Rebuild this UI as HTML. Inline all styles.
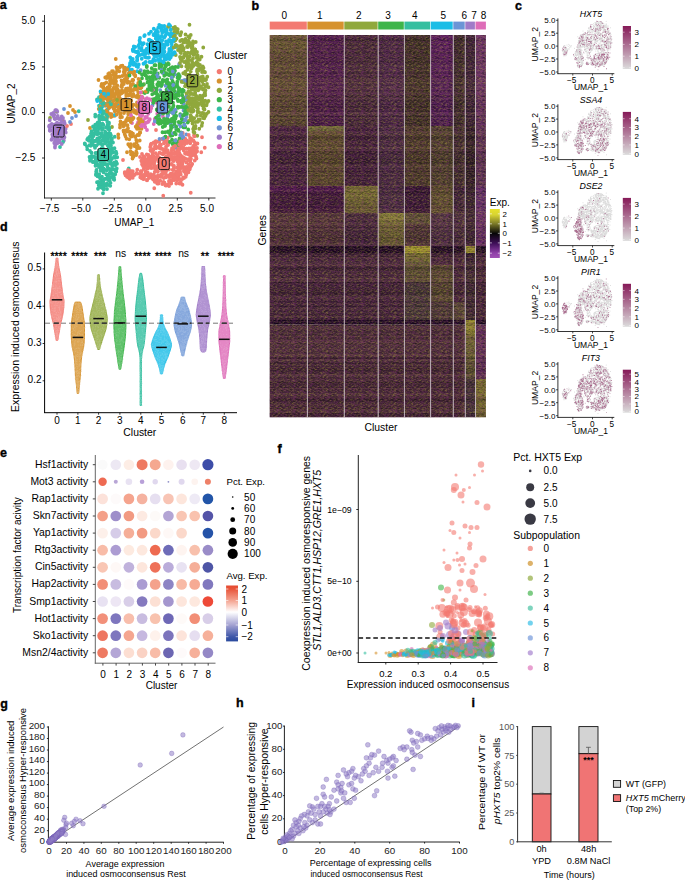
<!DOCTYPE html>
<html><head><meta charset="utf-8"><style>
html,body{margin:0;padding:0;background:#fff;}
svg{display:block;font-family:"Liberation Sans", sans-serif;}
</style></head><body>
<svg width="685" height="880" viewBox="0 0 685 880">
<rect width="685" height="880" fill="#fff"/>
<text x="-0.3" y="9.3" font-size="12.5" font-weight="bold" stroke="#000" stroke-width="0.35">a</text><line x1="44.5" y1="15" x2="44.5" y2="198.4" stroke="#000" stroke-width="0.8"/><line x1="44.1" y1="198" x2="215.5" y2="198" stroke="#000" stroke-width="0.8"/><line x1="42" y1="21.2" x2="44.5" y2="21.2" stroke="#000" stroke-width="0.8"/><text x="35.3" y="24" font-size="10" text-anchor="end">5.0</text><line x1="42" y1="66.9" x2="44.5" y2="66.9" stroke="#000" stroke-width="0.8"/><text x="35.3" y="69.7" font-size="10" text-anchor="end">2.5</text><line x1="42" y1="112.6" x2="44.5" y2="112.6" stroke="#000" stroke-width="0.8"/><text x="35.3" y="115.4" font-size="10" text-anchor="end">0.0</text><line x1="42" y1="158" x2="44.5" y2="158" stroke="#000" stroke-width="0.8"/><text x="35.3" y="160.8" font-size="10" text-anchor="end">−2.5</text><line x1="51.3" y1="198" x2="51.3" y2="200.5" stroke="#000" stroke-width="0.8"/><text x="49.5" y="211.8" font-size="10" text-anchor="middle">−7.5</text><line x1="82.8" y1="198" x2="82.8" y2="200.5" stroke="#000" stroke-width="0.8"/><text x="81" y="211.8" font-size="10" text-anchor="middle">−5.0</text><line x1="114.3" y1="198" x2="114.3" y2="200.5" stroke="#000" stroke-width="0.8"/><text x="112.5" y="211.8" font-size="10" text-anchor="middle">−2.5</text><line x1="145.8" y1="198" x2="145.8" y2="200.5" stroke="#000" stroke-width="0.8"/><text x="144" y="211.8" font-size="10" text-anchor="middle">0.0</text><line x1="177.3" y1="198" x2="177.3" y2="200.5" stroke="#000" stroke-width="0.8"/><text x="175.5" y="211.8" font-size="10" text-anchor="middle">2.5</text><line x1="208.8" y1="198" x2="208.8" y2="200.5" stroke="#000" stroke-width="0.8"/><text x="207" y="211.8" font-size="10" text-anchor="middle">5.0</text><text x="134.2" y="226.3" font-size="10" text-anchor="middle">UMAP_1</text><text x="14.6" y="103.4" font-size="10" text-anchor="middle" transform="rotate(-90 14.6 103.4)">UMAP_2</text><path transform="scale(0.25)" d="M808 549h0m-60 23h0m-10-4h0m-44 7h0m-66-8h0m-6 6h0m-19 9h0m61 9h0m0-4h0m7-9h0m30 11h0m72-5h0m8-4h0m38 11h0m-31 14h0m-4-1h0m-2-9h0m-62 0h0m-10 8h0m0 3h0m-23-5h0m-23 4h0m-62-4h0m-15 17h0m86-2h0m86-7h0m5 0h0m10 6h0m-43 14h0m-1 3h0m-30-2h0m-11-1h0m-22 11h0m-47-2h0m-17-6h0m-43-4h0m14 21h0m3 4h0m4-10h0m5 5h0m9 5h0m21 0h0m17-7h0m13-1h0m18 2h0m4-7h0m10 0h0m45 8h0m11-4h0m24-3h0m11 15h0m-4 7h0m-10-5h0m-2 12h0m-19-2h0m-13-10h0m-52 6h0m-48 8h0m-4-7h0m-26 0h0m-1 2h0m-59 18h0m51 2h0m25-15h0m24 13h0m17-2h0m2 1h0m14 2h0m12-8h0m15 1h0m25 2h0m23-2h0m10-5h0m2 2h0m2-2h0m-32 21h0m-15-2h0m-7 3h0m-9 0h0m-7-1h0m-2 7h0m-2-1h0m-15-1h0m-9-10h0m-23 11h0m-28 2h0m-1-6h0m-71 5h0m42 14h0m68-11h0m3 1h0m10 6h0m43 8h0m20-4h0m-42 11h0m0-3h0m-47-2h0m42 17h0" stroke="#F37A72" stroke-width="15.2" stroke-linecap="round"/><path transform="scale(0.25)" d="M484 264h0m6-1h0m10 8h0m18 11h0m-9-8h0m-40 9h0m-17 2h0m-4 0h0m15 10h0m36-6h0m0 9h0m11 6h0m-46 2h0m-70 14h0m23 15h0m34-5h0m5 6h0m33-6h0m21-4h0m20-5h0m12 30h0m-16-11h0m-113 12h0m1 15h0m34-5h0m23-3h0m17 3h0m23-5h0m10 2h0m0 9h0m26-16h0m1 7h0m5 10h0m-2 12h0m-2 2h0m-24-3h0m-8 0h0m-12 3h0m-39-15h0m-21 16h0m-8-14h0m-20 13h0m23 7h0m34-3h0m5 7h0m91-4h0m-81 13h0m-12-1h0m-39 5h0m-7-6h0m-2 14h0m5 10h0m24 3h0m7-7h0m6 7h0m6 3h0m10-4h0m11 1h0m16-4h0m34-4h0m18-4h0m-64 27h0m-28 1h0m-79-8h0m-123 16h0m159 0h0m16 5h0m115 16h0m-6 5h0m-40-1h0m-35-8h0m-37-1h0m51 23h0m64 9h0m-5-3h0m-5 1h0m-69 1h0m14 23h0m1 2h0m55-12h0m6 3h0m-29 18h0m-28 4h0m7 18h0m12 29h0m11 27h0m1 5h0m15 4h0m-11 7h0m-3 1h0m-1 6h0" stroke="#D6922E" stroke-width="15.2" stroke-linecap="round"/><path transform="scale(0.25)" d="M673 107h0m23 8h0m-5 30h0m43 25h0m19-7h0m6 19h0m-8 6h0m0-4h0m-31 5h0m0-4h0m-3 12h0m58 3h0m5 3h0m11 19h0m-3-14h0m-10 9h0m-2-8h0m-52 3h0m-21 8h0m83 11h0m6 24h0m-35-15h0m-4 2h0m-25 1h0m17 23h0m2-9h0m8 9h0m26-9h0m13 7h0m4 1h0m2-5h0m-50 19h0m8 20h0m48 21h0m-3-11h0m-67 18h0m5-6h0m2 15h0m91 13h0m-20-11h0m-48 3h0m1 12h0m23-1h0m7 4h0m15 2h0m-34 20h0m-17-6h0m22 22h0m7 1h0m8-5h0m3 6h0m-19 16h0m-20 4h0m-31 9h0m23 4h0m20-5h0m35-2h0m7 0h0m18 26h0m-60-4h0m14 19h0m3-13h0m36 5h0m-12 12h0m-21 13h0m-32-9h0m8 23h0m12-6h0m27 4h0m-361 16h0m341 35h0" stroke="#90A83C" stroke-width="15.2" stroke-linecap="round"/><path transform="scale(0.25)" d="M648 255h0m-61 9h0m51 1h0m62 18h0m-62-11h0m-31 1h0m-37 25h0m115-2h0m29 10h0m-77 5h0m-13 4h0m-56-2h0m42 11h0m0 10h0m41-14h0m1 7h0m7-5h0m50 5h0m-30 14h0m-7 10h0m0-8h0m-61 1h0m-11 4h0m-1-8h0m-23-3h0m-15 16h0m41 6h0m18 1h0m4 2h0m2-2h0m73 5h0m36-2h0m-117 8h0m-9 6h0m70 7h0m25 4h0m6 10h0m22 4h0m-117 0h0m61 25h0m35 0h0m17 1h0m18 11h0m-64 8h0m-23-2h0m-32-7h0m6 17h0m10-1h0m27 3h0m51 0h0m-83 19h0m-7 2h0m-3 6h0m42-1h0m3-3h0m20 26h0m20 17h0m40-5h0m-63 23h0m22 34h0m-9-14h0m-30 5h0" stroke="#3DB54A" stroke-width="15.2" stroke-linecap="round"/><path transform="scale(0.25)" d="M431 370h0m-43 28h0m25-9h0m29 11h0m-2 14h0m-41 20h0m-18 25h0m29-3h0m1-4h0m14 24h0m-5 0h0m-6-5h0m-8-1h0m-8 8h0m-17-12h0m17 26h0m26 18h0m-22-1h0m-8-3h0m-28 19h0m24 1h0m6-10h0m40 3h0m1-3h0m-1 17h0m-6 9h0m-5-8h0m-51 5h0m85 8h0m-32 21h0m-7-1h0m-28-2h0m-26 2h0m-11-7h0m-131 0h0m134 21h0m5 2h0m9-4h0m8 12h0m84 16h0m-16-13h0m-16 11h0m-7-1h0m-14-12h0m-20 19h0m58 0h0m5-2h0m15 20h0m-9-3h0m-3 1h0m-15 6h0m-11 8h0m3 2h0m8 11h0m26 1h0m-38 4h0m-12-3h0m-8 3h0m-21-3h0m-3 30h0m17-3h0m30-8h0m22 2h0m60-3h0m-91 41h0m27-4h0m-56 30h0m10-3h0m3 11h0m4 2h0m6-13h0m5 4h0m-31 13h0" stroke="#35BFA0" stroke-width="15.2" stroke-linecap="round"/><path transform="scale(0.25)" d="M639 110h0m8 2h0m-70 32h0m2-3h0m70-10h0m39 8h0m-48 10h0m-4 3h0m-6 7h0m-33 0h0m7 4h0m8 11h0m70-8h0m5 10h0m10-12h0m7 23h0m-134-8h0m-29 9h0m-9 16h0m50 0h0m15-1h0m1-1h0m13 1h0m0 4h0m15-13h0m0 10h0m11-7h0m8 10h0m42-11h0m1 21h0m-17 1h0m-41-5h0m-9 9h0m-39-7h0m-5-2h0m-17 7h0m-12-12h0m65 31h0m27-2h0m16-9h0m8 6h0m19-5h0m-41 15h0m-33 3h0m-26 1h0m-41 9h0m-115 132h0m-38 15h0" stroke="#1BBDE6" stroke-width="15.2" stroke-linecap="round"/><path transform="scale(0.25)" d="M624 301h0m75-4h0m11 6h0m-3 72h0m-97 46h0m57 22h0m21 5h0m2 4h0m8 1h0m23 10h0m-51 3h0m-382 6h0m385 13h0m66 24h0m-2-12h0m-20 0h0m-58 55h0" stroke="#6B95D6" stroke-width="15.2" stroke-linecap="round"/><path transform="scale(0.25)" d="M229 447h0m-1 1h0m20 32h0m-20 11h0m25 17h0m-14 3h0m-5-9h0m-14-4h0m-8 2h0m-1 2h0m-4-6h0m0 11h0m-6-6h0m-1 22h0m25-9h0m35 8h0m2-7h0m-32 16h0m-24 28h0m9-9h0m35 4h0m-13 15h0m-11-4h0" stroke="#A07BC8" stroke-width="15.2" stroke-linecap="round"/><path transform="scale(0.25)" d="M559 400h0m1-4h0m6-2h0m2-6h0m24 29h0m-24 16h0m-4 6h0m-3 25h0m32-9h0m26 21h0m-31-7h0m-27 1h0m-2 2h0m3 11h0m4 10h0m29-9h0m20 12h0" stroke="#DE6DB8" stroke-width="15.2" stroke-linecap="round"/><path transform="scale(0.25)" d="M790 574h0m-29-1h0m-25-13h0m-6 13h0m-8-7h0m-85 0h0m-17 8h0m18 17h0m6-12h0m28 1h0m27 4h0m13-5h0m10 7h0m65 20h0m-6-11h0m-2 7h0m-44 0h0m-25-4h0m-52 2h0m-47-3h0m-43 19h0m26 4h0m29-7h0m29 4h0m2-4h0m5-4h0m2 2h0m36 4h0m3-4h0m6 2h0m4 10h0m31-9h0m11 2h0m15 5h0m5-11h0m12 18h0m0-2h0m-46 7h0m-13-9h0m-1 5h0m-4 0h0m-17 8h0m-25-8h0m-16 2h0m-31-2h0m-1 1h0m0 3h0m-20-4h0m-5-2h0m-3 2h0m-9 0h0m-23 5h0m-78 6h0m108 11h0m16 2h0m29-8h0m14 0h0m33-3h0m18 2h0m0 2h0m51 0h0m18-4h0m-33 26h0m-5 2h0m-20-9h0m-3-2h0m-3 6h0m-2-7h0m-17 6h0m-11-8h0m-51 6h0m-14 2h0m-21 4h0m-8-7h0m-28 24h0m57-10h0m11 10h0m65-12h0m23 11h0m17-2h0m4-6h0m13 9h0m-49 12h0m-15-2h0m-17 7h0m-24-6h0m-87 0h0m-12-2h0m-14 6h0m-27-2h0m-7-5h0m13 17h0m50-2h0m10 7h0m22-9h0m5 3h0m14 10h0m49-10h0m37 7h0m4-3h0m8-8h0m-59 23h0m-13-5h0m-13 3h0m-40-5h0m78 20h0m-49 12h0" stroke="#F37A72" stroke-width="15.2" stroke-linecap="round"/><path transform="scale(0.25)" d="M527 286h0m-58-7h0m-16 20h0m9-4h0m74 2h0m-80 7h0m-11 14h0m-4-5h0m-20-3h0m-14 26h0m18-6h0m85 1h0m20-10h0m36 29h0m-13-11h0m-1 2h0m0 9h0m-29-8h0m-54 0h0m-14 9h0m-15-6h0m-1-3h0m-9 8h0m-25-6h0m62 16h0m37-5h0m7-1h0m17 7h0m42 8h0m-56 10h0m-25-8h0m-11 10h0m-1-10h0m-9 2h0m-17 8h0m-36-9h0m-6 17h0m23 10h0m9-9h0m15 10h0m73-14h0m26 2h0m9 14h0m-55 14h0m-88 1h0m21 7h0m5 1h0m44-9h0m9 6h0m22 4h0m12-7h0m14 7h0m16 6h0m5-16h0m14 21h0m-40 7h0m-35-6h0m-8 0h0m-15 1h0m-23 3h0m-36-1h0m33 22h0m37-11h0m17 5h0m56-1h0m-6 17h0m-10 2h0m-19-3h0m-4 5h0m-3-9h0m-4 3h0m-5 4h0m-70-11h0m56 21h0m59 3h0m2 6h0m-9 9h0m-76 7h0m-120 2h0m145 11h0m3 3h0m51 5h0m-3 9h0m-30 6h0m16 0h0m3 14h0m-22 17h0m4 40h0m6-3h0" stroke="#D6922E" stroke-width="15.2" stroke-linecap="round"/><path transform="scale(0.25)" d="M711 117h0m-1 9h0m11 12h0m1 0h0m20 18h0m-36-2h0m56 20h0m21-6h0m30 22h0m-86-8h0m-24 0h0m37 38h0m19 6h0m57 61h0m-9-9h0m-5-4h0m-9 9h0m-26-11h0m-26 15h0m83 30h0m-9-1h0m-4-10h0m-46 25h0m7-4h0m6-6h0m1 7h0m27-6h0m3 5h0m-5 19h0m-4-1h0m-57-3h0m11 23h0m65 6h0m-77 19h0m8-4h0m8 7h0m32 0h0m2 20h0m-12-8h0m-7 6h0m-3-5h0m-3 6h0m-3 2h0m-12 1h0m-6-14h0m23 28h0m0-13h0m23 19h0m-22 3h0m-1 9h0m-7-14h0m-6 10h0m-532 1h0m595 14h0m-20 20h0m-22-5h0m-4 0h0m-9-8h0m-10 19h0m20 30h0" stroke="#90A83C" stroke-width="15.2" stroke-linecap="round"/><path transform="scale(0.25)" d="M672 253h0m-85 15h0m31-7h0m29-1h0m17 1h0m38 7h0m-29 11h0m-22 8h0m-28-7h0m-44 11h0m25-2h0m111 8h0m1 18h0m-24-9h0m-72 1h0m14 22h0m56-5h0m2 10h0m16 1h0m23-8h0m-38 17h0m-11 7h0m-2 0h0m-37-15h0m-10 7h0m-22 7h0m-52-12h0m67 16h0m59 8h0m32-8h0m-1 28h0m-1-6h0m-10 3h0m-18 0h0m-108-7h0m73 19h0m45 1h0m37 3h0m3 7h0m-25 2h0m-81 5h0m-19-1h0m53 14h0m47 9h0m36 2h0m-11 4h0m-34 9h0m-57-10h0m-15 4h0m2 21h0m109 0h0m-47 11h0m-8 4h0m-28 2h0m-9 10h0m7 3h0m76-6h0m5 17h0m-53 9h0m-5 15h0m1 14h0m-30 15h0m78-3h0m-17 18h0" stroke="#3DB54A" stroke-width="15.2" stroke-linecap="round"/><path transform="scale(0.25)" d="M409 368h0m-11 23h0m22-3h0m-24 35h0m33-3h0m2-2h0m-35 45h0m28-5h0m2 9h0m-35 23h0m45 1h0m-6 17h0m-26-2h0m-3-2h0m-9 5h0m-10-9h0m-1-1h0m-3 12h0m59 7h0m7 25h0m-77-3h0m-3-5h0m-15 23h0m40-4h0m33-7h0m10 7h0m-53 10h0m-12 9h0m-19 13h0m61-8h0m25 26h0m-52 8h0m10 8h0m12-12h0m3 1h0m5 15h0m18-1h0m10 0h0m4 14h0m-20-1h0m-57-8h0m-9 0h0m2 15h0m31-1h0m65 9h0m-7 13h0m-19 3h0m-48-4h0m28 9h0m6 11h0m27-1h0m18 15h0m-13-4h0m-16 6h0m-7-2h0m-11-8h0m-17 8h0m-13 0h0m34 19h0m-8 7h0m-7 5h0m-10 0h0m-5 1h0m10 15h0m9-2h0m9 12h0m-1 4h0" stroke="#35BFA0" stroke-width="15.2" stroke-linecap="round"/><path transform="scale(0.25)" d="M681 104h0m-16 12h0m-69 19h0m18 5h0m7 2h0m2 1h0m5 1h0m46-8h0m35-5h0m-27 15h0m-118 26h0m78 4h0m22-10h0m19-3h0m18 25h0m-14-1h0m-16-9h0m-30 11h0m-40-10h0m-11-2h0m-55 24h0m22-9h0m29 4h0m4-1h0m60 11h0m2-14h0m4 2h0m29 6h0m5 19h0m-1-6h0m-34 4h0m-5 2h0m-12-9h0m-3 3h0m-13 2h0m-3-6h0m-42 6h0m-24-2h0m40 18h0m3-1h0m36 7h0m33 0h0m13-1h0m-42 10h0m-38 2h0m-68-1h0m-5 1h0m-1-5h0m7 14h0m21 11h0m-34 11h0m-102 100h0m-6 13h0m-3 20h0m-4-1h0m69 9h0" stroke="#1BBDE6" stroke-width="15.2" stroke-linecap="round"/><path transform="scale(0.25)" d="M718 258h0m-72 20h0m91 43h0m-75 22h0m17 16h0m13 83h0m-436-6h0m384 24h0m-9 5h0m32 16h0m68 0h0m-48 17h0m62 40h0m-107 18h0m58 9h0m4 25h0" stroke="#6B95D6" stroke-width="15.2" stroke-linecap="round"/><path transform="scale(0.25)" d="M223 441h0m-6 18h0m12 13h0m-11 2h0m26 20h0m12-9h0m-42 24h0m-15 1h0m-1-7h0m-1 4h0m20 15h0m26 21h0m-30-6h0m-3 12h0m39 4h0m5 3h0m0 7h0m-17-2h0m-8 7h0m-9-7h0m0 25h0m0 4h0m1-8h0m0-4h0" stroke="#A07BC8" stroke-width="15.2" stroke-linecap="round"/><path transform="scale(0.25)" d="M556 391h0m6-1h0m19 7h0m43 13h0m-63 4h0m21 7h0m-5 18h0m-25-1h0m16 19h0m1 4h0m60-6h0m23 12h0m-124 25h0m24-2h0m27 4h0m1 13h0m-18-6h0" stroke="#DE6DB8" stroke-width="15.2" stroke-linecap="round"/><path transform="scale(0.25)" d="M755 540h0m-105 17h0m10 2h0m81 0h0m37-14h0m-4 18h0m-15 6h0m0-4h0m-10-2h0m-13 1h0m-28 10h0m-52-1h0m-33-8h0m-3 22h0m1-5h0m16 9h0m3-13h0m30 0h0m44 8h0m13 1h0m61 5h0m-42 3h0m-37 10h0m-16-12h0m-23 14h0m-40 14h0m8-10h0m15 3h0m36 2h0m11 0h0m5-1h0m36-2h0m31 5h0m8 2h0m-17 15h0m-7 3h0m-12-2h0m-12-6h0m-2 4h0m-62 0h0m-4-5h0m-26 4h0m-23-8h0m-15 11h0m-35 7h0m1 2h0m4 0h0m1-1h0m22-2h0m7-1h0m2 6h0m9 8h0m6-9h0m25 7h0m10-11h0m109 1h0m-65 28h0m-4-10h0m-23 8h0m-15-1h0m-70 3h0m-6-7h0m-10-7h0m-2 29h0m61-6h0m31 4h0m35-4h0m12 6h0m7-1h0m4-9h0m1-3h0m19 13h0m16-5h0m7-4h0m-5 12h0m-9 10h0m-2-7h0m0 4h0m-30 7h0m-21 1h0m-40-8h0m-8 3h0m-25-11h0m-7 12h0m-21-9h0m-8 10h0m-15-1h0m-40-12h0m-29 1h0m20 26h0m8-7h0m116-1h0m33 1h0m16 7h0m1-8h0m50 0h0m-20 21h0m-5 6h0m-33 0h0m-2-12h0m-3 8h0m-46 4h0m-5-8h0m32 14h0m69-1h0" stroke="#F37A72" stroke-width="15.2" stroke-linecap="round"/><path transform="scale(0.25)" d="M477 285h0m-19 10h0m39-2h0m17 2h0m27 6h0m13 15h0m-45-3h0m-5-7h0m-26 1h0m-9 1h0m-30-2h0m-6 0h0m11 25h0m15-2h0m5-3h0m22-4h0m22 2h0m24 12h0m1-16h0m24 10h0m2-6h0m3 9h0m-16 11h0m-24 5h0m-35-9h0m-2 6h0m-47-9h0m-1 10h0m0 13h0m14 4h0m37 4h0m11-4h0m11-1h0m31-11h0m-5 31h0m-23-1h0m-42-4h0m-15 4h0m-4-3h0m-11 3h0m-14-2h0m-1-8h0m-10-2h0m-13 2h0m1 24h0m10-4h0m88 5h0m46 13h0m-32-7h0m-48-3h0m-14 4h0m-2 10h0m-3-2h0m-3 2h0m-33-4h0m-3-1h0m-130 15h0m141-1h0m39-3h0m115 28h0m-102-1h0m-43-2h0m21 18h0m32-9h0m56-4h0m8 4h0m13 17h0m-50 1h0m-22-4h0m-60 3h0m54 15h0m64 19h0m-36-4h0m8 26h0m30-12h0m18 0h0m-16 25h0m-24 1h0m-1-11h0m-52 8h0m1 13h0m28-6h0m11 32h0m23 4h0m15 11h0m0-9h0m7 9h0m-36 13h0m2 12h0" stroke="#D6922E" stroke-width="15.2" stroke-linecap="round"/><path transform="scale(0.25)" d="M694 111h0m6-3h0m58-9h0m-61 29h0m-14-9h0m38 22h0m37 10h0m-59 11h0m22 2h0m15-1h0m20 5h0m16-2h0m-69 15h0m78 17h0m-6 20h0m-13-6h0m-24 6h0m-17-10h0m13 23h0m19-6h0m39 4h0m1 10h0m-7 10h0m-3 4h0m-14-4h0m-43 16h0m88 7h0m-25 6h0m-48 16h0m49 4h0m39 9h0m-74-1h0m-3 8h0m-13 13h0m87 17h0m-4 3h0m-20 1h0m-25 12h0m4-7h0m31 3h0m0 26h0m-31-11h0m-21 2h0m-14 12h0m2 7h0m21 1h0m18-5h0m9 11h0m7-3h0m31 8h0m-4 3h0m-2 6h0m-16-3h0m-3-9h0m-3 7h0m-40-4h0m-6 7h0m14 11h0m7 2h0m45-3h0m-8 17h0m-28 6h0m-38-3h0m65 32h0m-5-1h0m-48 3h0m-1 3h0m-411 2h0m455 23h0m-34 14h0m8-3h0m16 1h0" stroke="#90A83C" stroke-width="15.2" stroke-linecap="round"/><path transform="scale(0.25)" d="M658 253h0m-13 13h0m18-1h0m12-8h0m14 29h0m-31-11h0m-2 12h0m-66-2h0m-12 0h0m4 16h0m34-3h0m10-2h0m5-2h0m33 4h0m1-5h0m29-1h0m2-4h0m17 10h0m-3 13h0m-24 2h0m-77-5h0m-11 1h0m-1 16h0m10 10h0m1-10h0m1 9h0m38-5h0m23 0h0m20 6h0m3-3h0m15 9h0m-60-3h0m-19 0h0m-12 16h0m7 5h0m89 9h0m14 0h0m-34 10h0m-6-3h0m-3 4h0m-33-8h0m-25 1h0m-17 26h0m8-2h0m75-6h0m-14 15h0m-2 4h0m-33-7h0m14 24h0m35 3h0m-8 9h0m-46 9h0m59 16h0m0-8h0m-41 21h0m-26 13h0m24-3h0m7 5h0m6-7h0m74 25h0m-4-1h0m-47-3h0m-31-2h0m13 23h0m31 11h0m-20 6h0m-8-13h0m-14-1h0m-11 0h0m12 18h0m26 12h0m39 2h0m-17 6h0m-15 9h0m-5 0h0" stroke="#3DB54A" stroke-width="15.2" stroke-linecap="round"/><path transform="scale(0.25)" d="M396 389h0m7 56h0m28 19h0m-23 13h0m-1-10h0m-16 28h0m5-5h0m-24 16h0m6 10h0m30 4h0m24-6h0m9 27h0m-66-7h0m23 17h0m16-2h0m2 11h0m13-6h0m19 14h0m-13 0h0m-23-8h0m-8 12h0m-35 0h0m-29 5h0m68 2h0m40 24h0m-6-4h0m-14 4h0m-68 1h0m6 7h0m23 2h0m72 18h0m-1-5h0m-30 10h0m-9-12h0m-21 7h0m-18 4h0m-18 3h0m-3-1h0m15 10h0m7 8h0m19-8h0m16-6h0m24 4h0m23 4h0m-4 11h0m-65 8h0m-12-9h0m1 28h0m1-7h0m17 0h0m14-2h0m10 3h0m36 3h0m4-10h0m-27 18h0m-1 1h0m-38 22h0m7-8h0m46 9h0m-53 32h0m4-10h0m8 16h0m-2-2h0" stroke="#35BFA0" stroke-width="15.2" stroke-linecap="round"/><path transform="scale(0.25)" d="M633 111h0m15-1h0m-1 8h0m-15 10h0m-17-13h0m1 22h0m81 2h0m-36 5h0m-101 8h0m69 11h0m19 0h0m1-2h0m33 5h0m-36 12h0m-92 5h0m-12 24h0m24-15h0m31 8h0m32 1h0m21-4h0m48 12h0m-51 4h0m-1 1h0m-7 3h0m-9-2h0m-14 5h0m-46-2h0m-39 18h0m17-6h0m1 9h0m31-11h0m79-3h0m2-1h0m-83 29h0m-65 19h0m28-14h0m5 7h0m3 20h0m-147 81h0m2 19h0m5 42h0m15-8h0m8 16h0m28 25h0" stroke="#1BBDE6" stroke-width="15.2" stroke-linecap="round"/><path transform="scale(0.25)" d="M717 256h0m-154 25h0m68 25h0m97 18h0m-32 28h0m37 40h0m11 7h0m-9 16h0m-62 45h0m54 1h0m19 7h0m-12 10h0m-7-7h0m-423-7h0m418 42h0m-33-3h0m-6-6h0m9 36h0m31 22h0" stroke="#6B95D6" stroke-width="15.2" stroke-linecap="round"/><path transform="scale(0.25)" d="M227 442h0m-14 10h0m23 23h0m-16 1h0m-7-12h0m25 30h0m17-7h0m-16 24h0m-15-9h0m-27 2h0m2 17h0m10 1h0m53-6h0m-43 18h0m-4 3h0m-6 1h0m21 16h0m25 8h0m-21 0h0" stroke="#A07BC8" stroke-width="15.2" stroke-linecap="round"/><path transform="scale(0.25)" d="M614 362h0m-26 31h0m20 9h0m-3 31h0m-25 13h0m-11 2h0m-5 8h0m35 21h0m-18-5h0m-11 19h0m1-4h0m3-5h0m-8 23h0m22 15h0" stroke="#DE6DB8" stroke-width="15.2" stroke-linecap="round"/><path transform="scale(0.25)" d="M284 496h0m387 55h0m68 8h0m2-4h0m38 15h0m-46 0h0m-64-4h0m-64 9h0m-2 3h0m37 6h0m54 4h0m44-11h0m36 22h0m-1-1h0m-4 6h0m-3-11h0m-8 9h0m-23-10h0m-40 7h0m-7-6h0m-33 8h0m-5-5h0m-6-1h0m-20-2h0m-11 8h0m-10 2h0m7 19h0m44-7h0m28-3h0m33 7h0m3-5h0m3 6h0m36-1h0m12 2h0m13-9h0m-27 25h0m-25 1h0m-9-4h0m-55-8h0m-30 4h0m-42 6h0m-8 4h0m-8-11h0m-4-4h0m0 13h0m13 17h0m7-10h0m16 9h0m34-12h0m17 3h0m34-1h0m27-3h0m1 3h0m7 10h0m16-4h0m15 18h0m-86-7h0m-28 5h0m-18 3h0m-26-10h0m-2 12h0m-86 14h0m7-1h0m53-8h0m15-1h0m63 2h0m9 1h0m64-6h0m10 1h0m6 8h0m-19 17h0m-13-4h0m-146 6h0m-42 0h0m-5-7h0m-9-5h0m14 20h0m39 1h0m15 0h0m35 7h0m11-9h0m9 4h0m50-5h0m26 1h0m22 9h0m4-6h0m3 2h0m-31 22h0m-22-4h0m-25 1h0m-70-11h0m61 16h0m14 6h0m-10 41h0m110-12h0" stroke="#F37A72" stroke-width="15.2" stroke-linecap="round"/><path transform="scale(0.25)" d="M463 236h0m42 43h0m-9-5h0m-63 22h0m4-3h0m4 6h0m21-7h0m79 13h0m-42 12h0m-37 0h0m-5-7h0m-15-1h0m-2 4h0m-13-1h0m13 11h0m1 4h0m1 5h0m7-3h0m4-7h0m9 1h0m0 12h0m33-4h0m22-2h0m36 3h0m20 7h0m-107 11h0m-53-3h0m-3-6h0m17 20h0m5 5h0m24-11h0m24 10h0m33-8h0m21 3h0m3-3h0m24-5h0m-28 24h0m-14 4h0m-13-6h0m-2-1h0m0-2h0m-24 5h0m-21 2h0m-7-6h0m-9-3h0m-5 8h0m-18 0h0m-16 14h0m42-7h0m24 13h0m14 1h0m67-8h0m14 11h0m-47 2h0m-7 2h0m-34-2h0m-11 9h0m-48 3h0m-16 11h0m31-2h0m6 5h0m70-10h0m11 11h0m10-6h0m18-3h0m1-3h0m-14 22h0m-1 2h0m-62 1h0m-13 2h0m-4-10h0m-19-3h0m-10 13h0m-134-5h0m189 17h0m32-7h0m11-1h0m-10 31h0m-27 13h0m1 1h0m17-14h0m38 27h0m-48-3h0m66 26h0m-40 11h0m-4 16h0m42 5h0m-36 27h0m14-12h0m1 7h0m10 9h0m-3 13h0" stroke="#D6922E" stroke-width="15.2" stroke-linecap="round"/><path transform="scale(0.25)" d="M705 116h0m-5 26h0m42-4h0m21 2h0m-61 20h0m-4-15h0m-4 2h0m49 19h0m2 4h0m12 4h0m15 0h0m-2 13h0m-4 3h0m-18-3h0m-22-5h0m-14 18h0m19 0h0m37 2h0m5 2h0m1 15h0m-28 3h0m-6-11h0m-20 17h0m3 9h0m27-7h0m56-3h0m-39 14h0m-13 14h0m-3-6h0m-5-5h0m-2 4h0m-7 0h0m25 21h0m11-5h0m14-5h0m6 21h0m-5 5h0m-24-10h0m-1 11h0m-12 14h0m69-11h0m-15 28h0m18 3h0m-29 23h0m-12-2h0m-3 5h0m-13-5h0m-1 6h0m-12 2h0m13 10h0m18-1h0m3 0h0m35 3h0m-1 20h0m-1-7h0m-20 9h0m-16-1h0m-22-6h0m-16-2h0m0 14h0m4-3h0m13 14h0m45-7h0m-23 16h0m-8 1h0m-20-3h0m-8 7h0m20 7h0m16-3h0m31 17h0m-52 11h0m-2 16h0m41 1h0m10-9h0m-18 26h0m-32-7h0m-563 0h0m563 9h0m7 0h0m27 1h0m-15 22h0m-6 3h0m-2 21h0" stroke="#90A83C" stroke-width="15.2" stroke-linecap="round"/><path transform="scale(0.25)" d="M638 257h0m52 12h0m-74 11h0m-48 18h0m15 3h0m33-10h0m58 7h0m-5 20h0m-57 1h0m-22 11h0m3-3h0m1 0h0m9-7h0m64 12h0m44 16h0m-66-4h0m-73-5h0m-11-1h0m-20 7h0m49 23h0m18-8h0m58-1h0m16-3h0m13-1h0m23 4h0m12 0h0m-1 22h0m-83 1h0m-16-3h0m-15 21h0m18-15h0m51 3h0m49 7h0m1 3h0m-1 7h0m-7 5h0m-2-5h0m-3-1h0m-97-3h0m70 22h0m50 2h0m-115 16h0m103 21h0m5-4h0m-32 6h0m-11 10h0m-3 2h0m-20 3h0m-47-8h0m12 24h0m34-3h0m8-6h0m1-3h0m20 4h0m16 1h0m36 2h0m-17 19h0m-36-12h0m-13 9h0m-25-3h0m16 24h0m7-8h0m22-1h0m8 1h0m5 35h0m-2 12h0m-15 6h0m-3 0h0m-18-4h0m33 11h0" stroke="#3DB54A" stroke-width="15.2" stroke-linecap="round"/><path transform="scale(0.25)" d="M414 445h0m-9-12h0m-3 42h0m-1-9h0m-4-1h0m32 22h0m8 24h0m-2-14h0m-4 1h0m-17 2h0m-27-3h0m-6 25h0m61 15h0m-19-2h0m-5 8h0m-28-6h0m-13-2h0m-3 9h0m-22 9h0m62 3h0m27-9h0m3 11h0m4-3h0m4 15h0m-13 6h0m-42-14h0m-13 1h0m-27 0h0m-18 11h0m-99 14h0m138-5h0m53-1h0m27 11h0m-19 7h0m-21 7h0m-7-9h0m-5-4h0m1 22h0m26-7h0m3 8h0m5 0h0m4-8h0m12 18h0m-9 8h0m-36-11h0m-3 3h0m-24 4h0m-8-5h0m-2 1h0m-8-3h0m-3 6h0m-4 0h0m11 18h0m33 6h0m5-5h0m33 3h0m-13 8h0m-19 12h0m-2-11h0m6 13h0m25 2h0m9 0h0m4 26h0m-12-11h0m-56 9h0m6 5h0m10 5h0m5 0h0m29 7h0m-6 17h0m-15-10h0m-15 15h0m14 7h0m20-6h0m-4 16h0" stroke="#35BFA0" stroke-width="15.2" stroke-linecap="round"/><path transform="scale(0.25)" d="M683 119h0m-16 2h0m-6 3h0m-3-1h0m-2 1h0m-30-3h0m-2 6h0m8 14h0m32-5h0m22-1h0m10 22h0m-62-7h0m-39 10h0m-37 15h0m8 0h0m43-1h0m1-7h0m29 7h0m29-7h0m-10 21h0m-60 0h0m-63-2h0m-4 13h0m35 3h0m10 2h0m100 9h0m-26-2h0m-4 1h0m-11 10h0m-41-10h0m-73 18h0m29-3h0m0 1h0m35 2h0m96-5h0m-27 24h0m0-4h0m-33-2h0m-12 5h0m-74 2h0m-16 13h0m36-5h0m-27 21h0m-101 109h0" stroke="#1BBDE6" stroke-width="15.2" stroke-linecap="round"/><path transform="scale(0.25)" d="M626 296h0m25-4h0m-10 69h0m33-3h0m73 29h0m-13 55h0m-134 4h0m-320 42h0m339-3h0m119 16h0m-35 7h0m26 25h0m4 15h0m-31 14h0" stroke="#6B95D6" stroke-width="15.2" stroke-linecap="round"/><path transform="scale(0.25)" d="M205 456h0m26 8h0m5 11h0m-37 6h0m49 6h0m-9 11h0m-6 9h0m-4 12h0m0-3h0m25 27h0m-6-11h0m-16 6h0m-5-8h0m-11 2h0m13 41h0m-12-1h0" stroke="#A07BC8" stroke-width="15.2" stroke-linecap="round"/><path transform="scale(0.25)" d="M563 370h0m2 29h0m-11 11h0m13 20h0m25-13h0m13 11h0m-17 15h0m-10 4h0m-54 14h0m40 3h0m21 27h0" stroke="#DE6DB8" stroke-width="15.2" stroke-linecap="round"/><path transform="scale(0.25)" d="M268 504h0m356 16h0m152 21h0m-45-9h0m29 20h0m5 4h0m2 0h0m4 6h0m-26 1h0m-15 5h0m-1 0h0m-8-2h0m-64 3h0m-34-1h0m-8 2h0m-14 18h0m20 0h0m7 0h0m12-5h0m60 1h0m17-6h0m52 17h0m-13-1h0m-27-1h0m-13 10h0m-45-1h0m-61 10h0m36 2h0m36 6h0m12-7h0m17 1h0m33 0h0m3-5h0m2 6h0m12 6h0m12-12h0m1 2h0m31-2h0m-19 25h0m-23 2h0m-42 1h0m-9-4h0m-31-8h0m0 12h0m-36 3h0m-27-2h0m0-8h0m-19 19h0m0 1h0m7-8h0m119-1h0m2 25h0m-18 4h0m-62-7h0m-53-3h0m-13 10h0m-9-6h0m-60 16h0m37-1h0m114 3h0m50-2h0m7 7h0m23-3h0m9-3h0m6-6h0m-40 21h0m-10 1h0m-92 5h0m-24-3h0m-4 2h0m-3-11h0m-7 9h0m-33-6h0m-6 6h0m-5 1h0m-7-12h0m-17 8h0m-4 4h0m-4 1h0m-3-8h0m9 14h0m10 3h0m13 1h0m36 2h0m0-8h0m6 4h0m1 3h0m22 0h0m19 2h0m66-7h0m14 1h0m8 7h0m6 7h0m-19-1h0m-61 13h0m0-3h0m-6-9h0m-4 5h0m57 17h0" stroke="#F37A72" stroke-width="15.2" stroke-linecap="round"/><path transform="scale(0.25)" d="M466 269h0m13 1h0m58 17h0m-28-10h0m-14 10h0m28 3h0m10 1h0m-44 13h0m-62 4h0m17 17h0m4 4h0m52-7h0m3 1h0m16 7h0m41 17h0m-65-11h0m-7 12h0m-74 17h0m9-9h0m20 5h0m1-1h0m25-4h0m72 1h0m42 9h0m-97 6h0m-53-4h0m0 2h0m-25 11h0m-4 5h0m13 9h0m13 2h0m4-10h0m9 8h0m3-6h0m14 0h0m84-2h0m17-1h0m10 27h0m-46-11h0m-33 8h0m-14-2h0m-70-2h0m3 11h0m19 4h0m1-1h0m19-1h0m4 12h0m20-3h0m9-7h0m21 0h0m25 4h0m32 22h0m-6-10h0m-7 11h0m-44-10h0m-48-5h0m-156 15h0m140 8h0m27 2h0m93 21h0m-312-3h0m275 12h0m33 4h0m14-6h0m-70 10h0m-4 6h0m-4 2h0m3 23h0m7-5h0m10-9h0m20 22h0m-2 6h0m-9-4h0m19 10h0m7 23h0m-39 39h0m19 8h0m20-4h0" stroke="#D6922E" stroke-width="15.2" stroke-linecap="round"/><path transform="scale(0.25)" d="M673 105h0m32 11h0m4 13h0m16 0h0m28 17h0m-23 14h0m-3 0h0m42 28h0m-38 0h0m-22-4h0m-4-3h0m-10 9h0m32 4h0m0-1h0m6 7h0m2-6h0m45 4h0m-10 11h0m-3 2h0m-2 0h0m-14 0h0m-21 19h0m3-1h0m21-1h0m18 6h0m27 4h0m-52 17h0m-27-3h0m35 5h0m6 10h0m4-5h0m9-3h0m37 7h0m-2 10h0m-1 12h0m-75 5h0m11 5h0m75 22h0m-24-9h0m-69 16h0m68-4h0m1 11h0m33 2h0m-26 13h0m-6 1h0m-5-4h0m-18 0h0m-3-7h0m-5 3h0m-25 3h0m38 12h0m15 4h0m-22 15h0m-19 13h0m3-1h0m21 6h0m13-5h0m21 0h0m11 14h0m-6 6h0m-24 6h0m-27-13h0m-9 7h0m-287-9h0m305 21h0m12 7h0m8-7h0m5-5h0m16 19h0m-40 6h0m-2 1h0m24 7h0m13 3h0m13 12h0m-28 16h0m-24-7h0m-2 7h0m23 7h0m-13 44h0" stroke="#90A83C" stroke-width="15.2" stroke-linecap="round"/><path transform="scale(0.25)" d="M622 261h0m39 5h0m51 2h0m-18 5h0m-12 0h0m-1 15h0m-35-1h0m-128 15h0m40-12h0m35 0h0m18 14h0m8-14h0m38 13h0m19-3h0m5 0h0m38 5h0m-7 6h0m-124 4h0m0-6h0m-27 19h0m116 5h0m22 14h0m-20 5h0m-82-8h0m-35-4h0m29 17h0m10-2h0m25 4h0m89-2h0m17 10h0m-27 14h0m-39-13h0m-22 2h0m-9 14h0m-10-9h0m-5-4h0m1 29h0m4-8h0m1-1h0m11 7h0m55 13h0m-78 0h0m53 15h0m52 2h0m17 2h0m4 1h0m0 15h0m-82 2h0m-25 15h0m20-9h0m18-3h0m77 4h0m-21 22h0m-25-3h0m-36 3h0m-33 5h0m11 11h0m1-9h0m23-3h0m6 3h0m13 2h0m8-1h0m28 6h0m-18 16h0m-20-3h0m-34 4h0m73 22h0m-25 1h0m-38 17h0" stroke="#3DB54A" stroke-width="15.2" stroke-linecap="round"/><path transform="scale(0.25)" d="M415 413h0m-5 3h0m-8-15h0m42 16h0m-129 28h0m100 5h0m12 27h0m-12-1h0m-3 1h0m-15-6h0m13 24h0m17 14h0m-49 10h0m1 1h0m6-6h0m27 1h0m9 12h0m20 8h0m-18 4h0m-15-4h0m-10-2h0m-13-5h0m-1 7h0m-25 12h0m10 4h0m36-6h0m12 11h0m5 1h0m8-9h0m-10 26h0m-9-14h0m-17 15h0m-6-12h0m-15 1h0m-4-1h0m-2-2h0m-11 0h0m-104 7h0m134 14h0m49 8h0m9-8h0m-15 23h0m-80-8h0m50 24h0m67-7h0m-23 19h0m-17 3h0m-48 11h0m5 3h0m28-7h0m12 13h0m24-1h0m17-7h0m-5 10h0m-53 7h0m-1-6h0m-9 4h0m8 10h0m61 13h0m-35 23h0m8-1h0m5 0h0m13 3h0m1 8h0m-15 13h0m-3-9h0m-6-3h0m-6 16h0m-14-9h0m-7 23h0m6-1h0m29-6h0m-29 30h0" stroke="#35BFA0" stroke-width="15.2" stroke-linecap="round"/><path transform="scale(0.25)" d="M637 100h0m10 4h0m10 0h0m19-6h0m-16 20h0m-14 3h0m-42 6h0m18 3h0m25 14h0m21-12h0m16 2h0m-8 26h0m-19-10h0m-34 4h0m-65 8h0m17 11h0m31-3h0m35 2h0m2-1h0m1-10h0m25 12h0m18-7h0m4-4h0m-25 16h0m-11 1h0m-32 13h0m-8-7h0m-21 5h0m-61 7h0m16 10h0m3-1h0m101 0h0m5 1h0m19-2h0m0-9h0m22 16h0m-21 6h0m-33-6h0m-36-1h0m-42 24h0m48 1h0m5-10h0m6-1h0m17 2h0m16 11h0m14-8h0m4-4h0m-73 23h0m-30 6h0m-26-12h0m-28 10h0m15 6h0m-102 117h0m-17-1h0m-16 73h0" stroke="#1BBDE6" stroke-width="15.2" stroke-linecap="round"/><path transform="scale(0.25)" d="M691 286h0m-4 24h0m57 13h0m-51 17h0m-9 65h0m17 34h0m-48 5h0m41 7h0m48 30h0m-15 51h0m-6 9h0m-68 13h0m77-8h0" stroke="#6B95D6" stroke-width="15.2" stroke-linecap="round"/><path transform="scale(0.25)" d="M221 442h0m31 30h0m-5-6h0m-2 13h0m-1-7h0m-19 1h0m34 21h0m0 1h0m-5 17h0m-12-5h0m-20 6h0m23 14h0m18 3h0m-32 28h0m27-9h0m-11 27h0m-11-8h0m-15 0h0" stroke="#A07BC8" stroke-width="15.2" stroke-linecap="round"/><path transform="scale(0.25)" d="M567 388h0m31 9h0m-20 19h0m-3-6h0m-6 8h0m14 0h0m19 26h0m-7-4h0m-8-3h0m-30 3h0m2 17h0m33-8h0m-10 19h0m10 20h0m-11 21h0m-12-10h0" stroke="#DE6DB8" stroke-width="15.2" stroke-linecap="round"/><rect x="158.7" y="157.6" width="10.6" height="12" rx="1.5" fill="#F37A72" stroke="#111" stroke-width="0.9"/><text x="164" y="167.1" font-size="10" text-anchor="middle">0</text><rect x="121.1" y="98.7" width="10.6" height="12" rx="1.5" fill="#D6922E" stroke="#111" stroke-width="0.9"/><text x="126.4" y="108.2" font-size="10" text-anchor="middle">1</text><rect x="187.1" y="74.8" width="10.6" height="12" rx="1.5" fill="#90A83C" stroke="#111" stroke-width="0.9"/><text x="192.4" y="84.3" font-size="10" text-anchor="middle">2</text><rect x="161.7" y="91.9" width="10.6" height="12" rx="1.5" fill="#3DB54A" stroke="#111" stroke-width="0.9"/><text x="167" y="101.4" font-size="10" text-anchor="middle">3</text><rect x="97.9" y="148.5" width="10.6" height="12" rx="1.5" fill="#35BFA0" stroke="#111" stroke-width="0.9"/><text x="103.2" y="158" font-size="10" text-anchor="middle">4</text><rect x="149.5" y="41.8" width="10.6" height="12" rx="1.5" fill="#1BBDE6" stroke="#111" stroke-width="0.9"/><text x="154.8" y="51.3" font-size="10" text-anchor="middle">5</text><rect x="157.1" y="101" width="10.6" height="12" rx="1.5" fill="#6B95D6" stroke="#111" stroke-width="0.9"/><text x="162.4" y="110.5" font-size="10" text-anchor="middle">6</text><rect x="53.5" y="125" width="10.6" height="12" rx="1.5" fill="#A07BC8" stroke="#111" stroke-width="0.9"/><text x="58.8" y="134.5" font-size="10" text-anchor="middle">7</text><rect x="138.9" y="101.4" width="10.6" height="12" rx="1.5" fill="#DE6DB8" stroke="#111" stroke-width="0.9"/><text x="144.2" y="110.9" font-size="10" text-anchor="middle">8</text><text x="214.3" y="59.3" font-size="10.4">Cluster</text><circle cx="219.3" cy="71.6" r="2.6" fill="#F37A72"/><text x="227.5" y="75" font-size="10">0</text><circle cx="219.3" cy="81" r="2.6" fill="#D6922E"/><text x="227.5" y="84.4" font-size="10">1</text><circle cx="219.3" cy="90.3" r="2.6" fill="#90A83C"/><text x="227.5" y="93.7" font-size="10">2</text><circle cx="219.3" cy="99.7" r="2.6" fill="#3DB54A"/><text x="227.5" y="103.1" font-size="10">3</text><circle cx="219.3" cy="109.1" r="2.6" fill="#35BFA0"/><text x="227.5" y="112.5" font-size="10">4</text><circle cx="219.3" cy="118.4" r="2.6" fill="#1BBDE6"/><text x="227.5" y="121.8" font-size="10">5</text><circle cx="219.3" cy="127.8" r="2.6" fill="#6B95D6"/><text x="227.5" y="131.2" font-size="10">6</text><circle cx="219.3" cy="137.2" r="2.6" fill="#A07BC8"/><text x="227.5" y="140.6" font-size="10">7</text><circle cx="219.3" cy="146.6" r="2.6" fill="#DE6DB8"/><text x="227.5" y="150" font-size="10">8</text><text x="251.6" y="9.5" font-size="12.5" font-weight="bold" stroke="#000" stroke-width="0.35">b</text><rect x="269.7" y="21.6" width="37.1" height="7.9" fill="#F37A72"/><text x="284.3" y="18.6" font-size="10" text-anchor="middle">0</text><rect x="307.4" y="21.6" width="36.3" height="7.9" fill="#D6922E"/><text x="319.8" y="18.6" font-size="10" text-anchor="middle">1</text><rect x="344.3" y="21.6" width="33.3" height="7.9" fill="#90A83C"/><text x="358.7" y="18.6" font-size="10" text-anchor="middle">2</text><rect x="378.2" y="21.6" width="25.6" height="7.9" fill="#3DB54A"/><text x="388.1" y="18.6" font-size="10" text-anchor="middle">3</text><rect x="404.4" y="21.6" width="25.7" height="7.9" fill="#35BFA0"/><text x="414.9" y="18.6" font-size="10" text-anchor="middle">4</text><rect x="430.7" y="21.6" width="22" height="7.9" fill="#1BBDE6"/><text x="443.3" y="18.6" font-size="10" text-anchor="middle">5</text><rect x="453.3" y="21.6" width="11.4" height="7.9" fill="#6B95D6"/><text x="464.3" y="18.6" font-size="10" text-anchor="middle">6</text><rect x="465.3" y="21.6" width="9.6" height="7.9" fill="#A07BC8"/><text x="474" y="18.6" font-size="10" text-anchor="middle">7</text><rect x="475.5" y="21.6" width="10.4" height="7.9" fill="#DE6DB8"/><text x="483.6" y="18.6" font-size="10" text-anchor="middle">8</text><linearGradient id="hg1" x1="0" y1="0" x2="0" y2="1"><stop offset="0" stop-color="#6a5c36"/><stop offset="1" stop-color="#5e4c34"/></linearGradient><rect x="269.7" y="35" width="37.7" height="25" fill="url(#hg1)"/><linearGradient id="hg2" x1="0" y1="0" x2="0" y2="1"><stop offset="0" stop-color="#5e4c34"/><stop offset="1" stop-color="#564432"/></linearGradient><rect x="269.7" y="60" width="37.7" height="66" fill="url(#hg2)"/><rect x="269.7" y="126" width="37.7" height="60" fill="#44223e"/><rect x="269.7" y="186" width="37.7" height="7" fill="#4c1a4c"/><rect x="269.7" y="193" width="37.7" height="20" fill="#3a1638"/><rect x="269.7" y="213" width="37.7" height="33" fill="#4c3038"/><rect x="269.7" y="245.8" width="37.7" height="8" fill="#1c0a22"/><rect x="269.7" y="253" width="37.7" height="67" fill="#44263a"/><rect x="269.7" y="320" width="37.7" height="4.5" fill="#1c0a22"/><linearGradient id="hg3" x1="0" y1="0" x2="0" y2="1"><stop offset="0" stop-color="#482a3a"/><stop offset="1" stop-color="#442636"/></linearGradient><rect x="269.7" y="324.5" width="37.7" height="92.8" fill="url(#hg3)"/><linearGradient id="hg4" x1="0" y1="0" x2="0" y2="1"><stop offset="0" stop-color="#4e1e4e"/><stop offset="1" stop-color="#4a1e48"/></linearGradient><rect x="307.4" y="35" width="36.9" height="91" fill="url(#hg4)"/><rect x="307.4" y="126" width="36.9" height="5" fill="#6e6a38"/><linearGradient id="hg5" x1="0" y1="0" x2="0" y2="1"><stop offset="0" stop-color="#5c4c30"/><stop offset="1" stop-color="#56462e"/></linearGradient><rect x="307.4" y="131" width="36.9" height="55" fill="url(#hg5)"/><rect x="307.4" y="186" width="36.9" height="7" fill="#4c1a4c"/><rect x="307.4" y="193" width="36.9" height="20" fill="#3a1638"/><rect x="307.4" y="213" width="36.9" height="33" fill="#4c3038"/><rect x="307.4" y="245.8" width="36.9" height="8" fill="#1c0a22"/><rect x="307.4" y="253" width="36.9" height="67" fill="#44263a"/><rect x="307.4" y="320" width="36.9" height="4.5" fill="#1c0a22"/><linearGradient id="hg6" x1="0" y1="0" x2="0" y2="1"><stop offset="0" stop-color="#482a3a"/><stop offset="1" stop-color="#442636"/></linearGradient><rect x="307.4" y="324.5" width="36.9" height="92.8" fill="url(#hg6)"/><rect x="344.3" y="35" width="33.9" height="91" fill="#47293c"/><rect x="344.3" y="126" width="33.9" height="60" fill="#40203a"/><rect x="344.3" y="186" width="33.9" height="10" fill="#7a7236"/><linearGradient id="hg7" x1="0" y1="0" x2="0" y2="1"><stop offset="0" stop-color="#6c6432"/><stop offset="1" stop-color="#625830"/></linearGradient><rect x="344.3" y="196" width="33.9" height="17" fill="url(#hg7)"/><rect x="344.3" y="213" width="33.9" height="33" fill="#40243a"/><rect x="344.3" y="245.8" width="33.9" height="8" fill="#1c0a22"/><rect x="344.3" y="253" width="33.9" height="67" fill="#44263a"/><rect x="344.3" y="320" width="33.9" height="4.5" fill="#1c0a22"/><linearGradient id="hg8" x1="0" y1="0" x2="0" y2="1"><stop offset="0" stop-color="#482a3a"/><stop offset="1" stop-color="#442636"/></linearGradient><rect x="344.3" y="324.5" width="33.9" height="92.8" fill="url(#hg8)"/><rect x="378.2" y="35" width="26.2" height="91" fill="#4a2846"/><rect x="378.2" y="126" width="26.2" height="60" fill="#472a42"/><rect x="378.2" y="186" width="26.2" height="27" fill="#462a42"/><rect x="378.2" y="213" width="26.2" height="7" fill="#807a38"/><linearGradient id="hg9" x1="0" y1="0" x2="0" y2="1"><stop offset="0" stop-color="#706834"/><stop offset="1" stop-color="#625832"/></linearGradient><rect x="378.2" y="220" width="26.2" height="26" fill="url(#hg9)"/><rect x="378.2" y="245.8" width="26.2" height="8" fill="#1c0a22"/><rect x="378.2" y="253" width="26.2" height="67" fill="#44263a"/><rect x="378.2" y="320" width="26.2" height="4.5" fill="#1c0a22"/><linearGradient id="hg10" x1="0" y1="0" x2="0" y2="1"><stop offset="0" stop-color="#482a3a"/><stop offset="1" stop-color="#442636"/></linearGradient><rect x="378.2" y="324.5" width="26.2" height="92.8" fill="url(#hg10)"/><rect x="404.4" y="35" width="26.3" height="91" fill="#3e3028"/><rect x="404.4" y="126" width="26.3" height="60" fill="#4a3a2c"/><rect x="404.4" y="186" width="26.3" height="27" fill="#341634"/><rect x="404.4" y="213" width="26.3" height="11" fill="#564a34"/><rect x="404.4" y="224" width="26.3" height="22" fill="#4a3434"/><linearGradient id="hg11" x1="0" y1="0" x2="0" y2="1"><stop offset="0" stop-color="#b0a830"/><stop offset="1" stop-color="#a09830"/></linearGradient><rect x="404.4" y="246" width="26.3" height="7" fill="url(#hg11)"/><linearGradient id="hg12" x1="0" y1="0" x2="0" y2="1"><stop offset="0" stop-color="#7a7234"/><stop offset="1" stop-color="#6a6234"/></linearGradient><rect x="404.4" y="253" width="26.3" height="9" fill="url(#hg12)"/><linearGradient id="hg13" x1="0" y1="0" x2="0" y2="1"><stop offset="0" stop-color="#5e5634"/><stop offset="1" stop-color="#544832"/></linearGradient><rect x="404.4" y="262" width="26.3" height="20" fill="url(#hg13)"/><rect x="404.4" y="282" width="26.3" height="38" fill="#483a3a"/><rect x="404.4" y="320" width="26.3" height="4.5" fill="#1c0a22"/><linearGradient id="hg14" x1="0" y1="0" x2="0" y2="1"><stop offset="0" stop-color="#482a3a"/><stop offset="1" stop-color="#442636"/></linearGradient><rect x="404.4" y="324.5" width="26.3" height="92.8" fill="url(#hg14)"/><linearGradient id="hg15" x1="0" y1="0" x2="0" y2="1"><stop offset="0" stop-color="#5a205e"/><stop offset="1" stop-color="#521e56"/></linearGradient><rect x="430.7" y="35" width="22.6" height="45" fill="url(#hg15)"/><rect x="430.7" y="80" width="22.6" height="46" fill="#4e1e54"/><rect x="430.7" y="126" width="22.6" height="60" fill="#4e4030"/><rect x="430.7" y="186" width="22.6" height="27" fill="#5c4e30"/><rect x="430.7" y="213" width="22.6" height="33" fill="#4a2e42"/><rect x="430.7" y="245.8" width="22.6" height="8" fill="#1c0a22"/><rect x="430.7" y="253" width="22.6" height="12" fill="#44263a"/><rect x="430.7" y="265" width="22.6" height="37" fill="#564832"/><rect x="430.7" y="302" width="22.6" height="18" fill="#4c3a38"/><rect x="430.7" y="320" width="22.6" height="4.5" fill="#1c0a22"/><linearGradient id="hg16" x1="0" y1="0" x2="0" y2="1"><stop offset="0" stop-color="#482a3a"/><stop offset="1" stop-color="#442636"/></linearGradient><rect x="430.7" y="324.5" width="22.6" height="92.8" fill="url(#hg16)"/><rect x="453.3" y="35" width="12" height="91" fill="#3a2a2c"/><rect x="453.3" y="126" width="12" height="60" fill="#3e2c30"/><rect x="453.3" y="186" width="12" height="27" fill="#3a2236"/><rect x="453.3" y="213" width="12" height="33" fill="#442a3c"/><rect x="453.3" y="245.8" width="12" height="8" fill="#1c0a22"/><rect x="453.3" y="253" width="12" height="49" fill="#44263a"/><rect x="453.3" y="302" width="12" height="18" fill="#564638"/><rect x="453.3" y="320" width="12" height="4.5" fill="#1c0a22"/><linearGradient id="hg17" x1="0" y1="0" x2="0" y2="1"><stop offset="0" stop-color="#482a3a"/><stop offset="1" stop-color="#442636"/></linearGradient><rect x="453.3" y="324.5" width="12" height="92.8" fill="url(#hg17)"/><rect x="465.3" y="35" width="10.2" height="91" fill="#3c2438"/><rect x="465.3" y="126" width="10.2" height="60" fill="#302028"/><rect x="465.3" y="186" width="10.2" height="27" fill="#362230"/><rect x="465.3" y="213" width="10.2" height="33" fill="#3a2434"/><rect x="465.3" y="246" width="10.2" height="7" fill="#9a9230"/><rect x="465.3" y="253" width="10.2" height="9" fill="#342030"/><rect x="465.3" y="262" width="10.2" height="58" fill="#3e2a34"/><linearGradient id="hg18" x1="0" y1="0" x2="0" y2="1"><stop offset="0" stop-color="#9c9430"/><stop offset="1" stop-color="#7c7432"/></linearGradient><rect x="465.3" y="320" width="10.2" height="16" fill="url(#hg18)"/><linearGradient id="hg19" x1="0" y1="0" x2="0" y2="1"><stop offset="0" stop-color="#6c6432"/><stop offset="1" stop-color="#544a32"/></linearGradient><rect x="465.3" y="336" width="10.2" height="43" fill="url(#hg19)"/><rect x="465.3" y="379" width="10.2" height="38.3" fill="#42303a"/><linearGradient id="hg20" x1="0" y1="0" x2="0" y2="1"><stop offset="0" stop-color="#6e3868"/><stop offset="1" stop-color="#643460"/></linearGradient><rect x="475.5" y="35" width="10.4" height="91" fill="url(#hg20)"/><rect x="475.5" y="126" width="10.4" height="60" fill="#5e3458"/><rect x="475.5" y="186" width="10.4" height="27" fill="#62306a"/><rect x="475.5" y="213" width="10.4" height="33" fill="#642e66"/><rect x="475.5" y="245.8" width="10.4" height="8" fill="#1c0a22"/><rect x="475.5" y="253" width="10.4" height="67" fill="#44263a"/><rect x="475.5" y="320" width="10.4" height="4.5" fill="#1c0a22"/><rect x="475.5" y="324.5" width="10.4" height="54.5" fill="#5c2c58"/><linearGradient id="hg21" x1="0" y1="0" x2="0" y2="1"><stop offset="0" stop-color="#7c7232"/><stop offset="1" stop-color="#6a6030"/></linearGradient><rect x="475.5" y="379" width="10.4" height="38.3" fill="url(#hg21)"/><defs><pattern id="hstripe" x="0" y="35" width="216" height="131" patternUnits="userSpaceOnUse"><rect y="0" width="216" height="0.8" fill="#c8a060" fill-opacity="0.04"/><rect y="0.8" width="216" height="0.8" fill="#c8a060" fill-opacity="0.07"/><rect y="1.6" width="216" height="1.2" fill="#000" fill-opacity="0.01"/><rect y="4.4" width="216" height="0.8" fill="#000" fill-opacity="0.17"/><rect y="5.2" width="216" height="0.8" fill="#000" fill-opacity="0.20"/><rect y="6" width="216" height="1.6" fill="#000" fill-opacity="0.03"/><rect y="9.2" width="216" height="0.8" fill="#000" fill-opacity="0.20"/><rect y="11.2" width="216" height="1.6" fill="#c8a060" fill-opacity="0.07"/><rect y="12.8" width="216" height="1.2" fill="#000" fill-opacity="0.07"/><rect y="14" width="216" height="1" fill="#000" fill-opacity="0.04"/><rect y="15" width="216" height="1" fill="#c8a060" fill-opacity="0.04"/><rect y="16.8" width="216" height="0.8" fill="#000" fill-opacity="0.08"/><rect y="17.6" width="216" height="1.2" fill="#000" fill-opacity="0.20"/><rect y="18.8" width="216" height="1.2" fill="#c8a060" fill-opacity="0.07"/><rect y="20" width="216" height="1.2" fill="#000" fill-opacity="0.04"/><rect y="21.2" width="216" height="1" fill="#000" fill-opacity="0.11"/><rect y="22.2" width="216" height="1" fill="#000" fill-opacity="0.12"/><rect y="24.2" width="216" height="1.2" fill="#c8a060" fill-opacity="0.11"/><rect y="25.4" width="216" height="1.2" fill="#000" fill-opacity="0.14"/><rect y="26.6" width="216" height="1.2" fill="#000" fill-opacity="0.10"/><rect y="27.8" width="216" height="1.2" fill="#000" fill-opacity="0.06"/><rect y="29" width="216" height="1.2" fill="#c8a060" fill-opacity="0.04"/><rect y="30.2" width="216" height="1.6" fill="#c8a060" fill-opacity="0.06"/><rect y="33.8" width="216" height="1" fill="#000" fill-opacity="0.10"/><rect y="34.8" width="216" height="0.8" fill="#c8a060" fill-opacity="0.07"/><rect y="36.4" width="216" height="1" fill="#c8a060" fill-opacity="0.06"/><rect y="37.4" width="216" height="1.2" fill="#000" fill-opacity="0.18"/><rect y="38.6" width="216" height="1.6" fill="#c8a060" fill-opacity="0.07"/><rect y="41.4" width="216" height="1" fill="#000" fill-opacity="0.16"/><rect y="42.4" width="216" height="1.6" fill="#c8a060" fill-opacity="0.10"/><rect y="44" width="216" height="1.2" fill="#c8a060" fill-opacity="0.04"/><rect y="45.2" width="216" height="1" fill="#c8a060" fill-opacity="0.10"/><rect y="46.2" width="216" height="0.8" fill="#000" fill-opacity="0.09"/><rect y="47" width="216" height="1.2" fill="#c8a060" fill-opacity="0.11"/><rect y="48.2" width="216" height="1.2" fill="#c8a060" fill-opacity="0.05"/><rect y="50.4" width="216" height="0.8" fill="#c8a060" fill-opacity="0.06"/><rect y="51.2" width="216" height="1.2" fill="#c8a060" fill-opacity="0.09"/><rect y="52.4" width="216" height="1" fill="#c8a060" fill-opacity="0.06"/><rect y="53.4" width="216" height="1.6" fill="#c8a060" fill-opacity="0.07"/><rect y="55" width="216" height="1" fill="#000" fill-opacity="0.06"/><rect y="56.8" width="216" height="1" fill="#c8a060" fill-opacity="0.10"/><rect y="57.8" width="216" height="1" fill="#c8a060" fill-opacity="0.09"/><rect y="58.8" width="216" height="0.8" fill="#c8a060" fill-opacity="0.09"/><rect y="59.6" width="216" height="1" fill="#000" fill-opacity="0.06"/><rect y="60.6" width="216" height="1.6" fill="#000" fill-opacity="0.16"/><rect y="62.2" width="216" height="1.6" fill="#c8a060" fill-opacity="0.11"/><rect y="63.8" width="216" height="0.8" fill="#c8a060" fill-opacity="0.10"/><rect y="64.6" width="216" height="1" fill="#000" fill-opacity="0.11"/><rect y="65.6" width="216" height="0.8" fill="#000" fill-opacity="0.10"/><rect y="66.4" width="216" height="1" fill="#000" fill-opacity="0.09"/><rect y="67.4" width="216" height="0.8" fill="#c8a060" fill-opacity="0.06"/><rect y="69" width="216" height="1" fill="#000" fill-opacity="0.10"/><rect y="70" width="216" height="1.2" fill="#000" fill-opacity="0.01"/><rect y="71.2" width="216" height="1.6" fill="#000" fill-opacity="0.21"/><rect y="72.8" width="216" height="1" fill="#000" fill-opacity="0.09"/><rect y="73.8" width="216" height="1.2" fill="#000" fill-opacity="0.09"/><rect y="75" width="216" height="0.8" fill="#000" fill-opacity="0.03"/><rect y="75.8" width="216" height="1.2" fill="#000" fill-opacity="0.06"/><rect y="77" width="216" height="1.6" fill="#c8a060" fill-opacity="0.09"/><rect y="78.6" width="216" height="0.8" fill="#c8a060" fill-opacity="0.11"/><rect y="79.4" width="216" height="1.2" fill="#c8a060" fill-opacity="0.07"/><rect y="80.6" width="216" height="1.6" fill="#000" fill-opacity="0.16"/><rect y="82.2" width="216" height="1.6" fill="#c8a060" fill-opacity="0.06"/><rect y="83.8" width="216" height="1.2" fill="#000" fill-opacity="0.05"/><rect y="85" width="216" height="1" fill="#000" fill-opacity="0.17"/><rect y="86.8" width="216" height="0.8" fill="#000" fill-opacity="0.12"/><rect y="87.6" width="216" height="1.2" fill="#000" fill-opacity="0.06"/><rect y="90" width="216" height="1.2" fill="#000" fill-opacity="0.13"/><rect y="91.2" width="216" height="1.2" fill="#c8a060" fill-opacity="0.09"/><rect y="94.6" width="216" height="0.8" fill="#000" fill-opacity="0.06"/><rect y="96.6" width="216" height="0.8" fill="#c8a060" fill-opacity="0.11"/><rect y="97.4" width="216" height="0.8" fill="#c8a060" fill-opacity="0.04"/><rect y="98.2" width="216" height="0.8" fill="#c8a060" fill-opacity="0.05"/><rect y="99" width="216" height="1.6" fill="#c8a060" fill-opacity="0.08"/><rect y="100.6" width="216" height="1.6" fill="#000" fill-opacity="0.11"/><rect y="102.2" width="216" height="1" fill="#000" fill-opacity="0.21"/><rect y="103.2" width="216" height="1.2" fill="#000" fill-opacity="0.15"/><rect y="104.4" width="216" height="1.2" fill="#000" fill-opacity="0.02"/><rect y="105.6" width="216" height="0.8" fill="#c8a060" fill-opacity="0.06"/><rect y="106.4" width="216" height="0.8" fill="#000" fill-opacity="0.06"/><rect y="107.2" width="216" height="1.6" fill="#c8a060" fill-opacity="0.07"/><rect y="108.8" width="216" height="1" fill="#000" fill-opacity="0.04"/><rect y="110.8" width="216" height="1" fill="#000" fill-opacity="0.21"/><rect y="111.8" width="216" height="1.6" fill="#c8a060" fill-opacity="0.11"/><rect y="113.4" width="216" height="1" fill="#c8a060" fill-opacity="0.04"/><rect y="114.4" width="216" height="0.8" fill="#c8a060" fill-opacity="0.10"/><rect y="115.2" width="216" height="0.8" fill="#c8a060" fill-opacity="0.09"/><rect y="116" width="216" height="1.6" fill="#000" fill-opacity="0.21"/><rect y="117.6" width="216" height="1.2" fill="#000" fill-opacity="0.04"/><rect y="118.8" width="216" height="0.8" fill="#000" fill-opacity="0.14"/><rect y="121.6" width="216" height="1" fill="#000" fill-opacity="0.11"/><rect y="122.6" width="216" height="1.2" fill="#000" fill-opacity="0.10"/><rect y="123.8" width="216" height="1.6" fill="#000" fill-opacity="0.21"/><rect y="125.4" width="216" height="1.6" fill="#000" fill-opacity="0.12"/><rect y="127" width="216" height="1.6" fill="#000" fill-opacity="0.20"/><rect y="128.6" width="216" height="0.8" fill="#000" fill-opacity="0.08"/><rect y="129.4" width="216" height="1.6" fill="#c8a060" fill-opacity="0.04"/><rect y="131" width="216" height="1.2" fill="#c8a060" fill-opacity="0.07"/></pattern><pattern id="hnoise" x="269.7" y="35" width="23" height="19" patternUnits="userSpaceOnUse"><rect x="0" y="1" width="1" height="1" fill="#983088" fill-opacity="0.2"/><rect x="0" y="2" width="1" height="1" fill="#983088" fill-opacity="0.2"/><rect x="0" y="3" width="1" height="1" fill="#c8b840" fill-opacity="0.2"/><rect x="0" y="5" width="1" height="1" fill="#000" fill-opacity="0.2"/><rect x="0" y="7" width="1" height="1" fill="#000" fill-opacity="0.2"/><rect x="0" y="9" width="1" height="1" fill="#000" fill-opacity="0.2"/><rect x="0" y="10" width="1" height="1" fill="#983088" fill-opacity="0.2"/><rect x="0" y="11" width="1" height="1" fill="#c8b840" fill-opacity="0.2"/><rect x="0" y="13" width="1" height="1" fill="#983088" fill-opacity="0.2"/><rect x="0" y="18" width="1" height="1" fill="#983088" fill-opacity="0.2"/><rect x="1" y="2" width="1" height="1" fill="#983088" fill-opacity="0.2"/><rect x="1" y="3" width="1" height="1" fill="#983088" fill-opacity="0.2"/><rect x="1" y="4" width="1" height="1" fill="#c8b840" fill-opacity="0.2"/><rect x="1" y="5" width="1" height="1" fill="#000" fill-opacity="0.2"/><rect x="1" y="6" width="1" height="1" fill="#c8b840" fill-opacity="0.2"/><rect x="1" y="8" width="1" height="1" fill="#983088" fill-opacity="0.2"/><rect x="1" y="9" width="1" height="1" fill="#983088" fill-opacity="0.2"/><rect x="1" y="11" width="1" height="1" fill="#983088" fill-opacity="0.2"/><rect x="1" y="12" width="1" height="1" fill="#000" fill-opacity="0.2"/><rect x="1" y="15" width="1" height="1" fill="#983088" fill-opacity="0.2"/><rect x="1" y="17" width="1" height="1" fill="#983088" fill-opacity="0.2"/><rect x="2" y="0" width="1" height="1" fill="#983088" fill-opacity="0.2"/><rect x="2" y="1" width="1" height="1" fill="#983088" fill-opacity="0.2"/><rect x="2" y="2" width="1" height="1" fill="#000" fill-opacity="0.2"/><rect x="2" y="3" width="1" height="1" fill="#983088" fill-opacity="0.2"/><rect x="2" y="6" width="1" height="1" fill="#c8b840" fill-opacity="0.2"/><rect x="2" y="9" width="1" height="1" fill="#c8b840" fill-opacity="0.2"/><rect x="2" y="10" width="1" height="1" fill="#000" fill-opacity="0.2"/><rect x="2" y="13" width="1" height="1" fill="#c8b840" fill-opacity="0.2"/><rect x="2" y="15" width="1" height="1" fill="#000" fill-opacity="0.2"/><rect x="3" y="0" width="1" height="1" fill="#983088" fill-opacity="0.2"/><rect x="3" y="2" width="1" height="1" fill="#983088" fill-opacity="0.2"/><rect x="3" y="4" width="1" height="1" fill="#983088" fill-opacity="0.2"/><rect x="3" y="5" width="1" height="1" fill="#c8b840" fill-opacity="0.2"/><rect x="3" y="6" width="1" height="1" fill="#000" fill-opacity="0.2"/><rect x="3" y="8" width="1" height="1" fill="#000" fill-opacity="0.2"/><rect x="3" y="11" width="1" height="1" fill="#983088" fill-opacity="0.2"/><rect x="3" y="12" width="1" height="1" fill="#000" fill-opacity="0.2"/><rect x="3" y="16" width="1" height="1" fill="#000" fill-opacity="0.2"/><rect x="3" y="17" width="1" height="1" fill="#983088" fill-opacity="0.2"/><rect x="4" y="0" width="1" height="1" fill="#000" fill-opacity="0.2"/><rect x="4" y="1" width="1" height="1" fill="#c8b840" fill-opacity="0.2"/><rect x="4" y="7" width="1" height="1" fill="#c8b840" fill-opacity="0.2"/><rect x="4" y="8" width="1" height="1" fill="#c8b840" fill-opacity="0.2"/><rect x="4" y="14" width="1" height="1" fill="#c8b840" fill-opacity="0.2"/><rect x="4" y="15" width="1" height="1" fill="#000" fill-opacity="0.2"/><rect x="4" y="17" width="1" height="1" fill="#983088" fill-opacity="0.2"/><rect x="4" y="18" width="1" height="1" fill="#c8b840" fill-opacity="0.2"/><rect x="5" y="1" width="1" height="1" fill="#983088" fill-opacity="0.2"/><rect x="5" y="4" width="1" height="1" fill="#000" fill-opacity="0.2"/><rect x="5" y="6" width="1" height="1" fill="#983088" fill-opacity="0.2"/><rect x="5" y="10" width="1" height="1" fill="#000" fill-opacity="0.2"/><rect x="5" y="12" width="1" height="1" fill="#000" fill-opacity="0.2"/><rect x="5" y="14" width="1" height="1" fill="#c8b840" fill-opacity="0.2"/><rect x="5" y="15" width="1" height="1" fill="#c8b840" fill-opacity="0.2"/><rect x="5" y="16" width="1" height="1" fill="#983088" fill-opacity="0.2"/><rect x="5" y="18" width="1" height="1" fill="#000" fill-opacity="0.2"/><rect x="6" y="0" width="1" height="1" fill="#000" fill-opacity="0.2"/><rect x="6" y="2" width="1" height="1" fill="#983088" fill-opacity="0.2"/><rect x="6" y="3" width="1" height="1" fill="#000" fill-opacity="0.2"/><rect x="6" y="5" width="1" height="1" fill="#c8b840" fill-opacity="0.2"/><rect x="6" y="6" width="1" height="1" fill="#000" fill-opacity="0.2"/><rect x="6" y="8" width="1" height="1" fill="#000" fill-opacity="0.2"/><rect x="6" y="9" width="1" height="1" fill="#983088" fill-opacity="0.2"/><rect x="6" y="10" width="1" height="1" fill="#c8b840" fill-opacity="0.2"/><rect x="6" y="15" width="1" height="1" fill="#c8b840" fill-opacity="0.2"/><rect x="6" y="17" width="1" height="1" fill="#000" fill-opacity="0.2"/><rect x="6" y="18" width="1" height="1" fill="#000" fill-opacity="0.2"/><rect x="7" y="0" width="1" height="1" fill="#c8b840" fill-opacity="0.2"/><rect x="7" y="1" width="1" height="1" fill="#983088" fill-opacity="0.2"/><rect x="7" y="2" width="1" height="1" fill="#c8b840" fill-opacity="0.2"/><rect x="7" y="3" width="1" height="1" fill="#000" fill-opacity="0.2"/><rect x="7" y="4" width="1" height="1" fill="#000" fill-opacity="0.2"/><rect x="7" y="6" width="1" height="1" fill="#c8b840" fill-opacity="0.2"/><rect x="7" y="9" width="1" height="1" fill="#c8b840" fill-opacity="0.2"/><rect x="7" y="10" width="1" height="1" fill="#c8b840" fill-opacity="0.2"/><rect x="7" y="12" width="1" height="1" fill="#000" fill-opacity="0.2"/><rect x="7" y="13" width="1" height="1" fill="#983088" fill-opacity="0.2"/><rect x="7" y="14" width="1" height="1" fill="#983088" fill-opacity="0.2"/><rect x="7" y="15" width="1" height="1" fill="#983088" fill-opacity="0.2"/><rect x="7" y="18" width="1" height="1" fill="#983088" fill-opacity="0.2"/><rect x="8" y="1" width="1" height="1" fill="#000" fill-opacity="0.2"/><rect x="8" y="4" width="1" height="1" fill="#000" fill-opacity="0.2"/><rect x="8" y="6" width="1" height="1" fill="#983088" fill-opacity="0.2"/><rect x="8" y="8" width="1" height="1" fill="#983088" fill-opacity="0.2"/><rect x="8" y="9" width="1" height="1" fill="#c8b840" fill-opacity="0.2"/><rect x="8" y="10" width="1" height="1" fill="#000" fill-opacity="0.2"/><rect x="8" y="13" width="1" height="1" fill="#983088" fill-opacity="0.2"/><rect x="8" y="14" width="1" height="1" fill="#c8b840" fill-opacity="0.2"/><rect x="8" y="17" width="1" height="1" fill="#c8b840" fill-opacity="0.2"/><rect x="8" y="18" width="1" height="1" fill="#c8b840" fill-opacity="0.2"/><rect x="9" y="0" width="1" height="1" fill="#000" fill-opacity="0.2"/><rect x="9" y="1" width="1" height="1" fill="#983088" fill-opacity="0.2"/><rect x="9" y="2" width="1" height="1" fill="#000" fill-opacity="0.2"/><rect x="9" y="3" width="1" height="1" fill="#983088" fill-opacity="0.2"/><rect x="9" y="7" width="1" height="1" fill="#c8b840" fill-opacity="0.2"/><rect x="9" y="8" width="1" height="1" fill="#c8b840" fill-opacity="0.2"/><rect x="9" y="12" width="1" height="1" fill="#c8b840" fill-opacity="0.2"/><rect x="9" y="14" width="1" height="1" fill="#983088" fill-opacity="0.2"/><rect x="9" y="15" width="1" height="1" fill="#c8b840" fill-opacity="0.2"/><rect x="9" y="16" width="1" height="1" fill="#c8b840" fill-opacity="0.2"/><rect x="9" y="17" width="1" height="1" fill="#c8b840" fill-opacity="0.2"/><rect x="10" y="0" width="1" height="1" fill="#000" fill-opacity="0.2"/><rect x="10" y="1" width="1" height="1" fill="#983088" fill-opacity="0.2"/><rect x="10" y="2" width="1" height="1" fill="#983088" fill-opacity="0.2"/><rect x="10" y="3" width="1" height="1" fill="#983088" fill-opacity="0.2"/><rect x="10" y="5" width="1" height="1" fill="#000" fill-opacity="0.2"/><rect x="10" y="6" width="1" height="1" fill="#c8b840" fill-opacity="0.2"/><rect x="10" y="9" width="1" height="1" fill="#000" fill-opacity="0.2"/><rect x="10" y="11" width="1" height="1" fill="#c8b840" fill-opacity="0.2"/><rect x="10" y="13" width="1" height="1" fill="#c8b840" fill-opacity="0.2"/><rect x="10" y="14" width="1" height="1" fill="#983088" fill-opacity="0.2"/><rect x="10" y="16" width="1" height="1" fill="#c8b840" fill-opacity="0.2"/><rect x="11" y="0" width="1" height="1" fill="#983088" fill-opacity="0.2"/><rect x="11" y="3" width="1" height="1" fill="#c8b840" fill-opacity="0.2"/><rect x="11" y="5" width="1" height="1" fill="#000" fill-opacity="0.2"/><rect x="11" y="6" width="1" height="1" fill="#983088" fill-opacity="0.2"/><rect x="11" y="7" width="1" height="1" fill="#000" fill-opacity="0.2"/><rect x="11" y="9" width="1" height="1" fill="#000" fill-opacity="0.2"/><rect x="11" y="10" width="1" height="1" fill="#000" fill-opacity="0.2"/><rect x="11" y="11" width="1" height="1" fill="#c8b840" fill-opacity="0.2"/><rect x="11" y="12" width="1" height="1" fill="#c8b840" fill-opacity="0.2"/><rect x="11" y="13" width="1" height="1" fill="#000" fill-opacity="0.2"/><rect x="11" y="15" width="1" height="1" fill="#983088" fill-opacity="0.2"/><rect x="11" y="16" width="1" height="1" fill="#983088" fill-opacity="0.2"/><rect x="11" y="17" width="1" height="1" fill="#000" fill-opacity="0.2"/><rect x="11" y="18" width="1" height="1" fill="#983088" fill-opacity="0.2"/><rect x="12" y="3" width="1" height="1" fill="#c8b840" fill-opacity="0.2"/><rect x="12" y="4" width="1" height="1" fill="#000" fill-opacity="0.2"/><rect x="12" y="7" width="1" height="1" fill="#c8b840" fill-opacity="0.2"/><rect x="12" y="12" width="1" height="1" fill="#983088" fill-opacity="0.2"/><rect x="12" y="13" width="1" height="1" fill="#000" fill-opacity="0.2"/><rect x="12" y="14" width="1" height="1" fill="#000" fill-opacity="0.2"/><rect x="12" y="17" width="1" height="1" fill="#c8b840" fill-opacity="0.2"/><rect x="13" y="1" width="1" height="1" fill="#983088" fill-opacity="0.2"/><rect x="13" y="2" width="1" height="1" fill="#c8b840" fill-opacity="0.2"/><rect x="13" y="3" width="1" height="1" fill="#000" fill-opacity="0.2"/><rect x="13" y="4" width="1" height="1" fill="#000" fill-opacity="0.2"/><rect x="13" y="6" width="1" height="1" fill="#983088" fill-opacity="0.2"/><rect x="13" y="9" width="1" height="1" fill="#c8b840" fill-opacity="0.2"/><rect x="13" y="14" width="1" height="1" fill="#000" fill-opacity="0.2"/><rect x="13" y="16" width="1" height="1" fill="#983088" fill-opacity="0.2"/><rect x="13" y="17" width="1" height="1" fill="#983088" fill-opacity="0.2"/><rect x="14" y="0" width="1" height="1" fill="#000" fill-opacity="0.2"/><rect x="14" y="1" width="1" height="1" fill="#983088" fill-opacity="0.2"/><rect x="14" y="4" width="1" height="1" fill="#c8b840" fill-opacity="0.2"/><rect x="14" y="8" width="1" height="1" fill="#c8b840" fill-opacity="0.2"/><rect x="14" y="9" width="1" height="1" fill="#c8b840" fill-opacity="0.2"/><rect x="14" y="10" width="1" height="1" fill="#000" fill-opacity="0.2"/><rect x="14" y="13" width="1" height="1" fill="#c8b840" fill-opacity="0.2"/><rect x="14" y="17" width="1" height="1" fill="#983088" fill-opacity="0.2"/><rect x="15" y="4" width="1" height="1" fill="#983088" fill-opacity="0.2"/><rect x="15" y="5" width="1" height="1" fill="#000" fill-opacity="0.2"/><rect x="15" y="6" width="1" height="1" fill="#983088" fill-opacity="0.2"/><rect x="15" y="7" width="1" height="1" fill="#983088" fill-opacity="0.2"/><rect x="15" y="9" width="1" height="1" fill="#000" fill-opacity="0.2"/><rect x="15" y="11" width="1" height="1" fill="#983088" fill-opacity="0.2"/><rect x="15" y="12" width="1" height="1" fill="#c8b840" fill-opacity="0.2"/><rect x="15" y="13" width="1" height="1" fill="#c8b840" fill-opacity="0.2"/><rect x="15" y="14" width="1" height="1" fill="#983088" fill-opacity="0.2"/><rect x="15" y="16" width="1" height="1" fill="#983088" fill-opacity="0.2"/><rect x="16" y="1" width="1" height="1" fill="#983088" fill-opacity="0.2"/><rect x="16" y="5" width="1" height="1" fill="#000" fill-opacity="0.2"/><rect x="16" y="7" width="1" height="1" fill="#c8b840" fill-opacity="0.2"/><rect x="16" y="9" width="1" height="1" fill="#983088" fill-opacity="0.2"/><rect x="16" y="11" width="1" height="1" fill="#983088" fill-opacity="0.2"/><rect x="16" y="12" width="1" height="1" fill="#000" fill-opacity="0.2"/><rect x="16" y="14" width="1" height="1" fill="#000" fill-opacity="0.2"/><rect x="16" y="16" width="1" height="1" fill="#c8b840" fill-opacity="0.2"/><rect x="16" y="18" width="1" height="1" fill="#c8b840" fill-opacity="0.2"/><rect x="17" y="2" width="1" height="1" fill="#983088" fill-opacity="0.2"/><rect x="17" y="3" width="1" height="1" fill="#983088" fill-opacity="0.2"/><rect x="17" y="5" width="1" height="1" fill="#000" fill-opacity="0.2"/><rect x="17" y="11" width="1" height="1" fill="#c8b840" fill-opacity="0.2"/><rect x="17" y="12" width="1" height="1" fill="#c8b840" fill-opacity="0.2"/><rect x="17" y="14" width="1" height="1" fill="#983088" fill-opacity="0.2"/><rect x="17" y="16" width="1" height="1" fill="#c8b840" fill-opacity="0.2"/><rect x="17" y="17" width="1" height="1" fill="#000" fill-opacity="0.2"/><rect x="17" y="18" width="1" height="1" fill="#000" fill-opacity="0.2"/><rect x="18" y="0" width="1" height="1" fill="#000" fill-opacity="0.2"/><rect x="18" y="2" width="1" height="1" fill="#c8b840" fill-opacity="0.2"/><rect x="18" y="3" width="1" height="1" fill="#000" fill-opacity="0.2"/><rect x="18" y="5" width="1" height="1" fill="#c8b840" fill-opacity="0.2"/><rect x="18" y="8" width="1" height="1" fill="#983088" fill-opacity="0.2"/><rect x="18" y="10" width="1" height="1" fill="#000" fill-opacity="0.2"/><rect x="18" y="11" width="1" height="1" fill="#000" fill-opacity="0.2"/><rect x="18" y="12" width="1" height="1" fill="#983088" fill-opacity="0.2"/><rect x="18" y="16" width="1" height="1" fill="#000" fill-opacity="0.2"/><rect x="18" y="17" width="1" height="1" fill="#000" fill-opacity="0.2"/><rect x="19" y="2" width="1" height="1" fill="#c8b840" fill-opacity="0.2"/><rect x="19" y="4" width="1" height="1" fill="#c8b840" fill-opacity="0.2"/><rect x="19" y="6" width="1" height="1" fill="#983088" fill-opacity="0.2"/><rect x="19" y="7" width="1" height="1" fill="#000" fill-opacity="0.2"/><rect x="19" y="9" width="1" height="1" fill="#000" fill-opacity="0.2"/><rect x="19" y="10" width="1" height="1" fill="#c8b840" fill-opacity="0.2"/><rect x="19" y="13" width="1" height="1" fill="#000" fill-opacity="0.2"/><rect x="19" y="16" width="1" height="1" fill="#c8b840" fill-opacity="0.2"/><rect x="20" y="0" width="1" height="1" fill="#000" fill-opacity="0.2"/><rect x="20" y="1" width="1" height="1" fill="#983088" fill-opacity="0.2"/><rect x="20" y="2" width="1" height="1" fill="#000" fill-opacity="0.2"/><rect x="20" y="3" width="1" height="1" fill="#000" fill-opacity="0.2"/><rect x="20" y="7" width="1" height="1" fill="#983088" fill-opacity="0.2"/><rect x="20" y="9" width="1" height="1" fill="#c8b840" fill-opacity="0.2"/><rect x="20" y="10" width="1" height="1" fill="#000" fill-opacity="0.2"/><rect x="20" y="11" width="1" height="1" fill="#000" fill-opacity="0.2"/><rect x="20" y="12" width="1" height="1" fill="#000" fill-opacity="0.2"/><rect x="20" y="13" width="1" height="1" fill="#c8b840" fill-opacity="0.2"/><rect x="20" y="14" width="1" height="1" fill="#000" fill-opacity="0.2"/><rect x="20" y="15" width="1" height="1" fill="#c8b840" fill-opacity="0.2"/><rect x="20" y="16" width="1" height="1" fill="#c8b840" fill-opacity="0.2"/><rect x="21" y="0" width="1" height="1" fill="#000" fill-opacity="0.2"/><rect x="21" y="2" width="1" height="1" fill="#983088" fill-opacity="0.2"/><rect x="21" y="5" width="1" height="1" fill="#000" fill-opacity="0.2"/><rect x="21" y="6" width="1" height="1" fill="#983088" fill-opacity="0.2"/><rect x="21" y="7" width="1" height="1" fill="#000" fill-opacity="0.2"/><rect x="21" y="10" width="1" height="1" fill="#c8b840" fill-opacity="0.2"/><rect x="21" y="14" width="1" height="1" fill="#c8b840" fill-opacity="0.2"/><rect x="21" y="17" width="1" height="1" fill="#c8b840" fill-opacity="0.2"/><rect x="21" y="18" width="1" height="1" fill="#c8b840" fill-opacity="0.2"/><rect x="22" y="0" width="1" height="1" fill="#983088" fill-opacity="0.2"/><rect x="22" y="3" width="1" height="1" fill="#983088" fill-opacity="0.2"/><rect x="22" y="4" width="1" height="1" fill="#983088" fill-opacity="0.2"/><rect x="22" y="6" width="1" height="1" fill="#000" fill-opacity="0.2"/><rect x="22" y="7" width="1" height="1" fill="#c8b840" fill-opacity="0.2"/><rect x="22" y="11" width="1" height="1" fill="#c8b840" fill-opacity="0.2"/><rect x="22" y="18" width="1" height="1" fill="#983088" fill-opacity="0.2"/></pattern><pattern id="hnoise2" x="269.7" y="35" width="17" height="13" patternUnits="userSpaceOnUse"><rect x="0" y="0" width="1" height="1" fill="#c8b840" fill-opacity="0.2"/><rect x="0" y="4" width="1" height="1" fill="#000" fill-opacity="0.2"/><rect x="0" y="6" width="1" height="1" fill="#983088" fill-opacity="0.2"/><rect x="0" y="8" width="1" height="1" fill="#c8b840" fill-opacity="0.2"/><rect x="0" y="12" width="1" height="1" fill="#c8b840" fill-opacity="0.2"/><rect x="1" y="0" width="1" height="1" fill="#983088" fill-opacity="0.2"/><rect x="1" y="2" width="1" height="1" fill="#983088" fill-opacity="0.2"/><rect x="1" y="6" width="1" height="1" fill="#983088" fill-opacity="0.2"/><rect x="2" y="3" width="1" height="1" fill="#c8b840" fill-opacity="0.2"/><rect x="2" y="4" width="1" height="1" fill="#c8b840" fill-opacity="0.2"/><rect x="2" y="8" width="1" height="1" fill="#c8b840" fill-opacity="0.2"/><rect x="2" y="9" width="1" height="1" fill="#983088" fill-opacity="0.2"/><rect x="2" y="11" width="1" height="1" fill="#983088" fill-opacity="0.2"/><rect x="2" y="12" width="1" height="1" fill="#c8b840" fill-opacity="0.2"/><rect x="3" y="2" width="1" height="1" fill="#c8b840" fill-opacity="0.2"/><rect x="3" y="3" width="1" height="1" fill="#000" fill-opacity="0.2"/><rect x="3" y="6" width="1" height="1" fill="#983088" fill-opacity="0.2"/><rect x="3" y="8" width="1" height="1" fill="#000" fill-opacity="0.2"/><rect x="3" y="9" width="1" height="1" fill="#983088" fill-opacity="0.2"/><rect x="3" y="11" width="1" height="1" fill="#000" fill-opacity="0.2"/><rect x="4" y="3" width="1" height="1" fill="#000" fill-opacity="0.2"/><rect x="4" y="4" width="1" height="1" fill="#000" fill-opacity="0.2"/><rect x="4" y="5" width="1" height="1" fill="#983088" fill-opacity="0.2"/><rect x="4" y="6" width="1" height="1" fill="#000" fill-opacity="0.2"/><rect x="4" y="8" width="1" height="1" fill="#c8b840" fill-opacity="0.2"/><rect x="4" y="9" width="1" height="1" fill="#c8b840" fill-opacity="0.2"/><rect x="4" y="11" width="1" height="1" fill="#983088" fill-opacity="0.2"/><rect x="5" y="1" width="1" height="1" fill="#983088" fill-opacity="0.2"/><rect x="5" y="3" width="1" height="1" fill="#000" fill-opacity="0.2"/><rect x="5" y="4" width="1" height="1" fill="#c8b840" fill-opacity="0.2"/><rect x="5" y="7" width="1" height="1" fill="#983088" fill-opacity="0.2"/><rect x="5" y="9" width="1" height="1" fill="#c8b840" fill-opacity="0.2"/><rect x="5" y="10" width="1" height="1" fill="#000" fill-opacity="0.2"/><rect x="6" y="3" width="1" height="1" fill="#c8b840" fill-opacity="0.2"/><rect x="6" y="4" width="1" height="1" fill="#c8b840" fill-opacity="0.2"/><rect x="6" y="5" width="1" height="1" fill="#c8b840" fill-opacity="0.2"/><rect x="6" y="7" width="1" height="1" fill="#c8b840" fill-opacity="0.2"/><rect x="6" y="8" width="1" height="1" fill="#983088" fill-opacity="0.2"/><rect x="6" y="9" width="1" height="1" fill="#c8b840" fill-opacity="0.2"/><rect x="6" y="12" width="1" height="1" fill="#983088" fill-opacity="0.2"/><rect x="7" y="0" width="1" height="1" fill="#983088" fill-opacity="0.2"/><rect x="7" y="2" width="1" height="1" fill="#000" fill-opacity="0.2"/><rect x="7" y="3" width="1" height="1" fill="#983088" fill-opacity="0.2"/><rect x="7" y="7" width="1" height="1" fill="#c8b840" fill-opacity="0.2"/><rect x="7" y="8" width="1" height="1" fill="#983088" fill-opacity="0.2"/><rect x="7" y="10" width="1" height="1" fill="#983088" fill-opacity="0.2"/><rect x="7" y="11" width="1" height="1" fill="#983088" fill-opacity="0.2"/><rect x="7" y="12" width="1" height="1" fill="#983088" fill-opacity="0.2"/><rect x="8" y="8" width="1" height="1" fill="#983088" fill-opacity="0.2"/><rect x="8" y="10" width="1" height="1" fill="#983088" fill-opacity="0.2"/><rect x="8" y="11" width="1" height="1" fill="#983088" fill-opacity="0.2"/><rect x="9" y="0" width="1" height="1" fill="#000" fill-opacity="0.2"/><rect x="9" y="1" width="1" height="1" fill="#c8b840" fill-opacity="0.2"/><rect x="9" y="6" width="1" height="1" fill="#983088" fill-opacity="0.2"/><rect x="9" y="8" width="1" height="1" fill="#983088" fill-opacity="0.2"/><rect x="9" y="9" width="1" height="1" fill="#000" fill-opacity="0.2"/><rect x="9" y="12" width="1" height="1" fill="#000" fill-opacity="0.2"/><rect x="10" y="0" width="1" height="1" fill="#000" fill-opacity="0.2"/><rect x="10" y="1" width="1" height="1" fill="#983088" fill-opacity="0.2"/><rect x="10" y="6" width="1" height="1" fill="#000" fill-opacity="0.2"/><rect x="10" y="8" width="1" height="1" fill="#c8b840" fill-opacity="0.2"/><rect x="10" y="9" width="1" height="1" fill="#000" fill-opacity="0.2"/><rect x="11" y="0" width="1" height="1" fill="#000" fill-opacity="0.2"/><rect x="11" y="2" width="1" height="1" fill="#983088" fill-opacity="0.2"/><rect x="11" y="4" width="1" height="1" fill="#000" fill-opacity="0.2"/><rect x="11" y="5" width="1" height="1" fill="#c8b840" fill-opacity="0.2"/><rect x="11" y="9" width="1" height="1" fill="#c8b840" fill-opacity="0.2"/><rect x="11" y="11" width="1" height="1" fill="#000" fill-opacity="0.2"/><rect x="11" y="12" width="1" height="1" fill="#983088" fill-opacity="0.2"/><rect x="12" y="8" width="1" height="1" fill="#000" fill-opacity="0.2"/><rect x="12" y="9" width="1" height="1" fill="#c8b840" fill-opacity="0.2"/><rect x="12" y="10" width="1" height="1" fill="#000" fill-opacity="0.2"/><rect x="13" y="1" width="1" height="1" fill="#c8b840" fill-opacity="0.2"/><rect x="13" y="2" width="1" height="1" fill="#983088" fill-opacity="0.2"/><rect x="13" y="3" width="1" height="1" fill="#983088" fill-opacity="0.2"/><rect x="13" y="5" width="1" height="1" fill="#c8b840" fill-opacity="0.2"/><rect x="13" y="7" width="1" height="1" fill="#983088" fill-opacity="0.2"/><rect x="14" y="0" width="1" height="1" fill="#c8b840" fill-opacity="0.2"/><rect x="14" y="3" width="1" height="1" fill="#000" fill-opacity="0.2"/><rect x="14" y="4" width="1" height="1" fill="#983088" fill-opacity="0.2"/><rect x="14" y="7" width="1" height="1" fill="#c8b840" fill-opacity="0.2"/><rect x="14" y="12" width="1" height="1" fill="#000" fill-opacity="0.2"/><rect x="15" y="2" width="1" height="1" fill="#983088" fill-opacity="0.2"/><rect x="15" y="3" width="1" height="1" fill="#000" fill-opacity="0.2"/><rect x="15" y="4" width="1" height="1" fill="#983088" fill-opacity="0.2"/><rect x="15" y="11" width="1" height="1" fill="#000" fill-opacity="0.2"/><rect x="16" y="1" width="1" height="1" fill="#000" fill-opacity="0.2"/><rect x="16" y="2" width="1" height="1" fill="#983088" fill-opacity="0.2"/><rect x="16" y="3" width="1" height="1" fill="#983088" fill-opacity="0.2"/><rect x="16" y="5" width="1" height="1" fill="#983088" fill-opacity="0.2"/><rect x="16" y="8" width="1" height="1" fill="#983088" fill-opacity="0.2"/><rect x="16" y="9" width="1" height="1" fill="#c8b840" fill-opacity="0.2"/></pattern></defs><rect x="269.7" y="35.0" width="216.2" height="382.3" fill="url(#hstripe)"/><rect x="269.7" y="35.0" width="216.2" height="382.3" fill="url(#hnoise)"/><rect x="269.7" y="35.0" width="216.2" height="382.3" fill="url(#hnoise2)"/><rect x="306.9" y="35.0" width="0.9" height="382.3" fill="#c8bcc4"/><rect x="343.8" y="35.0" width="0.9" height="382.3" fill="#c8bcc4"/><rect x="377.7" y="35.0" width="0.9" height="382.3" fill="#c8bcc4"/><rect x="403.9" y="35.0" width="0.9" height="382.3" fill="#c8bcc4"/><rect x="430.2" y="35.0" width="0.9" height="382.3" fill="#c8bcc4"/><rect x="452.8" y="35.0" width="0.9" height="382.3" fill="#c8bcc4"/><rect x="464.8" y="35.0" width="0.9" height="382.3" fill="#c8bcc4"/><rect x="475" y="35.0" width="0.9" height="382.3" fill="#c8bcc4"/><text x="381" y="431.2" font-size="10.4" text-anchor="middle">Cluster</text><text x="266.3" y="230.3" font-size="10.4" text-anchor="middle" transform="rotate(-90 266.3 230.3)">Genes</text><text x="489.8" y="205.5" font-size="10">Exp.</text><defs><linearGradient id="gexp" x1="0" y1="0" x2="0" y2="1"><stop offset="0" stop-color="#e8e22a"/><stop offset="0.12" stop-color="#d8d432"/><stop offset="0.3" stop-color="#7c7a28"/><stop offset="0.5" stop-color="#060606"/><stop offset="0.7" stop-color="#3e0e58"/><stop offset="0.9" stop-color="#9040a8"/><stop offset="1" stop-color="#a050b4"/></linearGradient></defs><rect x="489.9" y="209" width="9.9" height="49" fill="url(#gexp)"/><line x1="489.9" y1="213.8" x2="491.9" y2="213.8" stroke="#fff" stroke-width="0.6"/><line x1="497.8" y1="213.8" x2="499.8" y2="213.8" stroke="#fff" stroke-width="0.6"/><text x="502.6" y="216.6" font-size="7.9">2</text><line x1="489.9" y1="223.8" x2="491.9" y2="223.8" stroke="#fff" stroke-width="0.6"/><line x1="497.8" y1="223.8" x2="499.8" y2="223.8" stroke="#fff" stroke-width="0.6"/><text x="502.6" y="226.6" font-size="7.9">1</text><line x1="489.9" y1="233.3" x2="491.9" y2="233.3" stroke="#fff" stroke-width="0.6"/><line x1="497.8" y1="233.3" x2="499.8" y2="233.3" stroke="#fff" stroke-width="0.6"/><text x="502.6" y="236.1" font-size="7.9">0</text><line x1="489.9" y1="242.9" x2="491.9" y2="242.9" stroke="#fff" stroke-width="0.6"/><line x1="497.8" y1="242.9" x2="499.8" y2="242.9" stroke="#fff" stroke-width="0.6"/><text x="502.6" y="245.7" font-size="7.9">−1</text><line x1="489.9" y1="253.2" x2="491.9" y2="253.2" stroke="#fff" stroke-width="0.6"/><line x1="497.8" y1="253.2" x2="499.8" y2="253.2" stroke="#fff" stroke-width="0.6"/><text x="502.6" y="256" font-size="7.9">−2</text><text x="515.1" y="9.6" font-size="12.5" font-weight="bold" stroke="#000" stroke-width="0.35">c</text><defs><linearGradient id="gfeat" x1="0" y1="1" x2="0" y2="0"><stop offset="0" stop-color="#dcdcdc"/><stop offset="1" stop-color="#861a58"/></linearGradient></defs><text x="590.9" y="16.9" font-size="8.8" text-anchor="middle" font-style="italic">HXT5</text><line x1="557.9" y1="18.4" x2="557.9" y2="74.1" stroke="#000" stroke-width="0.8"/><line x1="557.5" y1="73.7" x2="614.3" y2="73.7" stroke="#000" stroke-width="0.8"/><line x1="556" y1="20.3" x2="557.9" y2="20.3" stroke="#000" stroke-width="0.7"/><text x="555.4" y="23.1" font-size="8" text-anchor="end">5.0</text><line x1="556" y1="33.2" x2="557.9" y2="33.2" stroke="#000" stroke-width="0.7"/><text x="555.4" y="36" font-size="8" text-anchor="end">2.5</text><line x1="556" y1="46.1" x2="557.9" y2="46.1" stroke="#000" stroke-width="0.7"/><text x="555.4" y="48.9" font-size="8" text-anchor="end">0.0</text><line x1="556" y1="59" x2="557.9" y2="59" stroke="#000" stroke-width="0.7"/><text x="555.4" y="61.8" font-size="8" text-anchor="end">−2.5</text><line x1="556" y1="72" x2="557.9" y2="72" stroke="#000" stroke-width="0.7"/><text x="555.4" y="74.8" font-size="8" text-anchor="end">−5.0</text><line x1="572.8" y1="73.7" x2="572.8" y2="75.6" stroke="#000" stroke-width="0.7"/><text x="571.6" y="82.8" font-size="8.2" text-anchor="middle">−5</text><line x1="592.5" y1="73.7" x2="592.5" y2="75.6" stroke="#000" stroke-width="0.7"/><text x="592.2" y="82.8" font-size="8.2" text-anchor="middle">0</text><line x1="612.2" y1="73.7" x2="612.2" y2="75.6" stroke="#000" stroke-width="0.7"/><text x="611.9" y="82.8" font-size="8.2" text-anchor="middle">5</text><text x="591" y="90" font-size="8.5" text-anchor="middle">UMAP_1</text><text x="537.6" y="44.2" font-size="8.6" text-anchor="middle" transform="rotate(-90 537.6 44.2)">UMAP_2</text><path transform="scale(0.25)" d="M2425 85h0m-5 11h0m-6-3h0m-1 3h0m-3-6h0m-1 3h0m-1-3h0m0 0h0m-2-3h0m0 6h0m-1-4h0m-3 6h0m-1 0h0m0-4h0m0 0h0m-3 4h0m0-8h0m0 0h0m-2 7h0m-1-4h0m0 5h0m-1-3h0m0-2h0m-1-4h0m-2 8h0m-2-3h0m-3-3h0m-1 5h0m-2-2h0m0 2h0m-1 1h0m-2 2h0m0-6h0m-6 5h0m-19 15h0m7 1h0m0-8h0m2 3h0m1 5h0m0-5h0m7 1h0m2-5h0m0 0h0m1 6h0m2-3h0m1-1h0m1 2h0m1-9h0m0 12h0m2-12h0m1 3h0m0-3h0m0 15h0m1-14h0m0 5h0m1-1h0m1-3h0m1 1h0m0 6h0m1 4h0m1-5h0m1 2h0m0-4h0m1-1h0m0 9h0m1-4h0m1 5h0m0-2h0m1-12h0m3 8h0m1 1h0m3-3h0m0 0h0m0-6h0m0 5h0m1 1h0m0 6h0m2-7h0m1-2h0m0 2h0m0-7h0m2 6h0m1 8h0m0-10h0m5 9h0m2-1h0m0-6h0m0 10h0m0-1h0m1-9h0m0 8h0m1-5h0m0 7h0m1-9h0m2-2h0m0 4h0m2 4h0m1 1h0m0-7h0m1 1h0m0 2h0m1-6h0m0 8h0m1-12h0m1 15h0m1-1h0m1-6h0m4 0h0m9 7h0m-5 13h0m-2-2h0m0-2h0m-1 7h0m-1-5h0m-1-9h0m-2 3h0m0-2h0m0 5h0m-1 4h0m-1-7h0m-1 9h0m-3 0h0m-1 0h0m0-4h0m-1-4h0m0 10h0m0-5h0m-3-5h0m0 2h0m-1 8h0m-1-5h0m0-9h0m0 9h0m-1-8h0m0 8h0m-2-5h0m0 7h0m-1-8h0m0 5h0m-1-8h0m-2 0h0m-3 6h0m-1-3h0m-3 1h0m0 1h0m-1-4h0m-2 5h0m0 5h0m-1-3h0m0-4h0m-1 5h0m-1-3h0m-1 5h0m-1-1h0m-1-3h0m-1-4h0m0 6h0m-1-4h0m0 9h0m0-1h0m-1-13h0m-1 4h0m0 0h0m0 0h0m-1-1h0m0 1h0m-1 7h0m0-6h0m-1-2h0m0 10h0m-1-9h0m0 3h0m-1 4h0m0-7h0m-2-2h0m-1 5h0m-1-4h0m-2 8h0m0-8h0m-1 11h0m0 0h0m0-10h0m-1 10h0m-2 0h0m-1-13h0m0 8h0m-1-5h0m0 5h0m-3 5h0m-1-6h0m-1-4h0m-3 7h0m0-10h0m-2 5h0m-2-2h0m-1-2h0m-1 1h0m0 9h0m0-9h0m0 6h0m0 4h0m-2-11h0m-2 13h0m-1-15h0m0 2h0m0 9h0m-1 3h0m-1 0h0m-1-1h0m0-4h0m-19 2h0m-9 17h0m2 2h0m3-5h0m1 0h0m0 3h0m1 2h0m2-3h0m1 0h0m0 4h0m0-11h0m1 3h0m3-3h0m2-1h0m2 11h0m1-5h0m2 1h0m0-5h0m3 1h0m0-1h0m0 9h0m3-6h0m0 5h0m0-13h0m1 10h0m1-1h0m2-8h0m1 0h0m0 11h0m2 1h0m0 1h0m1-11h0m1 6h0m3 1h0m4 2h0m1-12h0m1-1h0m1 11h0m2-7h0m2 7h0m3 0h0m2-5h0m2 7h0m2-10h0m0 5h0m1 6h0m2 1h0m2-9h0m0-4h0m0 2h0m2 0h0m1 4h0m0-7h0m1 9h0m2 5h0m0-15h0m1 7h0m0-3h0m1 9h0m0-10h0m3 5h0m0 5h0m1-11h0m1 12h0m1-4h0m1 3h0m2 2h0m1-9h0m0 5h0m2-2h0m0-4h0m3 10h0m0-10h0m1 8h0m1-11h0m0 13h0m1-15h0m4 12h0m2-2h0m2-9h0m1 7h0m2-6h0m0 2h0m2 1h0m0 5h0m1-3h0m2-3h0m1-2h0m4 0h0m0 6h0m1 5h0m1-9h0m2-1h0m2 5h0m1-1h0m1-1h0m2 5h0m4 17h0m-2-2h0m-1-7h0m-4 11h0m0 0h0m0-9h0m-1-1h0m-1-1h0m0 9h0m-1-1h0m-2 1h0m0-4h0m0 2h0m-1 3h0m-1 1h0m-1 0h0m-1-5h0m-1-3h0m0 9h0m-2-4h0m0-6h0m-1 4h0m-1 0h0m0 5h0m0-4h0m0-3h0m-7-3h0m0 6h0m0-2h0m-1-4h0m0 7h0m-1 5h0m-2-11h0m-1 0h0m0 1h0m-3 8h0m0-1h0m-1 1h0m-1-13h0m0 10h0m0-10h0m-1 4h0m0 4h0m0-1h0m-3 3h0m-1 2h0m0 0h0m-1-4h0m0-2h0m0 0h0m-1-2h0m0 3h0m0-7h0m-1 1h0m0 13h0m-1-1h0m0-2h0m-1 0h0m0 2h0m-2 0h0m-1-8h0m-1 1h0m0 8h0m-1-5h0m-4-6h0m-1 5h0m-2 6h0m-2-5h0m-2-1h0m-1 6h0m0-1h0m0-12h0m-1 13h0m-1-2h0m-1 2h0m-1-3h0m-1-7h0m0-5h0m0 5h0m0 10h0m-2-11h0m0 11h0m-1-4h0m0-2h0m-1-9h0m0 10h0m0-5h0m-1 1h0m0 0h0m0 8h0m-2-12h0m0-2h0m-3 8h0m-1 1h0m-2 3h0m-2-3h0m0 0h0m0 4h0m0 0h0m0-7h0m0 5h0m0-6h0m0 4h0m-1-3h0m-1 1h0m0 2h0m-1 3h0m-1 3h0m0-2h0m-2-1h0m0-1h0m0 2h0m-2 2h0m-1-11h0m0 4h0m-1-4h0m0 0h0m0 11h0m-1-6h0m-1 3h0m-1-6h0m-2 8h0m-1 0h0m0 2h0m0-11h0m0-3h0m-2 11h0m-1-9h0m0 12h0m0-13h0m-2 4h0m-1-1h0m-1 5h0m0-2h0m0-5h0m-5 10h0m-1-14h0m0 14h0m0 1h0m-1-3h0m0-7h0m-1-2h0m-1-2h0m-1 12h0m0-5h0m-1-4h0m0 2h0m-1 0h0m0 9h0m-2 0h0m0-15h0m-1 4h0m0-3h0m0 7h0m-1 7h0m-2-3h0m-1-11h0m0 14h0m-1-9h0m-4 3h0m-1-1h0m-1 2h0m-3-7h0m2 23h0m1 3h0m0-11h0m0 6h0m0-2h0m0 0h0m0 3h0m1 3h0m1-5h0m0-6h0m0 7h0m0 7h0m1-8h0m0 6h0m0-5h0m0-7h0m0 13h0m0-12h0m1 0h0m1 2h0m0 11h0m2-13h0m0 5h0m1 9h0m0-2h0m0 2h0m0-14h0m1-1h0m0 9h0m0-8h0m0-1h0m0 2h0m1-1h0m1 2h0m0 8h0m1-2h0m0-9h0m0 8h0m1-3h0m0 1h0m0-1h0m1 8h0m1-9h0m0 9h0m0-10h0m0 7h0m1-1h0m2-3h0m1 7h0m1-4h0m0 0h0m1-1h0m0-5h0m1 2h0m1 5h0m0-6h0m0 7h0m1-3h0m0-6h0m0-3h0m1 10h0m1-8h0m1 9h0m0 4h0m0-2h0m4-11h0m0 0h0m1 3h0m1 6h0m2 0h0m2-10h0m1 3h0m0 7h0m7 2h0m0 3h0m0-11h0m1 0h0m1-4h0m0 6h0m1 3h0m1-4h0m0 8h0m1-12h0m0 9h0m0-1h0m0 0h0m1 5h0m0-6h0m0-2h0m1 8h0m0-14h0m0 6h0m1 6h0m1 2h0m1-13h0m1-1h0m1 7h0m1-7h0m1 14h0m5-4h0m0-7h0m2 9h0m0-2h0m0-1h0m1-1h0m0-7h0m0 0h0m1 8h0m1-7h0m0 4h0m0-5h0m2 4h0m1 0h0m3-4h0m1 3h0m1-3h0m1 6h0m4-7h0m3 12h0m1-1h0m1-5h0m0 5h0m1-8h0m2 0h0m2-4h0m2 4h0m3-3h0m2 10h0m2-10h0m1 4h0m0 6h0m0-10h0m1 11h0m0-3h0m0 1h0m0 4h0m1-3h0m2-4h0m0 3h0m1-3h0m0-1h0m0-3h0m1 5h0m0-2h0m1 1h0m1 0h0m0 5h0m1-9h0m1-1h0m0 13h0m1-1h0m0-3h0m1 4h0m0-3h0m1 1h0m1-5h0m1 5h0m1 1h0m1 1h0m0-3h0m1-5h0m1 2h0m0 5h0m0 0h0m1-4h0m1-3h0m0 8h0m1-10h0m0 4h0m1 0h0m2 1h0m0-3h0m3-5h0m0 1h0m0 2h0m0 6h0m4 0h0m-3 17h0m-1-7h0m-1-1h0m0-4h0m0 13h0m-1-9h0m-1 5h0m-2 3h0m-2-4h0m-2-8h0m0 4h0m0 4h0m-2-6h0m-1-1h0m-2 5h0m0-6h0m0 7h0m0-6h0m-1 5h0m-1-1h0m0 2h0m-1 0h0m-1 8h0m0-11h0m-4 0h0m-1 6h0m-1 1h0m-1-4h0m-1 4h0m-1-5h0m-1-5h0m-1 1h0m0 10h0m0 2h0m0 2h0m-2-4h0m0-2h0m-3-8h0m-2 10h0m0-5h0m-2 3h0m-1 2h0m0 3h0m0-14h0m0 14h0m-1-9h0m0-4h0m0 14h0m-1-7h0m0-1h0m-2-1h0m-5-6h0m0 15h0m0-16h0m-2 8h0m-1-7h0m0 15h0m-3-12h0m-1 5h0m-1 2h0m-1-4h0m-1 5h0m0-2h0m-1 3h0m0-7h0m-1 0h0m0-1h0m-3 11h0m-2-16h0m-3 7h0m-1 9h0m-2-6h0m0-2h0m-1 6h0m-1-8h0m-1-1h0m0 8h0m-1 2h0m0-8h0m0 0h0m-1-2h0m-2 5h0m0-2h0m-1 2h0m0-7h0m-1 2h0m0 5h0m0 5h0m-1 0h0m0-1h0m0-2h0m0 2h0m-1 0h0m0-4h0m-2-5h0m-1-3h0m0 7h0m-1-2h0m-3-2h0m0 10h0m-2-14h0m0 15h0m0-15h0m-1 12h0m0-2h0m-1-3h0m-1 7h0m-1 1h0m-1-6h0m-1 5h0m0-10h0m-2 0h0m0 1h0m-1-6h0m-1 2h0m0 7h0m-3 4h0m0-11h0m-1-2h0m0 9h0m-1 5h0m0-4h0m-2-3h0m-1-1h0m-1 5h0m-3 0h0m0-4h0m0 5h0m-1-9h0m0 1h0m0-1h0m-1 9h0m-1 0h0m-1-11h0m0 12h0m-1-12h0m-1 9h0m0-8h0m-2-1h0m0 3h0m0 8h0m-1-3h0m0-9h0m0 7h0m-1 7h0m0-8h0m-1 10h0m0-5h0m-1-10h0m-1 7h0m-1 8h0m0-9h0m0 7h0m-1 2h0m0-7h0m-1-7h0m-1 1h0m-1 12h0m0-2h0m0-5h0m-1-4h0m0 10h0m-5-3h0m0 2h0m-21-6h0m-3 5h0m-2-4h0m-2-3h0m-1 10h0m-3-14h0m-2 8h0m-5-5h0m-2 11h0m-1 1h0m0-3h0m-4 2h0m-2-8h0m0 7h0m0-8h0m-1 9h0m0-8h0m-1-1h0m-2 5h0m-1-2h0m-5 15h0m0 1h0m1-2h0m0 2h0m0 3h0m0 1h0m0-6h0m5 2h0m1 4h0m2-2h0m1-7h0m0 7h0m0 4h0m1-6h0m1-2h0m1-2h0m0 4h0m0-3h0m1 2h0m1-3h0m1-2h0m0-2h0m2 8h0m0 1h0m0-7h0m1-1h0m1 3h0m0 0h0m0 8h0m1 2h0m1-7h0m4-5h0m1 2h0m22-4h0m4 12h0m4-3h0m0 2h0m1 1h0m0-7h0m1 5h0m2 3h0m0-9h0m1 3h0m0 3h0m1 5h0m0-16h0m0 4h0m1 5h0m1-1h0m1 4h0m1-7h0m5-5h0m0 9h0m1 0h0m0-3h0m2 0h0m0 10h0m0-4h0m0-8h0m0 8h0m0-2h0m4-1h0m10-3h0m0 3h0m2-5h0m2 4h0m0 5h0m0-5h0m0 6h0m2-9h0m1-3h0m0 11h0m1 1h0m2-4h0m0-9h0m3 2h0m1 12h0m0 1h0m1-12h0m6 2h0m0 4h0m2-3h0m0-3h0m1 2h0m1 9h0m0-13h0m1 3h0m1 0h0m0 3h0m0 3h0m1-5h0m0-2h0m0-2h0m1-1h0m2 4h0m0 3h0m0 1h0m2-5h0m2-1h0m7 2h0m3 7h0m1-10h0m1 1h0m0-3h0m0 1h0m2 4h0m2-1h0m0-2h0m2 13h0m0-6h0m1-6h0m2 4h0m0-7h0m0 7h0m0 8h0m0-11h0m2-2h0m1-1h0m0-1h0m1 2h0m2 0h0m0 0h0m1 4h0m1 2h0m0 0h0m0 1h0m1-2h0m0 1h0m1 8h0m0-8h0m1-6h0m1 4h0m0 9h0m0-12h0m2 6h0m2 3h0m2-6h0m2 9h0m1 0h0m1 1h0m0-15h0m0 14h0m1-15h0m1 6h0m0 1h0m0 0h0m1 2h0m7-8h0m0-1h0m2 5h0m0-4h0m1 10h0m1-1h0m1 5h0m1-5h0m0-2h0m3-5h0m1-3h0m4 7h0m-5 20h0m-5-9h0m-3 4h0m-1 5h0m-1-6h0m0 5h0m-3-2h0m-1-7h0m-3 7h0m0 1h0m-1-5h0m-1 0h0m0 1h0m-1 10h0m0-7h0m-1-2h0m-1 3h0m0-7h0m-1 11h0m-1 0h0m-1 0h0m0-3h0m-1 1h0m-2-10h0m0 7h0m0 8h0m-1-2h0m-1-5h0m0 6h0m0-3h0m-2-10h0m0 5h0m-2-4h0m0-1h0m-1 8h0m-3 3h0m0-4h0m-3-5h0m0 3h0m0-2h0m-2 1h0m-1 0h0m-4 0h0m-6 9h0m0-4h0m-1-1h0m-3 2h0m-1 2h0m-14-12h0m-2 0h0m-1 8h0m-1-3h0m-1-3h0m-1 8h0m-1 1h0m-1-13h0m-2 3h0m0-1h0m-1 10h0m0 4h0m0-14h0m-1 12h0m-1-7h0m-1 5h0m-3-9h0m-9 2h0m-7 5h0m-1 0h0m0-4h0m-1 8h0m-1-11h0m0-2h0m-1 3h0m-1 6h0m-1-4h0m-1 8h0m0-12h0m0 4h0m-2-6h0m0 2h0m-1 7h0m0 2h0m-1-8h0m0 3h0m-1 0h0m0 1h0m-1 6h0m-1-13h0m-1 3h0m0 8h0m-2-6h0m0 3h0m-1 4h0m-1-3h0m0-8h0m-1 7h0m-1 6h0m0-6h0m-2 6h0m-1-14h0m0 0h0m-1 1h0m0 7h0m-1 0h0m0 3h0m0-6h0m-1 3h0m0 1h0m-1-9h0m0 14h0m-1-1h0m-3-6h0m-3 5h0m-27-4h0m-1 2h0m0-5h0m-1 7h0m-2 3h0m-1-5h0m-1 0h0m-1-3h0m0-1h0m-1 4h0m-1-1h0m-2 6h0m-1-14h0m0 4h0m-1-4h0m-1 0h0m-1 6h0m4 9h0m41 2h0m3 2h0m0 7h0m0 4h0m1-4h0m2-1h0m2 0h0m1-10h0m1 6h0m2 0h0m1 9h0m0-9h0m2 3h0m1 2h0m1-6h0m1-4h0m0 6h0m1 3h0m0-8h0m0 13h0m1-5h0m1 4h0m1-4h0m1 3h0m1-9h0m0 9h0m1-9h0m0 9h0m0-4h0m1-5h0m0 1h0m0-1h0m0 11h0m2-12h0m1 5h0m0-6h0m0 10h0m0 1h0m1-8h0m1-1h0m0 9h0m0-7h0m2-1h0m1-4h0m0 9h0m0 0h0m1 1h0m1-6h0m8 9h0m5-9h0m5-1h0m0 4h0m1-1h0m1 5h0m0-5h0m1 4h0m0-4h0m4-3h0m1 2h0m5 9h0m1-8h0m2 7h0m0-4h0m1 1h0m1 4h0m4-4h0m0 4h0m0-2h0m2 1h0m1-3h0m4-1h0m1 6h0m1-2h0m3-5h0m2 2h0m0-11h0m0 6h0m0-6h0m2 1h0m0 13h0m0 2h0m1-1h0m1-7h0m0 7h0m1-8h0m1-4h0m0 0h0m1 13h0m0 0h0m1-4h0m1 0h0m0 2h0m1-11h0m3 11h0m1-8h0m1-3h0m1 8h0m0-4h0m1 8h0m0-14h0m3 5h0m0 7h0m1-6h0m1-3h0m1 0h0m0-2h0m0 13h0m0 1h0m1-8h0m0-4h0m2 10h0m1 1h0m0-5h0m0 4h0m2-13h0m0 11h0m0 0h0m2 0h0m1-5h0m1 0h0m1-6h0m0 4h0m2 2h0m1 6h0m0 1h0m0-6h0m1-3h0m0 11h0m1-1h0m0-2h0m0-8h0m2 4h0m0-5h0m1 2h0m0-1h0m1-3h0m0 1h0m1 12h0m1-14h0m1 9h0m0-6h0m1-4h0m0 4h0m-7 16h0m-3-1h0m-1 5h0m0 3h0m0-1h0m-1-2h0m0 0h0m-1-2h0m0-5h0m-1 12h0m0-2h0m0-1h0m-1-3h0m-1 0h0m-1-1h0m-3 9h0m-1-1h0m0-10h0m0 7h0m-1-1h0m-1-5h0m0-2h0m0 6h0m-2 5h0m-4-9h0m-1 5h0m-1 4h0m-1-11h0m-2 12h0m-1-11h0m-1 12h0m-1-10h0m-2-6h0m0 15h0m0-5h0m-3-1h0m-2 1h0m0-4h0m0-1h0m-2-3h0m-3 9h0m0 0h0m-1-5h0m0 3h0m-2-4h0m-1 3h0m-1-6h0m0 0h0m-1 13h0m0-13h0m-3 14h0m0-9h0m-1-6h0m-1 1h0m-1 13h0m0-2h0m-1-5h0m0-2h0m-1-6h0m-2 6h0m-2 2h0m-2 3h0m-1 4h0m-6-2h0m-3 2h0m-1 1h0m0-5h0m-1 1h0m-2-1h0m-2 0h0m-2 3h0m0 1h0m-1 0h0m-2-2h0m-11-12h0m0-1h0m-1 11h0m0-7h0m0 10h0m-1-11h0m-1-2h0m0 8h0m-2-4h0m0 3h0m0 5h0m-2-3h0m0-9h0m0 1h0m-1 11h0m0 0h0m0 0h0m0-5h0m-3-5h0m0 1h0m-1 6h0m-1-7h0m-3 5h0m-1-1h0m-1-3h0m-1-1h0m0 4h0m0-5h0m0 7h0m0 1h0m-1-10h0m-1 6h0m-3-3h0m-1 0h0m0-1h0m-1-1h0m-1-1h0m-1 0h0m-1 0h0m5 23h0m1-6h0m1 10h0m1 1h0m0-2h0m1-7h0m1 4h0m0 3h0m0 0h0m0-8h0m0 11h0m1-2h0m0-10h0m1 13h0m0 0h0m1-7h0m0 7h0m1 2h0m0-13h0m2 0h0m1 6h0m1-7h0m1 3h0m2-4h0m0 5h0m0 5h0m4-9h0m1 0h0m0 3h0m20-3h0m0 1h0m1-2h0m12 1h0m1-1h0m3 2h0m5 2h0m8-2h0m3 2h0m1 1h0m0 2h0m0-3h0m0 4h0m1-7h0m1 7h0m2-3h0m1-5h0m1 8h0m2-2h0m1-5h0m0 6h0m4 2h0m2 1h0m1-10h0m1 0h0m4 0h0m1 4h0m1-1h0m2 1h0m1-4h0m2 3h0m4 0h0m2-2h0m2-1h0" stroke="#dcdcdc" stroke-width="4.8" stroke-linecap="round"/><path transform="scale(0.25)" d="M2410 93h0m-44 15h0m2-10h0m34 9h0m6 1h0m13 12h0m-2-1h0m-20-4h0m-5 6h0m-24-3h0m-46 22h0m19-6h0m7 2h0m11-6h0m11 8h0m19 1h0m4-7h0m1 8h0m5-6h0m2 4h0m35-4h0m3-2h0m4 15h0m-9 12h0m-1-4h0m-31-1h0m-6 2h0m-6-7h0m-9 8h0m-7 0h0m-10-4h0m-19-2h0m-21 8h0m0-13h0m-5-2h0m-4 11h0m1 9h0m5 3h0m17-6h0m7 15h0m14-3h0m0-6h0m47 0h0m17 1h0m2 5h0m5-2h0m1-6h0m7 3h0m2 17h0m-1-9h0m-6 7h0m-7 8h0m-5-13h0m-5 1h0m-11 12h0m-10-6h0m-1-3h0m-35 9h0m-6-9h0m-7-5h0m-15-1h0m-73 12h0m-4 4h0m0-1h0m-2-3h0m5 16h0m5 2h0m6-3h0m36 0h0m1-4h0m10-1h0m3 3h0m20-4h0m68 7h0m22 12h0m-11-1h0m-21 2h0m-1-4h0m-2 10h0m-7-3h0m0 2h0m-6-4h0m-61-10h0m-13 0h0m-42 6h0m-5 2h0m41 22h0m6-3h0m7-6h0m7-1h0m44 8h0m5 2h0m2-5h0m2 4h0m10-2h0m0 5h0m2-4h0m7-6h0m3-1h0m4 5h0m6 1h0m3-7h0m3 8h0m3 2h0m6-7h0m8-1h0m1-3h0m2 8h0m1 1h0m-6 7h0m-3 3h0m-2 4h0m-2 5h0m-3-4h0m-5-8h0m-3 8h0m-1-5h0m0 7h0m-1-2h0m-13 0h0m-4 0h0m-9-4h0m-1 5h0m-11-5h0m-2-5h0m-1-1h0m-3 10h0m-15 2h0m-4 2h0m-11-13h0m-16 7h0m30 9h0m6 0h0m18 3h0m2-3h0m7 12h0m1-13h0m2 5h0m5-5h0m5 9h0m10-10h0m0 3h0m4 0h0m1-2h0m8 1h0m-25 21h0" stroke="rgb(193,161,179)" stroke-width="3.8" stroke-linecap="round"/><path transform="scale(0.25)" d="M2409 94h0m-4-6h0m-4-2h0m-11 0h0m-3-1h0m-24 15h0m22-3h0m4 5h0m8 2h0m2-2h0m14 1h0m15 24h0m-8 0h0m-17-15h0m-12 3h0m0 4h0m-7-1h0m-2 8h0m-2-2h0m-6-11h0m-24 18h0m33 10h0m36-1h0m9-6h0m5-6h0m1 10h0m7 6h0m4 15h0m-3-6h0m-10 4h0m-4 0h0m-5-11h0m-11 0h0m-26 4h0m-56 6h0m-3 18h0m3-9h0m4-3h0m3 9h0m8-2h0m10 6h0m8-8h0m3 7h0m19-1h0m41-10h0m16 10h0m5-1h0m-5 19h0m-8-3h0m-8-1h0m-2-5h0m-1 0h0m-2 7h0m-14-8h0m-9 6h0m-14-1h0m-7-7h0m-2 4h0m-16-7h0m-8 1h0m-12 4h0m-4-3h0m-24 10h0m0-8h0m-61 13h0m15 15h0m93-8h0m6-5h0m37 2h0m2-3h0m16 7h0m17-8h0m4 19h0m-28 2h0m-5 2h0m-1 6h0m-8-1h0m-22 2h0m-41-14h0m-14 9h0m-57-7h0m-2 5h0m-3 3h0m-2-1h0m-1-2h0m44 19h0m0 2h0m6-3h0m1 3h0m45-6h0m6 1h0m20 3h0m1-9h0m13 5h0m4 7h0m4-1h0m1-5h0m2-7h0m7 6h0m6 4h0m1-8h0m1-2h0m7 13h0m1-5h0m2-8h0m0 8h0m-8 21h0m-2-4h0m-3-5h0m-1-5h0m-6 14h0m-4-5h0m-28-9h0m-1 1h0m-5 14h0m-2 0h0m-17 0h0m-33-5h0m-10 1h0m2 12h0m8 7h0m5-4h0m44-7h0m37-2h0" stroke="rgb(178,128,157)" stroke-width="3.8" stroke-linecap="round"/><path transform="scale(0.25)" d="M2361 109h0m1-3h0m31-7h0m16 10h0m6-1h0m17 5h0m0 1h0m-1 4h0m-10 8h0m-20-5h0m-2-9h0m-15 2h0m-1 7h0m-15-3h0m-36 21h0m5-1h0m4-7h0m15 7h0m8-1h0m16 2h0m1 5h0m18-2h0m12 2h0m0-3h0m1-12h0m8 12h0m1-11h0m4 11h0m11-4h0m-5 11h0m-13 2h0m-29 4h0m-2-9h0m-4 14h0m-5-8h0m-13-5h0m-2 5h0m-7 7h0m-5-4h0m-2-4h0m-2 7h0m-15-5h0m0-4h0m-5-1h0m0 2h0m-3 6h0m-6-3h0m-2 21h0m2-4h0m3-4h0m8-3h0m17 1h0m7 3h0m2-1h0m3 1h0m5 3h0m2-2h0m44-4h0m3 2h0m5 3h0m4-2h0m1 0h0m3 7h0m6-9h0m-4 24h0m-1 2h0m-7-11h0m-25 4h0m-2 2h0m-5 7h0m-10-14h0m-14 6h0m-15 0h0m-12-6h0m-5 0h0m-10 5h0m-59 8h0m-10 9h0m2-2h0m65 8h0m38-6h0m3-4h0m35-3h0m2 1h0m1-1h0m13 2h0m2 5h0m19-5h0m2 16h0m-2 10h0m-1-3h0m-7-8h0m-6 8h0m-2 1h0m0-1h0m-3-1h0m0 6h0m-3-3h0m0-2h0m-4 1h0m-9 2h0m-15-4h0m-25-5h0m-37 0h0m-26 7h0m-27-8h0m-7-2h0m-4 10h0m46 11h0m24 6h0m2-11h0m3 9h0m2-3h0m29-6h0m1 10h0m13-7h0m1 6h0m1-4h0m3 5h0m11-4h0m2-2h0m1-1h0m0 7h0m1-1h0m9-3h0m0-5h0m8 9h0m6-5h0m7 7h0m1-12h0m2 7h0m1-1h0m2-1h0m7-1h0m-14 19h0m-2 4h0m-7-10h0m-19 3h0m-5 7h0m-3 3h0m-4 0h0m-8-8h0m-6 8h0m0-3h0m-1-1h0m-5-8h0m-17 6h0m-2 3h0m-34 2h0m-4-3h0m9 11h0m1 4h0m8-2h0m21-7h0m5 0h0m22 0h0m2 1h0m5 5h0m8-7h0m6 11h0m4-10h0m0 6h0m2-2h0m15 5h0m10 9h0" stroke="rgb(160,88,128)" stroke-width="3.8" stroke-linecap="round"/><rect x="622.8" y="26" width="8.2" height="43" fill="url(#gfeat)"/><line x1="622.8" y1="67.7" x2="624.6" y2="67.7" stroke="#fff" stroke-width="0.5"/><line x1="629.2" y1="67.7" x2="631" y2="67.7" stroke="#fff" stroke-width="0.5"/><text x="634.5" y="70.6" font-size="8">0</text><line x1="622.8" y1="56.2" x2="624.6" y2="56.2" stroke="#fff" stroke-width="0.5"/><line x1="629.2" y1="56.2" x2="631" y2="56.2" stroke="#fff" stroke-width="0.5"/><text x="634.5" y="59.1" font-size="8">1</text><line x1="622.8" y1="44.4" x2="624.6" y2="44.4" stroke="#fff" stroke-width="0.5"/><line x1="629.2" y1="44.4" x2="631" y2="44.4" stroke="#fff" stroke-width="0.5"/><text x="634.5" y="47.3" font-size="8">2</text><line x1="622.8" y1="32.2" x2="624.6" y2="32.2" stroke="#fff" stroke-width="0.5"/><line x1="629.2" y1="32.2" x2="631" y2="32.2" stroke="#fff" stroke-width="0.5"/><text x="634.5" y="35.1" font-size="8">3</text><text x="590.9" y="102.8" font-size="8.8" text-anchor="middle" font-style="italic">SSA4</text><line x1="557.9" y1="104.3" x2="557.9" y2="160" stroke="#000" stroke-width="0.8"/><line x1="557.5" y1="159.6" x2="614.3" y2="159.6" stroke="#000" stroke-width="0.8"/><line x1="556" y1="106.2" x2="557.9" y2="106.2" stroke="#000" stroke-width="0.7"/><text x="555.4" y="109" font-size="8" text-anchor="end">5.0</text><line x1="556" y1="119.1" x2="557.9" y2="119.1" stroke="#000" stroke-width="0.7"/><text x="555.4" y="121.9" font-size="8" text-anchor="end">2.5</text><line x1="556" y1="132" x2="557.9" y2="132" stroke="#000" stroke-width="0.7"/><text x="555.4" y="134.8" font-size="8" text-anchor="end">0.0</text><line x1="556" y1="144.9" x2="557.9" y2="144.9" stroke="#000" stroke-width="0.7"/><text x="555.4" y="147.7" font-size="8" text-anchor="end">−2.5</text><line x1="556" y1="157.9" x2="557.9" y2="157.9" stroke="#000" stroke-width="0.7"/><text x="555.4" y="160.7" font-size="8" text-anchor="end">−5.0</text><line x1="572.8" y1="159.6" x2="572.8" y2="161.5" stroke="#000" stroke-width="0.7"/><text x="571.6" y="168.7" font-size="8.2" text-anchor="middle">−5</text><line x1="592.5" y1="159.6" x2="592.5" y2="161.5" stroke="#000" stroke-width="0.7"/><text x="592.2" y="168.7" font-size="8.2" text-anchor="middle">0</text><line x1="612.2" y1="159.6" x2="612.2" y2="161.5" stroke="#000" stroke-width="0.7"/><text x="611.9" y="168.7" font-size="8.2" text-anchor="middle">5</text><text x="591" y="175.9" font-size="8.5" text-anchor="middle">UMAP_1</text><text x="537.6" y="130.1" font-size="8.6" text-anchor="middle" transform="rotate(-90 537.6 130.1)">UMAP_2</text><path transform="scale(0.25)" d="M2386 432h0m1-3h0m3 1h0m8 1h0m3-1h0m5 1h0m19-2h0m4 19h0m-3-8h0m-1 3h0m-2 4h0m-3-2h0m-4 1h0m-1 0h0m-1-9h0m-1 10h0m0-7h0m-3-6h0m0 2h0m-1 1h0m-1 7h0m0-10h0m0-1h0m-1 13h0m-1-9h0m-1 8h0m0-12h0m0-1h0m-1 15h0m-2 1h0m0-9h0m-1 0h0m0 8h0m0-13h0m0 0h0m0 8h0m0 6h0m0 0h0m-2-2h0m-1-7h0m-2-1h0m-1-4h0m0 5h0m-1-3h0m0-2h0m-1 9h0m-2-5h0m0 8h0m-1 1h0m-1-12h0m0 11h0m-2-2h0m-1-1h0m-1-2h0m0-4h0m0 9h0m-1 1h0m0-6h0m-1-6h0m0 6h0m0 3h0m-1-7h0m0 4h0m-2-2h0m0-6h0m0 7h0m-2 8h0m-4-2h0m0-7h0m0 7h0m-6-5h0m-5 3h0m-1 2h0m-8 12h0m0-1h0m1-4h0m2 6h0m2 1h0m0-1h0m1 0h0m1-7h0m1 3h0m0-5h0m1 13h0m1-14h0m1 9h0m0-3h0m3 6h0m0 1h0m2-1h0m2-10h0m1 10h0m1-3h0m1-7h0m2-2h0m1 11h0m1-1h0m0-9h0m1 3h0m1 7h0m1 3h0m1-7h0m0 2h0m1 0h0m0 3h0m1 0h0m1 2h0m0-2h0m1-1h0m0-10h0m1 12h0m0-8h0m1 7h0m0-2h0m1-8h0m0 10h0m0 0h0m1 2h0m0-7h0m0 3h0m0-4h0m1 7h0m0-11h0m1 5h0m0-2h0m4-6h0m0 14h0m1-11h0m1 8h0m0-3h0m3 1h0m0-7h0m0 4h0m1 2h0m0 6h0m0-1h0m3-1h0m1 3h0m1-11h0m1 1h0m1 4h0m2-1h0m1-3h0m0 7h0m2-8h0m0 0h0m0 3h0m1-1h0m0 3h0m1 0h0m0-8h0m0 7h0m2 6h0m0-2h0m1-11h0m1 14h0m1-10h0m0 7h0m2-12h0m1 4h0m2 2h0m1-1h0m0 7h0m2 3h0m0-6h0m0 3h0m1 2h0m1-4h0m0-1h0m3 7h0m7-9h0m0 23h0m-1 1h0m-1 0h0m-2-5h0m-1-6h0m-1 7h0m-1-9h0m-1 13h0m0-8h0m-1-5h0m0 6h0m-3 2h0m-1 1h0m0-8h0m-1 4h0m0 7h0m-1-9h0m0 9h0m-1-1h0m-2-8h0m0 7h0m0-3h0m-1-4h0m0-5h0m-1 7h0m0 9h0m0-14h0m-1 7h0m0-3h0m-1 1h0m-2 0h0m-1-5h0m0-1h0m-1 1h0m-2 2h0m-1 4h0m0-7h0m-1 8h0m-5 4h0m-6 1h0m-1-11h0m-1-3h0m0 9h0m-1-7h0m0 14h0m-2-12h0m-1 6h0m0-7h0m0 9h0m-1-12h0m0 0h0m0 15h0m-1-14h0m-1 6h0m0-1h0m-2 3h0m0 6h0m-1-3h0m-1-8h0m-1 5h0m0 5h0m0-8h0m-2-2h0m-2-4h0m-1 11h0m0-6h0m-2-2h0m-1 1h0m-1 3h0m0 0h0m0 7h0m-1-7h0m-2 0h0m-1-5h0m-4 5h0m-1-6h0m-1 7h0m-1 1h0m-2-6h0m-6 1h0m0-2h0m0 3h0m-1 7h0m-3-2h0m0-3h0m-1-3h0m-1 3h0m-1 0h0m-1-2h0m0-3h0m-1 6h0m0 3h0m0 5h0m-3-2h0m0 1h0m-3-2h0m-1 1h0m-2-3h0m-4 2h0m-5-10h0m-21 24h0m4 5h0m5-2h0m1-5h0m4-2h0m0 5h0m1-4h0m1 3h0m1-10h0m1 4h0m1 11h0m0-9h0m2-3h0m0-1h0m0 12h0m1-8h0m1 1h0m6 4h0m1 2h0m0-7h0m1-5h0m2 0h0m0 10h0m3-3h0m0 4h0m2 1h0m1-14h0m0 6h0m0 8h0m1-11h0m1-1h0m1 9h0m0 0h0m1 0h0m2-9h0m1 4h0m0 1h0m2-6h0m3 13h0m1-2h0m0 3h0m1-15h0m1 9h0m1-4h0m2 11h0m1-13h0m2 5h0m0 2h0m1-9h0m1 12h0m1 0h0m0-5h0m4 0h0m0 4h0m2-9h0m0 2h0m1 2h0m1-7h0m1 10h0m0-6h0m3 10h0m1-5h0m4-7h0m0 1h0m1 10h0m3-8h0m1-1h0m0 11h0m1-1h0m4-12h0m1 7h0m1-1h0m0-7h0m0 15h0m0-4h0m1-5h0m0 8h0m0 0h0m1-13h0m2-1h0m2 14h0m1-6h0m0 0h0m1-4h0m0 2h0m0-2h0m1 5h0m0-3h0m3 6h0m0-1h0m2-9h0m1 10h0m1-9h0m0-2h0m0 10h0m1 4h0m0-11h0m3 4h0m3-8h0m1 13h0m2-1h0m2-2h0m0 3h0m3-13h0m1 4h0m1-4h0m0 14h0m5-2h0m0-6h0m3-5h0m1 9h0m0-1h0m1 8h0m-1 5h0m-1 4h0m0-1h0m-2-10h0m-1 6h0m0 9h0m-1 1h0m-1-13h0m-1-1h0m0 11h0m-1 2h0m-1-11h0m0-2h0m0 5h0m-1-4h0m-1 12h0m0-9h0m-1 7h0m0-7h0m-1-1h0m-1 7h0m0-5h0m-2-4h0m-1-2h0m0 4h0m-1-4h0m0 5h0m0-5h0m-1 10h0m0-1h0m-1 0h0m0 6h0m-1-2h0m-1 1h0m-1-1h0m0 0h0m0 2h0m-1-2h0m0 0h0m0 1h0m-1 0h0m-1-13h0m-2 13h0m-1-6h0m0 4h0m-4-7h0m0-1h0m0 8h0m-1-7h0m0 3h0m-2-8h0m0 10h0m-1 4h0m-2-7h0m-1-3h0m-1-4h0m-3 4h0m0-1h0m-1 0h0m0 2h0m-2 0h0m0-2h0m-2 5h0m-4 6h0m-2-2h0m-2-6h0m-2 6h0m0-11h0m-2-2h0m-1 5h0m0 10h0m0-4h0m0-5h0m-1 1h0m-1 3h0m0-5h0m-1 2h0m-1-3h0m-1 7h0m0-5h0m-3-3h0m-1-1h0m-1 4h0m-1 3h0m-1 7h0m-1-8h0m-4-7h0m0 8h0m-1 5h0m0 0h0m0-10h0m-1 5h0m-1 6h0m0-14h0m0 13h0m0-10h0m0-1h0m0-3h0m-2 15h0m0-1h0m0-5h0m0-9h0m-2 6h0m-4 1h0m-2 7h0m0-7h0m-1-6h0m0 11h0m-1-11h0m0 2h0m0 6h0m-3-3h0m-1 0h0m0-1h0m-1 6h0m-1-1h0m-1-2h0m-4 2h0m0-9h0m-2 7h0m0 3h0m-1 2h0m-2-1h0m-1-7h0m0 1h0m-1-2h0m-3 9h0m0-8h0m-1 5h0m0 3h0m-1-6h0m-2-1h0m0 1h0m0 2h0m-1 2h0m-1-2h0m0-2h0m-1 7h0m0-3h0m0-3h0m-2 6h0m0-4h0m-2 1h0m-1 1h0m-1-2h0m0-1h0m0 7h0m0-13h0m0 12h0m-1 1h0m0-7h0m0 6h0m-2-13h0m0 12h0m0 0h0m0 1h0m0-5h0m-57 20h0m1 0h0m1 0h0m0 1h0m9-3h0m7-3h0m4 4h0m7 2h0m25-3h0m2 3h0m0-13h0m1 3h0m1-1h0m0 5h0m1-5h0m0 3h0m1-2h0m0 10h0m0-9h0m1 10h0m0-15h0m1 6h0m2 7h0m1-6h0m0 7h0m0-7h0m0 0h0m1 4h0m2-8h0m0 6h0m1-8h0m0 7h0m0-9h0m1 9h0m2-3h0m0-3h0m1 8h0m0 1h0m0-1h0m0-9h0m1 8h0m0 4h0m2-6h0m0-3h0m1-3h0m1 8h0m0 4h0m1-4h0m1-8h0m0 1h0m0 1h0m2 4h0m0-7h0m0 12h0m1-4h0m1-6h0m0 3h0m2 4h0m1-2h0m1 6h0m2-1h0m0-6h0m0-4h0m1 6h0m1-6h0m2 6h0m0 7h0m2-7h0m2 5h0m0-1h0m4-4h0m0-4h0m0 3h0m1 5h0m1-8h0m1-3h0m1-1h0m0 14h0m1-13h0m0 11h0m0-11h0m0 0h0m1-2h0m0 10h0m1-4h0m0 0h0m1-1h0m1 8h0m0-7h0m1 9h0m2-1h0m2-7h0m4 4h0m0-1h0m2-2h0m1-5h0m0-1h0m1-1h0m3 12h0m0 0h0m1 0h0m0-9h0m2 11h0m6-6h0m1 6h0m2-7h0m0 6h0m4-11h0m1 0h0m2 13h0m1-6h0m0 4h0m1-6h0m2 5h0m6-10h0m2 7h0m1-1h0m0-7h0m1 1h0m0-2h0m0 13h0m0-8h0m1 4h0m0-8h0m2 0h0m3 11h0m0-3h0m1 4h0m0-10h0m2 2h0m1 0h0m0 9h0m0-10h0m1 2h0m0 8h0m0-2h0m1 1h0m0-9h0m1 4h0m0 5h0m0-6h0m0 5h0m0-13h0m1 4h0m1-1h0m0 6h0m0-4h0m1 5h0m0-3h0m0-3h0m2-3h0m0 13h0m0-8h0m0 6h0m0-4h0m1-6h0m1 4h0m1-5h0m1 0h0m2 7h0m0-6h0m1 2h0m1 4h0m0 4h0m1 1h0m0-10h0m3 1h0m1-1h0m-3 17h0m-3-3h0m0 5h0m-1-6h0m-1 15h0m-1-12h0m-3 5h0m0 0h0m-1-8h0m0 10h0m-3 5h0m0-4h0m-4-2h0m0-3h0m0 6h0m-2-4h0m0-2h0m0 0h0m0-3h0m-5-2h0m-1 2h0m-2 12h0m0-1h0m0-1h0m0-11h0m-1 6h0m-2-2h0m0 2h0m-2 8h0m0-12h0m0-2h0m-2 9h0m-3-7h0m-1 3h0m-1-6h0m-1 3h0m0 6h0m0-3h0m-1 0h0m-1 8h0m0-14h0m-1 14h0m-1-1h0m-1-4h0m-2 0h0m0-1h0m0-6h0m-1-3h0m0 9h0m0 0h0m-1 1h0m-1-1h0m-1-1h0m0 7h0m-1-8h0m-1-6h0m-3 9h0m0 2h0m-1-9h0m-1 4h0m0 6h0m-1-12h0m-1 8h0m0-5h0m0 4h0m-1-7h0m0 9h0m-3-3h0m-6 1h0m-2 3h0m-1-6h0m-3 7h0m-2-3h0m-1 1h0m0-8h0m0 12h0m-1-12h0m0 14h0m-1-9h0m0 4h0m-1-2h0m-1-3h0m0 8h0m0-12h0m-1 10h0m0-5h0m-1 4h0m-1 3h0m-6-6h0m0 4h0m-1-7h0m0-2h0m-1 8h0m-3-3h0m0-6h0m-3 8h0m-1 3h0m-1-12h0m-1 14h0m-2-3h0m0 0h0m-1-11h0m-1 4h0m-7-2h0m0 1h0m-3 0h0m-3-2h0m-1 10h0m0 1h0m-2-12h0m-1 5h0m0 2h0m-4 6h0m0-8h0m-1 2h0m0-7h0m0 12h0m-3-6h0m0-2h0m-1 3h0m-1-4h0m0 12h0m-4-2h0m0 0h0m0-11h0m0 2h0m-9 3h0m-15-4h0m-5 2h0m-3 5h0m-4 4h0m-2-2h0m0 0h0m-1-3h0m-1 0h0m-1-4h0m-1 4h0m-1 2h0m-2 1h0m0-1h0m0-5h0m-1 0h0m0 8h0m-1-11h0m-1 2h0m0 6h0m-1-6h0m-2 1h0m0 0h0m-1-4h0m-1-2h0m0 3h0m0 10h0m-4 0h0m0 1h0m-1 0h0m0 1h0m1 4h0m0 1h0m2 10h0m0-15h0m1 9h0m1 0h0m1-8h0m0 11h0m0-3h0m1-5h0m0 11h0m2-13h0m1 1h0m0 4h0m1 6h0m0 1h0m0-5h0m0-9h0m1 16h0m1-15h0m1-1h0m1 10h0m0-4h0m1 1h0m1 6h0m0 0h0m1-13h0m0 1h0m0 9h0m2-6h0m1-2h0m0 5h0m31 1h0m1-3h0m0 10h0m1 1h0m1-7h0m1-1h0m0 0h0m1-5h0m0-2h0m0 3h0m1 0h0m1-2h0m1 14h0m1-10h0m1-3h0m1 13h0m0-9h0m0 6h0m1-12h0m1 10h0m3 4h0m0-1h0m1 0h0m1-8h0m1 5h0m0-2h0m0-1h0m0-7h0m1 7h0m1 5h0m0-13h0m2 7h0m0-3h0m0-1h0m0-2h0m1 10h0m1-2h0m0 1h0m2 4h0m0-14h0m8 13h0m2-12h0m4 5h0m3 5h0m0-6h0m1 1h0m2-4h0m1 12h0m3-7h0m0 3h0m0 1h0m5-11h0m1 15h0m2-5h0m2-1h0m1-2h0m2-5h0m4-2h0m14 4h0m4 10h0m4-8h0m0-6h0m0 14h0m3-1h0m0 2h0m0-9h0m0 6h0m3 1h0m4-3h0m0 0h0m1-9h0m2 7h0m2-1h0m1 9h0m0-7h0m0 6h0m1-15h0m2 4h0m4 3h0m1 8h0m0-8h0m1 1h0m0 5h0m0-6h0m1 5h0m2-11h0m0 14h0m2-6h0m1 7h0m5-2h0m2-11h0m1-1h0m0 8h0m1-3h0m3 3h0m6 2h0m-1 17h0m-4-10h0m-1 9h0m0-4h0m-1 4h0m-1 2h0m0-9h0m-1-3h0m-1 12h0m0-14h0m0 10h0m-1 3h0m0 3h0m0-3h0m-1-4h0m0 3h0m-2 1h0m0-10h0m-1-1h0m0 11h0m-2 2h0m-2-2h0m0-4h0m-1 5h0m-1 0h0m0 0h0m-1-12h0m0-2h0m0 8h0m-1 3h0m-1-8h0m0 6h0m-3-8h0m0 5h0m0-5h0m-1 3h0m-1 7h0m-1-6h0m0-2h0m0-1h0m0 12h0m0-4h0m0-9h0m-1 11h0m0-9h0m-2 5h0m0 6h0m-1-8h0m0 0h0m-1-5h0m0 9h0m0 4h0m0-7h0m-1 2h0m-1 6h0m0-6h0m-2 5h0m-3-9h0m-1 6h0m0 1h0m0-8h0m0-3h0m-2 6h0m0 5h0m-1 1h0m0 0h0m-1-2h0m-1 4h0m-1 0h0m-2-6h0m-1-5h0m-1 4h0m0 0h0m-5-7h0m0 0h0m-1 6h0m0-4h0m-1-1h0m-1 8h0m-1 4h0m-1-11h0m-1 8h0m0-6h0m0 2h0m-11 8h0m-3-7h0m-3-6h0m-4 3h0m-1 9h0m-1 1h0m-1 0h0m0 0h0m-1 0h0m0-8h0m0 5h0m-3-8h0m-2 9h0m-13-1h0m-5-3h0m0 2h0m-1-6h0m-1 10h0m-1-4h0m-1-9h0m-1 10h0m0 1h0m0-1h0m-1-7h0m0 7h0m-3-11h0m0 2h0m-3 7h0m0-6h0m-1 11h0m0-2h0m0-4h0m-6 5h0m-1-14h0m-1 14h0m-4-11h0m-1-2h0m0 13h0m-1-8h0m-1 6h0m0-7h0m-3 5h0m-3-6h0m-27-4h0m-2 4h0m-2 3h0m-1-5h0m-1-1h0m-2 1h0m0 1h0m-1-2h0m-1 0h0m-1 7h0m0-2h0m0-3h0m44 16h0m1 0h0m1 2h0m1-4h0m3 1h0m0 6h0m1 0h0m1 2h0m0-7h0m1 7h0m1-4h0m2 8h0m0-14h0m1 3h0m0 5h0m1 2h0m0 5h0m2 0h0m1 0h0m1-9h0m2 4h0m1-5h0m1 6h0m3 5h0m1-7h0m0-5h0m0 1h0m2 8h0m2-4h0m1-7h0m0 9h0m0-9h0m1 1h0m0 8h0m1-3h0m1 2h0m20-8h0m4-2h0m6 7h0m2-3h0m1 1h0m0 3h0m0 8h0m1-13h0m1 4h0m1 8h0m1-7h0m1 6h0m0 2h0m1-13h0m0 3h0m0-6h0m0 5h0m2 3h0m0 1h0m0-4h0m1 10h0m0-7h0m0-5h0m1-1h0m0 13h0m3-14h0m0 8h0m1-2h0m0-4h0m0 13h0m1-11h0m0 10h0m3-15h0m0 3h0m0 5h0m2-4h0m1 5h0m1-3h0m0 1h0m1 0h0m0 5h0m0 1h0m4-6h0m0 0h0m1-4h0m0 0h0m0 5h0m1-6h0m0 4h0m0-2h0m1 10h0m2-2h0m1-6h0m0-1h0m1-4h0m4 12h0m2-8h0m2 9h0m1-7h0m0 0h0m1 6h0m2-10h0m0 9h0m0-1h0m0-7h0m0 2h0m1 1h0m0 1h0m1 5h0m1-3h0m0-5h0m0-1h0m0 0h0m0-1h0m2 12h0m0-11h0m1 10h0m2 0h0m1 1h0m1 0h0m1-4h0m0-6h0m0 0h0m1 1h0m0 1h0m0 7h0m1-14h0m0 4h0m0 1h0m1 7h0m1-2h0m0-9h0m5 1h0m1 2h0m-11 16h0m0-1h0m0-2h0m0 0h0m-1-1h0m-2 4h0m0-2h0m0 4h0m-2-3h0m0-1h0m-2 9h0m-3-8h0m-1 8h0m-1-10h0m-1 7h0m0-5h0m-1 10h0m0-7h0m0 3h0m0-4h0m-1-2h0m0 8h0m-1 0h0m-1 1h0m-1-3h0m-1-8h0m0 10h0m0-3h0m0-7h0m-1 4h0m-2 8h0m-1-4h0m0-2h0m-1 8h0m0-6h0m-1-2h0m-3 0h0m0-4h0m-2 7h0m-1 5h0m0-15h0m-1 2h0m-1 0h0m-1 6h0m0 1h0m-1 4h0m-3-10h0m0 7h0m-1 3h0m0 1h0m0 2h0m0-2h0m0-13h0m-3 13h0m0-11h0m-1 8h0m-1-4h0m-3 0h0m0 2h0m-2-1h0m0 2h0m-1-6h0m-1 9h0m0 0h0m-1-6h0m-1 0h0m0-4h0m-2 4h0m-1 3h0m0 1h0m-2-8h0m-1 4h0m0 2h0m0-7h0m-1 7h0m-5-4h0m-3 2h0m-1 0h0m0-4h0m-1 0h0m-1 6h0m-1-2h0m0 2h0m-1 1h0m-1-5h0m-1 5h0m-1-4h0m0 3h0m-1-6h0m0 4h0m-2-2h0m-14 7h0m0-2h0m0-10h0m-1 10h0m-3-8h0m-1 2h0m0 9h0m0-4h0m-3 0h0m-1-8h0m-3 10h0m-1 4h0m0-1h0m-2-5h0m-1 1h0m0 5h0m-1-4h0m-3 4h0m0-7h0m-2-5h0m3 15h0m1 0h0m2 0h0m1 1h0m3 4h0m0-1h0m3-5h0m2 1h0m2 1h0m56 3h0m3-6h0m2 0h0m4 1h0m4 1h0m5 1h0m17-1h0m10 9h0" stroke="#dcdcdc" stroke-width="4.8" stroke-linecap="round"/><path transform="scale(0.25)" d="M2393 430h0m-28 20h0m1 1h0m23-2h0m25 12h0m5 2h0m5-13h0m9-2h0m1 26h0m-24 2h0m-17-4h0m-72 16h0m3-4h0m3 9h0m2 1h0m2-6h0m2 5h0m4-12h0m7 9h0m19 4h0m13-11h0m7 3h0m8 5h0m2-5h0m5-1h0m2 1h0m10 0h0m38 13h0m-13 1h0m-14 7h0m-19 1h0m-1 3h0m-16-1h0m-2-7h0m-2 3h0m-18-6h0m-4 0h0m-2 0h0m-23 6h0m-2 5h0m-2-11h0m-1 8h0m-2 1h0m-2-13h0m-3 9h0m-1-2h0m-5-6h0m3 23h0m4-6h0m4 4h0m7-4h0m1-1h0m3-1h0m7 13h0m3 3h0m4-14h0m13 4h0m1 9h0m3 0h0m4 1h0m5-13h0m23 12h0m7 0h0m14-4h0m20 1h0m1 9h0m-9-1h0m-7 0h0m-11 5h0m-1-6h0m-3 10h0m-6 0h0m-1-7h0m-2 9h0m0-5h0m-1 6h0m-1-3h0m-7-1h0m-2-2h0m-3-9h0m-3 3h0m-13-3h0m-2 10h0m-5 1h0m-3-8h0m-4-3h0m-1 15h0m-8-9h0m-1 1h0m-2-2h0m-9 8h0m-9-10h0m-2 1h0m-5 9h0m-8 2h0m-2-4h0m-2 1h0m-60-4h0m0 8h0m9 3h0m38 11h0m6-2h0m19-3h0m13-1h0m16 1h0m74 3h0m7 12h0m-2 6h0m0-5h0m-24-8h0m-1 1h0m-13 11h0m-33 0h0m-1-2h0m-8-6h0m-21-4h0m-1 11h0m-7-12h0m-10 2h0m-5 3h0m-12-3h0m6 15h0m15 10h0m2-11h0m2 0h0m3 10h0m0-10h0m6 3h0m3-2h0m22 2h0m14-2h0m1 7h0m1 5h0m9-11h0m1 7h0m17-4h0m7-3h0m4 0h0m7-2h0m7 22h0m-4 3h0m-3-4h0m-2-4h0m-4 4h0m-23-4h0m-12 5h0m-22-5h0m-3-1h0m-1 5h0m-19-6h0m-5 12h0m-3-1h0m-2-9h0m-4-1h0m0 1h0m-2 17h0m4 3h0m76 8h0" stroke="rgb(193,161,179)" stroke-width="3.8" stroke-linecap="round"/><path transform="scale(0.25)" d="M2398 430h0m11 8h0m-4 9h0m-11-6h0m-11-4h0m-22 24h0m32-2h0m6 2h0m42 15h0m-3 2h0m-26-4h0m-7 4h0m-32-12h0m-34 9h0m-5 5h0m-1-3h0m-15 19h0m8-7h0m3-8h0m3 11h0m1-8h0m21 12h0m1-11h0m6 10h0m1-12h0m16 10h0m7-6h0m14-1h0m3-1h0m7 8h0m7 0h0m9-8h0m14 5h0m1 2h0m4 17h0m-3-8h0m-9-4h0m-14 6h0m-10 5h0m-3-8h0m-1 8h0m0-10h0m-2 5h0m-6-1h0m-1-4h0m-6 7h0m-13-3h0m0-1h0m-7 5h0m-9-6h0m-1 9h0m-12-6h0m-2-2h0m-5-2h0m-13 10h0m-3-10h0m-1 6h0m0 0h0m-1-5h0m-41 27h0m33-14h0m7 14h0m2-6h0m5-4h0m8 10h0m5-10h0m4-4h0m8 8h0m2-2h0m3 7h0m5-8h0m27 6h0m6-3h0m3-4h0m11 5h0m7-10h0m2 11h0m9-8h0m7 2h0m2 11h0m-11 9h0m-5-4h0m-21 4h0m-3-1h0m-1 0h0m-2 7h0m-9-4h0m-15-6h0m-5 7h0m-1-10h0m-1 4h0m0 0h0m-8 0h0m-13 9h0m-19-11h0m-3 3h0m0-5h0m-44 11h0m-3-12h0m-8 7h0m0-1h0m0-2h0m-3 26h0m46-7h0m2 0h0m5 0h0m3 2h0m3-9h0m2 12h0m19-8h0m12 3h0m3 3h0m12-10h0m47 10h0m11 14h0m-16 7h0m0-12h0m-11-3h0m-3 3h0m-10 10h0m-31-10h0m-5 0h0m-21 9h0m-9-1h0m-7 1h0m-8-5h0m-2-8h0m-38 1h0m34 20h0m5-3h0m0 6h0m2-4h0m9-2h0m6 3h0m1 2h0m3 3h0m37-8h0m2 9h0m6-5h0m4 0h0m5 4h0m2 2h0m2 2h0m3-11h0m34 6h0m5-2h0m2-7h0m5 2h0m-15 24h0m-17-1h0m-8 7h0m-4-8h0m-35 2h0m-5-8h0m-17 0h0m0 4h0m-4-1h0m-3-1h0m-7-3h0m-6 5h0m2 11h0m0 4h0m2 0h0m1 1h0m1-4h0m77 1h0m2-1h0" stroke="rgb(178,128,157)" stroke-width="3.8" stroke-linecap="round"/><path transform="scale(0.25)" d="M2420 440h0m-2 7h0m-13-7h0m-31 17h0m16 4h0m7-11h0m3 12h0m8-8h0m7 2h0m8-2h0m9 3h0m-11 16h0m-20-9h0m-7 12h0m-7 0h0m-16-1h0m-10-1h0m-7-1h0m-31 12h0m2 4h0m3 5h0m1-2h0m3-2h0m10 4h0m5-7h0m0 7h0m26-11h0m0 10h0m3-2h0m2 4h0m42-3h0m0 6h0m-5 7h0m-5-6h0m-4 0h0m-15 7h0m-1-10h0m-1 2h0m-6 8h0m0-3h0m-8-6h0m-8-1h0m-1 15h0m-3-15h0m-3 12h0m-2 2h0m-1-12h0m0 2h0m-1 2h0m-1 7h0m-9 0h0m-1-3h0m-5-1h0m-4 5h0m-1-8h0m-8 9h0m-6-3h0m-3-3h0m-6 19h0m2-1h0m8-5h0m37 2h0m11 4h0m5 3h0m1-1h0m4-9h0m2-3h0m12 13h0m25 0h0m6-10h0m1 6h0m1-8h0m-21 24h0m-2 5h0m-24-3h0m-11-7h0m-5 7h0m-1-7h0m-2 9h0m-21-10h0m-2-3h0m-4 0h0m-17 5h0m-5-1h0m3 14h0m37 4h0m5 3h0m2-9h0m33 11h0m11 2h0m0-5h0m5-7h0m4 10h0m1-3h0m1 4h0m4 1h0m1-14h0m5 8h0m8-7h0m-1 25h0m-7 5h0m-2-1h0m-6-14h0m-1 6h0m-5 4h0m0 1h0m-2 3h0m-6-4h0m-4-10h0m-5 10h0m-1 3h0m-4-8h0m-55 8h0m-2-6h0m-3-7h0m-1 12h0m-1-3h0m-4 1h0m-8-8h0m-4-2h0m0 13h0m-2-9h0m-8 18h0m4 1h0m4 3h0m6 0h0m2-4h0m4-2h0m6-1h0m7 4h0m8-2h0m33 3h0m17-3h0m6 7h0m4-13h0m1 10h0m2-4h0m7 5h0m3-5h0m3 8h0m8 2h0m6-10h0m-11 19h0m0-8h0m-7 4h0m-9 4h0m-9-7h0m-3 2h0m-3 2h0m-4 1h0m-2 6h0m-1-4h0m-11-5h0m-21 7h0m-5-4h0m-19 9h0m-1-11h0m-16 10h0m-1-12h0" stroke="rgb(160,88,128)" stroke-width="3.8" stroke-linecap="round"/><rect x="622.8" y="111.9" width="8.2" height="43" fill="url(#gfeat)"/><line x1="622.8" y1="153.6" x2="624.6" y2="153.6" stroke="#fff" stroke-width="0.5"/><line x1="629.2" y1="153.6" x2="631" y2="153.6" stroke="#fff" stroke-width="0.5"/><text x="634.5" y="156.5" font-size="8">0</text><line x1="622.8" y1="144.9" x2="624.6" y2="144.9" stroke="#fff" stroke-width="0.5"/><line x1="629.2" y1="144.9" x2="631" y2="144.9" stroke="#fff" stroke-width="0.5"/><text x="634.5" y="147.8" font-size="8">1</text><line x1="622.8" y1="136.2" x2="624.6" y2="136.2" stroke="#fff" stroke-width="0.5"/><line x1="629.2" y1="136.2" x2="631" y2="136.2" stroke="#fff" stroke-width="0.5"/><text x="634.5" y="139.1" font-size="8">2</text><line x1="622.8" y1="127.5" x2="624.6" y2="127.5" stroke="#fff" stroke-width="0.5"/><line x1="629.2" y1="127.5" x2="631" y2="127.5" stroke="#fff" stroke-width="0.5"/><text x="634.5" y="130.4" font-size="8">3</text><line x1="622.8" y1="118.7" x2="624.6" y2="118.7" stroke="#fff" stroke-width="0.5"/><line x1="629.2" y1="118.7" x2="631" y2="118.7" stroke="#fff" stroke-width="0.5"/><text x="634.5" y="121.6" font-size="8">4</text><text x="590.9" y="188.8" font-size="8.8" text-anchor="middle" font-style="italic">DSE2</text><line x1="557.9" y1="190.3" x2="557.9" y2="246" stroke="#000" stroke-width="0.8"/><line x1="557.5" y1="245.6" x2="614.3" y2="245.6" stroke="#000" stroke-width="0.8"/><line x1="556" y1="192.2" x2="557.9" y2="192.2" stroke="#000" stroke-width="0.7"/><text x="555.4" y="195" font-size="8" text-anchor="end">5.0</text><line x1="556" y1="205.1" x2="557.9" y2="205.1" stroke="#000" stroke-width="0.7"/><text x="555.4" y="207.9" font-size="8" text-anchor="end">2.5</text><line x1="556" y1="218" x2="557.9" y2="218" stroke="#000" stroke-width="0.7"/><text x="555.4" y="220.8" font-size="8" text-anchor="end">0.0</text><line x1="556" y1="230.9" x2="557.9" y2="230.9" stroke="#000" stroke-width="0.7"/><text x="555.4" y="233.7" font-size="8" text-anchor="end">−2.5</text><line x1="556" y1="243.9" x2="557.9" y2="243.9" stroke="#000" stroke-width="0.7"/><text x="555.4" y="246.7" font-size="8" text-anchor="end">−5.0</text><line x1="572.8" y1="245.6" x2="572.8" y2="247.5" stroke="#000" stroke-width="0.7"/><text x="571.6" y="254.7" font-size="8.2" text-anchor="middle">−5</text><line x1="592.5" y1="245.6" x2="592.5" y2="247.5" stroke="#000" stroke-width="0.7"/><text x="592.2" y="254.7" font-size="8.2" text-anchor="middle">0</text><line x1="612.2" y1="245.6" x2="612.2" y2="247.5" stroke="#000" stroke-width="0.7"/><text x="611.9" y="254.7" font-size="8.2" text-anchor="middle">5</text><text x="591" y="261.9" font-size="8.5" text-anchor="middle">UMAP_1</text><text x="537.6" y="216.1" font-size="8.6" text-anchor="middle" transform="rotate(-90 537.6 216.1)">UMAP_2</text><path transform="scale(0.25)" d="M2374 783h0m6-6h0m0 6h0m2-2h0m1-1h0m0-1h0m2 1h0m1-4h0m1-3h0m2 6h0m1-5h0m1 8h0m3-4h0m0 1h0m1 4h0m0-6h0m1 5h0m2-8h0m0 1h0m0 8h0m3-9h0m0 4h0m0 0h0m0 4h0m1 0h0m3-6h0m0 1h0m0 7h0m1-3h0m0-6h0m2 2h0m0 0h0m1 4h0m0 0h0m1-1h0m0-3h0m3 6h0m1-2h0m6 2h0m5-11h0m1 12h0m16 14h0m-13-7h0m-1 6h0m-1 1h0m-2-2h0m0-9h0m-1 7h0m0-2h0m-1-2h0m0 8h0m-1-2h0m-2-4h0m0-3h0m-2 1h0m-1 9h0m0-7h0m-1 6h0m0-8h0m-1 9h0m0 0h0m0-3h0m0-6h0m0 6h0m-2-5h0m0 6h0m-4-1h0m-1-8h0m0 8h0m0 1h0m-1-7h0m-2 1h0m0-2h0m-1 1h0m-1 10h0m-1-3h0m0-3h0m0-3h0m-1 0h0m0-5h0m0 5h0m0 0h0m-2 9h0m0-10h0m-2 3h0m0-1h0m-3-7h0m-1 13h0m0-11h0m0 12h0m-1-4h0m-1 4h0m0 1h0m0-10h0m-1 0h0m0 5h0m-1-5h0m0 3h0m-1 5h0m-1-4h0m0-7h0m-1 0h0m-1-3h0m0 5h0m-1 1h0m0-5h0m-1 14h0m0-14h0m0 3h0m-1-4h0m-2 13h0m0-13h0m-1 10h0m-1-2h0m-1 0h0m-2 3h0m-1-6h0m0 1h0m-2 4h0m-4-9h0m-2 10h0m-1-1h0m0 5h0m-1-6h0m-1-5h0m-1 2h0m0 4h0m0 5h0m-1-3h0m-6 1h0m-23 14h0m19-2h0m0 4h0m1 2h0m1-1h0m1-3h0m0-9h0m0-2h0m1 15h0m2-12h0m2 10h0m0-1h0m0-9h0m1 0h0m1 2h0m2 2h0m2-5h0m0 9h0m3-6h0m0 0h0m0 11h0m1-7h0m1-4h0m3 5h0m0-6h0m1 5h0m0-8h0m1 14h0m2 0h0m1-11h0m0 11h0m0-1h0m1-11h0m0 9h0m1-1h0m1-8h0m1 4h0m0 6h0m1-5h0m0-6h0m1-1h0m0 4h0m1 0h0m0 6h0m1-4h0m0-2h0m1 9h0m0-10h0m1 2h0m0 5h0m1-7h0m0-1h0m1 1h0m0 1h0m0 0h0m1 1h0m0-3h0m1 11h0m0 1h0m0-9h0m1 3h0m0 7h0m1-8h0m0 0h0m1 3h0m1 0h0m1-5h0m1 4h0m1-5h0m0-3h0m0 6h0m1 3h0m0-5h0m1 2h0m1-7h0m1 5h0m0-1h0m3-2h0m1 4h0m3-6h0m2-1h0m1 9h0m0 7h0m0-13h0m1 8h0m0-7h0m2 6h0m0-9h0m1 8h0m0-8h0m0 9h0m1 5h0m1-9h0m0-2h0m0 3h0m1 8h0m1-8h0m0 7h0m1-5h0m0 6h0m0-11h0m1 4h0m0 5h0m1-1h0m3 1h0m1 2h0m0-12h0m1 8h0m1-5h0m0-5h0m0 2h0m1 3h0m1-4h0m0-1h0m0-1h0m1 16h0m0-6h0m1 5h0m1-8h0m0 2h0m2 3h0m7 14h0m-2-5h0m-1 10h0m0-11h0m0 2h0m-1 1h0m-2-1h0m0-4h0m-2 1h0m0 6h0m-1 4h0m-1-6h0m0 2h0m0-7h0m-4 0h0m-1 1h0m-1 2h0m-1 1h0m-1 3h0m0-5h0m-1 9h0m-1-9h0m0-3h0m-2 6h0m-1-6h0m0 0h0m-1 12h0m-1-3h0m0 2h0m-2-1h0m-5 4h0m0-14h0m0 0h0m-1 12h0m0 2h0m0-2h0m-1-9h0m0 10h0m-3-10h0m0 4h0m-2-2h0m-1 9h0m-1-6h0m-1 3h0m-1-6h0m0 4h0m-1 3h0m-1 0h0m0-12h0m-1 12h0m0-6h0m-2 4h0m-1-9h0m0 11h0m0-10h0m-1 1h0m0 2h0m-1 8h0m-2-3h0m0-1h0m-1-3h0m-1-3h0m-2-1h0m0-2h0m0 4h0m-2 10h0m-2-3h0m0 2h0m-1-6h0m0-6h0m-1 13h0m-1-2h0m0-2h0m-2 5h0m0-10h0m-2 4h0m-2 6h0m-1-6h0m-1-1h0m-1 7h0m0-13h0m-2 8h0m-2-10h0m-1 12h0m-2-5h0m-2 3h0m-1-10h0m-2 8h0m-1-6h0m-1 12h0m0-1h0m-1-4h0m-1 2h0m0-10h0m-1-1h0m-2 8h0m-1 2h0m-1-11h0m0 3h0m0 4h0m0 7h0m0-6h0m-3 6h0m0-8h0m0 1h0m-3-2h0m0 5h0m-1-4h0m-1 4h0m-1-7h0m0 11h0m-2-11h0m-2 2h0m0 4h0m-3-2h0m-1-3h0m0 11h0m0-3h0m-1-1h0m0 1h0m-3-3h0m-1 0h0m-3 6h0m-1-4h0m-1 1h0m-12 7h0m3 7h0m1-3h0m1 2h0m1 2h0m3-5h0m1 8h0m0-13h0m1 10h0m1 5h0m1-5h0m0 3h0m1-6h0m0-7h0m0 3h0m1-3h0m0 14h0m1-11h0m0-2h0m1 4h0m1 0h0m0-3h0m1 9h0m0-5h0m0 6h0m1-13h0m1 4h0m0-2h0m0 5h0m1 5h0m1 2h0m0-1h0m1 1h0m3 2h0m2-12h0m0 5h0m0 2h0m2-5h0m2-4h0m0 13h0m0-11h0m1 9h0m2-12h0m0 4h0m0 10h0m0-3h0m0 1h0m1 0h0m1-8h0m1 1h0m1 5h0m0-2h0m1 0h0m1 6h0m0-12h0m0 0h0m1 4h0m0-4h0m1 11h0m1-1h0m1-1h0m0-2h0m0 2h0m2 0h0m0 2h0m1-3h0m1-3h0m0-2h0m1 0h0m1 2h0m0-4h0m0 1h0m0 7h0m0-4h0m0-2h0m0 3h0m2 3h0m0-11h0m1 7h0m1 0h0m1 0h0m2 8h0m1-14h0m2 11h0m0-8h0m0 0h0m1-1h0m0 6h0m1 1h0m1 2h0m0 1h0m0-11h0m2 1h0m0 3h0m0-3h0m1 7h0m1 4h0m1-2h0m1 1h0m1-13h0m0 14h0m0-1h0m0 0h0m0-1h0m1-5h0m2 1h0m0-3h0m1-6h0m1 14h0m1-4h0m1-2h0m1-5h0m1 2h0m3 5h0m1 4h0m0-8h0m1-1h0m1 7h0m0 2h0m2 0h0m0-2h0m1 0h0m0 1h0m1 2h0m0-14h0m1-1h0m0 7h0m0-3h0m1 3h0m0-1h0m0 4h0m0-1h0m1 4h0m0-1h0m1-1h0m0 5h0m3-9h0m0 2h0m0-4h0m1-4h0m0 10h0m0-11h0m1 13h0m1-12h0m0 12h0m0 1h0m3-9h0m0-1h0m1 1h0m2 10h0m0-10h0m1 5h0m0-7h0m1 4h0m0 2h0m0-5h0m3-3h0m4 5h0m0 3h0m0 5h0m0-5h0m1 3h0m0-4h0m1-3h0m0 5h0m2 4h0m0-11h0m0 2h0m1 7h0m0-3h0m1 5h0m1 0h0m1-2h0m0-2h0m1 5h0m0-5h0m0-3h0m0 4h0m2-1h0m1 1h0m0-9h0m1 2h0m1 1h0m0 9h0m0-1h0m1-5h0m3 7h0m0-12h0m0-1h0m1 8h0m2 1h0m0 16h0m-1 0h0m-3-1h0m0-6h0m0-2h0m0-1h0m-1 15h0m-1-4h0m-1-6h0m0 4h0m0 6h0m-1-9h0m-1 2h0m-1-1h0m0-3h0m-1 9h0m0-7h0m-1 2h0m-1 6h0m0-2h0m0 1h0m0-6h0m-1-1h0m-1 5h0m0 2h0m0-9h0m-1 8h0m0-2h0m-1-8h0m0 9h0m-1-4h0m0 8h0m-1-3h0m-1 1h0m-1-1h0m0-2h0m0 3h0m-1 0h0m0-11h0m0-1h0m-1 0h0m0 11h0m0-5h0m-1 3h0m0-5h0m-1 1h0m-1-2h0m0 2h0m-1-1h0m0-4h0m0 3h0m0 1h0m-1 3h0m0-2h0m-2 3h0m-1 4h0m0-5h0m0-1h0m0 3h0m-1-11h0m0 10h0m0-6h0m-1-3h0m-2 10h0m-1-7h0m-1-4h0m-2 2h0m-1 2h0m0 2h0m-4-3h0m-2 1h0m-1 7h0m0-5h0m-1 5h0m-1 1h0m-3-11h0m0 15h0m-4-9h0m-1-6h0m-1 4h0m-1-4h0m-3 4h0m-1 0h0m0 7h0m-2-10h0m0 5h0m0-4h0m-1 7h0m-1-9h0m0 0h0m0 8h0m-1 0h0m0 1h0m0 3h0m-1 3h0m-1-13h0m0 7h0m-5 4h0m-1-14h0m-1 8h0m-2-6h0m-1 12h0m-1-2h0m-1 1h0m0-6h0m0 7h0m-1-8h0m0 0h0m0 2h0m0 6h0m-1-4h0m0 0h0m0-9h0m-1 6h0m0 7h0m0-8h0m0 2h0m-1 2h0m-1-3h0m0-1h0m0 6h0m0-11h0m-1 3h0m-1 1h0m0 10h0m0-2h0m0 3h0m-1-10h0m-3-1h0m0 10h0m-2-9h0m-1 4h0m0-6h0m-1-4h0m-2 11h0m-2 0h0m0 4h0m-1-13h0m0 3h0m-1-3h0m0-1h0m0 8h0m-1 7h0m-3-4h0m0 2h0m0-4h0m-1-9h0m0-1h0m-1 9h0m0 7h0m-1-13h0m0 5h0m-1 4h0m0-8h0m0 7h0m0-1h0m-1-4h0m-1-3h0m0 6h0m-1 1h0m0 0h0m0-8h0m-1 11h0m0 2h0m-3-6h0m0-5h0m-1 7h0m0-7h0m0-2h0m0 12h0m0-10h0m-1 9h0m-1 0h0m0-8h0m0 1h0m0-1h0m-1 3h0m0-7h0m-1 11h0m-1-11h0m-1 5h0m0-3h0m0-2h0m0 0h0m0 8h0m-1-8h0m0 14h0m0 0h0m0-1h0m0 1h0m-1-9h0m0-2h0m0-2h0m-2 12h0m0-11h0m-1 5h0m0-4h0m0-3h0m-1 1h0m0-2h0m0 7h0m0 6h0m0-6h0m-1 7h0m0-2h0m0-5h0m0-7h0m0 6h0m-1 5h0m-1-5h0m0-1h0m0 2h0m0-5h0m0 11h0m-1-3h0m-59 18h0m0-4h0m1 2h0m1 5h0m0 0h0m1-10h0m1 1h0m0 8h0m1-9h0m0 9h0m0-7h0m1 5h0m1 3h0m1 0h0m3-3h0m0 3h0m1-1h0m2-10h0m5 4h0m5 6h0m1-9h0m2 2h0m2 5h0m24-2h0m4-6h0m2 3h0m0 5h0m1-9h0m1-2h0m3 7h0m3-2h0m0-1h0m0 9h0m1-8h0m0 2h0m1 4h0m0-8h0m0-3h0m2 1h0m0 7h0m1-9h0m1 13h0m0-12h0m2 10h0m1-9h0m0 1h0m0 0h0m1-2h0m0 10h0m0-5h0m0 5h0m3-1h0m1-8h0m0 4h0m1 1h0m0-6h0m2 9h0m1-1h0m0-4h0m1-4h0m0 12h0m3-5h0m0-6h0m2 2h0m2 0h0m0 10h0m1-6h0m0 2h0m1 5h0m1 0h0m1-14h0m0 6h0m1 4h0m1-10h0m0 14h0m2-1h0m3-8h0m1 3h0m0-8h0m1 3h0m1 11h0m1-5h0m0 4h0m1 0h0m0-7h0m0 5h0m0 1h0m0 1h0m1 0h0m0-5h0m0-4h0m1-3h0m0 8h0m1-3h0m0 2h0m2-5h0m1 3h0m0 0h0m0 7h0m1-1h0m0-9h0m1 2h0m1 7h0m1-5h0m0 1h0m2 6h0m0-8h0m1-1h0m1-3h0m7 1h0m0 5h0m0-4h0m1 11h0m0-11h0m0 7h0m1-3h0m0 2h0m1 4h0m0-8h0m1 4h0m1-2h0m1-5h0m2 5h0m1 6h0m0-14h0m1 6h0m0-1h0m0 10h0m2-1h0m0-9h0m0-5h0m1 7h0m0 8h0m1-5h0m3-4h0m2 0h0m0 1h0m1 7h0m0-13h0m0 4h0m1 9h0m0-15h0m0 14h0m0-3h0m1-2h0m1-4h0m0 10h0m1-8h0m0 5h0m2-11h0m3 11h0m2 3h0m0-1h0m0-3h0m0-9h0m1-1h0m1 15h0m0-11h0m1-3h0m0 8h0m1-8h0m0 5h0m1 4h0m1 2h0m0-4h0m1-6h0m1 2h0m0-3h0m1 4h0m2 5h0m0-8h0m0 11h0m0 0h0m0 2h0m1-4h0m0-6h0m1 1h0m0 7h0m0-10h0m1 1h0m1-5h0m0 6h0m0-1h0m2-5h0m1 2h0m1 9h0m1-5h0m0 2h0m0-5h0m1 13h0m1-9h0m2 4h0m2-3h0m1 6h0m0-5h0m0-6h0m1 10h0m0-10h0m1 1h0m1 8h0m-5 11h0m-4-7h0m-1 2h0m-3 5h0m0-5h0m0 8h0m-1 5h0m-1-5h0m-1 1h0m-1-10h0m0 3h0m-2-4h0m-7 8h0m0 0h0m-1-2h0m0 0h0m0-1h0m-2 10h0m0-14h0m0 14h0m-1 0h0m-1-1h0m-1-6h0m-1-3h0m-1-2h0m-1 8h0m-2 0h0m-2-9h0m0 3h0m-1-3h0m-1 6h0m0 7h0m-1-8h0m0 0h0m0-5h0m-1 7h0m0-1h0m0-1h0m-1-2h0m0 0h0m-1-4h0m0 1h0m-2-1h0m0-1h0m-1 1h0m0 0h0m-1 0h0m-1 0h0m-1 2h0m0 11h0m0-7h0m0 0h0m-2-5h0m-1 6h0m-2-7h0m0 3h0m-2 1h0m-2-4h0m0 2h0m-1-2h0m-1 10h0m-3-6h0m-7-2h0m-2 0h0m-2 5h0m0-4h0m-2-3h0m-1 1h0m0 1h0m0 3h0m-1 4h0m0-3h0m0-3h0m-1 0h0m0-2h0m-1-1h0m0 13h0m-2-10h0m0 3h0m-1-4h0m-1 2h0m-1 2h0m-1 1h0m-3 8h0m-1-12h0m-1 11h0m0-1h0m-1-12h0m-3-2h0m0 9h0m-2 4h0m-1-1h0m0-10h0m-1 3h0m-2 9h0m0-7h0m0 0h0m-2-3h0m-2 5h0m0-3h0m-10 2h0m-4-3h0m-3 11h0m-1-7h0m-5 7h0m-4-8h0m-1 5h0m-2-3h0m0 6h0m-2-6h0m-8-10h0m-23 2h0m-4 5h0m-1 7h0m0-4h0m-1 2h0m0-8h0m0 0h0m-1-3h0m-1 1h0m0 7h0m0-1h0m-2-8h0m0 2h0m0 13h0m-1-1h0m0-10h0m-1 4h0m-1-3h0m0 4h0m0-5h0m-1 2h0m-1 2h0m-1 7h0m0-5h0m0 1h0m0-8h0m-1 7h0m-2 2h0m-1-4h0m-1-2h0m-2 2h0m-2-2h0m0 6h0m0-12h0m0 12h0m0-3h0m0-2h0m-1 1h0m0-1h0m3 15h0m1-5h0m1-1h0m1 4h0m0-4h0m1 10h0m0 4h0m0-7h0m0 8h0m1-6h0m1-1h0m1 3h0m0-2h0m1-4h0m0 1h0m0-5h0m1 6h0m0 2h0m1 0h0m0-2h0m2-5h0m1 9h0m1-6h0m0 0h0m1 3h0m0-6h0m34 11h0m2-5h0m1 0h0m0-7h0m5 7h0m5 2h0m2 2h0m3-1h0m3 2h0m1-8h0m2-2h0m1-3h0m0 2h0m2 3h0m1 5h0m6-9h0m1 3h0m9-1h0m3 9h0m1-6h0m1 8h0m1-12h0m0 13h0m0-3h0m1-10h0m0 1h0m4 9h0m1-9h0m1 4h0m1 3h0m1-9h0m2 0h0m14 14h0m0-2h0m1-2h0m3-1h0m1 1h0m0 3h0m1-5h0m0-1h0m5 8h0m0-10h0m1 8h0m0-2h0m3-7h0m1 0h0m2 0h0m0 2h0m0-3h0m1 10h0m2-6h0m0 4h0m0 0h0m0-8h0m1 9h0m0-5h0m3-7h0m0 1h0m2 5h0m0-6h0m2 10h0m0 4h0m0-7h0m1 2h0m0 4h0m0 0h0m1 1h0m0-8h0m0-7h0m0 7h0m2 4h0m1-2h0m0 1h0m0 1h0m0 1h0m1 0h0m1 0h0m0-7h0m1-3h0m0 7h0m0 5h0m0-6h0m1-2h0m1 1h0m0 8h0m1-10h0m0 4h0m0-6h0m0 7h0m1-7h0m1 13h0m0-8h0m0-1h0m1-1h0m2-5h0m1 7h0m2-7h0m1 8h0m0-4h0m2 1h0m3 2h0m0-7h0m1 9h0m1 3h0m2 3h0m0-14h0m1 9h0m5-7h0m-1 17h0m-5-1h0m-1 6h0m0-7h0m0 6h0m-1-3h0m0-5h0m-1 2h0m0 11h0m-1-7h0m0-2h0m0-3h0m-1 3h0m0 2h0m0-2h0m-1 3h0m0-7h0m0 2h0m0 5h0m-1-8h0m-1 5h0m0 7h0m0 0h0m0 2h0m0-6h0m-1 7h0m0-10h0m0 9h0m-1-7h0m0 6h0m0 0h0m-1-6h0m-2-2h0m0-4h0m-1 5h0m-1 0h0m0 0h0m-1 6h0m-1-9h0m-1 7h0m0 2h0m0 1h0m0-13h0m-2 14h0m0-5h0m0 7h0m0-2h0m-1 0h0m0-2h0m0-2h0m-2-7h0m0 5h0m-1-2h0m0 9h0m0-12h0m0 12h0m0-13h0m0 2h0m-1 0h0m-1 2h0m-1 7h0m0-2h0m0-6h0m-2-3h0m0 4h0m-1-6h0m0 14h0m-1-7h0m0 3h0m0-10h0m-1 2h0m-1 4h0m0 2h0m0 1h0m-1 4h0m0 1h0m-3-11h0m0 1h0m-1 10h0m0-2h0m0 1h0m0-4h0m-1 7h0m0-6h0m0-6h0m0 7h0m-1 4h0m0 0h0m0-10h0m-1-3h0m0 0h0m-1 5h0m0-1h0m0 0h0m-1 1h0m-1 8h0m-1 0h0m0-2h0m0-12h0m-2 10h0m0-6h0m0 6h0m-2 4h0m0-5h0m0-2h0m-3 5h0m-1-2h0m0 4h0m-1-6h0m-2 1h0m0-4h0m-1 4h0m-1-7h0m0 7h0m0 5h0m-1-3h0m0 2h0m-2-2h0m0-4h0m0 6h0m0-4h0m-2 6h0m0-3h0m-2 1h0m-1-4h0m-1-1h0m0 4h0m-1-1h0m-1-5h0m-1 7h0m-1-4h0m-1-10h0m-3 6h0m-1 2h0m0-4h0m-4 6h0m-1-3h0m0 5h0m-1-5h0m0 0h0m-1 0h0m0-3h0m-5 1h0m-5 9h0m-8-8h0m-1 5h0m-1-2h0m-3-9h0m-3 2h0m-12 13h0m-1-7h0m-3-2h0m-2 0h0m-5-1h0m-1 6h0m-1 3h0m0-11h0m-3-2h0m17 25h0m0-7h0m2 4h0m2 1h0m7 0h0m0 5h0m1-12h0m0 8h0m2-1h0m4-5h0m12 9h0m1 3h0m1-1h0m0-3h0m1 3h0m0-1h0m1-4h0m1 1h0m0 2h0m2-2h0m0 5h0m2-4h0m1-1h0m4 2h0m6-2h0m0 5h0m1-4h0m0-9h0m2-2h0m0 8h0m1-7h0m0 13h0m1-8h0m1 5h0m0 4h0m0-9h0m1 9h0m1-10h0m0 3h0m1 4h0m0 2h0m1-13h0m1-1h0m0 1h0m1 5h0m0 9h0m1-8h0m2-5h0m0 12h0m1-13h0m0 0h0m1 10h0m0-4h0m1-3h0m0 3h0m2 2h0m0-3h0m1 4h0m0 0h0m0 5h0m3-14h0m1 15h0m0-2h0m1-10h0m0 1h0m0 5h0m1 0h0m1-2h0m0 4h0m3-3h0m0 2h0m0 3h0m2-10h0m0 2h0m1 9h0m1-12h0m1 12h0m2-13h0m1 11h0m1 3h0m0-7h0m1-5h0m3 10h0m0-3h0m1 2h0m0 1h0m0-8h0m1 4h0m1-1h0m0-6h0m0 1h0m1 6h0m1 1h0m0-8h0m0 0h0m0 10h0m1 1h0m1-9h0m1-4h0m1 4h0m1 5h0m0-3h0m0 4h0m1-5h0m1 3h0m0 4h0m0-3h0m0 2h0m1 2h0m0-14h0m0 5h0m1 2h0m0 1h0m1 1h0m0 0h0m0 1h0m0-3h0m0 4h0m1-8h0m1 4h0m0-2h0m2-1h0m1-2h0m-8 15h0m-2 1h0m-2 7h0m0-6h0m-4 0h0m-2-3h0m-1 5h0m0-5h0m-1 3h0m-1 0h0m-1 1h0m-1-3h0m-1-1h0m0 3h0m-3 2h0m0-5h0m-1 1h0m-1 10h0m0-5h0m0-5h0m-2 8h0m-2 1h0m-1 0h0m-1-3h0m0-5h0m-1 4h0m-2 3h0m-1-9h0m0 1h0m-1 4h0m-2 3h0m-1-6h0m-1 6h0m0-3h0m0 1h0m0 1h0m0-1h0m-1-1h0m-1-4h0m-1 5h0m0 8h0m-1-11h0m-4-2h0m-2-1h0m0 2h0m-2 2h0m0 0h0m-5-2h0m0 1h0m-4-2h0m-9 1h0m-3-1h0m-1 2h0m-2-2h0m-1-1h0m-18 2h0m-4 3h0m0-4h0m-7 13h0m-2-1h0m-1-3h0m-1 3h0m-1-10h0m-2 7h0m-2-3h0m83 15h0m34-3h0" stroke="#dcdcdc" stroke-width="4.8" stroke-linecap="round"/><path transform="scale(0.25)" d="M2359 810h0m0-7h0m46 23h0m-79 6h0m0 14h0m2 1h0m5-10h0m14 1h0m16 6h0m12-3h0m3 5h0m-12 3h0m-34 5h0m-6 4h0m-9 3h0m-3-5h0m-39 8h0m36 11h0m1 3h0m5 0h0m2-14h0m1 10h0m18 3h0m14 0h0m3-7h0m26 9h0m-12 9h0m-10 1h0m-35 0h0m0 6h0m-2-7h0m-1 0h0m-2 5h0m-14 3h0m-4 0h0m-7 11h0m9-1h0m5-2h0m4 0h0m5-2h0m4 3h0m1-4h0m0-3h0m6 7h0m59 7h0m39-6h0m4 8h0m-97 2h0m-2 6h0m0 0h0m-1-5h0m-2 0h0m0 7h0m0-9h0m-2 10h0m0-2h0m0 1h0m-3-7h0m0-2h0m-1 0h0m-1 9h0m-3 2h0m-2-12h0m0 8h0m-1-5h0m0-5h0m-1 5h0m-6 6h0m-2-1h0m-2 6h0m-4-3h0m8 6h0m0 8h0m6-2h0m0-7h0m1 1h0m7 0h0m3 9h0m1-11h0m2 12h0m0-9h0m2-3h0m24 14h0m50-6h0m-40 8h0m-38 7h0m-4-7h0m-2 2h0m-2 0h0m-1 2h0m-3 1h0m-2 4h0m0 1h0" stroke="rgb(193,161,179)" stroke-width="3.8" stroke-linecap="round"/><path transform="scale(0.25)" d="M2393 774h0m40 18h0m-63 23h0m23-12h0m-3 13h0m-69 16h0m42 11h0m65 16h0m-6-5h0m-5 1h0m-92-4h0m-39 19h0m21 6h0m5-9h0m4 5h0m0 7h0m5 0h0m34-10h0m22-4h0m-37 19h0m-16 7h0m0 0h0m-2-6h0m-5 1h0m-1-1h0m-2 3h0m-2-4h0m0 11h0m-5-9h0m-1 3h0m-1 7h0m-42 15h0m31-3h0m8-3h0m0-2h0m1-3h0m3 9h0m0 3h0m2-3h0m2-13h0m1 11h0m3-8h0m3 4h0m1-1h0m1 3h0m1-8h0m35 12h0m2-10h0m77 25h0m-12-6h0m-6 5h0m-62-5h0m-23-6h0m-4 5h0m-1-3h0m-4 7h0m0 3h0m-3-3h0m-4-2h0m-2 4h0m-3-6h0m-4 10h0m-6-5h0m9 8h0m1 14h0m2-10h0m0 8h0m6-4h0m7 2h0m5-4h0m2 2h0m1-10h0m1 2h0m21 12h0m-5 3h0m-20 3h0m0-2h0m-5 9h0m-2-7h0m-6 10h0m0-8h0m-1 7h0m-2-12h0m0 8h0" stroke="rgb(178,128,157)" stroke-width="3.8" stroke-linecap="round"/><path transform="scale(0.25)" d="M2398 795h0m-24 7h0m-40 30h0m-4-2h0m-1-1h0m-11 10h0m23-1h0m23 19h0m-52 23h0m1-1h0m4-9h0m0 9h0m3 0h0m8-3h0m17-6h0m3-6h0m5 0h0m60 10h0m-5 14h0m-2 7h0m-15-1h0m-29-8h0m-20 7h0m-18-10h0m-4 13h0m-5-4h0m-2-3h0m-2 1h0m-1-6h0m-3 2h0m0 6h0m-1-1h0m-4 2h0m-26-8h0m-10 20h0m31-3h0m3 7h0m10-5h0m2-4h0m6-2h0m2 1h0m4 6h0m3 4h0m73-4h0m18 0h0m-24 12h0m-3 9h0m-12-13h0m-46 15h0m-7-9h0m-3 7h0m0-11h0m-1 1h0m-1-1h0m-1 9h0m-3-3h0m-1 5h0m-6 0h0m-3-2h0m-2 3h0m0-5h0m-2-1h0m-1 4h0m-2-2h0m7 5h0m1 2h0m0 9h0m6-4h0m3 0h0m3-5h0m1 7h0m1-6h0m9-1h0m1 12h0m39-2h0m46 5h0m-65 0h0m-29 9h0m-2-2h0m-3 1h0m0 6h0m-3-15h0m-1 9h0m-4-3h0" stroke="rgb(160,88,128)" stroke-width="3.8" stroke-linecap="round"/><rect x="622.8" y="197.9" width="8.2" height="43" fill="url(#gfeat)"/><line x1="622.8" y1="239.6" x2="624.6" y2="239.6" stroke="#fff" stroke-width="0.5"/><line x1="629.2" y1="239.6" x2="631" y2="239.6" stroke="#fff" stroke-width="0.5"/><text x="634.5" y="242.5" font-size="8">0</text><line x1="622.8" y1="228.1" x2="624.6" y2="228.1" stroke="#fff" stroke-width="0.5"/><line x1="629.2" y1="228.1" x2="631" y2="228.1" stroke="#fff" stroke-width="0.5"/><text x="634.5" y="231" font-size="8">1</text><line x1="622.8" y1="216.3" x2="624.6" y2="216.3" stroke="#fff" stroke-width="0.5"/><line x1="629.2" y1="216.3" x2="631" y2="216.3" stroke="#fff" stroke-width="0.5"/><text x="634.5" y="219.2" font-size="8">2</text><line x1="622.8" y1="204.1" x2="624.6" y2="204.1" stroke="#fff" stroke-width="0.5"/><line x1="629.2" y1="204.1" x2="631" y2="204.1" stroke="#fff" stroke-width="0.5"/><text x="634.5" y="207" font-size="8">3</text><text x="590.9" y="274.7" font-size="8.8" text-anchor="middle" font-style="italic">PIR1</text><line x1="557.9" y1="276.2" x2="557.9" y2="331.9" stroke="#000" stroke-width="0.8"/><line x1="557.5" y1="331.5" x2="614.3" y2="331.5" stroke="#000" stroke-width="0.8"/><line x1="556" y1="278.1" x2="557.9" y2="278.1" stroke="#000" stroke-width="0.7"/><text x="555.4" y="280.9" font-size="8" text-anchor="end">5.0</text><line x1="556" y1="291" x2="557.9" y2="291" stroke="#000" stroke-width="0.7"/><text x="555.4" y="293.8" font-size="8" text-anchor="end">2.5</text><line x1="556" y1="303.9" x2="557.9" y2="303.9" stroke="#000" stroke-width="0.7"/><text x="555.4" y="306.7" font-size="8" text-anchor="end">0.0</text><line x1="556" y1="316.8" x2="557.9" y2="316.8" stroke="#000" stroke-width="0.7"/><text x="555.4" y="319.6" font-size="8" text-anchor="end">−2.5</text><line x1="556" y1="329.8" x2="557.9" y2="329.8" stroke="#000" stroke-width="0.7"/><text x="555.4" y="332.6" font-size="8" text-anchor="end">−5.0</text><line x1="572.8" y1="331.5" x2="572.8" y2="333.4" stroke="#000" stroke-width="0.7"/><text x="571.6" y="340.6" font-size="8.2" text-anchor="middle">−5</text><line x1="592.5" y1="331.5" x2="592.5" y2="333.4" stroke="#000" stroke-width="0.7"/><text x="592.2" y="340.6" font-size="8.2" text-anchor="middle">0</text><line x1="612.2" y1="331.5" x2="612.2" y2="333.4" stroke="#000" stroke-width="0.7"/><text x="611.9" y="340.6" font-size="8.2" text-anchor="middle">5</text><text x="591" y="347.8" font-size="8.5" text-anchor="middle">UMAP_1</text><text x="537.6" y="302" font-size="8.6" text-anchor="middle" transform="rotate(-90 537.6 302)">UMAP_2</text><path transform="scale(0.25)" d="M2406 1119h0m-1 1h0m-4-3h0m-3 1h0m0 0h0m-5 0h0m-3-1h0m-3-1h0m-1 3h0m-24 15h0m1-3h0m5-2h0m6 4h0m0-7h0m0 7h0m4 2h0m2-7h0m0-7h0m0 6h0m2 1h0m0-3h0m1 7h0m0-4h0m0-4h0m0-2h0m1 12h0m1-1h0m0-9h0m0 4h0m1 2h0m1 1h0m2 3h0m0-12h0m1 12h0m1 0h0m0-9h0m2 6h0m1-10h0m0 2h0m1 4h0m0-6h0m1 4h0m1 10h0m1-8h0m3 8h0m0 0h0m0-5h0m0-8h0m0 0h0m0 12h0m0-8h0m1 0h0m0 9h0m2-1h0m1-13h0m0 11h0m0 2h0m0-6h0m1-4h0m1 9h0m1-12h0m0 0h0m0 11h0m1-7h0m0 0h0m1-1h0m0-3h0m3 6h0m1-2h0m2 8h0m2 1h0m2-7h0m0 5h0m3 2h0m1 2h0m1-5h0m1-3h0m3 7h0m4 1h0m9 6h0m-7 9h0m-3-7h0m0 0h0m0 2h0m-1 4h0m-1-3h0m0-2h0m0 5h0m-2-3h0m0-6h0m-1 1h0m-3-5h0m-1 15h0m0-11h0m-1 7h0m0-8h0m-1 11h0m-1-15h0m-1 14h0m0-2h0m0 2h0m-2-14h0m0 9h0m-1 0h0m0-4h0m-1 2h0m0 0h0m0-3h0m0 0h0m-1 8h0m-1-1h0m-1-3h0m-2 1h0m-1-5h0m-1-1h0m0 2h0m-1 9h0m-1-3h0m-3 1h0m0-4h0m-1-3h0m0-3h0m0 7h0m-1 7h0m-1-2h0m-1-6h0m0 8h0m0-6h0m0 2h0m-1-9h0m-1 11h0m0-13h0m-3 15h0m0 0h0m-1-11h0m0 6h0m-1-8h0m0 10h0m-1-7h0m0 2h0m0 6h0m-1-2h0m0 1h0m0-11h0m0 10h0m-1-1h0m0 1h0m0-11h0m-1 5h0m0 8h0m-1-13h0m0 11h0m-1 0h0m0 3h0m-1-3h0m-1 1h0m0-4h0m-1 1h0m0 6h0m0-9h0m-1 8h0m-1-4h0m-1-7h0m-1-3h0m0 10h0m-1 1h0m-1-12h0m-2 3h0m-1 6h0m0 0h0m-1 3h0m-1-10h0m-2 11h0m-2 0h0m0-1h0m-2-9h0m-1-2h0m0 6h0m0 2h0m-1-8h0m-1 13h0m-1-12h0m0 4h0m-1-2h0m-1 6h0m-1 1h0m-2 0h0m-2-6h0m-1 3h0m0 2h0m-15 17h0m2 0h0m3 2h0m6 3h0m0-5h0m0-3h0m1-7h0m2 5h0m1 3h0m0-6h0m1 4h0m0 2h0m3 2h0m1-6h0m0-4h0m0 3h0m2 5h0m3 7h0m1-13h0m2 5h0m1 0h0m1-8h0m1 6h0m1 5h0m2-9h0m1-1h0m1 5h0m2 0h0m1 7h0m0-7h0m1-2h0m1-1h0m2 2h0m0 5h0m0 5h0m3-12h0m2 3h0m0 7h0m0-4h0m0 2h0m1-8h0m2 12h0m0-7h0m2-2h0m0 1h0m1-6h0m0 7h0m1 6h0m0-3h0m1 0h0m0-9h0m1 1h0m2 12h0m1-6h0m1-6h0m1 10h0m4 0h0m2-1h0m3 0h0m2-4h0m0 1h0m1-8h0m1 2h0m2-2h0m1 0h0m0 1h0m1 4h0m2 0h0m1-1h0m0 4h0m1-8h0m0 14h0m0-9h0m1-2h0m1 5h0m0 2h0m0-7h0m2 8h0m1-8h0m2-2h0m0 9h0m1-1h0m3-2h0m0-7h0m1 6h0m0 2h0m0 6h0m1-14h0m1 10h0m1-8h0m1 7h0m0 3h0m2 2h0m1-1h0m0-3h0m4 16h0m-1-9h0m-2 14h0m-1-9h0m0 6h0m-1-2h0m-1-1h0m-3 5h0m0-15h0m-2 1h0m-3 12h0m0-2h0m-2 2h0m-3-12h0m-1 4h0m-2 4h0m-3-4h0m0 6h0m0 4h0m-1-4h0m0-10h0m0 2h0m-1 10h0m-1-10h0m-1 10h0m-1-1h0m0 1h0m-3-7h0m0 3h0m-1-5h0m-1 4h0m0 0h0m0-2h0m-1 7h0m0 2h0m-2-15h0m-2 2h0m-1 12h0m0 1h0m-1-3h0m0 3h0m0-14h0m0 7h0m-1 1h0m0-5h0m-1-2h0m-1 3h0m-1 0h0m-1-1h0m-1 9h0m-1 1h0m-1-10h0m-2 2h0m-1 7h0m-1-10h0m0 8h0m-1 5h0m-3-8h0m-1 5h0m-1-6h0m-1 9h0m-1-11h0m0 4h0m-2-2h0m-1-3h0m0-2h0m-2 10h0m0-5h0m0 8h0m0-3h0m-2-10h0m0 9h0m-2-4h0m0 5h0m-1 1h0m-1-12h0m-1 8h0m0-1h0m-2-6h0m-1 13h0m-1 1h0m-2-7h0m-2 5h0m0 2h0m0-3h0m0-1h0m0 4h0m-1-14h0m0 11h0m-1 1h0m0 2h0m-2-15h0m-2 5h0m0-1h0m-1-4h0m-1 3h0m-2 7h0m-1-10h0m-1 1h0m-1 12h0m-1-1h0m-2-1h0m0-6h0m0 3h0m-3 2h0m0-1h0m0-8h0m-2-1h0m0 13h0m-1-8h0m0 8h0m-4-13h0m-3 6h0m-1 0h0m0-3h0m-1 11h0m0-12h0m0 0h0m0 7h0m0 1h0m-2-5h0m-1 5h0m0-6h0m0-4h0m0 13h0m-1-1h0m0-12h0m-1 9h0m0 2h0m-1-4h0m0 1h0m-1 2h0m0-2h0m0-2h0m0 8h0m-1-12h0m-1 1h0m-2 3h0m0 1h0m-6 7h0m-4-4h0m3 14h0m0 6h0m0-2h0m0 0h0m0-11h0m2 12h0m0-6h0m0-7h0m1 1h0m0 13h0m0-7h0m0 1h0m1 0h0m0 2h0m0 5h0m1-5h0m2-5h0m0 6h0m0 2h0m1-11h0m0 6h0m1-1h0m0 1h0m0-1h0m0 3h0m1-9h0m0 4h0m0 3h0m2 0h0m0 7h0m0-10h0m0 0h0m1 7h0m0 1h0m0-1h0m1-7h0m1 3h0m0 2h0m1-8h0m0 2h0m0 7h0m2 2h0m1-11h0m1 3h0m0 4h0m0-5h0m1 1h0m0 5h0m1 2h0m1-1h0m1 4h0m0-6h0m0-3h0m2-7h0m0 8h0m0-5h0m0 6h0m4-2h0m1-3h0m0 5h0m0 1h0m1 3h0m1-6h0m0-2h0m1 0h0m3 3h0m1 4h0m0-12h0m1 6h0m2 7h0m1-8h0m1-1h0m0-2h0m0 1h0m1 11h0m1-8h0m0 7h0m1-1h0m0-9h0m1 11h0m0 1h0m2-13h0m0 2h0m0 9h0m1-4h0m1 7h0m0-2h0m0 0h0m1 0h0m0-14h0m3 9h0m1-1h0m1 7h0m1-7h0m1-3h0m2-5h0m0 2h0m1 2h0m0 2h0m2 5h0m1-8h0m1 3h0m1-2h0m0 5h0m0 0h0m1-3h0m1 0h0m0 0h0m0 4h0m0-4h0m0 9h0m0-6h0m0-5h0m2 9h0m1 0h0m2-7h0m1 3h0m0-7h0m1 10h0m1-3h0m1 6h0m3-14h0m3 4h0m2 1h0m0-3h0m1 0h0m0 2h0m0 9h0m1-3h0m0-4h0m2-5h0m0 9h0m0-11h0m1 4h0m0 0h0m1-2h0m0 6h0m2 6h0m0-3h0m1-1h0m0-9h0m1 2h0m1 5h0m0-3h0m1 7h0m0-8h0m3 4h0m1 4h0m1 3h0m0 1h0m2-14h0m1 12h0m0-13h0m1 13h0m0-1h0m0-3h0m0 4h0m1 1h0m0-2h0m1 1h0m1 0h0m1-4h0m1-1h0m0 1h0m1-9h0m0 5h0m0-6h0m1 4h0m0-4h0m1 2h0m1 14h0m1-10h0m0 5h0m1-7h0m0-3h0m2 4h0m0 9h0m1 2h0m0-12h0m1 2h0m0-3h0m1 11h0m1-1h0m1-10h0m1 12h0m1-10h0m0 0h0m3 4h0m0 1h0m0 2h0m4-9h0m0 15h0m-1 1h0m-3-1h0m0 10h0m-1-1h0m0-3h0m-1-4h0m0 7h0m-1-9h0m0 5h0m0 9h0m-2-16h0m-1 0h0m-1 6h0m0 9h0m-1-14h0m-1 6h0m0-2h0m0 6h0m0-5h0m0 9h0m0-1h0m-2-10h0m0 2h0m0 3h0m-1-4h0m0 3h0m0-5h0m-1 1h0m-1 9h0m0-5h0m0 6h0m0-6h0m-1-4h0m0 9h0m-1-10h0m0 9h0m0 3h0m0-9h0m-1-1h0m0-3h0m0 12h0m0-9h0m-1 1h0m0 5h0m-1-7h0m-1-1h0m0 10h0m-1-3h0m0 3h0m-1-2h0m-2-10h0m-1 9h0m-1-8h0m0 8h0m-1-5h0m0 8h0m0-12h0m0 2h0m-1-1h0m0 6h0m-1 1h0m-2-7h0m-3 7h0m-2 5h0m-1-2h0m-2-4h0m-1 5h0m0-4h0m-1 6h0m-2-12h0m0 11h0m-1-11h0m-1 1h0m-2 12h0m-1-3h0m0-6h0m-2 7h0m0 1h0m-1-6h0m-6 6h0m-2-2h0m-1 0h0m0-1h0m-2-11h0m-1-1h0m-1 1h0m0 1h0m0 2h0m-1 3h0m-1-5h0m-1 9h0m-1 3h0m-1 0h0m-2-8h0m-2 8h0m-2 0h0m0 0h0m-1-8h0m0 6h0m-1-8h0m-1 1h0m0 1h0m0 9h0m-1-5h0m0-4h0m-1-5h0m0 1h0m0 10h0m0-10h0m-1 3h0m0 10h0m-1-14h0m-2 11h0m-1-5h0m0-3h0m0 5h0m0-2h0m-1 7h0m-3-1h0m0 0h0m0-6h0m-2 1h0m-1-6h0m-1 7h0m-2-7h0m-1 6h0m-1-5h0m0 4h0m0 5h0m-2 0h0m0 1h0m0-13h0m-1 7h0m-3-3h0m0 2h0m0-4h0m-1 7h0m-1-8h0m-2 3h0m0-2h0m-1 7h0m0 6h0m-1-1h0m0-5h0m-1-8h0m-1 4h0m-2 9h0m0-5h0m-1-8h0m0 10h0m0 0h0m0-1h0m-1-8h0m0 3h0m-1 0h0m-1 3h0m0-3h0m-1 3h0m0-7h0m-1 9h0m0-7h0m-2 5h0m0-7h0m0 10h0m-1-4h0m0 0h0m0 7h0m0-8h0m-1 7h0m0 1h0m-2-6h0m0-2h0m-1 9h0m-1-1h0m0-10h0m-1 2h0m0 10h0m0-12h0m-1 5h0m0-6h0m-1 8h0m0-11h0m0 5h0m-1-4h0m0 14h0m-1-4h0m-1 0h0m-25 3h0m-5 1h0m-2-2h0m-4-5h0m-7 3h0m-10 3h0m7 9h0m4 5h0m2 3h0m2-15h0m2 10h0m3-4h0m5-3h0m15 5h0m9-4h0m3 8h0m1-9h0m1 4h0m0 4h0m1-5h0m3 1h0m1-2h0m0 8h0m0-6h0m3-5h0m0 5h0m1 0h0m1 9h0m0-16h0m0 13h0m2-2h0m1-10h0m2 3h0m1 0h0m0 12h0m1-13h0m2 0h0m0-1h0m3 0h0m4 11h0m0-12h0m0 4h0m1-5h0m1 12h0m0-7h0m2 10h0m0 0h0m1-15h0m1 13h0m3-7h0m1-4h0m0 6h0m1-1h0m3-5h0m1 9h0m0-4h0m2-1h0m2 10h0m1-1h0m1-2h0m1-2h0m1-4h0m0 7h0m0-3h0m1-9h0m0 4h0m1-1h0m0-2h0m0 3h0m0 3h0m1 1h0m0-4h0m0-5h0m0 11h0m1 3h0m0-14h0m1 12h0m0-12h0m3 11h0m0 3h0m0-9h0m1-1h0m1 6h0m1-6h0m1 5h0m0-9h0m2 6h0m5 5h0m4-11h0m1 3h0m0 5h0m1-6h0m1 9h0m0-5h0m1-5h0m1-1h0m0 11h0m0-3h0m2 7h0m1-15h0m0 9h0m1-3h0m1 7h0m0-6h0m0 3h0m1-3h0m1-1h0m0 2h0m1-1h0m0 0h0m1-6h0m0 6h0m0 1h0m2 1h0m0-1h0m1 4h0m0 0h0m1 2h0m0 0h0m1-5h0m0 5h0m0-15h0m0 15h0m1 0h0m1-9h0m0 3h0m0-3h0m0-3h0m1-2h0m0 12h0m0-3h0m1-4h0m1 10h0m3-6h0m1 3h0m1-12h0m0 2h0m2 4h0m0-2h0m0-2h0m1 5h0m1-1h0m1-5h0m0 11h0m0 1h0m0 0h0m2-11h0m1 2h0m0-4h0m5 4h0m0 1h0m0 2h0m0-1h0m1-3h0m1 8h0m0-6h0m0 2h0m4 2h0m0 5h0m2-12h0m1 7h0m1-2h0m0 0h0m3-5h0m3 3h0m0-6h0m3 3h0m-5 25h0m-6-2h0m-2-9h0m-1 5h0m-1 3h0m0 6h0m-1-13h0m-2 11h0m-2-1h0m-3 3h0m-1-7h0m-2 6h0m0-14h0m-1 15h0m0 1h0m-1-5h0m-1-4h0m0 4h0m0 1h0m0-5h0m-1 8h0m-1-9h0m0 7h0m-1-4h0m-1 4h0m-2-10h0m-2 0h0m-1 12h0m0-7h0m0 7h0m-1-9h0m-1 10h0m-1-9h0m-1 2h0m-1-8h0m-1 9h0m0-1h0m-4 3h0m-3-1h0m0-5h0m0 8h0m0-2h0m-2 1h0m-1 0h0m0-7h0m-4 8h0m-4-11h0m-14-3h0m-4 2h0m-2 4h0m-1 3h0m-2 0h0m-1-8h0m-1 14h0m-1-4h0m0 0h0m-3-4h0m-2 4h0m0-5h0m-1 3h0m-2 5h0m-1-13h0m-2 4h0m-1-1h0m-3 1h0m-4-5h0m-2 12h0m-1-4h0m-7 5h0m-2-5h0m-1 3h0m-1-10h0m0 2h0m0 4h0m-1 6h0m-1-4h0m0 4h0m-1-13h0m-1 8h0m0 3h0m-2 3h0m-1 0h0m-2-11h0m-1 7h0m-2-3h0m0 8h0m-2-10h0m0 3h0m-1 7h0m-1 1h0m0-9h0m-2-4h0m0-2h0m-1 7h0m-1 1h0m-1 6h0m-1 0h0m-1-8h0m-43 9h0m1 2h0m4 5h0m3-6h0m28 1h0m0 1h0m3 6h0m3 2h0m2-10h0m1 1h0m3 3h0m0 2h0m2-2h0m2-5h0m4 2h0m1 6h0m0 5h0m0 1h0m4-12h0m2 9h0m0-10h0m1 10h0m0 0h0m0-6h0m1 8h0m0-2h0m3 4h0m1-10h0m0 7h0m1-1h0m0-3h0m0-7h0m0 12h0m18 0h0m2-10h0m2 2h0m1 6h0m0-4h0m0-4h0m0 12h0m1 0h0m0 0h0m1-1h0m1 0h0m1-9h0m1-2h0m2 9h0m0 4h0m1-15h0m0 13h0m3-6h0m3 6h0m8 2h0m3-9h0m0-2h0m0 6h0m1-8h0m1 10h0m1-4h0m1-8h0m1 2h0m0 3h0m1-5h0m0-1h0m5 7h0m0 6h0m0-6h0m1-2h0m0-1h0m1 5h0m2 6h0m1-1h0m0 0h0m0 0h0m1-4h0m0 0h0m1 3h0m1-2h0m0-5h0m2-6h0m0 4h0m0 8h0m0-1h0m1-11h0m2 1h0m1 14h0m0-2h0m1-3h0m1-2h0m0 6h0m1-6h0m1-1h0m0 7h0m0-4h0m1-8h0m0 3h0m0 0h0m1 8h0m0-6h0m1 7h0m1-11h0m0 8h0m1-10h0m0 8h0m0 5h0m0-12h0m0 1h0m0 1h0m1 0h0m0 7h0m1-7h0m1-4h0m0 6h0m0-6h0m2 6h0m1 2h0m0-7h0m1 9h0m1-2h0m0-7h0m1 13h0m1 0h0m1-5h0m0 3h0m1 2h0m1 0h0m1 1h0m1-2h0m0-12h0m1 15h0m0-14h0m0 11h0m1-5h0m1 8h0m0-8h0m0 8h0m1-3h0m0 0h0m1-4h0m0 1h0m0 4h0m1-13h0m0 10h0m1-7h0m0 5h0m0 4h0m1-2h0m1-3h0m5 4h0m-5 7h0m-1-2h0m-2 5h0m-3 4h0m-1 2h0m-1-8h0m0 2h0m-1 1h0m0 8h0m-1-10h0m0-1h0m0 6h0m-1 5h0m-1 0h0m0 0h0m-1-2h0m0-5h0m-2 6h0m-1-11h0m0 12h0m-2-13h0m0 1h0m0 0h0m0 2h0m0 4h0m-1 3h0m-1-7h0m0-4h0m0 5h0m-1-3h0m0 7h0m0 1h0m0-9h0m-2 10h0m0-2h0m-1-3h0m0-1h0m-1 8h0m-2-10h0m0-2h0m-2 10h0m-2-10h0m-1 8h0m-1-9h0m-1 3h0m0 1h0m-1 6h0m-2 3h0m0-2h0m-1-7h0m0-1h0m0 1h0m0-4h0m-1 6h0m0-4h0m-1 4h0m0 0h0m-2 9h0m-1-10h0m-1 7h0m0-1h0m0-5h0m-1 0h0m0-2h0m-1 4h0m-1-6h0m0 0h0m-2-1h0m-1 12h0m-2 0h0m0-2h0m0-7h0m-1-3h0m0 5h0m-1 2h0m0 0h0m0-8h0m-1 8h0m-1-7h0m-1 12h0m0-12h0m-1 0h0m0 5h0m-1-3h0m0 2h0m0 2h0m0 0h0m-2-4h0m0-2h0m-1 13h0m0-2h0m-1-6h0m0-2h0m-1 9h0m-1-8h0m0 8h0m-1-12h0m0 7h0m-1 6h0m0-7h0m0-7h0m0 4h0m-1-2h0m-3-1h0m-9 0h0m-13 3h0m-8 3h0m0 0h0m-1-5h0m-1-2h0m0 9h0m-1 6h0m-4-12h0m0-1h0m0 0h0m-1 12h0m-2-9h0m-1 5h0m0 0h0m-1-7h0m-1 6h0m-1-9h0m-1 4h0m-2 1h0m0-5h0m-1 10h0m-1 0h0m-1-4h0m0-4h0m-5 0h0m0 6h0m-1-5h0m-1 3h0m0-6h0m-1 6h0m-2-6h0m-1 4h0m-2 1h0m0-4h0m8 16h0m0 0h0m1 12h0m1-6h0m2-3h0m2-4h0m0-1h0m0 9h0m1-1h0m2 5h0m0 1h0m1-13h0m0 10h0m3 5h0m1-7h0m3 0h0m0 4h0m0-9h0m1-3h0m3 8h0m1 0h0m0 3h0m2-7h0m0-3h0m12 2h0m1 3h0m1-1h0m0-3h0m1 3h0m0-1h0m1-4h0m0 8h0m1-7h0m0 2h0m1 5h0m0 2h0m1-2h0m0-7h0m0 4h0m1 2h0m1-5h0m1 6h0m0-7h0m0 5h0m4-3h0m5 5h0m1-7h0m0 6h0m0-2h0m1-4h0m2 8h0m1-4h0m2-3h0m0 3h0m1-2h0m0 2h0m1 6h0m0 0h0m1-8h0m0 2h0m1 4h0m0-2h0m2 1h0m0-2h0m3-1h0m1 4h0m1-7h0m0 11h0m1-6h0m2-7h0m0 13h0m0 1h0m0-1h0m0-2h0m0 4h0m1-14h0m0 7h0m0-7h0m0 4h0m1 10h0m2-3h0m1-5h0m0 0h0m0-2h0m0 2h0m2-6h0m1 12h0m0-11h0m1 7h0m0 5h0m2-13h0m0 4h0m3 1h0m1 2h0m0 5h0m1-8h0m1 2h0m0 5h0m2-8h0m1-5h0m0 7h0m0-6h0m0 7h0m1 1h0m2 2h0m1-6h0m0-3h0m1 2h0m0 4h0m0-3h0m0 7h0m1-10h0m0 6h0m1-7h0m1 10h0m0-9h0m1 1h0m0 2h0m1 1h0m3 3h0m1-8h0m0 9h0m0-8h0m2-1h0m0 7h0m0-3h0m0-3h0m0 2h0m1 2h0m2-5h0m0 1h0m0 1h0m3 23h0m-10-9h0m-17 2h0m-2-2h0m-2 1h0m-1 0h0m-4-1h0m-9 4h0m-56-3h0m-2-1h0m-5 0h0m0 5h0m0 1h0m-1-1h0m-3-2h0m0-3h0m-2 0h0m0 2h0m-1-1h0" stroke="#dcdcdc" stroke-width="4.8" stroke-linecap="round"/><path transform="scale(0.25)" d="M2399 1133h0m4 17h0m-12-4h0m-59 9h0m15 11h0m0 0h0m3 1h0m1-10h0m47-4h0m15 6h0m15 6h0m17 13h0m-79-6h0m-12 11h0m-4-10h0m-3 9h0m-7-3h0m-10 4h0m-10-2h0m1 12h0m34-3h0m8-2h0m2-1h0m1 5h0m8-7h0m51 14h0m11-14h0m9 5h0m-26 24h0m-29-3h0m-13-2h0m-14-9h0m-2 4h0m-13 11h0m-11-13h0m-3-1h0m-77 12h0m-8 18h0m1-7h0m0 6h0m4 0h0m0-10h0m5 2h0m1-3h0m0 13h0m3 0h0m2-12h0m4 8h0m38 2h0m9-2h0m36-7h0m7-5h0m3 14h0m3-2h0m1-1h0m18-2h0m2-8h0m11 8h0m16 6h0m13-13h0m-7 14h0m-67 9h0m-26 1h0m-2-7h0m-3 4h0m-3 3h0m-3-3h0m-8-3h0m-2 3h0m-35-5h0m-3 8h0m0 6h0m0-15h0m-1 11h0m-1-5h0m-5 1h0m-1-2h0m0-4h0m-1 0h0m-2 13h0m-1-7h0m-2 0h0m-1 6h0m-2-14h0m12 17h0m45 12h0m2 0h0m14-2h0m3-1h0m4 3h0m75-10h0m5 8h0m18 0h0m2 2h0m-4 7h0m-12 3h0m-10-1h0m-23 9h0m-7-6h0m-46 3h0m0 3h0m-2-6h0m0 0h0m-6-5h0m-3-3h0m-3 13h0m-4-8h0m-1 4h0m-5-2h0m-4-6h0m10 28h0m4 0h0m7-13h0m5 14h0m80-3h0m10-1h0" stroke="rgb(193,161,179)" stroke-width="3.8" stroke-linecap="round"/><path transform="scale(0.25)" d="M2425 1116h0m-41 13h0m10 0h0m19 6h0m0 5h0m-20 3h0m-60 21h0m1 3h0m3-3h0m41-6h0m43 2h0m-10 15h0m-15-4h0m-13 1h0m-10-2h0m-20 9h0m-20 1h0m-16 18h0m30-10h0m4-1h0m2 10h0m6-9h0m2 4h0m2 6h0m33-8h0m26 7h0m11-1h0m13-11h0m-61 19h0m-15 8h0m-19 3h0m-8-6h0m-4 3h0m-17-5h0m-5-2h0m-58 10h0m-10 17h0m6-14h0m1 5h0m2-1h0m1 5h0m3-4h0m0 5h0m4-6h0m2 3h0m43 6h0m13-2h0m16-1h0m11-2h0m15 0h0m15-3h0m13 7h0m14-11h0m32 11h0m3-10h0m-19 21h0m-9-2h0m-12 7h0m-58-4h0m-25-10h0m0 9h0m-3 6h0m-4-15h0m-1 12h0m-1-10h0m-3 0h0m-2 0h0m-2 14h0m-1-4h0m-1-7h0m-36 8h0m-2-3h0m-2-9h0m0 14h0m-2-2h0m-4-9h0m-2 4h0m-4-4h0m6 19h0m3-6h0m6 2h0m36 2h0m1 8h0m10 3h0m2-4h0m2-8h0m0 5h0m3-8h0m5 0h0m1 9h0m4-9h0m4 11h0m61 1h0m17 2h0m5-13h0m3 12h0m10 1h0m6-13h0m-10 27h0m0-7h0m-8 7h0m-4-7h0m-18-4h0m-42 1h0m-22-1h0m-17 7h0m-6 2h0m-1-3h0m-6-6h0m82 26h0m21-2h0m4 0h0m15-9h0m-31 29h0m-77-12h0m-1-1h0" stroke="rgb(178,128,157)" stroke-width="3.8" stroke-linecap="round"/><path transform="scale(0.25)" d="M2415 1133h0m10 7h0m-8 3h0m-56 5h0m-2-1h0m-16 19h0m9-8h0m37 5h0m6-1h0m32 4h0m1-7h0m14 6h0m-7 7h0m-8 10h0m-16-10h0m-7 3h0m-13-6h0m-18 12h0m-19-2h0m-23-3h0m-13 7h0m-2 16h0m7-1h0m2-3h0m4 1h0m17-2h0m5-9h0m12-1h0m15 6h0m8-5h0m10 7h0m2-5h0m14 3h0m4 2h0m2-1h0m15-2h0m2-3h0m3 0h0m3 12h0m-45 11h0m-23 6h0m-20-7h0m-14-1h0m-4-6h0m-2 6h0m-74 6h0m-5 3h0m-4 14h0m2 1h0m4-9h0m5 8h0m0-8h0m1 7h0m2-1h0m1-2h0m0-2h0m2 8h0m0-6h0m9 2h0m31-10h0m0 11h0m5-8h0m1-1h0m1 11h0m7-10h0m2-2h0m22 6h0m5-3h0m13-1h0m4 4h0m18 1h0m0-2h0m19-1h0m26 10h0m-78 6h0m-10-3h0m-23 1h0m-22 9h0m-27-8h0m-1-2h0m-5 1h0m-3 10h0m-1-1h0m-1-11h0m-4 9h0m0-12h0m-5 3h0m6 15h0m0 4h0m1-5h0m4 0h0m39 4h0m10 8h0m1-10h0m20 5h0m2 6h0m52 2h0m12-12h0m1 0h0m12 8h0m24-1h0m-1 7h0m-48 5h0m-9 7h0m-3-8h0m-8 4h0m-1-4h0m-30 3h0m-2 2h0m-1-10h0m-1 7h0m-2-4h0m-6-4h0m0 4h0m-5 11h0m-1-1h0m-4-1h0m-7-12h0m-5 3h0m13 22h0m5-10h0m2 11h0m3 1h0m2-8h0m0 0h0m3 0h0m19 4h0m8-2h0m12 5h0m23-10h0m5 0h0m5 7h0m-84 13h0m0 0h0" stroke="rgb(160,88,128)" stroke-width="3.8" stroke-linecap="round"/><rect x="622.8" y="283.8" width="8.2" height="43" fill="url(#gfeat)"/><line x1="622.8" y1="325.5" x2="624.6" y2="325.5" stroke="#fff" stroke-width="0.5"/><line x1="629.2" y1="325.5" x2="631" y2="325.5" stroke="#fff" stroke-width="0.5"/><text x="634.5" y="328.4" font-size="8">0</text><line x1="622.8" y1="316.8" x2="624.6" y2="316.8" stroke="#fff" stroke-width="0.5"/><line x1="629.2" y1="316.8" x2="631" y2="316.8" stroke="#fff" stroke-width="0.5"/><text x="634.5" y="319.7" font-size="8">1</text><line x1="622.8" y1="308" x2="624.6" y2="308" stroke="#fff" stroke-width="0.5"/><line x1="629.2" y1="308" x2="631" y2="308" stroke="#fff" stroke-width="0.5"/><text x="634.5" y="310.9" font-size="8">2</text><line x1="622.8" y1="299.3" x2="624.6" y2="299.3" stroke="#fff" stroke-width="0.5"/><line x1="629.2" y1="299.3" x2="631" y2="299.3" stroke="#fff" stroke-width="0.5"/><text x="634.5" y="302.2" font-size="8">3</text><line x1="622.8" y1="290.6" x2="624.6" y2="290.6" stroke="#fff" stroke-width="0.5"/><line x1="629.2" y1="290.6" x2="631" y2="290.6" stroke="#fff" stroke-width="0.5"/><text x="634.5" y="293.5" font-size="8">4</text><text x="590.9" y="360.6" font-size="8.8" text-anchor="middle" font-style="italic">FIT3</text><line x1="557.9" y1="362.1" x2="557.9" y2="417.8" stroke="#000" stroke-width="0.8"/><line x1="557.5" y1="417.4" x2="614.3" y2="417.4" stroke="#000" stroke-width="0.8"/><line x1="556" y1="364" x2="557.9" y2="364" stroke="#000" stroke-width="0.7"/><text x="555.4" y="366.8" font-size="8" text-anchor="end">5.0</text><line x1="556" y1="376.9" x2="557.9" y2="376.9" stroke="#000" stroke-width="0.7"/><text x="555.4" y="379.7" font-size="8" text-anchor="end">2.5</text><line x1="556" y1="389.8" x2="557.9" y2="389.8" stroke="#000" stroke-width="0.7"/><text x="555.4" y="392.6" font-size="8" text-anchor="end">0.0</text><line x1="556" y1="402.7" x2="557.9" y2="402.7" stroke="#000" stroke-width="0.7"/><text x="555.4" y="405.5" font-size="8" text-anchor="end">−2.5</text><line x1="556" y1="415.7" x2="557.9" y2="415.7" stroke="#000" stroke-width="0.7"/><text x="555.4" y="418.5" font-size="8" text-anchor="end">−5.0</text><line x1="572.8" y1="417.4" x2="572.8" y2="419.3" stroke="#000" stroke-width="0.7"/><text x="571.6" y="426.5" font-size="8.2" text-anchor="middle">−5</text><line x1="592.5" y1="417.4" x2="592.5" y2="419.3" stroke="#000" stroke-width="0.7"/><text x="592.2" y="426.5" font-size="8.2" text-anchor="middle">0</text><line x1="612.2" y1="417.4" x2="612.2" y2="419.3" stroke="#000" stroke-width="0.7"/><text x="611.9" y="426.5" font-size="8.2" text-anchor="middle">5</text><text x="591" y="433.7" font-size="8.5" text-anchor="middle">UMAP_1</text><text x="537.6" y="387.9" font-size="8.6" text-anchor="middle" transform="rotate(-90 537.6 387.9)">UMAP_2</text><path transform="scale(0.25)" d="M2426 1471h0m-1-11h0m-12 11h0m-3-6h0m-1 3h0m0 1h0m-1-4h0m0-1h0m-2-2h0m0 6h0m-1 3h0m0-7h0m0-1h0m-4 7h0m0-9h0m-3 1h0m-3 8h0m-2-9h0m-7 2h0m-1 9h0m0-4h0m-2-2h0m0 2h0m-1 1h0m0 3h0m-2-1h0m-6-1h0m-20 18h0m1-4h0m7-6h0m1-3h0m1 6h0m1 5h0m1-4h0m6 0h0m2-5h0m1 5h0m2-2h0m1-1h0m1 2h0m1 3h0m3-9h0m0 12h0m1-15h0m2 2h0m1 7h0m1 4h0m1-5h0m0-3h0m1 5h0m1-5h0m0 10h0m0-1h0m1-4h0m1 5h0m0-13h0m1-1h0m3 8h0m1 1h0m1 5h0m2-8h0m0 0h0m0-1h0m1 1h0m0 3h0m1 5h0m1-9h0m1 0h0m2-1h0m1 8h0m0-10h0m1 9h0m3 4h0m1-10h0m2-1h0m0 6h0m0 4h0m1-2h0m1-5h0m0 7h0m1-9h0m2-2h0m3 9h0m1-6h0m0 2h0m1-7h0m2 12h0m2-7h0m3 9h0m0 0h0m1-9h0m9 7h0m-5 13h0m-3 3h0m-1-5h0m0 6h0m-1-14h0m-2 2h0m0-2h0m0 5h0m-1 4h0m-2 2h0m-3 0h0m-1 0h0m0-4h0m-1-4h0m0 10h0m0-5h0m-1 4h0m0-6h0m-1 7h0m-1-11h0m-2 6h0m0-9h0m0 9h0m-1-9h0m0 9h0m-2-5h0m-1 11h0m0-7h0m-3-8h0m-9 8h0m-1 3h0m-1-9h0m-1 7h0m-1-3h0m-1 5h0m-1-1h0m-1-3h0m0 0h0m-1 8h0m-1-10h0m0 8h0m-1-11h0m0 4h0m-1 10h0m-1-12h0m-1 1h0m-1-2h0m-1 1h0m-1 7h0m-2-9h0m0 6h0m-1 5h0m0-6h0m-2 3h0m-1 1h0m0-9h0m-1 12h0m0-11h0m-4-2h0m0 8h0m-1-5h0m0 5h0m-3 5h0m0-9h0m-1 3h0m-1 7h0m-3-5h0m-2-4h0m-3-4h0m-1 7h0m0 4h0m-2-11h0m-2 13h0m-1-13h0m0 9h0m-1 3h0m-1 0h0m-1-1h0m0-4h0m-30 22h0m2-3h0m1-1h0m5-2h0m0 3h0m1 2h0m2-3h0m2 4h0m0-8h0m3-3h0m2-2h0m2 12h0m2-9h0m1-1h0m3 2h0m0-1h0m3 3h0m0 5h0m0-6h0m0-5h0m1 8h0m1-1h0m2-9h0m1 1h0m0 11h0m2 1h0m0 1h0m2-5h0m2-8h0m3 6h0m5 3h0m2-7h0m0 12h0m1-6h0m4 1h0m2-5h0m0 10h0m2-3h0m2-10h0m0 5h0m1 6h0m4 3h0m0-11h0m0-4h0m0 2h0m4 6h0m0 1h0m2 3h0m1-7h0m0-3h0m1 9h0m0-10h0m3 5h0m1-6h0m0 12h0m4 2h0m0-6h0m1 5h0m1-5h0m2-1h0m3 8h0m1-4h0m1-12h0m0 1h0m5 10h0m4-10h0m1 6h0m2-4h0m1 9h0m1-8h0m2 1h0m6 3h0m0-2h0m1 6h0m1-9h0m2-2h0m2 6h0m1-4h0m0 11h0m1-9h0m2 5h0m4 17h0m-2-2h0m-1-8h0m0 13h0m-3-6h0m-1 4h0m0-8h0m-2-3h0m-3 10h0m0-5h0m-1 6h0m-1 1h0m-1 0h0m-1-1h0m-1 2h0m-2-4h0m0-6h0m-1 4h0m0 4h0m-1-4h0m0 5h0m0-4h0m-7 0h0m0-2h0m-1-4h0m-1 11h0m-2 2h0m-1-12h0m-3-3h0m-1 15h0m-2-12h0m0 4h0m0-1h0m-3 8h0m-1-4h0m-1-3h0m0 1h0m0-3h0m-1-3h0m0 4h0m-1 7h0m-1-3h0m-1 0h0m0 2h0m-2 0h0m0-2h0m-2-5h0m0 8h0m-1-5h0m-4-7h0m-2 7h0m-1 5h0m-2-9h0m-3 7h0m0 1h0m0 1h0m0-13h0m-1 13h0m-2 0h0m-1-3h0m-1-7h0m-3 6h0m-1-1h0m0-5h0m-1 0h0m0 0h0m-1 12h0m-2-1h0m-5-4h0m-2-3h0m0 0h0m0 4h0m0-1h0m0-1h0m0-7h0m-1 2h0m-1 1h0m-1 5h0m-3 0h0m0-1h0m0 2h0m-3-10h0m0 5h0m-1-4h0m0 0h0m-5 10h0m-1 0h0m0-1h0m0-12h0m-2 12h0m-1-9h0m0-2h0m-2 5h0m-1-1h0m-1 3h0m0-5h0m-6 11h0m-1-3h0m-1-9h0m0 1h0m-2 9h0m0-5h0m0 4h0m-2 3h0m-1-12h0m-1 12h0m0-14h0m-1 3h0m0-3h0m0 7h0m-1 7h0m0-4h0m-1 5h0m-5-8h0m-1 9h0m-1-8h0m0 8h0m-1-9h0m-1 2h0m-3-7h0m-36 30h0m39-4h0m0-11h0m0 7h0m2-1h0m0 7h0m1-8h0m0 7h0m0-12h0m1 7h0m1-5h0m0 11h0m2-13h0m0 2h0m0 3h0m1 7h0m0 2h0m0 0h0m1-6h0m0-9h0m0 5h0m1-4h0m1 2h0m1 6h0m0-9h0m0 7h0m1-3h0m0 2h0m0-1h0m0 8h0m1-1h0m1 1h0m0-12h0m0 2h0m3 3h0m1 9h0m0-2h0m1-12h0m0 8h0m0 0h0m1-6h0m1 2h0m1 5h0m0-6h0m1-2h0m1 13h0m0-7h0m1-7h0m1 9h0m0 4h0m0-2h0m4-4h0m0-7h0m1 3h0m0-2h0m1 12h0m5-11h0m1 2h0m0 11h0m2-2h0m0-10h0m4 8h0m0 3h0m0-11h0m2-4h0m0 12h0m0-6h0m2 2h0m1 1h0m0 0h0m1 5h0m0-7h0m0-1h0m1 8h0m1-2h0m1 1h0m1-12h0m2 6h0m7 3h0m0-7h0m2 7h0m1-2h0m1 1h0m1-8h0m6 0h0m1 3h0m1-3h0m1 6h0m4 8h0m3-3h0m1-2h0m5 5h0m3-9h0m0-3h0m4 1h0m1 6h0m4-3h0m0 1h0m0 0h0m0 5h0m1-3h0m2-4h0m1 0h0m0-1h0m0 0h0m1 2h0m0-2h0m2 1h0m0 5h0m1 1h0m0-11h0m1 0h0m0 1h0m0 11h0m1-3h0m0 2h0m1 2h0m0-3h0m1 1h0m1 4h0m0-1h0m1-4h0m0-8h0m1 7h0m0 6h0m1-12h0m1 2h0m1 2h0m0 5h0m0 0h0m0 2h0m1-6h0m1-3h0m1 2h0m3 7h0m2 0h0m1-11h0m-1 24h0m-1-9h0m0 10h0m-3-2h0m-2-4h0m-1 8h0m0 1h0m-1-13h0m0 4h0m-5-2h0m0 1h0m-2 10h0m0-12h0m0 10h0m0-8h0m-1 5h0m-1 4h0m0 1h0m0-3h0m0 0h0m0-11h0m0 8h0m-2-5h0m-1-4h0m-1 1h0m-1 10h0m-2-6h0m-1 3h0m0-8h0m-1 4h0m0 10h0m-2-14h0m0 12h0m-2-2h0m0-2h0m-3-8h0m-2 10h0m0-5h0m-2 3h0m-1 2h0m0 3h0m-1-9h0m-6 11h0m0-6h0m-1 5h0m0-7h0m0 8h0m-1-11h0m0 10h0m-1 1h0m-1-1h0m0-9h0m0 1h0m-1 8h0m-1-7h0m-3 0h0m-3 3h0m0-2h0m-1 2h0m0-7h0m-1 1h0m0 4h0m-3 6h0m-4-14h0m-1 4h0m-1 1h0m0 9h0m-2-7h0m0-1h0m-2-2h0m-1-1h0m0 8h0m-1 2h0m-3-5h0m0-2h0m-1-5h0m-1 2h0m0 5h0m-1 5h0m0-1h0m0-2h0m0-5h0m-1 7h0m-1 1h0m-2-14h0m0 8h0m-4-4h0m0 1h0m0 8h0m-3-3h0m-3 5h0m-1 1h0m0-7h0m0-2h0m-1 7h0m-4-13h0m0 7h0m-3 4h0m-2-3h0m-2-8h0m0 5h0m-1-1h0m-1 4h0m-3-3h0m0 5h0m-1-9h0m-1 9h0m-4-2h0m0-8h0m-2 2h0m-1 5h0m0-2h0m-1 7h0m-1 2h0m0-5h0m-2-3h0m-1 8h0m0-9h0m-1 9h0m0-7h0m-1-7h0m-1 1h0m-1 12h0m0-7h0m-1-4h0m0 12h0m0-2h0m-1-2h0m-4-1h0m0 2h0m-9 4h0m-12-10h0m-5 1h0m-2-3h0m-1 9h0m-12 1h0m-1 2h0m0-1h0m0-3h0m-3 2h0m-1 0h0m-1-3h0m-1 2h0m0-8h0m-2 0h0m-1 9h0m0 0h0m-1-4h0m-1 1h0m-4 5h0m-1 6h0m0 1h0m1-1h0m0 5h0m0 1h0m0-6h0m2 1h0m2-2h0m0 11h0m2-4h0m3-9h0m0 8h0m1-4h0m2-3h0m1 3h0m1-3h0m0 9h0m1 1h0m2-6h0m0-6h0m1-1h0m1 3h0m0 0h0m0 8h0m1-2h0m0 4h0m6-10h0m26 8h0m3 3h0m1-5h0m0-2h0m0 3h0m1-6h0m0 0h0m1 10h0m2 1h0m0-3h0m1-6h0m1 8h0m0-12h0m1 5h0m1-1h0m5 6h0m1 2h0m2-7h0m2 7h0m0-12h0m2 13h0m12-8h0m2-4h0m2 3h0m0-1h0m3-5h0m0 11h0m1 1h0m2-4h0m4 5h0m1-11h0m1 12h0m3-8h0m1 0h0m2-4h0m1 3h0m2 8h0m0-14h0m1 2h0m0 2h0m1 6h0m1-5h0m0-4h0m3 6h0m0 1h0m15-7h0m1 1h0m2 2h0m2-1h0m0-2h0m2 13h0m1-13h0m2 5h0m0 8h0m3-13h0m3 0h0m0-1h0m1 4h0m1 3h0m0 1h0m1-7h0m0 5h0m0 1h0m1 8h0m0-8h0m2 7h0m0-12h0m1 14h0m1-9h0m2 4h0m1-9h0m1 2h0m2 10h0m1 0h0m1-14h0m0 14h0m2-8h0m1 2h0m9-4h0m1 6h0m2 4h0m1-5h0m0-2h0m8 12h0m-5 7h0m-1 5h0m-2-3h0m-1-3h0m-1-8h0m0 6h0m-3 9h0m-1-6h0m-1-6h0m-1-3h0m-3-1h0m-2 6h0m-1 2h0m0 7h0m-1-12h0m-1 7h0m0-8h0m0 7h0m0-5h0m0 12h0m-1-2h0m0-7h0m-1-2h0m-1 3h0m0-7h0m-1 4h0m-1 7h0m-1-1h0m0-3h0m-1 2h0m-2-3h0m0 8h0m-1-5h0m-1 4h0m0-3h0m-1 5h0m-1-15h0m0 5h0m-2-5h0m-1 7h0m-2 0h0m0 4h0m-1-8h0m0 7h0m0-3h0m-2 6h0m-1-11h0m0 3h0m0-2h0m-2 0h0m-1 1h0m-3 6h0m0 2h0m-1 2h0m0-10h0m-5 3h0m0 1h0m-1 5h0m0-4h0m-5 3h0m0 1h0m-16-13h0m-1 8h0m-2-7h0m0 0h0m-5-1h0m-1 10h0m0-10h0m-3 10h0m-12-7h0m-1-4h0m-7 8h0m0 8h0m0-11h0m-1 8h0m-1-11h0m-2 7h0m-1-4h0m-1 7h0m0-7h0m-1 4h0m-2 1h0m-1-8h0m0 3h0m-1 0h0m0 1h0m-1 5h0m-2-9h0m0 8h0m-2-6h0m0 3h0m-1 3h0m-1-2h0m-2 4h0m0-5h0m-2 8h0m0-2h0m-2-13h0m0 7h0m-1 0h0m0 3h0m-1-2h0m-2 4h0m-3-6h0m-3 5h0m0-1h0m-27-9h0m0 6h0m-1-2h0m0-1h0m-1 7h0m-2 3h0m-2-7h0m-1-7h0m0 5h0m-1 4h0m0 1h0m-1-2h0m-1 0h0m-1 7h0m0-8h0m0 7h0m0-4h0m-1-7h0m-3 3h0m45 11h0m3 8h0m0-6h0m0 11h0m0-2h0m2 0h0m1-3h0m3 0h0m1-4h0m0 6h0m0 5h0m1-6h0m1-5h0m1 9h0m0-9h0m3 10h0m2-11h0m1 5h0m0-8h0m0 13h0m2-1h0m1-5h0m1 4h0m1 0h0m1-9h0m1 0h0m0 1h0m0-1h0m0 11h0m2-12h0m1 5h0m0-6h0m0 10h0m2-6h0m3 4h0m1 1h0m1-6h0m0 12h0m13-12h0m5 2h0m2 5h0m0-5h0m1 4h0m0-5h0m4-2h0m0 4h0m1-2h0m5 9h0m1-8h0m1 5h0m1-2h0m2 5h0m2 1h0m2-5h0m0 3h0m0-6h0m2 9h0m0-4h0m1-2h0m0-8h0m1 7h0m1 1h0m1-9h0m1 8h0m1 1h0m1 2h0m3-4h0m0 2h0m0 5h0m2-10h0m0 6h0m2-11h0m0 13h0m1 1h0m1-8h0m1 0h0m0-1h0m1-3h0m1 2h0m0 10h0m1-4h0m0 5h0m1-4h0m1-9h0m3 11h0m2-11h0m1 8h0m0-4h0m1 8h0m1-9h0m2 0h0m0 7h0m1-6h0m1-3h0m1 11h0m1-7h0m2 3h0m0 1h0m1-3h0m2 3h0m0 0h0m0-1h0m1-8h0m1 9h0m1-6h0m1 1h0m1-6h0m0 4h0m1 2h0m1 0h0m1 6h0m0-5h0m1 6h0m0-9h0m0 11h0m1-7h0m0 6h0m0-3h0m0 1h0m0-8h0m2-1h0m0 5h0m1-1h0m1-6h0m0 4h0m1 9h0m0-12h0m1-2h0m0 5h0m1-2h0m1 8h0m0-8h0m5 1h0m-11 14h0m-1 1h0m-2 2h0m-2 6h0m0-5h0m0 4h0m0-1h0m-1-3h0m-2 6h0m0-3h0m0 7h0m-1-11h0m-1 1h0m-1-1h0m-2-1h0m-2-2h0m0 1h0m-2 1h0m0-2h0m-1 8h0m-1-5h0m-1 5h0m0 3h0m-4-5h0m0 0h0m-1 4h0m-2 4h0m-1-2h0m-1-11h0m-2 1h0m-2 5h0m-4 0h0m-1 0h0m-1 6h0m-4-1h0m0-4h0m-1-5h0m-2-1h0m-1 3h0m0 4h0m-1-10h0m-1 0h0m-2 5h0m-2-6h0m-1 16h0m0-15h0m-1 13h0m-1-7h0m0-2h0m-2 1h0m0 8h0m-1-9h0m-1 9h0m0-13h0m-1 6h0m-3 7h0m-6-2h0m-3 2h0m-2-3h0m-4-1h0m-1-2h0m-1 5h0m0 3h0m0-3h0m-1 1h0m-1 0h0m-1-2h0m-10-11h0m-2 9h0m-4-6h0m0 8h0m-2-11h0m-1 10h0m0 1h0m0 0h0m0-5h0m-3-5h0m-4 6h0m-1-2h0m-1 0h0m-2-4h0m0 4h0m0-5h0m0 7h0m0 1h0m-2 4h0m0-8h0m-2 10h0m-1-14h0m-1 9h0m0-8h0m0-1h0m1 21h0m2 4h0m1 1h0m0-2h0m1-7h0m1 4h0m0-5h0m1 9h0m1 3h0m0-1h0m1-7h0m0 1h0m0 7h0m1 1h0m0-1h0m0-11h0m0 7h0m4-9h0m1 9h0m0-5h0m2-4h0m1 7h0m4-6h0m0 2h0m20-2h0m0 1h0m1-2h0m1 0h0m2 1h0m9 0h0m1-1h0m8 4h0m0 0h0m2-3h0m2-1h0m4 2h0m1 4h0m3-1h0m0-1h0m0 4h0m4-3h0m1-5h0m1 8h0m2-2h0m2 3h0m1 1h0m2-1h0m3-9h0m1 4h0m3-2h0m1-2h0m1 4h0m1-2h0m1 0h0m1 2h0m7-2h0m0 7h0m1-8h0m-25 21h0" stroke="#dcdcdc" stroke-width="4.8" stroke-linecap="round"/><path transform="scale(0.25)" d="M2414 1468h0m-4-1h0m-12 3h0m-3-5h0m-1 2h0m0-2h0m-5 1h0m-9-2h0m-18 22h0m6-14h0m6 5h0m13-2h0m10 4h0m2-2h0m2-4h0m1 12h0m6-2h0m23 10h0m-3 9h0m-9-8h0m-1 8h0m-5-11h0m-10 1h0m-10 4h0m-3-4h0m0 0h0m-6-3h0m-3 2h0m-6 11h0m-1-14h0m-6 4h0m-3-3h0m-6 2h0m0 8h0m0-8h0m-31 22h0m13-7h0m6 12h0m34 1h0m2-3h0m7-5h0m10 6h0m7-9h0m3 9h0m0 3h0m1-4h0m1 2h0m12-13h0m2 8h0m4-8h0m11 5h0m-1 13h0m-1 8h0m-1-1h0m-2-1h0m-4-1h0m-1-3h0m-12 4h0m-1-5h0m-13 8h0m-21-4h0m-1 6h0m-5-10h0m-2 8h0m-5-11h0m-3 6h0m-2 1h0m-3-3h0m0 2h0m-7 6h0m-3 1h0m-1-6h0m-2-3h0m-3 10h0m0-11h0m-9 11h0m-3-2h0m-22 12h0m1-4h0m0 0h0m2 1h0m2-6h0m1 16h0m3-1h0m0-14h0m7 9h0m1-6h0m8 3h0m7-6h0m2 9h0m11-5h0m3 1h0m5 7h0m7 1h0m7-2h0m0-3h0m3-7h0m0 4h0m2 5h0m16-1h0m1-7h0m14 6h0m5-7h0m2 4h0m2 1h0m7 5h0m5 2h0m2-6h0m5-6h0m3 9h0m1-1h0m-3 17h0m-18-5h0m-8-4h0m-12 2h0m-2 9h0m-1-12h0m-14 2h0m-3 3h0m-3-2h0m-7-2h0m-8 4h0m0 0h0m-4 3h0m-2 4h0m-1-4h0m-4-4h0m-5 10h0m0-15h0m-3 14h0m-11-10h0m0 4h0m-9-6h0m-3 10h0m-6 3h0m0-9h0m-53-3h0m-9 3h0m-5 2h0m-4 16h0m5 8h0m16-10h0m4-4h0m32 9h0m3-7h0m1 6h0m4 5h0m6-7h0m3 2h0m0-1h0m4-1h0m23-6h0m8 3h0m3 0h0m4-2h0m7-1h0m10 9h0m2-11h0m9 3h0m4-2h0m4 6h0m3-6h0m1 4h0m2 5h0m10-4h0m1 2h0m11 1h0m5-7h0m5 4h0m-18 17h0m-17 1h0m-43 7h0m-4-9h0m-9 0h0m-4-4h0m-79 7h0m56 10h0m0 9h0m0-4h0m9 1h0m2 6h0m0-9h0m8 7h0m26-1h0m9 3h0m11-5h0m2 4h0m3-8h0m2 8h0m1-3h0m1 2h0m5-8h0m6 5h0m3-4h0m1-4h0m3 12h0m10-2h0m4-5h0m0-7h0m2 6h0m-9 15h0m-1 8h0m-7-1h0m0-2h0m-1-1h0m-7-5h0m-16 12h0m-9-15h0m-9 13h0m-40-12h0m-1 5h0m-4 2h0m0-9h0m-5 9h0m-3 0h0m-3-6h0m66 26h0m1-13h0m17 6h0m19-5h0m8 17h0" stroke="rgb(193,161,179)" stroke-width="3.8" stroke-linecap="round"/><path transform="scale(0.25)" d="M2420 1471h0m-18-1h0m-1-5h0m-5 4h0m-35 15h0m1-3h0m3 0h0m18-9h0m2 5h0m8 8h0m12-9h0m10 10h0m7-2h0m1-6h0m5 7h0m7 12h0m0-2h0m-7-4h0m-9 2h0m-5 6h0m-7-5h0m-8-2h0m-9 0h0m-1-2h0m-1 9h0m-1 2h0m-2-9h0m-1 1h0m-6 9h0m-10-9h0m-7-1h0m-11 11h0m-25 15h0m6 2h0m1-6h0m1 1h0m0-7h0m4 4h0m25 2h0m5-10h0m6 10h0m1 5h0m6-5h0m9-7h0m12 6h0m0-4h0m9-1h0m1 10h0m8-3h0m1 1h0m1-12h0m8 3h0m5-2h0m7 28h0m-6-3h0m-4-7h0m-11 0h0m-9 10h0m-1-3h0m-24-1h0m-5 3h0m-3 2h0m-2-12h0m-15 6h0m-2 5h0m-8-4h0m0 7h0m-2-11h0m-9 5h0m0 6h0m-6-3h0m-1-9h0m-6 0h0m-6 10h0m-1-9h0m-3 5h0m-2 17h0m3-8h0m7 8h0m1 5h0m11-6h0m0 1h0m7 4h0m4 1h0m1-6h0m11-6h0m3 2h0m1-5h0m0 8h0m21-4h0m16 1h0m15-2h0m4 5h0m7 4h0m3-6h0m10 0h0m1 2h0m1 3h0m2-11h0m0 19h0m-1-1h0m-9 8h0m-1-10h0m-4 4h0m-6 0h0m-2 3h0m-5-8h0m-1 10h0m0 5h0m-11-1h0m-1-6h0m0-1h0m-7-7h0m-24 13h0m-4-9h0m-16 8h0m-1-5h0m-4-3h0m-2 0h0m-5-3h0m-9 0h0m-1 2h0m-7-3h0m0 11h0m-2-6h0m-4 8h0m-44-5h0m-15 6h0m0-9h0m-3 19h0m4 2h0m0 4h0m2-8h0m1-1h0m39 10h0m14-4h0m7-6h0m2 6h0m14-6h0m4 7h0m0 1h0m23-10h0m2-3h0m24 8h0m3-2h0m2-5h0m5 4h0m12 2h0m3 8h0m2-11h0m9 17h0m-9 4h0m-5 5h0m-7-1h0m0 0h0m-3 3h0m-16-1h0m-7-6h0m-3 2h0m-22 1h0m-5 1h0m-28-12h0m-2-1h0m-1 8h0m-4 8h0m-6-9h0m-47 2h0m42 22h0m1-6h0m0 6h0m7-7h0m5 1h0m4-6h0m5 9h0m1-8h0m1-2h0m24 4h0m19 7h0m20 1h0m5-1h0m14-10h0m0 12h0m3-2h0m1 2h0m0-2h0m2-1h0m13-8h0m4 5h0m-8 14h0m-1-5h0m-1 7h0m-1-2h0m-2 1h0m-4-7h0m-2 12h0m-3-5h0m-1 7h0m-1-2h0m0 3h0m-5 0h0m-2-14h0m-4 12h0m-1-9h0m-2 9h0m0-4h0m-5-6h0m0 0h0m-1 10h0m-5-6h0m-5 6h0m-3 1h0m0-9h0m-5 5h0m-1-1h0m-5 0h0m-1 0h0m-10 0h0m-3 4h0m0-5h0m-2 3h0m-19-12h0m-8 3h0m-14 7h0m6 18h0m7-4h0m4-3h0m0 5h0m4-9h0m38 1h0m17 5h0m0-2h0m1-4h0m8 0h0m6-1h0" stroke="rgb(178,128,157)" stroke-width="3.8" stroke-linecap="round"/><path transform="scale(0.25)" d="M2401 1466h0m-3-4h0m-7 7h0m-1-8h0m-3-1h0m-7 11h0m4 7h0m6 0h0m23 6h0m2-1h0m1-6h0m4 3h0m5 3h0m-19 8h0m-3 2h0m-1-5h0m-2 5h0m-1 3h0m-6-6h0m-1 12h0m-6-7h0m-9 7h0m-45-3h0m-11 21h0m5-1h0m7 0h0m9-6h0m2 1h0m12-1h0m2-6h0m8 9h0m19 2h0m10-11h0m1 8h0m2 1h0m4 0h0m3-7h0m14 4h0m8-3h0m9 2h0m2-3h0m7 13h0m-9 12h0m-9-8h0m-4-5h0m-7 3h0m-1 0h0m-3 9h0m0-1h0m-6-2h0m-2-4h0m-2-6h0m-1 13h0m-4-8h0m-5-1h0m-2 4h0m-12-2h0m-2 8h0m-1-6h0m-2 5h0m-6-5h0m-2-8h0m-2 6h0m-4 6h0m-4 2h0m-4-4h0m-4-5h0m-3 10h0m-12-9h0m-3-3h0m0 2h0m-1 0h0m-2 9h0m-4-3h0m-8 12h0m2 5h0m1 0h0m0-5h0m6-7h0m0 2h0m4 14h0m2-12h0m1 5h0m5-1h0m17 2h0m7 5h0m3-6h0m1-4h0m0 8h0m2-7h0m1-6h0m0 6h0m13 9h0m2-14h0m0 0h0m5 3h0m10-4h0m8 3h0m5-1h0m6-2h0m2 10h0m5-5h0m11 9h0m0-3h0m5-7h0m3 2h0m3 4h0m-2 14h0m-1 0h0m-6-3h0m-15 5h0m-13 4h0m-6-8h0m-8-6h0m-5 10h0m-1 5h0m-2 0h0m-21-1h0m-4-10h0m-9-4h0m-6 5h0m-7 8h0m-3-12h0m-4 9h0m-3 1h0m-15 1h0m-2-9h0m-28 8h0m-25 14h0m4-1h0m3-6h0m2 7h0m38 6h0m3-6h0m8-5h0m1 1h0m3 3h0m1 7h0m3-10h0m16-2h0m4 1h0m8 11h0m7-6h0m2-6h0m4 4h0m4-3h0m2-1h0m9 1h0m52-2h0m2 15h0m-9 8h0m-7-3h0m-5 2h0m-1 3h0m-2 1h0m0-3h0m-3-3h0m-6-4h0m-4 9h0m-35-10h0m-6 10h0m-4-9h0m-1 12h0m-20 2h0m-2-7h0m-4-6h0m-5 0h0m-17 1h0m-1 3h0m-1 6h0m-37-12h0m-2 5h0m-1 3h0m-1-3h0m-7-6h0m47 26h0m1 0h0m1-5h0m4 10h0m7-5h0m1-6h0m1 2h0m11 5h0m2 1h0m2-8h0m1 5h0m20-6h0m1 3h0m11 4h0m4 5h0m1-5h0m5 2h0m2 1h0m3-8h0m3 10h0m12-13h0m1 3h0m1-2h0m1 6h0m1-5h0m3 8h0m1-3h0m0-2h0m4-6h0m5 0h0m0 2h0m9 2h0m2 11h0m8-12h0m1-3h0m3 9h0m-12 20h0m-3-4h0m0-1h0m-9 3h0m-5 3h0m-12-4h0m0-4h0m-4-6h0m-3 9h0m-3-4h0m-9 5h0m-8-9h0m-11 12h0m-8-3h0m-14-8h0m0 10h0m-4-6h0m-8-6h0m-5 15h0m-5 6h0m4 3h0m0 0h0m6-7h0m28-1h0m19 0h0m16 3h0m3 4h0m7-1h0m6 3h0m13-8h0" stroke="rgb(160,88,128)" stroke-width="3.8" stroke-linecap="round"/><rect x="622.8" y="369.7" width="8.2" height="43" fill="url(#gfeat)"/><line x1="622.8" y1="411.4" x2="624.6" y2="411.4" stroke="#fff" stroke-width="0.5"/><line x1="629.2" y1="411.4" x2="631" y2="411.4" stroke="#fff" stroke-width="0.5"/><text x="634.5" y="414.3" font-size="8">0</text><line x1="622.8" y1="404" x2="624.6" y2="404" stroke="#fff" stroke-width="0.5"/><line x1="629.2" y1="404" x2="631" y2="404" stroke="#fff" stroke-width="0.5"/><text x="634.5" y="406.9" font-size="8">1</text><line x1="622.8" y1="396.5" x2="624.6" y2="396.5" stroke="#fff" stroke-width="0.5"/><line x1="629.2" y1="396.5" x2="631" y2="396.5" stroke="#fff" stroke-width="0.5"/><text x="634.5" y="399.4" font-size="8">2</text><line x1="622.8" y1="389.1" x2="624.6" y2="389.1" stroke="#fff" stroke-width="0.5"/><line x1="629.2" y1="389.1" x2="631" y2="389.1" stroke="#fff" stroke-width="0.5"/><text x="634.5" y="392" font-size="8">3</text><line x1="622.8" y1="381.7" x2="624.6" y2="381.7" stroke="#fff" stroke-width="0.5"/><line x1="629.2" y1="381.7" x2="631" y2="381.7" stroke="#fff" stroke-width="0.5"/><text x="634.5" y="384.6" font-size="8">4</text><line x1="622.8" y1="374.2" x2="624.6" y2="374.2" stroke="#fff" stroke-width="0.5"/><line x1="629.2" y1="374.2" x2="631" y2="374.2" stroke="#fff" stroke-width="0.5"/><text x="634.5" y="377.1" font-size="8">5</text><text x="0" y="231" font-size="12.5" font-weight="bold" stroke="#000" stroke-width="0.35">d</text><line x1="44.6" y1="252.5" x2="44.6" y2="413" stroke="#000" stroke-width="1"/><line x1="44.1" y1="412.7" x2="237" y2="412.7" stroke="#000" stroke-width="1"/><line x1="42.6" y1="380.8" x2="44.6" y2="380.8" stroke="#000" stroke-width="0.8"/><text x="41.5" y="383.2" font-size="10" text-anchor="end">0.2</text><line x1="42.6" y1="343.5" x2="44.6" y2="343.5" stroke="#000" stroke-width="0.8"/><text x="41.5" y="345.9" font-size="10" text-anchor="end">0.3</text><line x1="42.6" y1="306.2" x2="44.6" y2="306.2" stroke="#000" stroke-width="0.8"/><text x="41.5" y="308.6" font-size="10" text-anchor="end">0.4</text><line x1="42.6" y1="268.9" x2="44.6" y2="268.9" stroke="#000" stroke-width="0.8"/><text x="41.5" y="271.3" font-size="10" text-anchor="end">0.5</text><line x1="57" y1="412.7" x2="57" y2="414.7" stroke="#000" stroke-width="0.8"/><text x="57" y="424.3" font-size="10" text-anchor="middle">0</text><line x1="77.9" y1="412.7" x2="77.9" y2="414.7" stroke="#000" stroke-width="0.8"/><text x="77.9" y="424.3" font-size="10" text-anchor="middle">1</text><line x1="98.6" y1="412.7" x2="98.6" y2="414.7" stroke="#000" stroke-width="0.8"/><text x="98.6" y="424.3" font-size="10" text-anchor="middle">2</text><line x1="119.9" y1="412.7" x2="119.9" y2="414.7" stroke="#000" stroke-width="0.8"/><text x="119.9" y="424.3" font-size="10" text-anchor="middle">3</text><line x1="140.8" y1="412.7" x2="140.8" y2="414.7" stroke="#000" stroke-width="0.8"/><text x="140.8" y="424.3" font-size="10" text-anchor="middle">4</text><line x1="161.5" y1="412.7" x2="161.5" y2="414.7" stroke="#000" stroke-width="0.8"/><text x="161.5" y="424.3" font-size="10" text-anchor="middle">5</text><line x1="182.8" y1="412.7" x2="182.8" y2="414.7" stroke="#000" stroke-width="0.8"/><text x="182.8" y="424.3" font-size="10" text-anchor="middle">6</text><line x1="203.3" y1="412.7" x2="203.3" y2="414.7" stroke="#000" stroke-width="0.8"/><text x="203.3" y="424.3" font-size="10" text-anchor="middle">7</text><line x1="224.3" y1="412.7" x2="224.3" y2="414.7" stroke="#000" stroke-width="0.8"/><text x="224.3" y="424.3" font-size="10" text-anchor="middle">8</text><text x="139.8" y="435.8" font-size="10.4" text-anchor="middle">Cluster</text><text x="19.4" y="326.7" font-size="10.5" text-anchor="middle" transform="rotate(-90 19.4 326.7)">Expression induced osmoconsensus</text><text x="58.6" y="259.8" font-size="10.5" text-anchor="middle" stroke="#000" stroke-width="0.35">****</text><text x="79.5" y="259.8" font-size="10.5" text-anchor="middle" stroke="#000" stroke-width="0.35">****</text><text x="100.2" y="259.8" font-size="10.5" text-anchor="middle" stroke="#000" stroke-width="0.35">***</text><text x="120.7" y="256.6" font-size="10.3" text-anchor="middle">ns</text><text x="142.4" y="259.8" font-size="10.5" text-anchor="middle" stroke="#000" stroke-width="0.35">****</text><text x="163.1" y="259.8" font-size="10.5" text-anchor="middle" stroke="#000" stroke-width="0.35">****</text><text x="183.6" y="256.6" font-size="10.3" text-anchor="middle">ns</text><text x="204.9" y="259.8" font-size="10.5" text-anchor="middle" stroke="#000" stroke-width="0.35">**</text><text x="225.9" y="259.8" font-size="10.5" text-anchor="middle" stroke="#000" stroke-width="0.35">****</text><path d="M57.8 258.1 L57.9 259.3 L58 260.5 L58.1 261.7 L58.2 262.9 L58.4 264.1 L58.5 265.2 L58.7 266.4 L58.9 267.6 L59.2 268.8 L59.4 270 L59.7 271.2 L59.9 272.4 L60.2 273.6 L60.4 274.8 L60.5 276 L60.7 277.2 L60.8 278.4 L61 279.5 L61.1 280.7 L61.2 281.9 L61.4 283.1 L61.5 284.3 L61.7 285.5 L61.8 286.7 L62 287.9 L62.1 289.1 L62.3 290.3 L62.4 291.5 L62.6 292.6 L62.7 293.8 L62.9 295 L63.1 296.2 L63.4 297.4 L63.6 298.6 L63.8 299.8 L64 301 L64 302.2 L64 303.4 L63.9 304.6 L63.9 305.8 L63.8 306.9 L63.7 308.1 L63.6 309.3 L63.4 310.5 L63.3 311.7 L63.1 312.9 L62.9 314.1 L62.7 315.3 L62.4 316.5 L62.2 317.7 L61.9 318.9 L61.6 320 L61.3 321.2 L61 322.4 L60.7 323.6 L60.4 324.8 L60.2 326 L60 327.2 L59.8 328.4 L59.6 329.6 L59.4 330.8 L59.2 332 L59 333.2 L58.8 334.3 L58.6 335.5 L58.4 336.7 L58.2 337.9 L58 339.1 L57.8 340.3 L56.2 340.3 L56 339.1 L55.8 337.9 L55.6 336.7 L55.4 335.5 L55.2 334.3 L55 333.2 L54.8 332 L54.6 330.8 L54.4 329.6 L54.2 328.4 L54 327.2 L53.8 326 L53.6 324.8 L53.3 323.6 L53 322.4 L52.7 321.2 L52.4 320 L52.1 318.9 L51.8 317.7 L51.6 316.5 L51.3 315.3 L51.1 314.1 L50.9 312.9 L50.7 311.7 L50.6 310.5 L50.4 309.3 L50.3 308.1 L50.2 306.9 L50.1 305.8 L50.1 304.6 L50 303.4 L50 302.2 L50 301 L50.2 299.8 L50.4 298.6 L50.6 297.4 L50.9 296.2 L51.1 295 L51.3 293.8 L51.4 292.6 L51.6 291.5 L51.7 290.3 L51.9 289.1 L52 287.9 L52.2 286.7 L52.3 285.5 L52.5 284.3 L52.6 283.1 L52.8 281.9 L52.9 280.7 L53 279.5 L53.2 278.4 L53.3 277.2 L53.5 276 L53.6 274.8 L53.8 273.6 L54.1 272.4 L54.3 271.2 L54.6 270 L54.8 268.8 L55.1 267.6 L55.3 266.4 L55.5 265.2 L55.6 264.1 L55.8 262.9 L55.9 261.7 L56 260.5 L56.1 259.3 L56.2 258.1Z" fill="#F37A72" fill-opacity="0.82" stroke="#F37A72" stroke-width="1"/><path transform="scale(0.25)" d="M222 1038h0m1 1h0m0-2h0m0 2h0m0-3h0m1 2h0m0 0h0m1-3h0m0 4h0m0 0h0m1 0h0m4-4h0m0 3h0m1-4h0m1 0h0m0 0h0m1 3h0m1 10h0m-2-4h0m0 9h0m0-1h0m0 3h0m0-2h0m-1-12h0m0 2h0m-3 4h0m-1 6h0m-1-4h0m-1 3h0m-1 5h0m0-14h0m-1 14h0m-1-14h0m0 2h0m0 12h0m-1-10h0m-2 18h0m0 2h0m1-1h0m0-9h0m1 13h0m0 1h0m0-11h0m1 4h0m4 4h0m0 0h0m0 0h0m1-6h0m1-4h0m0 8h0m0 4h0m1-13h0m0 9h0m1-3h0m1-2h0m2 9h0m2-6h0m0-7h0m0 14h0m1-4h0m1 1h0m4 21h0m-3-12h0m-1 7h0m-1-9h0m0 0h0m-2 13h0m-2-8h0m0 2h0m-1-1h0m0-6h0m-1 2h0m-3 4h0m0 4h0m-1-4h0m-2 6h0m0-11h0m-1 12h0m-1-11h0m-1 0h0m-3 2h0m0 5h0m-1-4h0m0-1h0m0 24h0m1-2h0m2 2h0m4-4h0m2 0h0m0-4h0m0-5h0m2 4h0m2 7h0m1 1h0m1-5h0m3-7h0m1 2h0m0 3h0m3 7h0m0-7h0m2 3h0m4 17h0m-1-9h0m0 7h0m-4 2h0m-5-1h0m-5-9h0m-2 9h0m-1 3h0m-3-12h0m-2 3h0m-6 9h0m-6 4h0m2 6h0m2 6h0m5-5h0m4 2h0m0-5h0m1 1h0m2 1h0m1 6h0m1-8h0m7 0h0m0-3h0m0 14h0m2-11h0m0 0h0m2 0h0m2 0h0m2 9h0m-4 12h0m0 3h0m-11 2h0m-2-6h0m-4 4h0m0-8h0m-2 12h0m-6-6h0m-1-5h0m0 2h0m-1-1h0m-1-2h0m0-3h0m-1-1h0m0 9h0m-1 6h0m-1 7h0m0-1h0m3-3h0m1 13h0m1-13h0m1 2h0m0-3h0m0 2h0m2-1h0m3 7h0m0-7h0m3 2h0m0-1h0m1 12h0m1-12h0m5 6h0m0-6h0m1 6h0m1-7h0m1 13h0m2-15h0m2 1h0m4 2h0m2-2h0m2 13h0m2-9h0m2 10h0m5 8h0m0 7h0m-1-8h0m-1 8h0m-2-10h0m-1 6h0m-3 0h0m-2 0h0m-2-8h0m-2-1h0m-2 0h0m0 2h0m-1 0h0m-6 1h0m0 7h0m-4-6h0m-4 0h0m-7 6h0m0-7h0m-1 10h0m-5 0h0m-5-7h0m-1 0h0m-1 5h0m3 17h0m3-4h0m3 5h0m0-1h0m6-6h0m2 5h0m1 3h0m2-6h0m7 5h0m1-14h0m1 0h0m3 4h0m9 6h0m3 3h0m2-6h0m1 5h0m8 4h0m0-2h0m0 11h0m-3-2h0m0-4h0m-1 10h0m-9 2h0m-1 0h0m-1-5h0m-7 0h0m-4 3h0m-5-13h0m0 1h0m-1 5h0m-1 9h0m-1-11h0m0 4h0m-4-4h0m0-3h0m-6 5h0m-1 2h0m-4 6h0m-4-4h0m0-1h0m-1-1h0m-2-1h0m0 4h0m0-5h0m0 7h0m5 11h0m11-3h0m2 10h0m2-11h0m2 8h0m4-6h0m4 1h0m2 7h0m4-6h0m1 7h0m1-1h0m1-6h0m1-7h0m8 9h0m4-7h0m1 7h0m3 3h0m0-10h0m-3 13h0m-11 14h0m-4-4h0m0-8h0m0 7h0m-1-3h0m0 1h0m-7 5h0m-10-2h0m0-9h0m0 7h0m-1 6h0m-1-5h0m0 5h0m-2-11h0m-2 12h0m-3-6h0m-1-8h0m-4 8h0m-4 5h0m1 3h0m3 5h0m0 0h0m2 6h0m3-4h0m7 0h0m2 3h0m3-8h0m0 7h0m1-5h0m1-3h0m2 11h0m0 0h0m4 1h0m0-4h0m2-8h0m5 6h0m1 5h0m1-11h0m0-2h0m1 4h0m2 0h0m8-4h0m-4 30h0m-2-6h0m-2-7h0m-1 13h0m-1-8h0m0-4h0m-2 13h0m-1-6h0m-2 3h0m0-9h0m-1 4h0m-1 0h0m-1 9h0m0-1h0m0-13h0m-1 4h0m0 7h0m0-5h0m-1 1h0m0 3h0m-2-1h0m-3 3h0m0-4h0m-1-5h0m-1 2h0m-5 6h0m-1-9h0m-1 11h0m-3-8h0m-3-2h0m-3-2h0m0-3h0m-2 9h0m-1-9h0m3 20h0m5-2h0m1 8h0m5 3h0m1 2h0m1-9h0m2 0h0m1-1h0m2 6h0m0 1h0m4-3h0m1-7h0m1 13h0m4-11h0m1 9h0m2 2h0m2-5h0m2 2h0m-1 8h0m-3 10h0m-2 2h0m0-7h0m0-7h0m-4 0h0m0 9h0m0 2h0m-7-3h0m-2-7h0m0 2h0m-3 6h0m-3 1h0m-5-10h0m1 17h0m1 2h0m3-2h0m1 10h0m0-5h0m0-7h0m1 15h0m1 0h0m1-1h0m2-6h0m1-8h0m2 9h0m0 4h0m2-7h0m1 2h0m0-5h0m1 5h0m2 1h0m1 2h0m1-12h0m1 10h0m1-7h0m2 4h0m-3 10h0m-1 1h0m-3 12h0m-1-14h0m0 11h0m0-3h0m-1 3h0m0 0h0m0-6h0m-1 0h0m0 10h0m0-4h0m-1 3h0m0-5h0m0-9h0m-1 6h0m0 4h0m0-2h0m0 8h0m-1-1h0m0-11h0m-1 4h0m0-1h0m0 7h0m-1 0h0m0 0h0m0-11h0m0 5h0m0 0h0m-1-2h0m0 1h0m-4-1h0m-1 4h0m1 8h0m2 8h0m0-5h0m0 1h0m0 4h0m1-6h0m0 3h0m0 9h0m1-11h0m1 3h0m1 1h0m1 3h0m0-10h0m2 13h0m1-3h0m0-5h0m1 7h0m1-9h0m0 8h0m0-11h0m1 12h0m0-10h0m1 1h0m1 5h0" stroke="#f7afaa" stroke-width="4.4" stroke-linecap="round" stroke-opacity="0.55"/><path d="M80.5 302.1 L81.1 303.4 L81.5 304.7 L81.8 306.1 L82.1 307.4 L82.3 308.7 L82.5 310 L82.7 311.4 L82.9 312.7 L83.1 314 L83.3 315.3 L83.5 316.7 L83.7 318 L83.9 319.3 L84.1 320.6 L84.3 322 L84.4 323.3 L84.5 324.6 L84.5 325.9 L84.5 327.3 L84.5 328.6 L84.5 329.9 L84.5 331.2 L84.5 332.6 L84.5 333.9 L84.5 335.2 L84.5 336.5 L84.4 337.9 L84.4 339.2 L84.3 340.5 L84.2 341.8 L84.1 343.2 L83.9 344.5 L83.8 345.8 L83.6 347.1 L83.3 348.5 L83 349.8 L82.7 351.1 L82.4 352.4 L82.1 353.8 L81.9 355.1 L81.7 356.4 L81.6 357.7 L81.4 359.1 L81.3 360.4 L81.2 361.7 L81 363 L80.9 364.4 L80.9 365.7 L80.8 367 L80.7 368.3 L80.7 369.7 L80.6 371 L80.5 372.3 L80.5 373.6 L80.4 375 L80.3 376.3 L80.2 377.6 L80.1 378.9 L79.9 380.3 L79.8 381.6 L79.6 382.9 L79.5 384.2 L79.3 385.6 L79.2 386.9 L79.1 388.2 L79 389.5 L78.8 390.9 L78.7 392.2 L78.6 393.5 L77.2 393.5 L77.1 392.2 L77 390.9 L76.8 389.5 L76.7 388.2 L76.6 386.9 L76.5 385.6 L76.3 384.2 L76.2 382.9 L76 381.6 L75.9 380.3 L75.7 378.9 L75.6 377.6 L75.5 376.3 L75.4 375 L75.3 373.6 L75.3 372.3 L75.2 371 L75.1 369.7 L75.1 368.3 L75 367 L74.9 365.7 L74.9 364.4 L74.8 363 L74.6 361.7 L74.5 360.4 L74.4 359.1 L74.2 357.7 L74.1 356.4 L73.9 355.1 L73.7 353.8 L73.4 352.4 L73.1 351.1 L72.8 349.8 L72.5 348.5 L72.2 347.1 L72 345.8 L71.9 344.5 L71.7 343.2 L71.6 341.8 L71.5 340.5 L71.4 339.2 L71.4 337.9 L71.3 336.5 L71.3 335.2 L71.3 333.9 L71.3 332.6 L71.3 331.2 L71.3 329.9 L71.3 328.6 L71.3 327.3 L71.3 325.9 L71.3 324.6 L71.4 323.3 L71.5 322 L71.7 320.6 L71.9 319.3 L72.1 318 L72.3 316.7 L72.5 315.3 L72.7 314 L72.9 312.7 L73.1 311.4 L73.3 310 L73.5 308.7 L73.7 307.4 L74 306.1 L74.3 304.7 L74.7 303.4 L75.3 302.1Z" fill="#D6922E" fill-opacity="0.82" stroke="#D6922E" stroke-width="1"/><path transform="scale(0.25)" d="M322 1212h0m-1-2h0m-2 5h0m-2-2h0m-1 2h0m-2-4h0m-1 5h0m-5-3h0m-1 1h0m-1-3h0m-3 1h0m-1 4h0m-1-3h0m-2-4h0m0 0h0m-3 9h0m6 14h0m1-15h0m0 1h0m4 9h0m4-10h0m1 6h0m1 4h0m0 3h0m1-10h0m1 8h0m1 1h0m3-7h0m0 4h0m5-5h0m0-5h0m3 8h0m0 6h0m1-5h0m1 0h0m0 8h0m0 13h0m-2-2h0m-2-2h0m-1-2h0m0-5h0m-1 6h0m-1-6h0m-3-1h0m-1 7h0m0-6h0m-7 3h0m-1-1h0m-1 8h0m-3-13h0m-1 10h0m-5-2h0m-4 0h0m-6 7h0m2 2h0m1 1h0m5 11h0m7-12h0m1 10h0m1-1h0m2-7h0m3 6h0m2 1h0m1-8h0m0 14h0m3-16h0m4 10h0m2-9h0m2 10h0m3-2h0m3 13h0m0-5h0m-1-1h0m-1 0h0m-1 11h0m-1 2h0m-3-5h0m-2-8h0m-7 0h0m0 5h0m-1 2h0m-2 5h0m0-6h0m-3 8h0m0-3h0m-2 5h0m-1-12h0m-1-4h0m-2 14h0m0-6h0m0 7h0m0-14h0m-3 10h0m-7-5h0m-5-3h0m-3 8h0m7 10h0m2-5h0m0 6h0m0 1h0m8-6h0m0 13h0m0-4h0m4 0h0m0 5h0m4-7h0m2-2h0m3 1h0m3 2h0m1 5h0m1-12h0m0 6h0m10 3h0m1 2h0m1-12h0m2 0h0m4 9h0m1 19h0m-5 0h0m-7-8h0m-1-1h0m-1 3h0m-6 9h0m-11-15h0m-1 8h0m-1-1h0m-3 1h0m-2-5h0m-3 9h0m-1-9h0m0 7h0m-1 2h0m-7-5h0m-6-3h0m0 24h0m5 1h0m1-14h0m3 9h0m1-7h0m1 4h0m0-4h0m3 8h0m3 5h0m2-7h0m0-8h0m10 14h0m3-4h0m3 3h0m3 0h0m1 1h0m3-5h0m7 2h0m1-7h0m4 15h0m-9 7h0m-6 1h0m-4-4h0m-1-1h0m-1 1h0m-1-4h0m-4-3h0m-1 6h0m-1 6h0m0-10h0m0 8h0m-2 5h0m-1 0h0m-1-2h0m-2 1h0m-4-5h0m-4 0h0m-4 6h0m-1-9h0m-6 8h0m-1-5h0m-1-1h0m7 19h0m1-9h0m2 12h0m9-11h0m4 4h0m1-6h0m2 3h0m3 8h0m2-6h0m0-5h0m3 11h0m0 0h0m3-8h0m11-3h0m1 2h0m1 12h0m1-5h0m3-4h0m1 7h0m0 15h0m-2 3h0m-3-2h0m-3-3h0m0-5h0m-2 4h0m-3-8h0m0 7h0m-1 4h0m-6-8h0m-3 0h0m-2 0h0m-1 4h0m0 2h0m-2-5h0m-9-3h0m-1 5h0m0 1h0m-2 0h0m-1 6h0m-8-13h0m-1 12h0m0 0h0m-1-2h0m1 9h0m1 11h0m3 1h0m0-8h0m5-5h0m1 4h0m2-7h0m1 0h0m14 4h0m0 11h0m7-12h0m1 3h0m6 0h0m1-4h0m1 3h0m4 9h0m0 0h0m-2 11h0m-1 1h0m-8-10h0m-1 15h0m-2-7h0m-3-5h0m-1 8h0m-3-10h0m-3 15h0m-2-16h0m-1 11h0m-2-9h0m-3 13h0m-1-3h0m-1-9h0m-1 2h0m-4 7h0m-3 0h0m4 8h0m3 10h0m4-3h0m2 4h0m3-12h0m0 0h0m1 7h0m2 1h0m1 1h0m3-10h0m0 2h0m2 7h0m3-1h0m0-4h0m1-2h0m3 11h0m2-6h0m0-3h0m0-4h0m2 12h0m3-11h0m-8 16h0m-2 6h0m-3-5h0m-1 9h0m-1-3h0m-1-6h0m0-3h0m-6 1h0m0 13h0m-2-14h0m-3 14h0m-2-5h0m-1-5h0m0 2h0m0 7h0m0 2h0m-1-15h0m0 9h0m-3-7h0m2 18h0m1-1h0m1 7h0m0-4h0m1 7h0m0-13h0m2 14h0m0-1h0m1-7h0m0-2h0m1 3h0m1-2h0m1 10h0m9-12h0m0 11h0m1-9h0m2 8h0m1-4h0m0 5h0m1 3h0m-1 10h0m-1-6h0m-3-6h0m-1 3h0m0 6h0m-1-6h0m0 2h0m0 2h0m-5 5h0m0-2h0m-1-9h0m-4 7h0m-2-7h0m-1 10h0m-1 2h0m-1 2h0m0-11h0m-4-3h0m2 20h0m3 10h0m1-14h0m0 11h0m1 2h0m1-6h0m2 6h0m1-2h0m1 1h0m1-3h0m0-9h0m1 10h0m1 0h0m0 2h0m6-7h0m2 9h0m0-1h0m1-11h0m2 0h0m1 2h0m0 10h0m1-2h0m-1 17h0m-4-6h0m-2-2h0m-1-3h0m0 13h0m-2-1h0m-1-13h0m0 11h0m-1-7h0m0 1h0m-1-2h0m-3 1h0m-1 7h0m-1-12h0m0 2h0m-1 9h0m-5 0h0m0 12h0m0 3h0m0-8h0m1 4h0m1 0h0m1-5h0m1 7h0m0 4h0m2 0h0m1-11h0m1 6h0m1-7h0m1 10h0m1 1h0m6-8h0m1-1h0m0 19h0m0 3h0m0 5h0m-1-8h0m-1 2h0m0 7h0m0-12h0m-1 11h0m-1-9h0m0 1h0m-1 0h0m-1 3h0m-1 2h0m-1-6h0m-1 5h0m0-6h0m0 8h0m-1-9h0m-1-3h0m0 7h0m-1-4h0m-1 9h0m-1-5h0m-1-1h0m0 1h0m-1 1h0m2 14h0m1-4h0m0 6h0m2-4h0m1 8h0m0-4h0m2 1h0m0-8h0m0 13h0m1-10h0m1 6h0m1-7h0m0 0h0m0 6h0m1-3h0m0 8h0m1-10h0m1 8h0m0 3h0m0-9h0m1 7h0m2-12h0m-2 22h0m0-4h0m-1 6h0m0-2h0m0 6h0m0-4h0m-2 3h0m0-6h0m-1 10h0m-1-10h0m-1 9h0m-1-1h0m0-1h0m-1-12h0m0 2h0m-1 9h0m0 0h0m0 1h0m-1-8h0m0 4h0m-1-7h0m0 10h0m0-6h0m2 10h0m1 3h0m1 0h0m1-2h0m1 4h0m1 0h0m0 1h0m1-5h0m0 1h0m0-1h0m2-1h0m0 0h0" stroke="#e6bd81" stroke-width="4.4" stroke-linecap="round" stroke-opacity="0.55"/><path d="M99.4 274.8 L99.4 275.9 L99.4 277 L99.5 278 L99.6 279.1 L99.6 280.2 L99.7 281.3 L99.8 282.4 L99.9 283.5 L100.1 284.5 L100.2 285.6 L100.3 286.7 L100.5 287.8 L100.7 288.9 L100.9 290 L101.2 291 L101.4 292.1 L101.7 293.2 L101.9 294.3 L102.2 295.4 L102.4 296.5 L102.7 297.5 L102.9 298.6 L103.2 299.7 L103.5 300.8 L103.7 301.9 L104 302.9 L104.3 304 L104.5 305.1 L104.8 306.2 L105.1 307.3 L105.4 308.4 L105.7 309.4 L106 310.5 L106.2 311.6 L106.4 312.7 L106.6 313.8 L106.8 314.9 L107 315.9 L107.1 317 L107.2 318.1 L107.3 319.2 L107.3 320.3 L107.2 321.4 L107.1 322.4 L107 323.5 L106.8 324.6 L106.6 325.7 L106.4 326.8 L106.2 327.8 L106 328.9 L105.7 330 L105.4 331.1 L105 332.2 L104.7 333.3 L104.3 334.3 L104 335.4 L103.6 336.5 L103.2 337.6 L102.8 338.7 L102.5 339.8 L102.1 340.8 L101.7 341.9 L101.4 343 L101 344.1 L100.7 345.2 L100.4 346.3 L100 347.3 L99.7 348.4 L99.4 349.5 L97.8 349.5 L97.5 348.4 L97.2 347.3 L96.8 346.3 L96.5 345.2 L96.2 344.1 L95.8 343 L95.5 341.9 L95.1 340.8 L94.7 339.8 L94.4 338.7 L94 337.6 L93.6 336.5 L93.2 335.4 L92.9 334.3 L92.5 333.3 L92.2 332.2 L91.8 331.1 L91.5 330 L91.2 328.9 L91 327.8 L90.8 326.8 L90.6 325.7 L90.4 324.6 L90.2 323.5 L90.1 322.4 L90 321.4 L89.9 320.3 L89.9 319.2 L90 318.1 L90.1 317 L90.2 315.9 L90.4 314.9 L90.6 313.8 L90.8 312.7 L91 311.6 L91.2 310.5 L91.5 309.4 L91.8 308.4 L92.1 307.3 L92.4 306.2 L92.7 305.1 L92.9 304 L93.2 302.9 L93.5 301.9 L93.7 300.8 L94 299.7 L94.3 298.6 L94.5 297.5 L94.8 296.5 L95 295.4 L95.3 294.3 L95.5 293.2 L95.8 292.1 L96 291 L96.3 290 L96.5 288.9 L96.7 287.8 L96.9 286.7 L97 285.6 L97.1 284.5 L97.3 283.5 L97.4 282.4 L97.5 281.3 L97.6 280.2 L97.6 279.1 L97.7 278 L97.8 277 L97.8 275.9 L97.8 274.8Z" fill="#90A83C" fill-opacity="0.82" stroke="#90A83C" stroke-width="1"/><path transform="scale(0.25)" d="M389 1103h0m2-1h0m0 0h0m2 0h0m0-2h0m0 0h0m1 2h0m1-1h0m2 2h0m0-2h0m1 1h0m0 0h0m2 12h0m0 3h0m-2-8h0m0-4h0m-1 6h0m-2-2h0m0 2h0m0-5h0m-1 12h0m0-12h0m0 12h0m0 0h0m-1 1h0m0-5h0m0-5h0m-1 0h0m-1 2h0m0-6h0m0 5h0m0 10h0m-2-3h0m0-4h0m0-5h0m0 6h0m0-3h0m-1 9h0m-1 11h0m1 1h0m0 4h0m0-15h0m1 13h0m0-9h0m0 7h0m1-6h0m1 3h0m1-3h0m1 4h0m0-6h0m1 1h0m1-4h0m1 0h0m0 1h0m0-1h0m1 3h0m1 3h0m0-2h0m1-3h0m0 11h0m1-2h0m1-3h0m0 4h0m2 14h0m-1-4h0m-1-2h0m-1-1h0m-1 12h0m0-11h0m-1 2h0m0 0h0m-1 7h0m0-3h0m-2-9h0m-2-1h0m-3 5h0m0 2h0m0 1h0m-2 8h0m0-9h0m-1 1h0m0-5h0m0 4h0m-1 13h0m0 0h0m1-4h0m1 15h0m0-9h0m2 5h0m1-9h0m1-2h0m0 5h0m0 3h0m1-7h0m1 6h0m2-1h0m1-5h0m2 8h0m1 1h0m1 1h0m2-1h0m0 5h0m1-8h0m0-6h0m0 14h0m0-14h0m3 13h0m3 13h0m-3-10h0m0 8h0m-1-3h0m-1 0h0m-2-4h0m-1 6h0m-3-6h0m-2 1h0m-1-3h0m0 5h0m-1 0h0m-1 5h0m-1 2h0m-1-6h0m0 9h0m-2-4h0m-1-11h0m0 9h0m-1 3h0m0-9h0m-1 9h0m0 3h0m-2-15h0m-2 2h0m-3 10h0m0 3h0m0-9h0m0 3h0m-5 23h0m0-1h0m1-4h0m1-8h0m5 4h0m0 5h0m3-7h0m0 0h0m1-1h0m1 5h0m3-4h0m0-4h0m2 9h0m2 1h0m1-1h0m1-1h0m0 2h0m1-2h0m1-7h0m1-2h0m0 11h0m2-5h0m0-4h0m1 3h0m1 8h0m0-12h0m1 1h0m0 13h0m1-14h0m0 11h0m0-4h0m2-1h0m1 6h0m0-6h0m2-6h0m1 7h0m3 3h0m1 17h0m0-8h0m-1 4h0m-1 4h0m-1-5h0m0 4h0m-3 3h0m-1-9h0m-1-4h0m-2 8h0m-5-1h0m-1-6h0m-1 0h0m0 8h0m0-6h0m-2 7h0m-1 0h0m-1 5h0m-2-7h0m-2-9h0m-3 11h0m-1-10h0m-1 1h0m-9 3h0m-2 10h0m-2 15h0m8-9h0m3 4h0m1-8h0m2 7h0m0 8h0m0-3h0m0-12h0m2 15h0m3-7h0m1-8h0m2 2h0m6 8h0m1 1h0m0-10h0m4 8h0m1-8h0m1 0h0m1 9h0m0-7h0m2 4h0m3-3h0m1-1h0m0 0h0m1-1h0m0 5h0m1 7h0m0-4h0m3 5h0m1-14h0m3 13h0m3 13h0m-1 2h0m0-6h0m-3 6h0m0-11h0m-3 5h0m-4 6h0m-2 1h0m0-5h0m-1 0h0m-4 4h0m-2-1h0m0-6h0m-1 7h0m-6-12h0m-1 1h0m-1 8h0m-4-1h0m-1-10h0m-3 14h0m-1-7h0m-3 0h0m-9 0h0m-1 8h0m-5-13h0m-1 3h0m-8 26h0m1-11h0m6-2h0m1 2h0m2 6h0m3-10h0m3 4h0m4-1h0m2 6h0m4-1h0m2-5h0m7 4h0m1 2h0m2-8h0m1 2h0m6 6h0m2-1h0m1 6h0m3-11h0m3 9h0m3 2h0m3-9h0m1 1h0m9 19h0m-2-9h0m-1 12h0m0-2h0m-1-8h0m-2 7h0m0-1h0m-6-4h0m-3 8h0m-2-8h0m-1 9h0m-1-7h0m-1 3h0m-1 7h0m-5-3h0m-4 2h0m0-12h0m-2 12h0m-2-10h0m-3-4h0m-1 1h0m-1 9h0m-2-6h0m-1-1h0m0 5h0m-2-3h0m-1 9h0m-1-9h0m0 6h0m0-8h0m-2 11h0m-1-1h0m0-14h0m-1 14h0m-1-5h0m-9 0h0m-1-8h0m-1-1h0m-4 16h0m0-10h0m-1-6h0m-2 7h0m-2-3h0m-2 3h0m4 12h0m0 5h0m4 0h0m2-2h0m4-3h0m5-2h0m3 11h0m1 1h0m2-11h0m0-2h0m4 16h0m6-15h0m2 9h0m3-2h0m3 8h0m1-10h0m3 1h0m4 7h0m1-12h0m2 11h0m0-12h0m0 3h0m3 4h0m1-6h0m1 0h0m4 11h0m2 1h0m3 2h0m0-13h0m1 8h0m1 8h0m-2-3h0m-1 2h0m-2 3h0m-7 2h0m-2-4h0m-1 4h0m-3 7h0m-2-12h0m-1 5h0m-11-4h0m-2 11h0m-2-4h0m0 5h0m-4-8h0m-4-6h0m-2 9h0m-1-6h0m-8 8h0m-1 4h0m0-5h0m-4 5h0m-5-15h0m0 2h0m-2 8h0m6 14h0m1-4h0m1 2h0m1 1h0m2 7h0m5 1h0m1-9h0m3-7h0m2 7h0m6 7h0m1-5h0m2 0h0m3-2h0m5 0h0m0 9h0m3-8h0m0-7h0m3 10h0m3-10h0m3 0h0m1 4h0m4 5h0m1-1h0m2-6h0m0-3h0m3 7h0m-7 23h0m-2-14h0m0 9h0m-5 6h0m-1-10h0m-1 6h0m-1 3h0m0-2h0m-4-2h0m-1-10h0m-1 5h0m-1 11h0m-5-2h0m-3-7h0m-1 7h0m-2-5h0m-1-4h0m0-4h0m-1 4h0m-6-3h0m-3 2h0m0 6h0m-3-1h0m-1-7h0m1 20h0m0-2h0m6 8h0m0-3h0m1 0h0m4-6h0m1 0h0m1 9h0m1-7h0m0 8h0m1 2h0m0-13h0m1 1h0m0 10h0m2-7h0m0-4h0m3 9h0m2 4h0m3-15h0m4 14h0m1-6h0m1-5h0m6 8h0m-3 14h0m-4 6h0m-1-9h0m-4 10h0m-1-10h0m0-2h0m0-3h0m0 7h0m0 8h0m-3-3h0m-1-3h0m0-4h0m-6 1h0m0 8h0m-1-5h0m0 5h0m0-10h0m-1 2h0m-1-4h0m0 1h0m-4 12h0m0-14h0m0 5h0m-1 4h0m0-7h0m4 20h0m0 1h0m1-3h0m0 5h0m1 1h0m0-8h0m1 6h0m1 0h0m0-2h0m1-6h0m1 7h0m1 3h0m0-2h0m2-2h0m1 0h0m0 1h0m1-2h0m0-6h0m0 13h0m0 2h0m1-10h0m0 4h0m1-7h0m0 12h0m1-8h0m2 0h0m0-1h0m0 4h0m1-9h0m0 13h0m1-3h0m1-10h0m1 0h0m1 1h0m-4 14h0m-2 3h0m-2-1h0m0 3h0m-1-5h0m0 3h0m0-2h0m0 0h0m-2 1h0m-2-1h0m-2-1h0m-1 1h0m0 0h0m-1 3h0" stroke="#bcca8a" stroke-width="4.4" stroke-linecap="round" stroke-opacity="0.55"/><path d="M120.7 266.7 L120.8 268.2 L120.9 269.7 L121 271.2 L121.1 272.6 L121.2 274.1 L121.4 275.6 L121.5 277.1 L121.6 278.6 L121.7 280.1 L121.9 281.6 L122 283.1 L122.2 284.5 L122.3 286 L122.5 287.5 L122.6 289 L122.8 290.5 L122.9 292 L123.1 293.5 L123.3 295 L123.5 296.4 L123.7 297.9 L123.9 299.4 L124.1 300.9 L124.3 302.4 L124.5 303.9 L124.6 305.4 L124.8 306.8 L125 308.3 L125.1 309.8 L125.2 311.3 L125.4 312.8 L125.5 314.3 L125.5 315.8 L125.6 317.3 L125.7 318.7 L125.8 320.2 L125.8 321.7 L125.9 323.2 L125.9 324.7 L125.9 326.2 L125.9 327.7 L125.8 329.2 L125.7 330.6 L125.7 332.1 L125.6 333.6 L125.5 335.1 L125.4 336.6 L125.2 338.1 L125.1 339.6 L124.9 341 L124.7 342.5 L124.5 344 L124.3 345.5 L124.1 347 L123.9 348.5 L123.7 350 L123.5 351.5 L123.2 352.9 L123 354.4 L122.8 355.9 L122.5 357.4 L122.3 358.9 L122.1 360.4 L121.9 361.9 L121.7 363.4 L121.4 364.8 L121.2 366.3 L120.9 367.8 L120.6 369.3 L119.2 369.3 L118.9 367.8 L118.6 366.3 L118.4 364.8 L118.1 363.4 L117.9 361.9 L117.7 360.4 L117.5 358.9 L117.3 357.4 L117 355.9 L116.8 354.4 L116.6 352.9 L116.3 351.5 L116.1 350 L115.9 348.5 L115.7 347 L115.5 345.5 L115.3 344 L115.1 342.5 L114.9 341 L114.7 339.6 L114.6 338.1 L114.4 336.6 L114.3 335.1 L114.2 333.6 L114.1 332.1 L114.1 330.6 L114 329.2 L113.9 327.7 L113.9 326.2 L113.9 324.7 L113.9 323.2 L114 321.7 L114 320.2 L114.1 318.7 L114.2 317.3 L114.3 315.8 L114.3 314.3 L114.4 312.8 L114.6 311.3 L114.7 309.8 L114.8 308.3 L115 306.8 L115.2 305.4 L115.3 303.9 L115.5 302.4 L115.7 300.9 L115.9 299.4 L116.1 297.9 L116.3 296.4 L116.5 295 L116.7 293.5 L116.9 292 L117 290.5 L117.2 289 L117.3 287.5 L117.5 286 L117.6 284.5 L117.8 283.1 L117.9 281.6 L118.1 280.1 L118.2 278.6 L118.3 277.1 L118.4 275.6 L118.6 274.1 L118.7 272.6 L118.8 271.2 L118.9 269.7 L119 268.2 L119.1 266.7Z" fill="#3DB54A" fill-opacity="0.82" stroke="#3DB54A" stroke-width="1"/><path transform="scale(0.25)" d="M476 1067h0m0 3h0m1-3h0m1 4h0m0-3h0m0-1h0m5 0h0m3 15h0m0-4h0m-4 1h0m-1-5h0m0 4h0m-4-5h0m-1 9h0m0 2h0m-1-10h0m-1-2h0m-1 9h0m2 17h0m0 3h0m1 0h0m1-10h0m1 0h0m0 4h0m0 8h0m0-9h0m2 1h0m1-6h0m1 7h0m0 7h0m1-12h0m1 2h0m2 6h0m0-6h0m3 20h0m-1 1h0m-2-10h0m-2 5h0m-5 2h0m0-5h0m0 9h0m-1-8h0m0 7h0m-1-2h0m-1-8h0m-1 5h0m0 10h0m-1-12h0m-1 9h0m0-6h0m-3 22h0m3-10h0m1 8h0m2-7h0m1 5h0m0-2h0m3-1h0m0-2h0m0 4h0m1 2h0m0-1h0m2 2h0m1-5h0m2 10h0m1-13h0m1 3h0m2 0h0m-1 11h0m-1 5h0m0-1h0m0 1h0m-1 10h0m0-5h0m-1-10h0m-1 15h0m-1-3h0m-1-7h0m-3 0h0m-4-3h0m-4 9h0m-1-1h0m0 0h0m0 4h0m-1-1h0m-2-5h0m5 20h0m0-10h0m2 6h0m5 0h0m1 2h0m0-6h0m1-3h0m0 5h0m1-3h0m0 13h0m3-8h0m0-1h0m2-2h0m0-2h0m3 1h0m1 3h0m1 4h0m1 7h0m-3-1h0m-2 15h0m-1-2h0m-1-6h0m-1 8h0m-7-3h0m-2-12h0m0 2h0m-2 0h0m-1 7h0m-1 3h0m-1-4h0m-2-9h0m-1 13h0m-4-9h0m-3 27h0m3-11h0m1-3h0m2 3h0m1 11h0m4-3h0m1-10h0m2 12h0m3-7h0m3-5h0m2 12h0m0-7h0m1 2h0m2 0h0m0-5h0m7 3h0m1 6h0m3 6h0m0-3h0m-3 15h0m0-10h0m-2 4h0m-7 7h0m-8-13h0m-4 3h0m0 10h0m-4-14h0m-4 4h0m-3-3h0m-2 3h0m-3 26h0m1-6h0m1 2h0m0 0h0m3 1h0m2-8h0m1 5h0m3 5h0m4 0h0m2-2h0m3 2h0m1-9h0m2 8h0m3-3h0m0-6h0m1-2h0m0 3h0m5-3h0m13 29h0m-10-13h0m-7 7h0m-3-1h0m-3-2h0m-1-3h0m-1 7h0m-9-6h0m-6 6h0m-3 4h0m-4 0h0m2 11h0m1-9h0m1 9h0m11-8h0m1 8h0m3-1h0m1 2h0m1-8h0m3 10h0m1-1h0m0-3h0m13 2h0m1 0h0m5-1h0m1 0h0m4 21h0m-1-1h0m0-6h0m-1 1h0m0-4h0m-4 7h0m-1-6h0m-1 8h0m0-10h0m-6 11h0m-3-3h0m0 3h0m-9-8h0m-1-1h0m-1 3h0m-6 2h0m0 1h0m-1-5h0m-3 1h0m0-3h0m-4 7h0m-7 6h0m4 8h0m1-4h0m4-2h0m3 11h0m2-11h0m1 4h0m7 3h0m2 2h0m2 2h0m6-12h0m1 7h0m0 3h0m3-11h0m3 13h0m0-2h0m7 1h0m0 17h0m-3-8h0m-4 4h0m-2-3h0m-6 7h0m0-8h0m-1-5h0m-3 4h0m-10-2h0m-9 2h0m-4 1h0m-5 2h0m-2-7h0m5 26h0m7-3h0m3 7h0m5-13h0m1 4h0m3 9h0m2-2h0m0-12h0m0 7h0m3-6h0m5 12h0m4-13h0m7 10h0m5 6h0m0 0h0m-9 6h0m-1-7h0m0 12h0m-2-11h0m-2 9h0m-12-5h0m-4-4h0m0 13h0m-1 1h0m0-5h0m-5-8h0m0 11h0m-1-4h0m-1 6h0m-1-3h0m-2-6h0m-3-4h0m-1 1h0m-4-4h0m5 21h0m1 10h0m1-9h0m6 8h0m5-13h0m0 7h0m1 0h0m0-8h0m5 15h0m6-1h0m1-6h0m2 5h0m1-4h0m0-3h0m1 1h0m1 2h0m4-8h0m3 6h0m3 3h0m-4 12h0m-2 4h0m-4-6h0m-5-2h0m-2-1h0m0 6h0m-1 8h0m-1 0h0m-3-8h0m-7-4h0m-4 2h0m-3-4h0m0 6h0m-1-7h0m0 12h0m-1 4h0m-1 13h0m1-5h0m5-7h0m0 10h0m3-10h0m4 0h0m5 1h0m2 1h0m4 6h0m2 5h0m0-2h0m1 10h0m-1 2h0m-2-1h0m-1-2h0m-5 9h0m-4-6h0m0 3h0m0 3h0m-6-2h0m-1 4h0m-1-9h0m0 6h0m-1-11h0m-1 16h0m4 3h0m1 3h0m4-6h0m1 10h0m0-11h0m1 7h0m7-8h0m0 14h0m0-11h0m1 10h0m4-1h0m1-3h0m1-2h0m0-1h0m2-5h0m1-1h0m0 2h0m1 4h0m-2 22h0m-1 0h0m-4-2h0m-1 1h0m0-4h0m-1 9h0m-2-3h0m-2-1h0m0-5h0m-1-1h0m-1 8h0m-3-13h0m-1 6h0m-1-6h0m-1 12h0m-1-6h0m-3 6h0m2 3h0m2 11h0m1-4h0m0 5h0m2 0h0m1 2h0m0-6h0m2 6h0m1-13h0m3 0h0m2 10h0m2-1h0m1-9h0m0 11h0m1-5h0m0 5h0m1-10h0m-4 18h0m-1-2h0m-1 10h0m0-7h0m-1 4h0m0 2h0m-3 4h0m0-10h0m-1-1h0m0 1h0m-2-1h0m0 8h0m-2 2h0m0-2h0m0-4h0m0 6h0m-2-3h0m3 9h0m0-1h0m2-2h0m1 4h0m5-5h0" stroke="#8ad292" stroke-width="4.4" stroke-linecap="round" stroke-opacity="0.55"/><path d="M141.6 273.3 L142 275.2 L142.3 277.1 L142.7 279 L142.9 281 L143.2 282.9 L143.4 284.8 L143.6 286.7 L143.8 288.6 L144.1 290.5 L144.3 292.5 L144.5 294.4 L144.8 296.3 L145 298.2 L145.2 300.1 L145.4 302 L145.6 304 L145.8 305.9 L145.9 307.8 L146.1 309.7 L146.2 311.6 L146.3 313.5 L146.4 315.5 L146.5 317.4 L146.5 319.3 L146.3 321.2 L146.2 323.1 L146 325 L145.8 326.9 L145.7 328.9 L145.5 330.8 L145.3 332.7 L145.1 334.6 L145 336.5 L144.8 338.4 L144.6 340.4 L144.4 342.3 L144.1 344.2 L143.8 346.1 L143.3 348 L142.7 349.9 L142.3 351.9 L142 353.8 L141.8 355.7 L141.6 357.6 L141.5 359.5 L141.5 361.4 L141.5 363.3 L141.5 365.3 L141.5 367.2 L141.5 369.1 L141.5 371 L141.4 372.9 L141.4 374.8 L141.4 376.8 L141.4 378.7 L141.4 380.6 L141.4 382.5 L141.4 384.4 L141.4 386.3 L141.4 388.3 L141.4 390.2 L141.4 392.1 L141.4 394 L141.4 395.9 L141.4 397.8 L141.4 399.8 L141.4 401.7 L141.4 403.6 L141.4 405.5 L140.2 405.5 L140.2 403.6 L140.2 401.7 L140.2 399.8 L140.2 397.8 L140.2 395.9 L140.2 394 L140.2 392.1 L140.2 390.2 L140.2 388.3 L140.2 386.3 L140.2 384.4 L140.2 382.5 L140.2 380.6 L140.2 378.7 L140.2 376.8 L140.2 374.8 L140.2 372.9 L140.1 371 L140.1 369.1 L140.1 367.2 L140.1 365.3 L140.1 363.3 L140.1 361.4 L140.1 359.5 L140 357.6 L139.8 355.7 L139.6 353.8 L139.3 351.9 L138.9 349.9 L138.3 348 L137.8 346.1 L137.5 344.2 L137.2 342.3 L137 340.4 L136.8 338.4 L136.6 336.5 L136.5 334.6 L136.3 332.7 L136.1 330.8 L135.9 328.9 L135.8 326.9 L135.6 325 L135.4 323.1 L135.3 321.2 L135.1 319.3 L135.1 317.4 L135.2 315.5 L135.3 313.5 L135.4 311.6 L135.5 309.7 L135.7 307.8 L135.8 305.9 L136 304 L136.2 302 L136.4 300.1 L136.6 298.2 L136.8 296.3 L137.1 294.4 L137.3 292.5 L137.5 290.5 L137.8 288.6 L138 286.7 L138.2 284.8 L138.4 282.9 L138.7 281 L138.9 279 L139.3 277.1 L139.6 275.2 L140 273.3Z" fill="#35BFA0" fill-opacity="0.82" stroke="#35BFA0" stroke-width="1"/><path transform="scale(0.25)" d="M563 1098h0m0 4h0m6 0h0m-4 7h0m0-3h0m-1-1h0m0 3h0m-2-1h0m-1-2h0m0 5h0m-1-3h0m0 8h0m0-10h0m-4 4h0m-2 7h0m0 13h0m0-9h0m1 10h0m3 4h0m3-10h0m2 3h0m1 2h0m1-4h0m7 7h0m2-10h0m0 8h0m-3 19h0m-1-1h0m-9 2h0m-2-7h0m-1-6h0m-8 20h0m0 2h0m1-1h0m2-5h0m7 1h0m1 2h0m1 6h0m5-8h0m7 19h0m-5 9h0m-11-5h0m-3 9h0m10 5h0m3-4h0m5 2h0m6 10h0m2-5h0m-5 7h0m-10 4h0m-4 6h0m0-9h0m0 10h0m-9 2h0m-2-12h0m22 19h0m1 5h0m8-5h0m0 6h0m3 11h0m-3 10h0m0-11h0m-2 3h0m-5 3h0m-13-1h0m-7 2h0m0-10h0m-11 13h0m-1 10h0m2-2h0m3 7h0m9-5h0m2-5h0m10 10h0m1-12h0m10 1h0m3 1h0m-4 18h0m-7-2h0m-8-3h0m-14 1h0m-2 4h0m-3-1h0m-6 14h0m7 0h0m8 7h0m0-1h0m4-6h0m3 3h0m4 0h0m1 1h0m5-1h0m4-3h0m5 7h0m4 0h0m2-2h0m-1 17h0m-7 6h0m0-3h0m-4-1h0m-3-1h0m-2 4h0m-3-3h0m-9-5h0m0 4h0m-4-6h0m-3 8h0m0 4h0m-4-14h0m-2 13h0m1 15h0m7-5h0m16-1h0m2 5h0m1-6h0m12 13h0m-1 10h0m-3-10h0m-1 6h0m-3 0h0m-3-6h0m-14 7h0m-12-10h0m-1 14h0m-1-3h0m-1-10h0m4 18h0m1 11h0m5-4h0m0 3h0m2-6h0m8 6h0m2-12h0m1 11h0m2-9h0m4 8h0m2 0h0m2-5h0m0 5h0m1-4h0m3 3h0m-3 5h0m-2 16h0m-2-12h0m-13 9h0m0 2h0m0-11h0m-3 0h0m-5 4h0m-3-1h0m9 15h0m0 10h0m6-1h0m4-11h0m1 8h0m4-8h0m0 1h0m2-2h0m-3 25h0m-1 1h0m-4-3h0m-1 4h0m-1 1h0m-7-8h0m-4 5h0m0-9h0m5 25h0m3-10h0m0-2h0m2 1h0m3 8h0m2-9h0m-1 20h0m0 3h0m-1-3h0m-1 9h0m-1-7h0m0-1h0m0 8h0m-1-12h0m-1 4h0m0 4h0m-3 4h0m0-5h0m-1 19h0m1 3h0m4-11h0m2 4h0m1 0h0m0-2h0m0 25h0m-2-14h0m0 2h0m0 8h0m0 2h0m-1-9h0m-1 4h0m0-3h0m-2 7h0m-2 0h0m-1-5h0m1 13h0m2 7h0m0-6h0m0 10h0m1-1h0m1-5h0m0 2h0m1-2h0m0-3h0m2-5h0m1 14h0m0 6h0m-3 1h0m-1 6h0m0 0h0m0-11h0m-1 5h0m-3 0h0m0 8h0m1 12h0m2-4h0m1 6h0m0-7h0m2-4h0m3 29h0m-1 1h0m0-7h0m-3-5h0m-1 10h0m-1-6h0m0-5h0m-2 3h0m0-3h0m0 8h0m-1-3h0m0 1h0m0-2h0m0 21h0m0-7h0m5 2h0m0 5h0m0-8h0m2 9h0m0 2h0m0-2h0m1 19h0m-2-8h0m-1-5h0m-1 5h0m-1 3h0m0-8h0m0-1h0m-2 4h0m0 5h0m-2 12h0m1 4h0m3 5h0m0-2h0m2-3h0m0-6h0m1 10h0m2-4h0m1 6h0m-1 14h0m-1-13h0m-2 6h0m0 2h0m-1 5h0m-2-6h0m0 4h0m-2-1h0m0 11h0m0 6h0m1 5h0m1 0h0m0-10h0m1 6h0m1-1h0m1 3h0m1-11h0m1-2h0m2 7h0m0-5h0m0 18h0m-3-1h0m-4-2h0m-1 1h0" stroke="#85d8c6" stroke-width="4.4" stroke-linecap="round" stroke-opacity="0.55"/><path d="M162.5 314.9 L162.5 315.8 L162.5 316.6 L162.6 317.5 L162.6 318.3 L162.6 319.2 L162.7 320 L162.8 320.9 L162.9 321.7 L163.1 322.6 L163.3 323.5 L163.6 324.3 L163.8 325.2 L164.1 326 L164.4 326.9 L164.8 327.7 L165.2 328.6 L165.7 329.4 L166.2 330.3 L166.7 331.1 L167.1 332 L167.5 332.9 L167.9 333.7 L168.3 334.6 L168.6 335.4 L169 336.3 L169.3 337.1 L169.6 338 L169.9 338.8 L170.2 339.7 L170.5 340.6 L170.7 341.4 L171 342.3 L171.2 343.1 L171.4 344 L171.5 344.8 L171.5 345.7 L171.3 346.5 L171.1 347.4 L170.8 348.2 L170.6 349.1 L170.3 350 L170.1 350.8 L169.8 351.7 L169.5 352.5 L169.2 353.4 L168.9 354.2 L168.6 355.1 L168.3 355.9 L168 356.8 L167.6 357.7 L167.3 358.5 L166.9 359.4 L166.5 360.2 L166.1 361.1 L165.7 361.9 L165.4 362.8 L165 363.6 L164.7 364.5 L164.5 365.3 L164.2 366.2 L164 367.1 L163.7 367.9 L163.5 368.8 L163.3 369.6 L163.1 370.5 L162.9 371.3 L162.7 372.2 L162.5 373 L162.3 373.9 L160.7 373.9 L160.5 373 L160.3 372.2 L160.1 371.3 L159.9 370.5 L159.7 369.6 L159.5 368.8 L159.3 367.9 L159 367.1 L158.8 366.2 L158.5 365.3 L158.3 364.5 L158 363.6 L157.6 362.8 L157.3 361.9 L156.9 361.1 L156.5 360.2 L156.1 359.4 L155.7 358.5 L155.4 357.7 L155 356.8 L154.7 355.9 L154.4 355.1 L154.1 354.2 L153.8 353.4 L153.5 352.5 L153.2 351.7 L152.9 350.8 L152.7 350 L152.4 349.1 L152.2 348.2 L151.9 347.4 L151.7 346.5 L151.5 345.7 L151.5 344.8 L151.6 344 L151.8 343.1 L152 342.3 L152.3 341.4 L152.5 340.6 L152.8 339.7 L153.1 338.8 L153.4 338 L153.7 337.1 L154 336.3 L154.4 335.4 L154.7 334.6 L155.1 333.7 L155.5 332.9 L155.9 332 L156.3 331.1 L156.8 330.3 L157.3 329.4 L157.8 328.6 L158.2 327.7 L158.6 326.9 L158.9 326 L159.2 325.2 L159.4 324.3 L159.7 323.5 L159.9 322.6 L160.1 321.7 L160.2 320.9 L160.3 320 L160.4 319.2 L160.4 318.3 L160.4 317.5 L160.5 316.6 L160.5 315.8 L160.5 314.9Z" fill="#1BBDE6" fill-opacity="0.82" stroke="#1BBDE6" stroke-width="1"/><path transform="scale(0.25)" d="M640 1260h0m1 2h0m0 2h0m1 0h0m1-1h0m3-1h0m3-1h0m1 0h0m1 0h0m1 1h0m1 16h0m0-6h0m-1 3h0m0-6h0m0 7h0m-2 2h0m0-7h0m0-5h0m0 0h0m-1 8h0m0 3h0m-1-8h0m0 0h0m-1 1h0m0-6h0m0 0h0m-1 16h0m0-15h0m0 14h0m-1-9h0m0 2h0m-1 5h0m0-11h0m-1-2h0m0 12h0m-1-10h0m0 11h0m0-7h0m-1 2h0m0-3h0m-1 10h0m0-1h0m-1 10h0m0 1h0m0-8h0m1 15h0m0-11h0m1-1h0m0 3h0m0-6h0m1 3h0m0 0h0m0 5h0m1-2h0m0-5h0m1 9h0m0-6h0m1-1h0m1 3h0m0 3h0m0 1h0m1-8h0m3-2h0m1 1h0m0 8h0m1-6h0m1 9h0m0-1h0m0-5h0m0 2h0m1 4h0m0-5h0m0 0h0m1 4h0m0 1h0m0 0h0m5 15h0m-2-2h0m0 5h0m-1-9h0m0 8h0m-1 2h0m0-2h0m-1-4h0m0-2h0m0 1h0m-1 3h0m-1-5h0m0 6h0m0-13h0m-1 0h0m-3 11h0m0-5h0m0 10h0m-1-8h0m-2-2h0m0 7h0m-1-11h0m0-1h0m-1 0h0m0 0h0m-2 7h0m-1-7h0m-1 7h0m-1 6h0m0-6h0m-1 4h0m-1 2h0m-1-12h0m0 4h0m-1 4h0m-1-3h0m0 8h0m0-5h0m-2 4h0m-7 18h0m1-1h0m2-4h0m1 1h0m1-5h0m1 7h0m1-6h0m0 2h0m2 1h0m1-3h0m1-1h0m6 5h0m0-3h0m0-9h0m1 9h0m2-7h0m2 4h0m0 5h0m1 1h0m2-2h0m1-3h0m2 1h0m1-7h0m0 2h0m0 2h0m0-5h0m0 13h0m1-2h0m0 1h0m1 3h0m1-2h0m2-13h0m0 10h0m1-2h0m1 7h0m0 0h0m4-5h0m1-1h0m2 4h0m5 18h0m-1-11h0m-1 4h0m-1 4h0m-1-10h0m0 3h0m-2-4h0m-1 14h0m-2-2h0m0-5h0m-1 0h0m-2-4h0m-2 0h0m-1 10h0m-1-4h0m-3-7h0m-1 9h0m-1-3h0m-2-5h0m-2 6h0m0 5h0m-2-14h0m-2 2h0m0 0h0m0 0h0m-2-2h0m-3 3h0m-1 6h0m-1-2h0m-2 6h0m-2-7h0m-1-5h0m-2 11h0m-1-7h0m-1 1h0m-1 5h0m-1-11h0m0 12h0m-1-4h0m0-9h0m0 9h0m-1-9h0m-2 14h0m0-11h0m0 11h0m-2-6h0m-9 23h0m1-7h0m1 7h0m0-4h0m2 4h0m0-11h0m2 9h0m1 0h0m2-9h0m0 9h0m1 1h0m2 1h0m0-10h0m1 7h0m2 2h0m2-14h0m4 9h0m2-7h0m3 3h0m3-5h0m0 14h0m1-3h0m1-5h0m2 7h0m2-1h0m0-7h0m10 7h0m2-5h0m0-7h0m0 8h0m2 5h0m0-2h0m6-11h0m1 14h0m0 1h0m4-7h0m4-6h0m2 6h0m0-3h0m1 10h0m1-10h0m1 5h0m5 14h0m-1-1h0m-2 0h0m-1 8h0m0-8h0m0 3h0m-4 4h0m-4-6h0m0 8h0m-1-5h0m-1-4h0m-1 8h0m0-1h0m0-9h0m-1 0h0m-1 0h0m-2 7h0m-1-9h0m0 9h0m-2-10h0m-1 12h0m-2-14h0m-4 3h0m0 2h0m-2 4h0m-2-6h0m-3 6h0m0-4h0m-2 9h0m0-11h0m-1 11h0m-1-5h0m-6 1h0m-2-1h0m-1-9h0m-3 9h0m-1 7h0m-2-11h0m-4 2h0m-2 6h0m-1-8h0m-6-3h0m0 1h0m-8 13h0m-1-4h0m-1-8h0m-3 14h0m2 4h0m1 4h0m1 5h0m1 0h0m1-5h0m0-8h0m2 7h0m2 2h0m4-3h0m4-4h0m2 11h0m5-10h0m6 11h0m3-6h0m1-9h0m2 0h0m1 7h0m6 2h0m3-4h0m4-1h0m4 2h0m0 4h0m6-8h0m0 4h0m1-6h0m3 5h0m3-2h0m1 0h0m1-2h0m1 11h0m3-11h0m5 6h0m0 5h0m1-8h0m1-3h0m0 0h0m-8 15h0m0 14h0m0-9h0m-5-4h0m-4 1h0m-1 3h0m-4 3h0m-4 7h0m0-12h0m-3 12h0m0-11h0m0-3h0m-1 12h0m-1-14h0m0 4h0m-1 10h0m-1-13h0m-1 1h0m-4 2h0m0-1h0m-1 0h0m-12 7h0m-1-8h0m-1 10h0m0-3h0m-1 6h0m-3-7h0m-1-4h0m0 2h0m0 1h0m-4-2h0m-1 8h0m-1 1h0m-12-11h0m4 18h0m3 2h0m1 8h0m0-11h0m2 3h0m2 8h0m3-4h0m3-10h0m1 6h0m2 8h0m1-12h0m1 11h0m1 1h0m1-5h0m0-3h0m1 8h0m4-14h0m1 2h0m1 11h0m3-2h0m0-2h0m1-6h0m0 9h0m5-7h0m0 1h0m1 1h0m0 1h0m0-4h0m1 7h0m4 1h0m2-5h0m0 0h0m1 1h0m1 0h0m2-1h0m0 3h0m0 5h0m2-1h0m0-11h0m3 5h0m1-2h0m0 1h0m1-2h0m0 3h0m1 0h0m6-6h0m-3 14h0m-1 4h0m-2 4h0m-1-1h0m-1-6h0m0 7h0m-1 0h0m0-1h0m0-7h0m-2 4h0m-1 0h0m-2 3h0m0 4h0m0-11h0m-1 8h0m-1-3h0m-4 7h0m-1-10h0m0 11h0m0 2h0m-1-2h0m-4-2h0m-1-4h0m0-1h0m-1 4h0m-1 2h0m-2-5h0m-4-5h0m-2 13h0m0-2h0m-1 1h0m0-8h0m0-3h0m-2 1h0m0-1h0m-1 8h0m-2-9h0m-1 8h0m-2 3h0m0-3h0m0-1h0m0-7h0m-1 8h0m-4-1h0m-1-2h0m0-3h0m0 5h0m-1 3h0m-1-3h0m0-3h0m-2-2h0m0 2h0m5 10h0m3 9h0m1-2h0m0 3h0m0-6h0m2 7h0m1-11h0m0 11h0m4-11h0m2 12h0m0-8h0m2 2h0m1 9h0m5-4h0m0-7h0m1 0h0m4 0h0m0 7h0m2-11h0m0 10h0m2 0h0m4-10h0m6 8h0m-6 12h0m-1 5h0m-2-2h0m-1 7h0m0-4h0m0-4h0m-1 2h0m0-1h0m-1-2h0m-3 7h0m0-5h0m-1-2h0m-2 0h0m-3 1h0m0 4h0m-1-6h0m0 2h0m-2 8h0m0-6h0m-1-7h0m0 5h0m-1 2h0m-1 1h0m-1 5h0m0 0h0m0-7h0m0 7h0m-1-8h0m0-7h0m-1 3h0m-1-1h0m-3-1h0m8 17h0m0 2h0m0 11h0m1-12h0m0 4h0m0 6h0m1-1h0m0-6h0m0 9h0m1-2h0m1-13h0m0 4h0m1 4h0m0 8h0m1-5h0m1-10h0m0 7h0m1-6h0m1-2h0m0 12h0m1 2h0m0-13h0m0 12h0m0 3h0m1-9h0m0 2h0m0 3h0m1 0h0m0-3h0m0 7h0m1-15h0m0 4h0m1-3h0m0 10h0m1-2h0m0-1h0m1 0h0m-4 12h0m0-1h0m0 0h0m-1-3h0m0 5h0m-1-2h0m-1 2h0m-1-1h0m-1-3h0m-1 1h0m0 2h0m-1-1h0m-2 2h0m-1 1h0m0-4h0m-1 2h0" stroke="#76d7f0" stroke-width="4.4" stroke-linecap="round" stroke-opacity="0.55"/><path d="M184.3 297.2 L184.5 298 L184.7 298.9 L185 299.7 L185.2 300.6 L185.5 301.4 L185.8 302.3 L186 303.1 L186.4 304 L186.7 304.8 L187.1 305.7 L187.5 306.5 L187.8 307.4 L188.2 308.2 L188.5 309.1 L188.8 309.9 L189 310.8 L189.3 311.6 L189.5 312.5 L189.7 313.3 L189.9 314.2 L190.1 315 L190.3 315.9 L190.5 316.7 L190.6 317.6 L190.8 318.4 L190.9 319.3 L191.1 320.1 L191.2 321 L191.3 321.8 L191.4 322.7 L191.5 323.5 L191.5 324.4 L191.5 325.2 L191.4 326.1 L191.3 326.9 L191.1 327.8 L191 328.6 L190.8 329.5 L190.6 330.3 L190.4 331.2 L190.2 332 L189.9 332.9 L189.6 333.7 L189.3 334.6 L189 335.4 L188.7 336.3 L188.4 337.1 L188.1 338 L187.8 338.8 L187.6 339.7 L187.3 340.5 L187 341.4 L186.8 342.2 L186.5 343.1 L186.3 343.9 L186.1 344.8 L185.9 345.6 L185.7 346.5 L185.5 347.3 L185.3 348.2 L185.1 349 L185 349.9 L184.8 350.7 L184.6 351.6 L184.4 352.4 L184.2 353.3 L184 354.1 L183.8 355 L183.6 355.8 L182 355.8 L181.8 355 L181.6 354.1 L181.4 353.3 L181.2 352.4 L181 351.6 L180.8 350.7 L180.6 349.9 L180.5 349 L180.3 348.2 L180.1 347.3 L179.9 346.5 L179.7 345.6 L179.5 344.8 L179.3 343.9 L179.1 343.1 L178.8 342.2 L178.6 341.4 L178.3 340.5 L178 339.7 L177.8 338.8 L177.5 338 L177.2 337.1 L176.9 336.3 L176.6 335.4 L176.3 334.6 L176 333.7 L175.7 332.9 L175.4 332 L175.2 331.2 L175 330.3 L174.8 329.5 L174.6 328.6 L174.5 327.8 L174.3 326.9 L174.2 326.1 L174.1 325.2 L174.1 324.4 L174.1 323.5 L174.2 322.7 L174.3 321.8 L174.4 321 L174.5 320.1 L174.7 319.3 L174.8 318.4 L175 317.6 L175.1 316.7 L175.3 315.9 L175.5 315 L175.7 314.2 L175.9 313.3 L176.1 312.5 L176.3 311.6 L176.6 310.8 L176.8 309.9 L177.1 309.1 L177.4 308.2 L177.8 307.4 L178.1 306.5 L178.5 305.7 L178.9 304.8 L179.2 304 L179.6 303.1 L179.8 302.3 L180.1 301.4 L180.4 300.6 L180.6 299.7 L180.9 298.9 L181.1 298 L181.3 297.2Z" fill="#6B95D6" fill-opacity="0.82" stroke="#6B95D6" stroke-width="1"/><path transform="scale(0.25)" d="M722 1194h0m0 5h0m1-3h0m0-4h0m2 3h0m0-2h0m0-4h0m1 3h0m0 1h0m1 1h0m0-2h0m2-3h0m0 5h0m0-4h0m2 7h0m1-2h0m0 1h0m0 3h0m1-6h0m0-2h0m1 5h0m1-1h0m1-3h0m0 1h0m0 5h0m1-2h0m1-7h0m0 10h0m1-10h0m0 3h0m1-1h0m1 5h0m2 13h0m-1-3h0m-3 6h0m0 2h0m-1-9h0m0 11h0m0-8h0m0-5h0m-1 0h0m-1 4h0m-1-2h0m0 1h0m-2 0h0m0-1h0m-1 1h0m-1 10h0m-1-9h0m-1-4h0m-1-2h0m0 5h0m-1 0h0m0-3h0m-1-1h0m-1 3h0m0 0h0m0-3h0m-1 9h0m0 4h0m0-5h0m-1-1h0m-1-4h0m-2-2h0m0 6h0m0-6h0m0 0h0m-1 6h0m0 5h0m0-2h0m-3 1h0m0 1h0m-6 17h0m5-11h0m0 2h0m2 9h0m2-1h0m0-11h0m1 13h0m1-7h0m1-7h0m0 9h0m1-3h0m0 3h0m1-4h0m0 4h0m1-4h0m1 9h0m1-5h0m0 3h0m0-12h0m1 4h0m1-2h0m1 10h0m0-8h0m1 5h0m0-4h0m1-3h0m1 6h0m1-4h0m1 7h0m0 3h0m1-11h0m1-2h0m2 8h0m0 4h0m2-14h0m4 12h0m1 1h0m0-9h0m2-3h0m2 6h0m0 6h0m1 1h0m1-2h0m7 15h0m-3-6h0m0 0h0m-1-2h0m-3 3h0m0 3h0m-1-2h0m-1 0h0m-2 1h0m-4-8h0m0 8h0m0-2h0m-2 8h0m0-1h0m0-3h0m-1 0h0m0-2h0m-1-5h0m-1 0h0m-1 10h0m0-4h0m0-5h0m-1 7h0m0-9h0m-1-2h0m-2 8h0m-1-9h0m-4 9h0m-1-4h0m-2-3h0m-2 4h0m0 0h0m0 5h0m0-5h0m-1-3h0m-1 6h0m-1-4h0m-3-2h0m-1 8h0m-1-10h0m-2-1h0m-2 8h0m-1-2h0m-1 2h0m-1 0h0m-1 5h0m-2-8h0m-1 10h0m-3 16h0m1 0h0m1-8h0m2-4h0m1 3h0m3-2h0m0 2h0m2 9h0m2-5h0m0-8h0m2-1h0m1 13h0m2-9h0m3 0h0m2 10h0m3-12h0m4 6h0m1-6h0m0 7h0m1 2h0m0-1h0m3-3h0m3-4h0m6 1h0m0 5h0m3 6h0m1-5h0m1 1h0m1-5h0m6-6h0m1 14h0m0-6h0m1-7h0m1 11h0m4 19h0m0-7h0m-1-5h0m0 6h0m0-9h0m0 7h0m-1 1h0m-2-6h0m-4-1h0m-1 3h0m-1-1h0m0 4h0m-2 7h0m0-12h0m-1 11h0m-1-12h0m-1 10h0m0 0h0m-5-7h0m0 4h0m-1 6h0m-1-13h0m-2 9h0m-4 3h0m-9-13h0m0 9h0m0 2h0m-2 1h0m-2-7h0m-1 3h0m-4-2h0m-8 8h0m-1 0h0m-1-10h0m-1 4h0m-1 6h0m-1-14h0m-2 4h0m-1 6h0m-4 5h0m-3 7h0m3-3h0m1 5h0m7 3h0m1 2h0m1-9h0m0 9h0m1-9h0m1 10h0m1-6h0m2-6h0m0 7h0m4-7h0m2-1h0m0 0h0m2 8h0m0-3h0m1 4h0m2 5h0m2-12h0m3 7h0m0-8h0m5 0h0m1-2h0m0 11h0m2 3h0m0-14h0m2 12h0m1-9h0m0 2h0m1-2h0m1 4h0m1 2h0m0-3h0m2-1h0m0 9h0m1-12h0m1 7h0m0 5h0m1-12h0m1-1h0m2 6h0m3 5h0m2-3h0m3 1h0m5-8h0m2 21h0m0-7h0m-4 9h0m-1-5h0m0-5h0m-1 3h0m-2 8h0m-1-5h0m-2 6h0m-1-11h0m0 13h0m-1-10h0m-1 8h0m-4-2h0m-4-1h0m-1-4h0m-1 11h0m0-2h0m-4-7h0m0 0h0m-3 0h0m-1-1h0m-2-1h0m-1 9h0m0-9h0m0 10h0m-3-10h0m-2-2h0m0 10h0m-1-2h0m0-3h0m-1 2h0m-4-5h0m-2 9h0m-3-9h0m0 3h0m-2 3h0m-2-10h0m0 9h0m-4 3h0m-1-11h0m-1 12h0m0-2h0m-1-5h0m-3 1h0m-2 1h0m-2 13h0m3 1h0m2 2h0m10 0h0m1-1h0m0-7h0m1 6h0m1-4h0m1-1h0m1 1h0m1 10h0m0-7h0m0 0h0m1-3h0m1 8h0m2 4h0m2-4h0m2-6h0m0 7h0m1-1h0m0-9h0m0 10h0m1-4h0m3 6h0m2-11h0m1 6h0m2 5h0m5 0h0m1-14h0m0 15h0m2-3h0m2-10h0m3 8h0m2-6h0m0-4h0m5 8h0m0-4h0m1 10h0m2-2h0m0-9h0m1 4h0m2-5h0m0 11h0m1-2h0m3-9h0m-6 14h0m-1 7h0m-2-5h0m0 10h0m-1-1h0m-1-3h0m-1-4h0m-1 3h0m0-2h0m-2-2h0m-1 7h0m-1 2h0m0-2h0m-5 5h0m-4-12h0m0-2h0m-3 1h0m-3-1h0m-1 8h0m-2-4h0m-2 5h0m-1-2h0m-1 2h0m-1-1h0m-10-7h0m0 12h0m-1-2h0m-1-7h0m-1 10h0m-1-3h0m-2-12h0m-1 16h0m-1-13h0m0 3h0m-2 7h0m-1 2h0m4 7h0m3 6h0m2 0h0m2-3h0m4 5h0m0-7h0m8 2h0m2 7h0m1-12h0m0 9h0m6 3h0m0-2h0m1-10h0m3-3h0m1 12h0m1-12h0m1 8h0m0-8h0m1 13h0m1-12h0m2 3h0m1 5h0m0-2h0m2 5h0m1-2h0m0 3h0m1-11h0m1 6h0m2-6h0m-7 13h0m0 11h0m-1 2h0m-1 2h0m-1-8h0m-1-2h0m-1 8h0m-1 1h0m0-2h0m0-4h0m-2 1h0m-1 2h0m0-4h0m0-7h0m-1 4h0m0 0h0m-1 4h0m0 3h0m0-7h0m-2 4h0m-2 4h0m0 0h0m-1-10h0m-1 9h0m-1 1h0m-1-5h0m-1 2h0m-3-3h0m-1-2h0m-1 10h0m-2-10h0m-5 8h0m-1-2h0m0-10h0m0 11h0m-1 1h0m-1-1h0m-1-9h0m-3-2h0m8 26h0m1 0h0m1-1h0m0-3h0m0 3h0m0-1h0m1-6h0m0 12h0m1-10h0m0 6h0m0-4h0m0 0h0m2-2h0m1 8h0m1-8h0m0 1h0m0 6h0m0-1h0m2 4h0m0-4h0m0 3h0m1-10h0m2 5h0m0 5h0m2-1h0m1-11h0m1 12h0m0-6h0m1 3h0m0-1h0m2-7h0m0 11h0m1 2h0m1-8h0m2 5h0m0 1h0m1 1h0m1-9h0m1 1h0m0 2h0m2-8h0m-8 17h0m-3 2h0m-2 11h0m-1-12h0m-1 4h0m-1-2h0m0 9h0m0-1h0m-1-9h0m0 8h0m-2 2h0m0-13h0m-1 6h0m0 7h0m0-2h0m-1-11h0m0 4h0m-1 10h0m-1-12h0m0 6h0m0-6h0m-1 14h0m0-1h0m-1-2h0m0-6h0m-2-7h0m0 1h0m5 24h0m0 3h0m1 2h0m0-11h0m0-2h0m0 10h0m1-5h0m0 8h0m0-3h0m1-1h0m0 1h0m0-3h0m1 0h0m1-5h0m1 2h0m0 2h0m0-4h0m1 11h0m0-9h0m1 9h0m1-10h0m0 5h0m1-6h0m0 5h0m0-6h0m0 2h0m0-2h0m1 10h0m0-2h0m0 5h0m0-9h0m0 3h0m1-9h0m0 7h0m1-2h0" stroke="#a6bfe6" stroke-width="4.4" stroke-linecap="round" stroke-opacity="0.55"/><path d="M204.6 266.5 L204.6 267.7 L204.7 269 L204.7 270.2 L204.7 271.5 L204.8 272.7 L204.8 273.9 L204.9 275.2 L205 276.4 L205.1 277.7 L205.1 278.9 L205.2 280.1 L205.3 281.4 L205.4 282.6 L205.5 283.8 L205.6 285.1 L205.8 286.3 L205.9 287.6 L206 288.8 L206.2 290 L206.4 291.3 L206.6 292.5 L206.8 293.8 L207.1 295 L207.3 296.2 L207.6 297.5 L207.8 298.7 L208.1 300 L208.3 301.2 L208.6 302.4 L208.8 303.7 L209.1 304.9 L209.3 306.2 L209.5 307.4 L209.7 308.6 L209.9 309.9 L210 311.1 L210.2 312.3 L210.3 313.6 L210.3 314.8 L210.3 316.1 L210.1 317.3 L209.9 318.5 L209.7 319.8 L209.5 321 L209.3 322.3 L209 323.5 L208.7 324.7 L208.4 326 L208.1 327.2 L207.9 328.5 L207.6 329.7 L207.5 330.9 L207.4 332.2 L207.2 333.4 L207.1 334.7 L207 335.9 L206.9 337.1 L206.8 338.4 L206.7 339.6 L206.6 340.8 L206.6 342.1 L206.5 343.3 L206.4 344.6 L206.4 345.8 L206.3 347 L206.1 348.3 L206 349.5 L205.6 350.8 L204.8 352 L201.8 352 L201 350.8 L200.6 349.5 L200.5 348.3 L200.3 347 L200.2 345.8 L200.2 344.6 L200.1 343.3 L200 342.1 L200 340.8 L199.9 339.6 L199.8 338.4 L199.7 337.1 L199.6 335.9 L199.5 334.7 L199.4 333.4 L199.2 332.2 L199.1 330.9 L199 329.7 L198.7 328.5 L198.5 327.2 L198.2 326 L197.9 324.7 L197.6 323.5 L197.3 322.3 L197.1 321 L196.9 319.8 L196.7 318.5 L196.5 317.3 L196.3 316.1 L196.3 314.8 L196.3 313.6 L196.4 312.3 L196.6 311.1 L196.7 309.9 L196.9 308.6 L197.1 307.4 L197.3 306.2 L197.5 304.9 L197.8 303.7 L198 302.4 L198.3 301.2 L198.5 300 L198.8 298.7 L199 297.5 L199.3 296.2 L199.5 295 L199.8 293.8 L200 292.5 L200.2 291.3 L200.4 290 L200.6 288.8 L200.7 287.6 L200.8 286.3 L201 285.1 L201.1 283.8 L201.2 282.6 L201.3 281.4 L201.4 280.1 L201.5 278.9 L201.5 277.7 L201.6 276.4 L201.7 275.2 L201.8 273.9 L201.8 272.7 L201.9 271.5 L201.9 270.2 L201.9 269 L202 267.7 L202 266.5Z" fill="#A07BC8" fill-opacity="0.82" stroke="#A07BC8" stroke-width="1"/><path transform="scale(0.25)" d="M807 1067h0m0 1h0m1-1h0m2 1h0m2 2h0m1-1h0m1-3h0m1 4h0m0-2h0m0 4h0m2-3h0m4 12h0m-1-2h0m0 9h0m-1-12h0m0 6h0m-1 5h0m0-5h0m-4-7h0m-1 11h0m0-5h0m-1-3h0m0 8h0m-1-13h0m-2-1h0m-1 15h0m0-4h0m0-6h0m0 2h0m-1-6h0m-2 20h0m0-1h0m0 4h0m1-4h0m0 7h0m0 3h0m0-1h0m1-6h0m1-2h0m0 0h0m1 9h0m1-13h0m2 1h0m4 7h0m0-8h0m0 14h0m1-10h0m0 1h0m0-4h0m0 0h0m1 2h0m1-3h0m2 0h0m0 7h0m0-1h0m1 7h0m0 18h0m-2-8h0m0 1h0m-1-3h0m-1-1h0m-1 7h0m0 4h0m0-7h0m0-8h0m-1 15h0m0-12h0m0-1h0m-3 2h0m-4 4h0m0-2h0m-1-2h0m-1 11h0m0-1h0m-1-13h0m0 0h0m-1 3h0m0 11h0m0-5h0m-1 7h0m2 2h0m0-2h0m1 2h0m1 1h0m0 9h0m2-13h0m0 14h0m0-7h0m2 6h0m1-5h0m0-6h0m1 11h0m0-1h0m1-9h0m2 7h0m1-1h0m2 4h0m1-6h0m0-7h0m1 6h0m0 5h0m0-4h0m1 2h0m2 17h0m-1 4h0m-4-8h0m0-2h0m-1 9h0m0-14h0m0 4h0m-1 7h0m-3-3h0m-2 1h0m-5 3h0m-1-12h0m-2 12h0m0-1h0m-2 3h0m-1-4h0m0-2h0m-3 20h0m0 3h0m5-8h0m2-7h0m1 11h0m1-1h0m1-3h0m0-5h0m0 5h0m1 0h0m0 1h0m3-7h0m0 8h0m0 0h0m1 0h0m3-9h0m3 1h0m3 11h0m2-5h0m1 4h0m3 19h0m0-6h0m-1-2h0m0 2h0m-1-7h0m-3 14h0m0-1h0m-3-1h0m-1 0h0m-1-4h0m-6 4h0m0-12h0m-7 3h0m-7 8h0m0-5h0m0-4h0m-1 1h0m-1 7h0m-2 17h0m0-10h0m1 13h0m0-9h0m3 0h0m1 7h0m1-5h0m4 8h0m3-3h0m0-4h0m2 4h0m3 1h0m6-9h0m1 3h0m0 8h0m2-13h0m2 8h0m0-8h0m2-2h0m2 14h0m1-14h0m1 14h0m1-6h0m0-2h0m4 14h0m0 7h0m-3 0h0m-13-3h0m-3 1h0m-4-9h0m-6 9h0m-2-4h0m-2-2h0m0 10h0m-5-10h0m-2 5h0m-1 5h0m-2-5h0m2 19h0m4-5h0m4 8h0m2-1h0m3-11h0m7-1h0m2 6h0m0 2h0m4-3h0m2 5h0m1 2h0m1-5h0m11 6h0m1-8h0m3 7h0m3 11h0m-1 4h0m-2-9h0m-1 8h0m0-2h0m-1-1h0m-3-3h0m0 8h0m-8-1h0m-1 2h0m-3-9h0m-1 8h0m-1-6h0m-1 6h0m-3-11h0m-3 13h0m-3-6h0m0 5h0m-4-1h0m-1-8h0m0 1h0m-2 1h0m-3-6h0m-3 11h0m-11-4h0m-3 17h0m3-2h0m2 2h0m3-3h0m6 8h0m9-8h0m8-2h0m3-2h0m1 1h0m6 3h0m5-2h0m5 9h0m0-6h0m3 2h0m1-7h0m1 2h0m2-1h0m0 18h0m-1-4h0m-1 10h0m-3-11h0m0 3h0m-3 3h0m-2 8h0m-2-13h0m-1 6h0m-2 0h0m-1 1h0m-5 2h0m0 1h0m-1 2h0m-6-3h0m-3 3h0m-2-10h0m-4 4h0m-2-6h0m-5 9h0m0-10h0m-2 14h0m-3-8h0m-1-2h0m-2 22h0m2 5h0m3-10h0m1 9h0m0-4h0m0 3h0m3-12h0m2 12h0m1-7h0m2 9h0m0-5h0m1 5h0m7-8h0m10-4h0m0 11h0m11-2h0m6-10h0m2-1h0m-4 20h0m-6 4h0m-10-6h0m-1 11h0m0-2h0m-1 3h0m-1-1h0m-3-5h0m-1 0h0m-2 6h0m0-13h0m0-1h0m-1 3h0m-7 5h0m-1 0h0m-2-6h0m-2-1h0m-5-2h0m0 13h0m0 6h0m1 1h0m4 3h0m0-7h0m1 12h0m1 1h0m1-2h0m4-9h0m2 4h0m2 2h0m8-4h0m0 4h0m2-3h0m1-3h0m1 1h0m5 4h0m2 14h0m0-3h0m0 4h0m-2-2h0m-2 9h0m-1-1h0m-1-8h0m0 4h0m0-1h0m-1 1h0m0-5h0m-2 3h0m-4 7h0m-3-5h0m-1 0h0m-1-2h0m-2 8h0m-2-8h0m-5 0h0m-3-1h0m-1-4h0m0-1h0m1 19h0m0 3h0m1-1h0m1 9h0m0-9h0m2 0h0m2-4h0m2 8h0m0 0h0m2 1h0m2-6h0m2 4h0m2-7h0m0 6h0m1 5h0m5-6h0m2 9h0m1-6h0m0 3h0m1-13h0m5 5h0m-2 13h0m-1 13h0m-1-6h0m0 0h0m-1 6h0m-1 0h0m-3 0h0m-2-3h0m-4-5h0m0-7h0m-2 8h0m-1 7h0m-1-8h0m0 5h0m-3-8h0m-1-3h0m0 2h0m-1 4h0m0 7h0m-1-2h0m-1 0h0m-2-7h0m-3 10h0m2 13h0m1-10h0m0 5h0m2 0h0m0-6h0m0 10h0m0-6h0m2 7h0m2-5h0m12-1h0m7 2h0m1 2h0m-2 10h0m-1 8h0m-1-9h0m-4 12h0m0-1h0m0-12h0m-2 11h0m-3-10h0m-1 3h0m-1-5h0m0 9h0m-1 0h0m0 5h0m0-11h0m-2 10h0m-1-13h0m0 10h0m0 3h0m0-13h0m-1 1h0m-3 13h0m-1-14h0m0 4h0m-3-1h0m-1-3h0" stroke="#c6afde" stroke-width="4.4" stroke-linecap="round" stroke-opacity="0.55"/><path d="M225.1 275.7 L225.1 277.2 L225.1 278.7 L225.1 280.2 L225.2 281.7 L225.2 283.1 L225.2 284.6 L225.2 286.1 L225.3 287.6 L225.3 289.1 L225.3 290.6 L225.3 292.1 L225.4 293.6 L225.4 295.1 L225.5 296.6 L225.5 298 L225.6 299.5 L225.6 301 L225.7 302.5 L225.8 304 L225.8 305.5 L225.9 307 L226 308.5 L226.2 310 L226.3 311.5 L226.5 312.9 L226.6 314.4 L226.8 315.9 L227.1 317.4 L227.4 318.9 L227.7 320.4 L228 321.9 L228.3 323.4 L228.6 324.9 L228.8 326.4 L229.1 327.8 L229.4 329.3 L229.6 330.8 L229.7 332.3 L229.7 333.8 L229.7 335.3 L229.7 336.8 L229.7 338.3 L229.7 339.8 L229.7 341.3 L229.6 342.7 L229.4 344.2 L229.2 345.7 L229 347.2 L228.9 348.7 L228.7 350.2 L228.5 351.7 L228.3 353.2 L228.2 354.7 L228 356.2 L227.8 357.6 L227.6 359.1 L227.4 360.6 L227.3 362.1 L227.1 363.6 L226.9 365.1 L226.7 366.6 L226.5 368.1 L226.4 369.6 L226.2 371.1 L226 372.5 L225.8 374 L225.5 375.5 L225.3 377 L225.1 378.5 L223.5 378.5 L223.3 377 L223.1 375.5 L222.8 374 L222.6 372.5 L222.4 371.1 L222.2 369.6 L222.1 368.1 L221.9 366.6 L221.7 365.1 L221.5 363.6 L221.3 362.1 L221.2 360.6 L221 359.1 L220.8 357.6 L220.6 356.2 L220.4 354.7 L220.3 353.2 L220.1 351.7 L219.9 350.2 L219.7 348.7 L219.6 347.2 L219.4 345.7 L219.2 344.2 L219 342.7 L218.9 341.3 L218.9 339.8 L218.9 338.3 L218.9 336.8 L218.9 335.3 L218.9 333.8 L218.9 332.3 L219 330.8 L219.2 329.3 L219.5 327.8 L219.8 326.4 L220 324.9 L220.3 323.4 L220.6 321.9 L220.9 320.4 L221.2 318.9 L221.5 317.4 L221.8 315.9 L222 314.4 L222.1 312.9 L222.3 311.5 L222.4 310 L222.6 308.5 L222.7 307 L222.8 305.5 L222.8 304 L222.9 302.5 L223 301 L223 299.5 L223.1 298 L223.1 296.6 L223.2 295.1 L223.2 293.6 L223.3 292.1 L223.3 290.6 L223.3 289.1 L223.3 287.6 L223.4 286.1 L223.4 284.6 L223.4 283.1 L223.4 281.7 L223.5 280.2 L223.5 278.7 L223.5 277.2 L223.5 275.7Z" fill="#DE6DB8" fill-opacity="0.82" stroke="#DE6DB8" stroke-width="1"/><path transform="scale(0.25)" d="M896 1104h0m2-1h0m5 0h0m0 12h0m-1 3h0m-2-9h0m-1 10h0m-1 1h0m0-14h0m0 3h0m-2 4h0m-1-2h0m-1 5h0m0-6h0m-2 0h0m0-4h0m0 24h0m1 4h0m1-4h0m1-2h0m0 0h0m0 2h0m3-8h0m0 0h0m2 3h0m2 11h0m0-6h0m-4 21h0m0-5h0m-1-8h0m-1 9h0m0-2h0m-2-2h0m-2-2h0m-1 20h0m1 7h0m0 0h0m1-10h0m1-3h0m0-1h0m0 2h0m0 6h0m1-8h0m0 12h0m3-6h0m1-5h0m0 9h0m1-10h0m1 2h0m0 11h0m0-10h0m1 15h0m-1 8h0m-2-2h0m0-4h0m0-3h0m-1 13h0m0-10h0m0 6h0m-3-2h0m-1 1h0m-1 0h0m0 3h0m-2 10h0m0-4h0m1 8h0m2-11h0m1 2h0m1 11h0m2-10h0m1 2h0m1 7h0m0-10h0m0 1h0m1 10h0m1-12h0m1 10h0m1-10h0m0 11h0m1 4h0m-4 4h0m0 3h0m-1 6h0m-3-12h0m0 0h0m-1 2h0m-1 0h0m-1 2h0m-1 9h0m-1-8h0m0-4h0m-3 16h0m2 6h0m1-3h0m1-5h0m0 4h0m1 3h0m3 8h0m2-6h0m0-6h0m1 2h0m1 8h0m0-13h0m0 11h0m2-11h0m3 24h0m-1-5h0m-1 9h0m-4-5h0m-4-7h0m-3 2h0m-4 22h0m0-2h0m2-2h0m1 2h0m0 3h0m7-7h0m3 0h0m2 10h0m1-12h0m1 12h0m4 16h0m0-7h0m-2-5h0m0 13h0m-4 1h0m-1-3h0m-1 0h0m0-10h0m0 0h0m0 8h0m-2-5h0m-3 4h0m-4-4h0m-3 5h0m-5 3h0m-6 17h0m3-1h0m1-5h0m2-7h0m3 7h0m2 3h0m4-1h0m7-6h0m5 6h0m2 0h0m1-7h0m2-2h0m2 2h0m2 15h0m-1 6h0m-3-1h0m-3 7h0m-1-6h0m0 5h0m-3-10h0m0 2h0m-2 8h0m-1 1h0m0 2h0m-1-12h0m-3 4h0m0-4h0m-4 7h0m-13-1h0m-6 19h0m2-6h0m4 5h0m0-5h0m3-5h0m8 11h0m4-9h0m9-2h0m1 4h0m1 4h0m8-3h0m4-3h0m2 27h0m-12-6h0m-2 1h0m-12-1h0m-9 3h0m-5-6h0m-2 5h0m-2 0h0m-2 2h0m5 15h0m4 1h0m0-10h0m2 9h0m2-7h0m1 10h0m2-1h0m7-13h0m4 10h0m3-5h0m5 6h0m2-8h0m1 11h0m0-4h0m9-1h0m-1 10h0m-8 10h0m-4-7h0m-4-6h0m-22 11h0m0 12h0m5 6h0m0-2h0m2-8h0m9 7h0m6-8h0m0 12h0m2-1h0m2-10h0m8 6h0m-6 7h0m0 13h0m-3-11h0m-2 3h0m-4 2h0m-2-5h0m-1 0h0m-4 1h0m-1 4h0m-5 6h0m-10 1h0m4 14h0m0 1h0m7 1h0m0-3h0m2-4h0m4-2h0m1 1h0m2-1h0m2 6h0m3-8h0m0 7h0m2-1h0m0-6h0m7 9h0m-1 13h0m-1 5h0m-11-6h0m-1-1h0m-7 6h0m-2 1h0m-6-13h0m0 2h0m0-4h0m6 29h0m1-9h0m1 7h0m2-4h0m1 0h0m2-5h0m1 13h0m0 0h0m3-9h0m1 8h0m2-9h0m1-4h0m1 10h0m0-6h0m4 3h0m-1 23h0m-1-4h0m-8-10h0m-1 10h0m-1-10h0m0 14h0m-2-5h0m-2 2h0m0-6h0m0-3h0m-6 9h0m0 13h0m3 5h0m0-11h0m2 7h0m2-6h0m3 9h0m2-3h0m1 4h0m1-2h0m2-8h0m3 5h0m0 1h0m-3 20h0m-1-4h0m-5-8h0m-1 6h0m0 8h0m-1-13h0m-1 5h0m-1 4h0m0-11h0m-1 11h0m0-9h0m-2 12h0m0-14h0m0 8h0m2 10h0m1 6h0m4-5h0m1 6h0m4-10h0m1 8h0" stroke="#eba7d4" stroke-width="4.4" stroke-linecap="round" stroke-opacity="0.55"/><defs><clipPath id="vclip"><path d="M57.8 258.1 L57.9 259.3 L58 260.5 L58.1 261.7 L58.2 262.9 L58.4 264.1 L58.5 265.2 L58.7 266.4 L58.9 267.6 L59.2 268.8 L59.4 270 L59.7 271.2 L59.9 272.4 L60.2 273.6 L60.4 274.8 L60.5 276 L60.7 277.2 L60.8 278.4 L61 279.5 L61.1 280.7 L61.2 281.9 L61.4 283.1 L61.5 284.3 L61.7 285.5 L61.8 286.7 L62 287.9 L62.1 289.1 L62.3 290.3 L62.4 291.5 L62.6 292.6 L62.7 293.8 L62.9 295 L63.1 296.2 L63.4 297.4 L63.6 298.6 L63.8 299.8 L64 301 L64 302.2 L64 303.4 L63.9 304.6 L63.9 305.8 L63.8 306.9 L63.7 308.1 L63.6 309.3 L63.4 310.5 L63.3 311.7 L63.1 312.9 L62.9 314.1 L62.7 315.3 L62.4 316.5 L62.2 317.7 L61.9 318.9 L61.6 320 L61.3 321.2 L61 322.4 L60.7 323.6 L60.4 324.8 L60.2 326 L60 327.2 L59.8 328.4 L59.6 329.6 L59.4 330.8 L59.2 332 L59 333.2 L58.8 334.3 L58.6 335.5 L58.4 336.7 L58.2 337.9 L58 339.1 L57.8 340.3 L56.2 340.3 L56 339.1 L55.8 337.9 L55.6 336.7 L55.4 335.5 L55.2 334.3 L55 333.2 L54.8 332 L54.6 330.8 L54.4 329.6 L54.2 328.4 L54 327.2 L53.8 326 L53.6 324.8 L53.3 323.6 L53 322.4 L52.7 321.2 L52.4 320 L52.1 318.9 L51.8 317.7 L51.6 316.5 L51.3 315.3 L51.1 314.1 L50.9 312.9 L50.7 311.7 L50.6 310.5 L50.4 309.3 L50.3 308.1 L50.2 306.9 L50.1 305.8 L50.1 304.6 L50 303.4 L50 302.2 L50 301 L50.2 299.8 L50.4 298.6 L50.6 297.4 L50.9 296.2 L51.1 295 L51.3 293.8 L51.4 292.6 L51.6 291.5 L51.7 290.3 L51.9 289.1 L52 287.9 L52.2 286.7 L52.3 285.5 L52.5 284.3 L52.6 283.1 L52.8 281.9 L52.9 280.7 L53 279.5 L53.2 278.4 L53.3 277.2 L53.5 276 L53.6 274.8 L53.8 273.6 L54.1 272.4 L54.3 271.2 L54.6 270 L54.8 268.8 L55.1 267.6 L55.3 266.4 L55.5 265.2 L55.6 264.1 L55.8 262.9 L55.9 261.7 L56 260.5 L56.1 259.3 L56.2 258.1Z"/><path d="M80.5 302.1 L81.1 303.4 L81.5 304.7 L81.8 306.1 L82.1 307.4 L82.3 308.7 L82.5 310 L82.7 311.4 L82.9 312.7 L83.1 314 L83.3 315.3 L83.5 316.7 L83.7 318 L83.9 319.3 L84.1 320.6 L84.3 322 L84.4 323.3 L84.5 324.6 L84.5 325.9 L84.5 327.3 L84.5 328.6 L84.5 329.9 L84.5 331.2 L84.5 332.6 L84.5 333.9 L84.5 335.2 L84.5 336.5 L84.4 337.9 L84.4 339.2 L84.3 340.5 L84.2 341.8 L84.1 343.2 L83.9 344.5 L83.8 345.8 L83.6 347.1 L83.3 348.5 L83 349.8 L82.7 351.1 L82.4 352.4 L82.1 353.8 L81.9 355.1 L81.7 356.4 L81.6 357.7 L81.4 359.1 L81.3 360.4 L81.2 361.7 L81 363 L80.9 364.4 L80.9 365.7 L80.8 367 L80.7 368.3 L80.7 369.7 L80.6 371 L80.5 372.3 L80.5 373.6 L80.4 375 L80.3 376.3 L80.2 377.6 L80.1 378.9 L79.9 380.3 L79.8 381.6 L79.6 382.9 L79.5 384.2 L79.3 385.6 L79.2 386.9 L79.1 388.2 L79 389.5 L78.8 390.9 L78.7 392.2 L78.6 393.5 L77.2 393.5 L77.1 392.2 L77 390.9 L76.8 389.5 L76.7 388.2 L76.6 386.9 L76.5 385.6 L76.3 384.2 L76.2 382.9 L76 381.6 L75.9 380.3 L75.7 378.9 L75.6 377.6 L75.5 376.3 L75.4 375 L75.3 373.6 L75.3 372.3 L75.2 371 L75.1 369.7 L75.1 368.3 L75 367 L74.9 365.7 L74.9 364.4 L74.8 363 L74.6 361.7 L74.5 360.4 L74.4 359.1 L74.2 357.7 L74.1 356.4 L73.9 355.1 L73.7 353.8 L73.4 352.4 L73.1 351.1 L72.8 349.8 L72.5 348.5 L72.2 347.1 L72 345.8 L71.9 344.5 L71.7 343.2 L71.6 341.8 L71.5 340.5 L71.4 339.2 L71.4 337.9 L71.3 336.5 L71.3 335.2 L71.3 333.9 L71.3 332.6 L71.3 331.2 L71.3 329.9 L71.3 328.6 L71.3 327.3 L71.3 325.9 L71.3 324.6 L71.4 323.3 L71.5 322 L71.7 320.6 L71.9 319.3 L72.1 318 L72.3 316.7 L72.5 315.3 L72.7 314 L72.9 312.7 L73.1 311.4 L73.3 310 L73.5 308.7 L73.7 307.4 L74 306.1 L74.3 304.7 L74.7 303.4 L75.3 302.1Z"/><path d="M99.4 274.8 L99.4 275.9 L99.4 277 L99.5 278 L99.6 279.1 L99.6 280.2 L99.7 281.3 L99.8 282.4 L99.9 283.5 L100.1 284.5 L100.2 285.6 L100.3 286.7 L100.5 287.8 L100.7 288.9 L100.9 290 L101.2 291 L101.4 292.1 L101.7 293.2 L101.9 294.3 L102.2 295.4 L102.4 296.5 L102.7 297.5 L102.9 298.6 L103.2 299.7 L103.5 300.8 L103.7 301.9 L104 302.9 L104.3 304 L104.5 305.1 L104.8 306.2 L105.1 307.3 L105.4 308.4 L105.7 309.4 L106 310.5 L106.2 311.6 L106.4 312.7 L106.6 313.8 L106.8 314.9 L107 315.9 L107.1 317 L107.2 318.1 L107.3 319.2 L107.3 320.3 L107.2 321.4 L107.1 322.4 L107 323.5 L106.8 324.6 L106.6 325.7 L106.4 326.8 L106.2 327.8 L106 328.9 L105.7 330 L105.4 331.1 L105 332.2 L104.7 333.3 L104.3 334.3 L104 335.4 L103.6 336.5 L103.2 337.6 L102.8 338.7 L102.5 339.8 L102.1 340.8 L101.7 341.9 L101.4 343 L101 344.1 L100.7 345.2 L100.4 346.3 L100 347.3 L99.7 348.4 L99.4 349.5 L97.8 349.5 L97.5 348.4 L97.2 347.3 L96.8 346.3 L96.5 345.2 L96.2 344.1 L95.8 343 L95.5 341.9 L95.1 340.8 L94.7 339.8 L94.4 338.7 L94 337.6 L93.6 336.5 L93.2 335.4 L92.9 334.3 L92.5 333.3 L92.2 332.2 L91.8 331.1 L91.5 330 L91.2 328.9 L91 327.8 L90.8 326.8 L90.6 325.7 L90.4 324.6 L90.2 323.5 L90.1 322.4 L90 321.4 L89.9 320.3 L89.9 319.2 L90 318.1 L90.1 317 L90.2 315.9 L90.4 314.9 L90.6 313.8 L90.8 312.7 L91 311.6 L91.2 310.5 L91.5 309.4 L91.8 308.4 L92.1 307.3 L92.4 306.2 L92.7 305.1 L92.9 304 L93.2 302.9 L93.5 301.9 L93.7 300.8 L94 299.7 L94.3 298.6 L94.5 297.5 L94.8 296.5 L95 295.4 L95.3 294.3 L95.5 293.2 L95.8 292.1 L96 291 L96.3 290 L96.5 288.9 L96.7 287.8 L96.9 286.7 L97 285.6 L97.1 284.5 L97.3 283.5 L97.4 282.4 L97.5 281.3 L97.6 280.2 L97.6 279.1 L97.7 278 L97.8 277 L97.8 275.9 L97.8 274.8Z"/><path d="M120.7 266.7 L120.8 268.2 L120.9 269.7 L121 271.2 L121.1 272.6 L121.2 274.1 L121.4 275.6 L121.5 277.1 L121.6 278.6 L121.7 280.1 L121.9 281.6 L122 283.1 L122.2 284.5 L122.3 286 L122.5 287.5 L122.6 289 L122.8 290.5 L122.9 292 L123.1 293.5 L123.3 295 L123.5 296.4 L123.7 297.9 L123.9 299.4 L124.1 300.9 L124.3 302.4 L124.5 303.9 L124.6 305.4 L124.8 306.8 L125 308.3 L125.1 309.8 L125.2 311.3 L125.4 312.8 L125.5 314.3 L125.5 315.8 L125.6 317.3 L125.7 318.7 L125.8 320.2 L125.8 321.7 L125.9 323.2 L125.9 324.7 L125.9 326.2 L125.9 327.7 L125.8 329.2 L125.7 330.6 L125.7 332.1 L125.6 333.6 L125.5 335.1 L125.4 336.6 L125.2 338.1 L125.1 339.6 L124.9 341 L124.7 342.5 L124.5 344 L124.3 345.5 L124.1 347 L123.9 348.5 L123.7 350 L123.5 351.5 L123.2 352.9 L123 354.4 L122.8 355.9 L122.5 357.4 L122.3 358.9 L122.1 360.4 L121.9 361.9 L121.7 363.4 L121.4 364.8 L121.2 366.3 L120.9 367.8 L120.6 369.3 L119.2 369.3 L118.9 367.8 L118.6 366.3 L118.4 364.8 L118.1 363.4 L117.9 361.9 L117.7 360.4 L117.5 358.9 L117.3 357.4 L117 355.9 L116.8 354.4 L116.6 352.9 L116.3 351.5 L116.1 350 L115.9 348.5 L115.7 347 L115.5 345.5 L115.3 344 L115.1 342.5 L114.9 341 L114.7 339.6 L114.6 338.1 L114.4 336.6 L114.3 335.1 L114.2 333.6 L114.1 332.1 L114.1 330.6 L114 329.2 L113.9 327.7 L113.9 326.2 L113.9 324.7 L113.9 323.2 L114 321.7 L114 320.2 L114.1 318.7 L114.2 317.3 L114.3 315.8 L114.3 314.3 L114.4 312.8 L114.6 311.3 L114.7 309.8 L114.8 308.3 L115 306.8 L115.2 305.4 L115.3 303.9 L115.5 302.4 L115.7 300.9 L115.9 299.4 L116.1 297.9 L116.3 296.4 L116.5 295 L116.7 293.5 L116.9 292 L117 290.5 L117.2 289 L117.3 287.5 L117.5 286 L117.6 284.5 L117.8 283.1 L117.9 281.6 L118.1 280.1 L118.2 278.6 L118.3 277.1 L118.4 275.6 L118.6 274.1 L118.7 272.6 L118.8 271.2 L118.9 269.7 L119 268.2 L119.1 266.7Z"/><path d="M141.6 273.3 L142 275.2 L142.3 277.1 L142.7 279 L142.9 281 L143.2 282.9 L143.4 284.8 L143.6 286.7 L143.8 288.6 L144.1 290.5 L144.3 292.5 L144.5 294.4 L144.8 296.3 L145 298.2 L145.2 300.1 L145.4 302 L145.6 304 L145.8 305.9 L145.9 307.8 L146.1 309.7 L146.2 311.6 L146.3 313.5 L146.4 315.5 L146.5 317.4 L146.5 319.3 L146.3 321.2 L146.2 323.1 L146 325 L145.8 326.9 L145.7 328.9 L145.5 330.8 L145.3 332.7 L145.1 334.6 L145 336.5 L144.8 338.4 L144.6 340.4 L144.4 342.3 L144.1 344.2 L143.8 346.1 L143.3 348 L142.7 349.9 L142.3 351.9 L142 353.8 L141.8 355.7 L141.6 357.6 L141.5 359.5 L141.5 361.4 L141.5 363.3 L141.5 365.3 L141.5 367.2 L141.5 369.1 L141.5 371 L141.4 372.9 L141.4 374.8 L141.4 376.8 L141.4 378.7 L141.4 380.6 L141.4 382.5 L141.4 384.4 L141.4 386.3 L141.4 388.3 L141.4 390.2 L141.4 392.1 L141.4 394 L141.4 395.9 L141.4 397.8 L141.4 399.8 L141.4 401.7 L141.4 403.6 L141.4 405.5 L140.2 405.5 L140.2 403.6 L140.2 401.7 L140.2 399.8 L140.2 397.8 L140.2 395.9 L140.2 394 L140.2 392.1 L140.2 390.2 L140.2 388.3 L140.2 386.3 L140.2 384.4 L140.2 382.5 L140.2 380.6 L140.2 378.7 L140.2 376.8 L140.2 374.8 L140.2 372.9 L140.1 371 L140.1 369.1 L140.1 367.2 L140.1 365.3 L140.1 363.3 L140.1 361.4 L140.1 359.5 L140 357.6 L139.8 355.7 L139.6 353.8 L139.3 351.9 L138.9 349.9 L138.3 348 L137.8 346.1 L137.5 344.2 L137.2 342.3 L137 340.4 L136.8 338.4 L136.6 336.5 L136.5 334.6 L136.3 332.7 L136.1 330.8 L135.9 328.9 L135.8 326.9 L135.6 325 L135.4 323.1 L135.3 321.2 L135.1 319.3 L135.1 317.4 L135.2 315.5 L135.3 313.5 L135.4 311.6 L135.5 309.7 L135.7 307.8 L135.8 305.9 L136 304 L136.2 302 L136.4 300.1 L136.6 298.2 L136.8 296.3 L137.1 294.4 L137.3 292.5 L137.5 290.5 L137.8 288.6 L138 286.7 L138.2 284.8 L138.4 282.9 L138.7 281 L138.9 279 L139.3 277.1 L139.6 275.2 L140 273.3Z"/><path d="M162.5 314.9 L162.5 315.8 L162.5 316.6 L162.6 317.5 L162.6 318.3 L162.6 319.2 L162.7 320 L162.8 320.9 L162.9 321.7 L163.1 322.6 L163.3 323.5 L163.6 324.3 L163.8 325.2 L164.1 326 L164.4 326.9 L164.8 327.7 L165.2 328.6 L165.7 329.4 L166.2 330.3 L166.7 331.1 L167.1 332 L167.5 332.9 L167.9 333.7 L168.3 334.6 L168.6 335.4 L169 336.3 L169.3 337.1 L169.6 338 L169.9 338.8 L170.2 339.7 L170.5 340.6 L170.7 341.4 L171 342.3 L171.2 343.1 L171.4 344 L171.5 344.8 L171.5 345.7 L171.3 346.5 L171.1 347.4 L170.8 348.2 L170.6 349.1 L170.3 350 L170.1 350.8 L169.8 351.7 L169.5 352.5 L169.2 353.4 L168.9 354.2 L168.6 355.1 L168.3 355.9 L168 356.8 L167.6 357.7 L167.3 358.5 L166.9 359.4 L166.5 360.2 L166.1 361.1 L165.7 361.9 L165.4 362.8 L165 363.6 L164.7 364.5 L164.5 365.3 L164.2 366.2 L164 367.1 L163.7 367.9 L163.5 368.8 L163.3 369.6 L163.1 370.5 L162.9 371.3 L162.7 372.2 L162.5 373 L162.3 373.9 L160.7 373.9 L160.5 373 L160.3 372.2 L160.1 371.3 L159.9 370.5 L159.7 369.6 L159.5 368.8 L159.3 367.9 L159 367.1 L158.8 366.2 L158.5 365.3 L158.3 364.5 L158 363.6 L157.6 362.8 L157.3 361.9 L156.9 361.1 L156.5 360.2 L156.1 359.4 L155.7 358.5 L155.4 357.7 L155 356.8 L154.7 355.9 L154.4 355.1 L154.1 354.2 L153.8 353.4 L153.5 352.5 L153.2 351.7 L152.9 350.8 L152.7 350 L152.4 349.1 L152.2 348.2 L151.9 347.4 L151.7 346.5 L151.5 345.7 L151.5 344.8 L151.6 344 L151.8 343.1 L152 342.3 L152.3 341.4 L152.5 340.6 L152.8 339.7 L153.1 338.8 L153.4 338 L153.7 337.1 L154 336.3 L154.4 335.4 L154.7 334.6 L155.1 333.7 L155.5 332.9 L155.9 332 L156.3 331.1 L156.8 330.3 L157.3 329.4 L157.8 328.6 L158.2 327.7 L158.6 326.9 L158.9 326 L159.2 325.2 L159.4 324.3 L159.7 323.5 L159.9 322.6 L160.1 321.7 L160.2 320.9 L160.3 320 L160.4 319.2 L160.4 318.3 L160.4 317.5 L160.5 316.6 L160.5 315.8 L160.5 314.9Z"/><path d="M184.3 297.2 L184.5 298 L184.7 298.9 L185 299.7 L185.2 300.6 L185.5 301.4 L185.8 302.3 L186 303.1 L186.4 304 L186.7 304.8 L187.1 305.7 L187.5 306.5 L187.8 307.4 L188.2 308.2 L188.5 309.1 L188.8 309.9 L189 310.8 L189.3 311.6 L189.5 312.5 L189.7 313.3 L189.9 314.2 L190.1 315 L190.3 315.9 L190.5 316.7 L190.6 317.6 L190.8 318.4 L190.9 319.3 L191.1 320.1 L191.2 321 L191.3 321.8 L191.4 322.7 L191.5 323.5 L191.5 324.4 L191.5 325.2 L191.4 326.1 L191.3 326.9 L191.1 327.8 L191 328.6 L190.8 329.5 L190.6 330.3 L190.4 331.2 L190.2 332 L189.9 332.9 L189.6 333.7 L189.3 334.6 L189 335.4 L188.7 336.3 L188.4 337.1 L188.1 338 L187.8 338.8 L187.6 339.7 L187.3 340.5 L187 341.4 L186.8 342.2 L186.5 343.1 L186.3 343.9 L186.1 344.8 L185.9 345.6 L185.7 346.5 L185.5 347.3 L185.3 348.2 L185.1 349 L185 349.9 L184.8 350.7 L184.6 351.6 L184.4 352.4 L184.2 353.3 L184 354.1 L183.8 355 L183.6 355.8 L182 355.8 L181.8 355 L181.6 354.1 L181.4 353.3 L181.2 352.4 L181 351.6 L180.8 350.7 L180.6 349.9 L180.5 349 L180.3 348.2 L180.1 347.3 L179.9 346.5 L179.7 345.6 L179.5 344.8 L179.3 343.9 L179.1 343.1 L178.8 342.2 L178.6 341.4 L178.3 340.5 L178 339.7 L177.8 338.8 L177.5 338 L177.2 337.1 L176.9 336.3 L176.6 335.4 L176.3 334.6 L176 333.7 L175.7 332.9 L175.4 332 L175.2 331.2 L175 330.3 L174.8 329.5 L174.6 328.6 L174.5 327.8 L174.3 326.9 L174.2 326.1 L174.1 325.2 L174.1 324.4 L174.1 323.5 L174.2 322.7 L174.3 321.8 L174.4 321 L174.5 320.1 L174.7 319.3 L174.8 318.4 L175 317.6 L175.1 316.7 L175.3 315.9 L175.5 315 L175.7 314.2 L175.9 313.3 L176.1 312.5 L176.3 311.6 L176.6 310.8 L176.8 309.9 L177.1 309.1 L177.4 308.2 L177.8 307.4 L178.1 306.5 L178.5 305.7 L178.9 304.8 L179.2 304 L179.6 303.1 L179.8 302.3 L180.1 301.4 L180.4 300.6 L180.6 299.7 L180.9 298.9 L181.1 298 L181.3 297.2Z"/><path d="M204.6 266.5 L204.6 267.7 L204.7 269 L204.7 270.2 L204.7 271.5 L204.8 272.7 L204.8 273.9 L204.9 275.2 L205 276.4 L205.1 277.7 L205.1 278.9 L205.2 280.1 L205.3 281.4 L205.4 282.6 L205.5 283.8 L205.6 285.1 L205.8 286.3 L205.9 287.6 L206 288.8 L206.2 290 L206.4 291.3 L206.6 292.5 L206.8 293.8 L207.1 295 L207.3 296.2 L207.6 297.5 L207.8 298.7 L208.1 300 L208.3 301.2 L208.6 302.4 L208.8 303.7 L209.1 304.9 L209.3 306.2 L209.5 307.4 L209.7 308.6 L209.9 309.9 L210 311.1 L210.2 312.3 L210.3 313.6 L210.3 314.8 L210.3 316.1 L210.1 317.3 L209.9 318.5 L209.7 319.8 L209.5 321 L209.3 322.3 L209 323.5 L208.7 324.7 L208.4 326 L208.1 327.2 L207.9 328.5 L207.6 329.7 L207.5 330.9 L207.4 332.2 L207.2 333.4 L207.1 334.7 L207 335.9 L206.9 337.1 L206.8 338.4 L206.7 339.6 L206.6 340.8 L206.6 342.1 L206.5 343.3 L206.4 344.6 L206.4 345.8 L206.3 347 L206.1 348.3 L206 349.5 L205.6 350.8 L204.8 352 L201.8 352 L201 350.8 L200.6 349.5 L200.5 348.3 L200.3 347 L200.2 345.8 L200.2 344.6 L200.1 343.3 L200 342.1 L200 340.8 L199.9 339.6 L199.8 338.4 L199.7 337.1 L199.6 335.9 L199.5 334.7 L199.4 333.4 L199.2 332.2 L199.1 330.9 L199 329.7 L198.7 328.5 L198.5 327.2 L198.2 326 L197.9 324.7 L197.6 323.5 L197.3 322.3 L197.1 321 L196.9 319.8 L196.7 318.5 L196.5 317.3 L196.3 316.1 L196.3 314.8 L196.3 313.6 L196.4 312.3 L196.6 311.1 L196.7 309.9 L196.9 308.6 L197.1 307.4 L197.3 306.2 L197.5 304.9 L197.8 303.7 L198 302.4 L198.3 301.2 L198.5 300 L198.8 298.7 L199 297.5 L199.3 296.2 L199.5 295 L199.8 293.8 L200 292.5 L200.2 291.3 L200.4 290 L200.6 288.8 L200.7 287.6 L200.8 286.3 L201 285.1 L201.1 283.8 L201.2 282.6 L201.3 281.4 L201.4 280.1 L201.5 278.9 L201.5 277.7 L201.6 276.4 L201.7 275.2 L201.8 273.9 L201.8 272.7 L201.9 271.5 L201.9 270.2 L201.9 269 L202 267.7 L202 266.5Z"/><path d="M225.1 275.7 L225.1 277.2 L225.1 278.7 L225.1 280.2 L225.2 281.7 L225.2 283.1 L225.2 284.6 L225.2 286.1 L225.3 287.6 L225.3 289.1 L225.3 290.6 L225.3 292.1 L225.4 293.6 L225.4 295.1 L225.5 296.6 L225.5 298 L225.6 299.5 L225.6 301 L225.7 302.5 L225.8 304 L225.8 305.5 L225.9 307 L226 308.5 L226.2 310 L226.3 311.5 L226.5 312.9 L226.6 314.4 L226.8 315.9 L227.1 317.4 L227.4 318.9 L227.7 320.4 L228 321.9 L228.3 323.4 L228.6 324.9 L228.8 326.4 L229.1 327.8 L229.4 329.3 L229.6 330.8 L229.7 332.3 L229.7 333.8 L229.7 335.3 L229.7 336.8 L229.7 338.3 L229.7 339.8 L229.7 341.3 L229.6 342.7 L229.4 344.2 L229.2 345.7 L229 347.2 L228.9 348.7 L228.7 350.2 L228.5 351.7 L228.3 353.2 L228.2 354.7 L228 356.2 L227.8 357.6 L227.6 359.1 L227.4 360.6 L227.3 362.1 L227.1 363.6 L226.9 365.1 L226.7 366.6 L226.5 368.1 L226.4 369.6 L226.2 371.1 L226 372.5 L225.8 374 L225.5 375.5 L225.3 377 L225.1 378.5 L223.5 378.5 L223.3 377 L223.1 375.5 L222.8 374 L222.6 372.5 L222.4 371.1 L222.2 369.6 L222.1 368.1 L221.9 366.6 L221.7 365.1 L221.5 363.6 L221.3 362.1 L221.2 360.6 L221 359.1 L220.8 357.6 L220.6 356.2 L220.4 354.7 L220.3 353.2 L220.1 351.7 L219.9 350.2 L219.7 348.7 L219.6 347.2 L219.4 345.7 L219.2 344.2 L219 342.7 L218.9 341.3 L218.9 339.8 L218.9 338.3 L218.9 336.8 L218.9 335.3 L218.9 333.8 L218.9 332.3 L219 330.8 L219.2 329.3 L219.5 327.8 L219.8 326.4 L220 324.9 L220.3 323.4 L220.6 321.9 L220.9 320.4 L221.2 318.9 L221.5 317.4 L221.8 315.9 L222 314.4 L222.1 312.9 L222.3 311.5 L222.4 310 L222.6 308.5 L222.7 307 L222.8 305.5 L222.8 304 L222.9 302.5 L223 301 L223 299.5 L223.1 298 L223.1 296.6 L223.2 295.1 L223.2 293.6 L223.3 292.1 L223.3 290.6 L223.3 289.1 L223.3 287.6 L223.4 286.1 L223.4 284.6 L223.4 283.1 L223.4 281.7 L223.5 280.2 L223.5 278.7 L223.5 277.2 L223.5 275.7Z"/></clipPath></defs><line x1="45" y1="323.2" x2="233" y2="323.2" stroke="#777" stroke-width="1" stroke-dasharray="5,3"/><line x1="46" y1="323.2" x2="233" y2="323.2" stroke="#222" stroke-width="1.2" stroke-dasharray="5,3" clip-path="url(#vclip)"/><line x1="51.7" y1="299.8" x2="62.3" y2="299.8" stroke="#111" stroke-width="1.5"/><line x1="72.6" y1="337.4" x2="83.2" y2="337.4" stroke="#111" stroke-width="1.5"/><line x1="93.3" y1="318.6" x2="103.9" y2="318.6" stroke="#111" stroke-width="1.5"/><line x1="114.6" y1="322.9" x2="125.2" y2="322.9" stroke="#111" stroke-width="1.5"/><line x1="135.5" y1="316.2" x2="146.1" y2="316.2" stroke="#111" stroke-width="1.5"/><line x1="156.2" y1="347.4" x2="166.8" y2="347.4" stroke="#111" stroke-width="1.5"/><line x1="177.5" y1="323.9" x2="188.1" y2="323.9" stroke="#111" stroke-width="1.5"/><line x1="198" y1="316.2" x2="208.6" y2="316.2" stroke="#111" stroke-width="1.5"/><line x1="219" y1="339.3" x2="229.6" y2="339.3" stroke="#111" stroke-width="1.5"/><text x="0" y="456.7" font-size="12.5" font-weight="bold" stroke="#000" stroke-width="0.35">e</text><line x1="95.3" y1="455" x2="95.3" y2="663.7" stroke="#666" stroke-width="1"/><line x1="94.8" y1="663.2" x2="215.5" y2="663.2" stroke="#666" stroke-width="1"/><line x1="92.8" y1="464.7" x2="95.3" y2="464.7" stroke="#333" stroke-width="0.9"/><text x="88.2" y="467.7" font-size="10.4" text-anchor="end">Hsf1activity</text><circle cx="102.6" cy="464.7" r="5.0" fill="#FAFAFA"/><circle cx="115.8" cy="464.7" r="5.3" fill="#EDE8F3"/><circle cx="128.9" cy="464.7" r="5.3" fill="#FDEDE5"/><circle cx="142.1" cy="464.7" r="5.5" fill="#EE7A62"/><circle cx="155.2" cy="464.7" r="5.5" fill="#F5A890"/><circle cx="168.4" cy="464.7" r="5.3" fill="#FEF2EE"/><circle cx="181.6" cy="464.7" r="5.3" fill="#E8E0F0"/><circle cx="194.7" cy="464.7" r="5.3" fill="#EEE8F3"/><circle cx="207.9" cy="464.7" r="5.6" fill="#3D4DA8"/><line x1="92.8" y1="481.8" x2="95.3" y2="481.8" stroke="#333" stroke-width="0.9"/><text x="88.2" y="484.8" font-size="10.4" text-anchor="end">Mot3 activity</text><circle cx="102.6" cy="481.8" r="4.2" fill="#EE6A52"/><circle cx="115.8" cy="481.8" r="2.0" fill="#B8A6D6"/><circle cx="128.9" cy="481.8" r="3.3" fill="#E8E2F2"/><circle cx="142.1" cy="481.8" r="2.3" fill="#B8A0D8"/><circle cx="155.2" cy="481.8" r="2.7" fill="#E0D8EE"/><circle cx="168.4" cy="481.8" r="0.9" fill="#9090C8"/><circle cx="181.6" cy="481.8" r="3.0" fill="#E0D8EE"/><circle cx="194.7" cy="481.8" r="3.3" fill="#FDF3EF"/><circle cx="207.9" cy="481.8" r="3.0" fill="#EE8068"/><line x1="92.8" y1="498.9" x2="95.3" y2="498.9" stroke="#333" stroke-width="0.9"/><text x="88.2" y="501.9" font-size="10.4" text-anchor="end">Rap1activity</text><circle cx="102.6" cy="498.9" r="5.35" fill="#FCE2DA"/><circle cx="115.8" cy="498.9" r="5.35" fill="#FDFAFA"/><circle cx="128.9" cy="498.9" r="5.35" fill="#F5A48E"/><circle cx="142.1" cy="498.9" r="5.35" fill="#F5B2A0"/><circle cx="155.2" cy="498.9" r="5.35" fill="#E6DFF0"/><circle cx="168.4" cy="498.9" r="5.35" fill="#F8C4B4"/><circle cx="181.6" cy="498.9" r="5.35" fill="#FDE6DC"/><circle cx="194.7" cy="498.9" r="5.35" fill="#EEEAF5"/><circle cx="207.9" cy="498.9" r="5.35" fill="#2255A8"/><line x1="92.8" y1="516" x2="95.3" y2="516" stroke="#333" stroke-width="0.9"/><text x="88.2" y="519" font-size="10.4" text-anchor="end">Skn7activity</text><circle cx="102.6" cy="516" r="5.35" fill="#F4A088"/><circle cx="115.8" cy="516" r="5.35" fill="#9E8ECA"/><circle cx="128.9" cy="516" r="5.35" fill="#F29A82"/><circle cx="142.1" cy="516" r="5.35" fill="#FDEAE2"/><circle cx="155.2" cy="516" r="5.35" fill="#FDFAF8"/><circle cx="168.4" cy="516" r="5.35" fill="#B3A5D5"/><circle cx="181.6" cy="516" r="5.35" fill="#F9C6B4"/><circle cx="194.7" cy="516" r="5.35" fill="#F9C2AE"/><circle cx="207.9" cy="516" r="5.35" fill="#5454A8"/><line x1="92.8" y1="533.1" x2="95.3" y2="533.1" stroke="#333" stroke-width="0.9"/><text x="88.2" y="536.1" font-size="10.4" text-anchor="end">Yap1activity</text><circle cx="102.6" cy="533.1" r="5.35" fill="#FDF0EA"/><circle cx="115.8" cy="533.1" r="5.35" fill="#D6CCE8"/><circle cx="128.9" cy="533.1" r="5.35" fill="#F5AE98"/><circle cx="142.1" cy="533.1" r="5.35" fill="#F29A82"/><circle cx="155.2" cy="533.1" r="5.35" fill="#FBD8CA"/><circle cx="168.4" cy="533.1" r="5.35" fill="#FEF8F6"/><circle cx="181.6" cy="533.1" r="5.35" fill="#FBD8CA"/><circle cx="194.7" cy="533.1" r="5.35" fill="#FFFFFF"/><circle cx="207.9" cy="533.1" r="5.35" fill="#2553A8"/><line x1="92.8" y1="550.2" x2="95.3" y2="550.2" stroke="#333" stroke-width="0.9"/><text x="88.2" y="553.2" font-size="10.4" text-anchor="end">Rtg3activity</text><circle cx="102.6" cy="550.2" r="5.35" fill="#F8BCA8"/><circle cx="115.8" cy="550.2" r="5.35" fill="#AC9CD2"/><circle cx="128.9" cy="550.2" r="5.35" fill="#FDEAE0"/><circle cx="142.1" cy="550.2" r="5.35" fill="#FDE8DE"/><circle cx="155.2" cy="550.2" r="5.35" fill="#EE6A50"/><circle cx="168.4" cy="550.2" r="5.35" fill="#6E6CB8"/><circle cx="181.6" cy="550.2" r="5.35" fill="#FEF4F0"/><circle cx="194.7" cy="550.2" r="5.35" fill="#F8C0AC"/><circle cx="207.9" cy="550.2" r="5.35" fill="#9A8CC8"/><line x1="92.8" y1="567.3" x2="95.3" y2="567.3" stroke="#333" stroke-width="0.9"/><text x="88.2" y="570.3" font-size="10.4" text-anchor="end">Cin5activity</text><circle cx="102.6" cy="567.3" r="5.35" fill="#F9C6B4"/><circle cx="115.8" cy="567.3" r="5.35" fill="#FEF8F6"/><circle cx="128.9" cy="567.3" r="5.35" fill="#C0B2DC"/><circle cx="142.1" cy="567.3" r="5.35" fill="#FDE6DC"/><circle cx="155.2" cy="567.3" r="5.35" fill="#EE7058"/><circle cx="168.4" cy="567.3" r="5.35" fill="#BAACDA"/><circle cx="181.6" cy="567.3" r="5.35" fill="#E8E2F2"/><circle cx="194.7" cy="567.3" r="5.35" fill="#F5AE98"/><circle cx="207.9" cy="567.3" r="5.35" fill="#4E55A6"/><line x1="92.8" y1="584.4" x2="95.3" y2="584.4" stroke="#333" stroke-width="0.9"/><text x="88.2" y="587.4" font-size="10.4" text-anchor="end">Hap2activity</text><circle cx="102.6" cy="584.4" r="5.35" fill="#F28E76"/><circle cx="115.8" cy="584.4" r="5.35" fill="#C8BCE0"/><circle cx="128.9" cy="584.4" r="5.35" fill="#FEFAFA"/><circle cx="142.1" cy="584.4" r="5.35" fill="#AA9CD2"/><circle cx="155.2" cy="584.4" r="5.35" fill="#F4A28C"/><circle cx="168.4" cy="584.4" r="5.35" fill="#8E84C4"/><circle cx="181.6" cy="584.4" r="5.35" fill="#F8BAA6"/><circle cx="194.7" cy="584.4" r="5.35" fill="#F6AA94"/><circle cx="207.9" cy="584.4" r="5.35" fill="#8078BE"/><line x1="92.8" y1="601.5" x2="95.3" y2="601.5" stroke="#333" stroke-width="0.9"/><text x="88.2" y="604.5" font-size="10.4" text-anchor="end">Smp1activity</text><circle cx="102.6" cy="601.5" r="5.35" fill="#E8E2F2"/><circle cx="115.8" cy="601.5" r="5.35" fill="#EDE6F4"/><circle cx="128.9" cy="601.5" r="5.35" fill="#D8CEE8"/><circle cx="142.1" cy="601.5" r="5.35" fill="#857ABF"/><circle cx="155.2" cy="601.5" r="5.35" fill="#FCE0D4"/><circle cx="168.4" cy="601.5" r="5.35" fill="#A496CE"/><circle cx="181.6" cy="601.5" r="5.35" fill="#FDE6DC"/><circle cx="194.7" cy="601.5" r="5.35" fill="#FDE8DE"/><circle cx="207.9" cy="601.5" r="5.35" fill="#EE4A38"/><line x1="92.8" y1="618.6" x2="95.3" y2="618.6" stroke="#333" stroke-width="0.9"/><text x="88.2" y="621.6" font-size="10.4" text-anchor="end">Hot1activity</text><circle cx="102.6" cy="618.6" r="5.35" fill="#F2907A"/><circle cx="115.8" cy="618.6" r="5.35" fill="#7E76BE"/><circle cx="128.9" cy="618.6" r="5.35" fill="#F8BEAC"/><circle cx="142.1" cy="618.6" r="5.35" fill="#C8BCE0"/><circle cx="155.2" cy="618.6" r="5.35" fill="#F8C2AE"/><circle cx="168.4" cy="618.6" r="5.35" fill="#6E68B6"/><circle cx="181.6" cy="618.6" r="5.35" fill="#FEFAF8"/><circle cx="194.7" cy="618.6" r="5.35" fill="#F28E76"/><circle cx="207.9" cy="618.6" r="5.35" fill="#D8CEE8"/><line x1="92.8" y1="635.7" x2="95.3" y2="635.7" stroke="#333" stroke-width="0.9"/><text x="88.2" y="638.7" font-size="10.4" text-anchor="end">Sko1activity</text><circle cx="102.6" cy="635.7" r="5.35" fill="#EE7660"/><circle cx="115.8" cy="635.7" r="5.35" fill="#7E76BE"/><circle cx="128.9" cy="635.7" r="5.35" fill="#F5A690"/><circle cx="142.1" cy="635.7" r="5.35" fill="#C6B8E0"/><circle cx="155.2" cy="635.7" r="5.35" fill="#FEF2EC"/><circle cx="168.4" cy="635.7" r="5.35" fill="#7C74BC"/><circle cx="181.6" cy="635.7" r="5.35" fill="#FDE4DA"/><circle cx="194.7" cy="635.7" r="5.35" fill="#E6DEF0"/><circle cx="207.9" cy="635.7" r="5.35" fill="#F6B09A"/><line x1="92.8" y1="652.8" x2="95.3" y2="652.8" stroke="#333" stroke-width="0.9"/><text x="88.2" y="655.8" font-size="10.4" text-anchor="end">Msn2/4activity</text><circle cx="102.6" cy="652.8" r="5.35" fill="#EE7A62"/><circle cx="115.8" cy="652.8" r="5.35" fill="#B4A6D6"/><circle cx="128.9" cy="652.8" r="5.35" fill="#FCDED2"/><circle cx="142.1" cy="652.8" r="5.35" fill="#FAD2C4"/><circle cx="155.2" cy="652.8" r="5.35" fill="#F8BCA8"/><circle cx="168.4" cy="652.8" r="5.35" fill="#6C66B2"/><circle cx="181.6" cy="652.8" r="5.35" fill="#FEFAFA"/><circle cx="194.7" cy="652.8" r="5.35" fill="#F6B09A"/><circle cx="207.9" cy="652.8" r="5.35" fill="#9488C6"/><line x1="102.9" y1="663.2" x2="102.9" y2="665.6" stroke="#333" stroke-width="0.9"/><text x="103.1" y="678.4" font-size="10" text-anchor="middle">0</text><line x1="116.1" y1="663.2" x2="116.1" y2="665.6" stroke="#333" stroke-width="0.9"/><text x="116.3" y="678.4" font-size="10" text-anchor="middle">1</text><line x1="129.2" y1="663.2" x2="129.2" y2="665.6" stroke="#333" stroke-width="0.9"/><text x="129.4" y="678.4" font-size="10" text-anchor="middle">2</text><line x1="142.4" y1="663.2" x2="142.4" y2="665.6" stroke="#333" stroke-width="0.9"/><text x="142.6" y="678.4" font-size="10" text-anchor="middle">3</text><line x1="155.5" y1="663.2" x2="155.5" y2="665.6" stroke="#333" stroke-width="0.9"/><text x="155.7" y="678.4" font-size="10" text-anchor="middle">4</text><line x1="168.7" y1="663.2" x2="168.7" y2="665.6" stroke="#333" stroke-width="0.9"/><text x="168.9" y="678.4" font-size="10" text-anchor="middle">5</text><line x1="181.9" y1="663.2" x2="181.9" y2="665.6" stroke="#333" stroke-width="0.9"/><text x="182.1" y="678.4" font-size="10" text-anchor="middle">6</text><line x1="195" y1="663.2" x2="195" y2="665.6" stroke="#333" stroke-width="0.9"/><text x="195.2" y="678.4" font-size="10" text-anchor="middle">7</text><line x1="208.2" y1="663.2" x2="208.2" y2="665.6" stroke="#333" stroke-width="0.9"/><text x="208.4" y="678.4" font-size="10" text-anchor="middle">8</text><text x="161.5" y="689" font-size="10" text-anchor="middle">Cluster</text><text x="21.4" y="555.2" font-size="10" text-anchor="middle" transform="rotate(-90 21.4 555.2)">Transcription factor acivity</text><text x="226.5" y="485.3" font-size="9.6">Pct. Exp.</text><circle cx="232.7" cy="497" r="0.8" fill="#000"/><text x="244.1" y="500.5" font-size="10">50</text><circle cx="232.7" cy="508.4" r="1.4" fill="#000"/><text x="244.1" y="511.9" font-size="10">60</text><circle cx="232.7" cy="519.7" r="2.4" fill="#000"/><text x="244.1" y="523.2" font-size="10">70</text><circle cx="232.7" cy="531.1" r="3.5" fill="#000"/><text x="244.1" y="534.6" font-size="10">80</text><circle cx="232.7" cy="542.4" r="4.3" fill="#000"/><text x="244.1" y="545.9" font-size="10">90</text><circle cx="232.7" cy="553.8" r="5.1" fill="#000"/><text x="244.1" y="557.3" font-size="10">100</text><text x="226.5" y="579.2" font-size="9.6">Avg. Exp.</text><defs><linearGradient id="gavg" x1="0" y1="0" x2="0" y2="1"><stop offset="0" stop-color="#e64a30"/><stop offset="0.063" stop-color="#e8553a"/><stop offset="0.267" stop-color="#f4a390"/><stop offset="0.475" stop-color="#ffffff"/><stop offset="0.706" stop-color="#a4a2d2"/><stop offset="0.916" stop-color="#3e56a8"/><stop offset="1" stop-color="#2a4a9e"/></linearGradient></defs><rect x="226.1" y="585.5" width="11.9" height="55.9" fill="url(#gavg)"/><line x1="226.1" y1="589" x2="228.4" y2="589" stroke="#fff" stroke-width="0.6"/><line x1="235.7" y1="589" x2="238" y2="589" stroke="#fff" stroke-width="0.6"/><text x="241.5" y="592.5" font-size="10">2</text><line x1="226.1" y1="600.5" x2="228.4" y2="600.5" stroke="#fff" stroke-width="0.6"/><line x1="235.7" y1="600.5" x2="238" y2="600.5" stroke="#fff" stroke-width="0.6"/><text x="241.5" y="604" font-size="10">1</text><line x1="226.1" y1="612.1" x2="228.4" y2="612.1" stroke="#fff" stroke-width="0.6"/><line x1="235.7" y1="612.1" x2="238" y2="612.1" stroke="#fff" stroke-width="0.6"/><text x="241.5" y="615.6" font-size="10">0</text><line x1="226.1" y1="625" x2="228.4" y2="625" stroke="#fff" stroke-width="0.6"/><line x1="235.7" y1="625" x2="238" y2="625" stroke="#fff" stroke-width="0.6"/><text x="241.5" y="628.5" font-size="10">−1</text><line x1="226.1" y1="636.7" x2="228.4" y2="636.7" stroke="#fff" stroke-width="0.6"/><line x1="235.7" y1="636.7" x2="238" y2="636.7" stroke="#fff" stroke-width="0.6"/><text x="241.5" y="640.2" font-size="10">−2</text><text x="277.6" y="453.2" font-size="12.5" font-weight="bold" stroke="#000" stroke-width="0.35">f</text><line x1="358.3" y1="455" x2="358.3" y2="663" stroke="#222" stroke-width="1"/><line x1="357.8" y1="662.5" x2="497.5" y2="662.5" stroke="#222" stroke-width="1"/><line x1="356.3" y1="509.5" x2="358.3" y2="509.5" stroke="#000" stroke-width="0.8"/><text x="351.6" y="512.6" font-size="8.7" text-anchor="end">1e−09</text><line x1="356.3" y1="581.3" x2="358.3" y2="581.3" stroke="#000" stroke-width="0.8"/><text x="351.6" y="584.4" font-size="8.7" text-anchor="end">5e−10</text><line x1="356.3" y1="653" x2="358.3" y2="653" stroke="#000" stroke-width="0.8"/><text x="351.6" y="656.1" font-size="8.7" text-anchor="end">0e+00</text><line x1="385.8" y1="662.5" x2="385.8" y2="664.5" stroke="#000" stroke-width="0.8"/><text x="385.8" y="676.8" font-size="9.5" text-anchor="middle">0.2</text><line x1="418.2" y1="662.5" x2="418.2" y2="664.5" stroke="#000" stroke-width="0.8"/><text x="418.2" y="676.8" font-size="9.5" text-anchor="middle">0.3</text><line x1="450.6" y1="662.5" x2="450.6" y2="664.5" stroke="#000" stroke-width="0.8"/><text x="450.6" y="676.8" font-size="9.5" text-anchor="middle">0.4</text><line x1="483" y1="662.5" x2="483" y2="664.5" stroke="#000" stroke-width="0.8"/><text x="483" y="676.8" font-size="9.5" text-anchor="middle">0.5</text><text x="428" y="688" font-size="10" text-anchor="middle">Expression induced osmoconsensus</text><text x="309.6" y="563.3" font-size="10.5" text-anchor="middle" transform="rotate(-90 309.6 563.3)">Coexpression induced osmoresponsive genes</text><text x="321.4" y="560.4" font-size="10.5" text-anchor="middle" font-style="italic" transform="rotate(-90 321.4 560.4)">STL1,ALD3,CTT1,HSP12,GRE1,HXT5</text><g fill-opacity="0.6"><circle cx="395.7" cy="653.4" r="2.5" fill="#1BBDE6"/><circle cx="460.4" cy="651.2" r="2.5" fill="#3DB54A"/><circle cx="453.1" cy="638" r="2.5" fill="#F37A72"/><circle cx="488.4" cy="652.1" r="3.5" fill="#DE6DB8"/><circle cx="469.5" cy="532.5" r="1.5" fill="#F37A72"/><circle cx="478.7" cy="646" r="3.0" fill="#35BFA0"/><circle cx="458.4" cy="651" r="2.0" fill="#1BBDE6"/><circle cx="482.2" cy="635.1" r="2.5" fill="#3DB54A"/><circle cx="398.9" cy="653.9" r="1.5" fill="#1BBDE6"/><circle cx="437.5" cy="652.2" r="3.5" fill="#6B95D6"/><circle cx="479.4" cy="610.8" r="3.5" fill="#F37A72"/><circle cx="453.1" cy="633" r="1.5" fill="#F37A72"/><circle cx="429.1" cy="651.4" r="3.5" fill="#3DB54A"/><circle cx="462.9" cy="649.3" r="1.5" fill="#3DB54A"/><circle cx="463.5" cy="650.4" r="3.5" fill="#90A83C"/><circle cx="466.8" cy="655.1" r="3.0" fill="#90A83C"/><circle cx="480" cy="633.1" r="2.0" fill="#90A83C"/><circle cx="485.3" cy="651.2" r="1.5" fill="#DE6DB8"/><circle cx="425.3" cy="654.7" r="3.5" fill="#1BBDE6"/><circle cx="480.8" cy="653" r="2.0" fill="#90A83C"/><circle cx="455.7" cy="653.3" r="3.0" fill="#1BBDE6"/><circle cx="491.1" cy="624.8" r="3.0" fill="#F37A72"/><circle cx="481.7" cy="644.3" r="2.5" fill="#90A83C"/><circle cx="484.8" cy="646.8" r="1.5" fill="#90A83C"/><circle cx="425" cy="654.3" r="3.5" fill="#3DB54A"/><circle cx="437.5" cy="607" r="2.5" fill="#F37A72"/><circle cx="390.1" cy="655.4" r="2.5" fill="#D6922E"/><circle cx="468.5" cy="650.5" r="2.5" fill="#35BFA0"/><circle cx="484.7" cy="636.1" r="1.5" fill="#A07BC8"/><circle cx="425.7" cy="654.7" r="2.0" fill="#35BFA0"/><circle cx="440.3" cy="637" r="4.0" fill="#F37A72"/><circle cx="471.5" cy="647.4" r="2.5" fill="#90A83C"/><circle cx="487.7" cy="655" r="2.5" fill="#DE6DB8"/><circle cx="449.7" cy="614.2" r="4.0" fill="#F37A72"/><circle cx="455" cy="487" r="4" fill="#F37A72"/><circle cx="395.3" cy="654.5" r="2.0" fill="#1BBDE6"/><circle cx="419.7" cy="650" r="1.5" fill="#35BFA0"/><circle cx="490.7" cy="652.5" r="1.5" fill="#A07BC8"/><circle cx="468.6" cy="643.1" r="3.0" fill="#A07BC8"/><circle cx="476.3" cy="648.9" r="3.5" fill="#DE6DB8"/><circle cx="479.2" cy="642.1" r="3.5" fill="#DE6DB8"/><circle cx="489.3" cy="653.4" r="3.0" fill="#35BFA0"/><circle cx="452.9" cy="642.7" r="2.5" fill="#90A83C"/><circle cx="486.4" cy="614.1" r="3.5" fill="#F37A72"/><circle cx="457.5" cy="560" r="2" fill="#F37A72"/><circle cx="470" cy="607.5" r="2.5" fill="#F37A72"/><circle cx="406.1" cy="650.9" r="2.5" fill="#D6922E"/><circle cx="462" cy="655.3" r="1.5" fill="#90A83C"/><circle cx="480.7" cy="627.7" r="3.5" fill="#F37A72"/><circle cx="460.6" cy="650.3" r="2.5" fill="#35BFA0"/><circle cx="389.1" cy="655.1" r="2.0" fill="#1BBDE6"/><circle cx="376" cy="653" r="1.5" fill="#D6922E"/><circle cx="463.6" cy="625" r="3.0" fill="#F37A72"/><circle cx="475.8" cy="637.7" r="2.5" fill="#3DB54A"/><circle cx="443.3" cy="654" r="1.5" fill="#1BBDE6"/><circle cx="392" cy="653" r="1.5" fill="#D6922E"/><circle cx="433.2" cy="652.7" r="2.5" fill="#1BBDE6"/><circle cx="474.1" cy="646" r="3.5" fill="#90A83C"/><circle cx="476.2" cy="640.8" r="3.0" fill="#90A83C"/><circle cx="487.9" cy="643.6" r="2.0" fill="#6B95D6"/><circle cx="487.9" cy="651.2" r="3.0" fill="#3DB54A"/><circle cx="443.2" cy="647.8" r="1.5" fill="#3DB54A"/><circle cx="440" cy="653.9" r="3.0" fill="#D6922E"/><circle cx="478.4" cy="652.2" r="2.0" fill="#3DB54A"/><circle cx="401.7" cy="651.4" r="2.5" fill="#D6922E"/><circle cx="472.6" cy="643.1" r="1.5" fill="#6B95D6"/><circle cx="482.6" cy="637.5" r="4.0" fill="#F37A72"/><circle cx="402.5" cy="653" r="1.5" fill="#D6922E"/><circle cx="468.1" cy="655.2" r="2.0" fill="#90A83C"/><circle cx="464.4" cy="654" r="2.0" fill="#3DB54A"/><circle cx="477.7" cy="654.7" r="2.0" fill="#DE6DB8"/><circle cx="420.2" cy="652.2" r="3.5" fill="#3DB54A"/><circle cx="492.4" cy="625.6" r="1.5" fill="#F37A72"/><circle cx="432.3" cy="655.4" r="3.5" fill="#D6922E"/><circle cx="463.7" cy="644.7" r="2.0" fill="#F37A72"/><circle cx="471.7" cy="655.2" r="3.0" fill="#35BFA0"/><circle cx="451.3" cy="650" r="2.5" fill="#F37A72"/><circle cx="452.8" cy="640.5" r="1.5" fill="#F37A72"/><circle cx="458.2" cy="646" r="2.5" fill="#3DB54A"/><circle cx="475.9" cy="652.5" r="1.5" fill="#A07BC8"/><circle cx="489.8" cy="653.2" r="3.5" fill="#DE6DB8"/><circle cx="446.2" cy="648.1" r="1.5" fill="#F37A72"/><circle cx="455.2" cy="650.3" r="3.5" fill="#6B95D6"/><circle cx="478.9" cy="612.2" r="3.0" fill="#F37A72"/><circle cx="454.3" cy="654.1" r="3.5" fill="#D6922E"/><circle cx="444" cy="649.2" r="1.5" fill="#D6922E"/><circle cx="482.7" cy="648.7" r="1.5" fill="#F37A72"/><circle cx="473.8" cy="652.1" r="3.5" fill="#3DB54A"/><circle cx="486.1" cy="652.7" r="2.0" fill="#F37A72"/><circle cx="449.5" cy="653.2" r="3.0" fill="#1BBDE6"/><circle cx="450.2" cy="650.7" r="1.5" fill="#3DB54A"/><circle cx="442.7" cy="641.2" r="1.5" fill="#1BBDE6"/><circle cx="452.9" cy="653.8" r="3.0" fill="#D6922E"/><circle cx="458" cy="634" r="3.5" fill="#A07BC8"/><circle cx="460.6" cy="610" r="1.5" fill="#F37A72"/><circle cx="479.1" cy="644.7" r="2.0" fill="#3DB54A"/><circle cx="472" cy="654.6" r="3.5" fill="#35BFA0"/><circle cx="478.5" cy="644.6" r="3.0" fill="#3DB54A"/><circle cx="454.1" cy="655.1" r="3.5" fill="#3DB54A"/><circle cx="481.6" cy="653.8" r="3.0" fill="#90A83C"/><circle cx="491.9" cy="652" r="2.0" fill="#3DB54A"/><circle cx="425.7" cy="655.1" r="1.5" fill="#DE6DB8"/><circle cx="490.4" cy="646.8" r="1.5" fill="#A07BC8"/><circle cx="444.1" cy="655.5" r="2.0" fill="#3DB54A"/><circle cx="427.8" cy="653.2" r="3.0" fill="#35BFA0"/><circle cx="417.7" cy="650.8" r="2.5" fill="#1BBDE6"/><circle cx="419.6" cy="653.5" r="1.5" fill="#1BBDE6"/><circle cx="447.4" cy="642.9" r="2.5" fill="#1BBDE6"/><circle cx="397.8" cy="654.8" r="2.0" fill="#D6922E"/><circle cx="424" cy="649.9" r="2.0" fill="#1BBDE6"/><circle cx="453.2" cy="621.6" r="3.0" fill="#F37A72"/><circle cx="460.8" cy="614.9" r="3.5" fill="#F37A72"/><circle cx="455.2" cy="628.2" r="1.5" fill="#F37A72"/><circle cx="450.4" cy="645.7" r="3.5" fill="#35BFA0"/><circle cx="474" cy="589" r="4" fill="#F37A72"/><circle cx="476" cy="648.1" r="3.0" fill="#3DB54A"/><circle cx="474.1" cy="611.2" r="3.0" fill="#F37A72"/><circle cx="458.3" cy="654.8" r="1.5" fill="#6B95D6"/><circle cx="454.6" cy="649.5" r="3.5" fill="#90A83C"/><circle cx="440.6" cy="650.1" r="3.5" fill="#90A83C"/><circle cx="420.7" cy="653.9" r="1.5" fill="#35BFA0"/><circle cx="485.3" cy="608.3" r="2.5" fill="#F37A72"/><circle cx="448" cy="567.5" r="3.5" fill="#F37A72"/><circle cx="415.4" cy="652.9" r="1.5" fill="#35BFA0"/><circle cx="484.6" cy="652.4" r="3.0" fill="#6B95D6"/><circle cx="478.5" cy="648.6" r="2.5" fill="#DE6DB8"/><circle cx="472.6" cy="651.6" r="3.5" fill="#3DB54A"/><circle cx="460.9" cy="652.2" r="1.5" fill="#90A83C"/><circle cx="487.3" cy="647" r="3.5" fill="#3DB54A"/><circle cx="459.7" cy="652.5" r="2.0" fill="#DE6DB8"/><circle cx="475.8" cy="634.2" r="3.0" fill="#F37A72"/><circle cx="483.2" cy="649.9" r="3.5" fill="#90A83C"/><circle cx="461" cy="495" r="3.5" fill="#F37A72"/><circle cx="463.2" cy="641.8" r="1.5" fill="#F37A72"/><circle cx="391.4" cy="655.1" r="2.0" fill="#1BBDE6"/><circle cx="452.9" cy="652.1" r="3.0" fill="#DE6DB8"/><circle cx="431.7" cy="652.5" r="2.5" fill="#3DB54A"/><circle cx="488.5" cy="645.2" r="3.5" fill="#6B95D6"/><circle cx="443.4" cy="651.6" r="3.5" fill="#6B95D6"/><circle cx="440.1" cy="631.9" r="2.5" fill="#F37A72"/><circle cx="458" cy="635.3" r="1.5" fill="#F37A72"/><circle cx="475" cy="655.3" r="2.5" fill="#35BFA0"/><circle cx="437.6" cy="654.6" r="3.0" fill="#90A83C"/><circle cx="452.7" cy="637.1" r="3.0" fill="#F37A72"/><circle cx="443.4" cy="653.3" r="2.5" fill="#90A83C"/><circle cx="445.9" cy="652.3" r="3.5" fill="#DE6DB8"/><circle cx="469.5" cy="548" r="2.5" fill="#F37A72"/><circle cx="466" cy="632" r="3" fill="#A07BC8"/><circle cx="486" cy="654.7" r="2.5" fill="#90A83C"/><circle cx="421.7" cy="654.4" r="2.0" fill="#1BBDE6"/><circle cx="430.6" cy="653.1" r="2.0" fill="#3DB54A"/><circle cx="446" cy="612.5" r="3.5" fill="#F37A72"/><circle cx="452" cy="628" r="3" fill="#6B95D6"/><circle cx="424.5" cy="654.1" r="2.5" fill="#D6922E"/><circle cx="475.8" cy="642.5" r="1.5" fill="#90A83C"/><circle cx="416.4" cy="653.9" r="2.0" fill="#6B95D6"/><circle cx="478.7" cy="645" r="3.0" fill="#6B95D6"/><circle cx="443.8" cy="600" r="1.5" fill="#90A83C"/><circle cx="489.2" cy="647" r="3.5" fill="#DE6DB8"/><circle cx="442.5" cy="600" r="2" fill="#F37A72"/><circle cx="397.8" cy="653.9" r="2.0" fill="#D6922E"/><circle cx="470.5" cy="583" r="4.5" fill="#F37A72"/><circle cx="467.5" cy="648.7" r="3.0" fill="#3DB54A"/><circle cx="471" cy="527.5" r="2.5" fill="#F37A72"/><circle cx="462.7" cy="623.1" r="4.0" fill="#F37A72"/><circle cx="444" cy="562.5" r="1.5" fill="#F37A72"/><circle cx="414.7" cy="652.6" r="2.5" fill="#6B95D6"/><circle cx="478.3" cy="648.6" r="3.0" fill="#3DB54A"/><circle cx="437.5" cy="655.4" r="2.5" fill="#35BFA0"/><circle cx="480.7" cy="651" r="3.0" fill="#F37A72"/><circle cx="446.9" cy="613.4" r="3.0" fill="#F37A72"/><circle cx="444" cy="550" r="1.5" fill="#F37A72"/><circle cx="442" cy="647.5" r="2.0" fill="#DE6DB8"/><circle cx="455" cy="597.5" r="3" fill="#F37A72"/><circle cx="426.8" cy="653" r="3.5" fill="#35BFA0"/><circle cx="451.2" cy="650.8" r="2.0" fill="#3DB54A"/><circle cx="429.9" cy="653" r="2.5" fill="#3DB54A"/><circle cx="489.9" cy="646.8" r="3.5" fill="#DE6DB8"/><circle cx="454.4" cy="622.8" r="4.0" fill="#F37A72"/><circle cx="450.8" cy="652" r="3.5" fill="#3DB54A"/><circle cx="461.4" cy="648.9" r="1.5" fill="#3DB54A"/><circle cx="483.1" cy="651.9" r="3.5" fill="#F37A72"/><circle cx="464.5" cy="648.9" r="2.5" fill="#35BFA0"/><circle cx="438.7" cy="652.8" r="3.0" fill="#DE6DB8"/><circle cx="459.4" cy="652.8" r="2.0" fill="#DE6DB8"/><circle cx="453.8" cy="602.5" r="3" fill="#F37A72"/><circle cx="490.3" cy="654.5" r="3.0" fill="#3DB54A"/><circle cx="447.5" cy="590" r="3.5" fill="#F37A72"/><circle cx="457.3" cy="653.1" r="3.0" fill="#35BFA0"/><circle cx="481.6" cy="650.2" r="3.5" fill="#3DB54A"/><circle cx="406" cy="654" r="1.5" fill="#D6922E"/><circle cx="431.3" cy="649.1" r="2.5" fill="#35BFA0"/><circle cx="454.8" cy="651.8" r="3.0" fill="#6B95D6"/><circle cx="491.1" cy="653.8" r="3.5" fill="#3DB54A"/><circle cx="489.9" cy="648.3" r="2.0" fill="#F37A72"/><circle cx="458.9" cy="655.5" r="3.5" fill="#D6922E"/><circle cx="417" cy="652.9" r="2.0" fill="#35BFA0"/><circle cx="459.2" cy="651.6" r="2.5" fill="#90A83C"/><circle cx="451.5" cy="653.9" r="3.0" fill="#3DB54A"/><circle cx="453.8" cy="490" r="3" fill="#F37A72"/><circle cx="470" cy="544" r="2.5" fill="#F37A72"/><circle cx="487.9" cy="621.1" r="4.0" fill="#F37A72"/><circle cx="487.9" cy="652.4" r="3.5" fill="#35BFA0"/><circle cx="441.1" cy="648.9" r="2.0" fill="#DE6DB8"/><circle cx="477.9" cy="645.2" r="1.5" fill="#90A83C"/><circle cx="482.1" cy="641.4" r="3.5" fill="#90A83C"/><circle cx="418.3" cy="655.1" r="2.0" fill="#1BBDE6"/><circle cx="471.6" cy="639" r="1.5" fill="#F37A72"/><circle cx="430.3" cy="647.9" r="3.0" fill="#D6922E"/><circle cx="482.1" cy="652.5" r="3.0" fill="#F37A72"/><circle cx="433.4" cy="644.9" r="3.5" fill="#D6922E"/><circle cx="482.7" cy="642.2" r="2.5" fill="#F37A72"/><circle cx="467.3" cy="651.2" r="3.0" fill="#F37A72"/><circle cx="482.6" cy="648.6" r="3.0" fill="#90A83C"/><circle cx="454.8" cy="652.8" r="2.0" fill="#D6922E"/><circle cx="458.7" cy="653" r="3.5" fill="#90A83C"/><circle cx="487" cy="507" r="3.5" fill="#F37A72"/><circle cx="468.3" cy="655.3" r="1.5" fill="#3DB54A"/><circle cx="491.7" cy="624.5" r="3.5" fill="#F37A72"/><circle cx="470.1" cy="654.2" r="2.0" fill="#3DB54A"/><circle cx="427.8" cy="651.7" r="1.5" fill="#1BBDE6"/><circle cx="453.8" cy="532.5" r="2.5" fill="#F37A72"/><circle cx="483.4" cy="654.9" r="2.5" fill="#35BFA0"/><circle cx="434.4" cy="653" r="2.5" fill="#3DB54A"/><circle cx="444" cy="649.9" r="2.0" fill="#3DB54A"/><circle cx="413.2" cy="653.1" r="1.5" fill="#D6922E"/><circle cx="467.8" cy="642.2" r="2.0" fill="#90A83C"/><circle cx="467.5" cy="654" r="1.5" fill="#90A83C"/><circle cx="472.2" cy="641.6" r="1.5" fill="#3DB54A"/><circle cx="473.2" cy="655.5" r="3.5" fill="#35BFA0"/><circle cx="452" cy="639.8" r="4.0" fill="#F37A72"/><circle cx="434.2" cy="653.9" r="1.5" fill="#D6922E"/><circle cx="483.3" cy="651.6" r="1.5" fill="#35BFA0"/><circle cx="454.9" cy="646.8" r="2.0" fill="#1BBDE6"/><circle cx="464.9" cy="649.1" r="3.5" fill="#A07BC8"/><circle cx="482.5" cy="651.1" r="2.5" fill="#90A83C"/><circle cx="415.5" cy="651.3" r="2.0" fill="#35BFA0"/><circle cx="365" cy="653" r="1.5" fill="#35BFA0"/><circle cx="487.5" cy="648.5" r="3.0" fill="#3DB54A"/><circle cx="464.5" cy="647.6" r="3.5" fill="#3DB54A"/><circle cx="446" cy="622.5" r="3" fill="#A07BC8"/><circle cx="468.8" cy="644.4" r="2.5" fill="#90A83C"/><circle cx="461.9" cy="651.9" r="2.5" fill="#F37A72"/><circle cx="451.1" cy="643" r="3.0" fill="#3DB54A"/><circle cx="419.1" cy="655.3" r="1.5" fill="#DE6DB8"/><circle cx="401.2" cy="652.7" r="1.5" fill="#D6922E"/><circle cx="484.5" cy="627.6" r="4.0" fill="#F37A72"/><circle cx="465.7" cy="651" r="2.0" fill="#3DB54A"/><circle cx="482.5" cy="652.3" r="3.5" fill="#3DB54A"/><circle cx="457.8" cy="654.9" r="1.5" fill="#3DB54A"/><circle cx="461.6" cy="651.5" r="2.0" fill="#90A83C"/><circle cx="462" cy="570.5" r="2.5" fill="#F37A72"/><circle cx="485.1" cy="651.9" r="3.0" fill="#F37A72"/><circle cx="398" cy="653.6" r="1.5" fill="#D6922E"/><circle cx="411.5" cy="652.9" r="2.5" fill="#DE6DB8"/><circle cx="474" cy="648.2" r="3.0" fill="#3DB54A"/><circle cx="485.9" cy="646" r="2.5" fill="#90A83C"/><circle cx="490.8" cy="624.9" r="2.5" fill="#F37A72"/><circle cx="457" cy="654.5" r="2.5" fill="#3DB54A"/><circle cx="479.1" cy="613.5" r="2.5" fill="#F37A72"/><circle cx="471" cy="632.5" r="4.0" fill="#F37A72"/><circle cx="483" cy="654.4" r="2.0" fill="#3DB54A"/><circle cx="441.1" cy="655.2" r="2.5" fill="#DE6DB8"/><circle cx="458.6" cy="655.1" r="2.5" fill="#D6922E"/><circle cx="441" cy="655.1" r="3.0" fill="#35BFA0"/><circle cx="455" cy="647.3" r="2.5" fill="#90A83C"/><circle cx="471.9" cy="642.1" r="2.0" fill="#6B95D6"/><circle cx="489" cy="650.5" r="3.0" fill="#90A83C"/><circle cx="487.1" cy="655.1" r="2.0" fill="#DE6DB8"/><circle cx="417.5" cy="650.8" r="1.5" fill="#1BBDE6"/><circle cx="474.3" cy="629.9" r="3.0" fill="#F37A72"/><circle cx="431.5" cy="655" r="3.0" fill="#1BBDE6"/><circle cx="416.1" cy="654.6" r="2.5" fill="#35BFA0"/><circle cx="465.6" cy="649.9" r="1.5" fill="#90A83C"/><circle cx="417.1" cy="653.5" r="2.5" fill="#1BBDE6"/><circle cx="406.7" cy="653.9" r="1.5" fill="#D6922E"/><circle cx="426.3" cy="651.4" r="2.0" fill="#35BFA0"/><circle cx="475.5" cy="606.8" r="1.5" fill="#F37A72"/><circle cx="455.6" cy="652.3" r="2.5" fill="#3DB54A"/><circle cx="470.2" cy="653.6" r="2.5" fill="#6B95D6"/><circle cx="451.2" cy="620.3" r="2.5" fill="#F37A72"/><circle cx="394.5" cy="653.9" r="1.5" fill="#1BBDE6"/><circle cx="441" cy="587.5" r="3" fill="#3DB54A"/><circle cx="484.1" cy="648.6" r="1.5" fill="#DE6DB8"/><circle cx="444.7" cy="655" r="2.0" fill="#90A83C"/><circle cx="436.7" cy="653.6" r="1.5" fill="#6B95D6"/><circle cx="415.5" cy="652.6" r="1.5" fill="#35BFA0"/><circle cx="471.9" cy="653.9" r="2.5" fill="#6B95D6"/><circle cx="424" cy="655.1" r="3.0" fill="#1BBDE6"/><circle cx="475.4" cy="647.8" r="1.5" fill="#35BFA0"/><circle cx="456.4" cy="632.7" r="2.5" fill="#F37A72"/><circle cx="456" cy="475" r="1.5" fill="#F37A72"/><circle cx="413.5" cy="655.4" r="2.5" fill="#D6922E"/><circle cx="401.7" cy="653.8" r="1.5" fill="#1BBDE6"/><circle cx="439.3" cy="625.9" r="4.0" fill="#F37A72"/><circle cx="442.9" cy="651.9" r="3.0" fill="#35BFA0"/><circle cx="476.6" cy="610.9" r="1.5" fill="#F37A72"/><circle cx="477.8" cy="646.8" r="3.5" fill="#DE6DB8"/><circle cx="457.3" cy="652.7" r="3.5" fill="#D6922E"/><circle cx="450" cy="654.9" r="3.5" fill="#35BFA0"/><circle cx="471.5" cy="651.7" r="2.0" fill="#3DB54A"/><circle cx="490.8" cy="648" r="2.0" fill="#3DB54A"/><circle cx="490.2" cy="649.4" r="1.5" fill="#90A83C"/><circle cx="462.5" cy="645.5" r="3.0" fill="#3DB54A"/><circle cx="476.9" cy="650.3" r="1.5" fill="#A07BC8"/><circle cx="487.9" cy="616.2" r="2.5" fill="#F37A72"/><circle cx="464.7" cy="650.7" r="2.5" fill="#3DB54A"/><circle cx="474.7" cy="642.5" r="1.5" fill="#90A83C"/><circle cx="433.3" cy="651.2" r="3.0" fill="#1BBDE6"/><circle cx="411.7" cy="648.9" r="2.0" fill="#DE6DB8"/><circle cx="477.8" cy="653.8" r="2.0" fill="#90A83C"/><circle cx="458.9" cy="653.4" r="2.0" fill="#35BFA0"/><circle cx="478.1" cy="632.7" r="2.5" fill="#F37A72"/><circle cx="449.1" cy="641" r="3.0" fill="#F37A72"/><circle cx="456.4" cy="645.9" r="2.5" fill="#DE6DB8"/><circle cx="481.3" cy="640.2" r="2.5" fill="#90A83C"/><circle cx="432" cy="625" r="3" fill="#90A83C"/><circle cx="475.7" cy="646.7" r="3.0" fill="#6B95D6"/><circle cx="430.7" cy="654" r="3.0" fill="#D6922E"/><circle cx="432.1" cy="654.7" r="2.0" fill="#D6922E"/><circle cx="465.9" cy="645.1" r="2.0" fill="#A07BC8"/><circle cx="438" cy="640" r="2.5" fill="#6B95D6"/><circle cx="492.7" cy="633.9" r="2.5" fill="#F37A72"/><circle cx="471.6" cy="654" r="2.0" fill="#3DB54A"/><circle cx="460.6" cy="651.5" r="3.0" fill="#F37A72"/><circle cx="452.8" cy="634.3" r="1.5" fill="#F37A72"/><circle cx="456.9" cy="651.7" r="1.5" fill="#DE6DB8"/><circle cx="449.7" cy="639.1" r="2.5" fill="#F37A72"/><circle cx="451.8" cy="648.4" r="3.5" fill="#90A83C"/><circle cx="420.3" cy="650.7" r="2.5" fill="#35BFA0"/><circle cx="459.7" cy="641.3" r="1.5" fill="#F37A72"/><circle cx="444.9" cy="650" r="3.0" fill="#90A83C"/><circle cx="450.4" cy="641.1" r="1.5" fill="#D6922E"/><circle cx="481" cy="464.5" r="3.2" fill="#F37A72"/><circle cx="444.9" cy="647.3" r="2.0" fill="#6B95D6"/><circle cx="479.9" cy="633.1" r="3.5" fill="#3DB54A"/><circle cx="448.7" cy="646.2" r="2.0" fill="#90A83C"/><circle cx="450" cy="635" r="4" fill="#A07BC8"/><circle cx="453" cy="655.4" r="2.5" fill="#3DB54A"/><circle cx="489.5" cy="653.3" r="1.5" fill="#3DB54A"/><circle cx="452.3" cy="646.4" r="2.5" fill="#DE6DB8"/><circle cx="412" cy="650.1" r="1.5" fill="#35BFA0"/><circle cx="445.4" cy="654.3" r="3.5" fill="#D6922E"/><circle cx="457.4" cy="606.1" r="3.0" fill="#F37A72"/><circle cx="489.3" cy="616.3" r="4.0" fill="#F37A72"/><circle cx="440.5" cy="652.5" r="3.0" fill="#3DB54A"/><circle cx="465.6" cy="653.2" r="2.5" fill="#A07BC8"/><circle cx="420.7" cy="652.7" r="2.0" fill="#35BFA0"/><circle cx="479.3" cy="641.9" r="1.5" fill="#90A83C"/><circle cx="466" cy="651.8" r="2.5" fill="#3DB54A"/><circle cx="490.5" cy="653.4" r="3.0" fill="#3DB54A"/><circle cx="418.3" cy="652" r="2.5" fill="#D6922E"/><circle cx="480" cy="642" r="3" fill="#A07BC8"/><circle cx="482.9" cy="627.8" r="3.0" fill="#F37A72"/><circle cx="429.5" cy="654.7" r="1.5" fill="#35BFA0"/><circle cx="453.4" cy="646.4" r="1.5" fill="#35BFA0"/><circle cx="473.7" cy="645.7" r="3.5" fill="#A07BC8"/><circle cx="449.7" cy="649.2" r="1.5" fill="#F37A72"/><circle cx="485.4" cy="635.3" r="3.0" fill="#3DB54A"/><circle cx="469.8" cy="654.2" r="1.5" fill="#6B95D6"/><circle cx="478.9" cy="651.7" r="3.5" fill="#3DB54A"/><circle cx="488.5" cy="630.1" r="3.0" fill="#F37A72"/><circle cx="466.2" cy="650.1" r="2.5" fill="#90A83C"/><circle cx="486.5" cy="651.8" r="1.5" fill="#90A83C"/><circle cx="480.7" cy="645.8" r="2.5" fill="#90A83C"/><circle cx="441.8" cy="651.6" r="2.0" fill="#3DB54A"/><circle cx="418.7" cy="652.3" r="1.5" fill="#1BBDE6"/><circle cx="450.2" cy="608.8" r="4.0" fill="#F37A72"/><circle cx="463.5" cy="644.5" r="1.5" fill="#F37A72"/><circle cx="447.2" cy="653" r="1.5" fill="#D6922E"/><circle cx="407.3" cy="654.8" r="2.0" fill="#3DB54A"/><circle cx="447.2" cy="616.6" r="1.5" fill="#F37A72"/><circle cx="426.9" cy="653.7" r="3.5" fill="#3DB54A"/><circle cx="439.2" cy="655.1" r="2.0" fill="#DE6DB8"/><circle cx="458.1" cy="643.7" r="3.0" fill="#3DB54A"/><circle cx="469.1" cy="648.3" r="3.0" fill="#F37A72"/><circle cx="491.4" cy="653.6" r="1.5" fill="#3DB54A"/><circle cx="490.8" cy="640.4" r="1.5" fill="#3DB54A"/><circle cx="482.8" cy="635.1" r="4.0" fill="#F37A72"/><circle cx="426.4" cy="653.7" r="3.0" fill="#1BBDE6"/><circle cx="469.6" cy="652.3" r="2.5" fill="#A07BC8"/><circle cx="400.8" cy="653.6" r="1.5" fill="#D6922E"/><circle cx="488.9" cy="642.2" r="1.5" fill="#F37A72"/><circle cx="468.4" cy="652.3" r="3.5" fill="#3DB54A"/><circle cx="469.5" cy="650.5" r="2.5" fill="#A07BC8"/><circle cx="483.8" cy="650.7" r="2.0" fill="#90A83C"/><circle cx="452.6" cy="651.9" r="3.5" fill="#90A83C"/><circle cx="479.6" cy="637.7" r="1.5" fill="#F37A72"/><circle cx="485.5" cy="653.5" r="1.5" fill="#90A83C"/><circle cx="470" cy="638" r="3" fill="#6B95D6"/><circle cx="468.8" cy="655" r="2.5" fill="#3DB54A"/><circle cx="457.4" cy="612.5" r="1.5" fill="#F37A72"/><circle cx="434.1" cy="655.5" r="2.0" fill="#1BBDE6"/><circle cx="458.1" cy="634.1" r="3.0" fill="#F37A72"/><circle cx="478.7" cy="625.6" r="1.5" fill="#F37A72"/><circle cx="447.4" cy="654.2" r="2.0" fill="#1BBDE6"/><circle cx="485.1" cy="617.8" r="1.5" fill="#F37A72"/><circle cx="422.8" cy="655.4" r="3.0" fill="#35BFA0"/><circle cx="476.2" cy="653.2" r="2.5" fill="#3DB54A"/><circle cx="445.7" cy="650.1" r="2.0" fill="#90A83C"/><circle cx="485.7" cy="647.7" r="1.5" fill="#3DB54A"/><circle cx="410.4" cy="651.7" r="2.5" fill="#3DB54A"/><circle cx="407.2" cy="655.4" r="2.5" fill="#D6922E"/><circle cx="407.9" cy="650.3" r="2.5" fill="#35BFA0"/><circle cx="452.7" cy="654.5" r="3.5" fill="#3DB54A"/><circle cx="486.8" cy="648.2" r="2.0" fill="#90A83C"/><circle cx="457.7" cy="647.2" r="2.0" fill="#3DB54A"/><circle cx="457" cy="553" r="1.5" fill="#F37A72"/><circle cx="462.6" cy="606.8" r="4.0" fill="#F37A72"/><circle cx="445.9" cy="655.3" r="3.0" fill="#6B95D6"/><circle cx="484.6" cy="644.1" r="2.0" fill="#3DB54A"/><circle cx="448.2" cy="609.3" r="4.0" fill="#F37A72"/><circle cx="440" cy="628" r="3" fill="#A07BC8"/><circle cx="456.2" cy="651.3" r="2.5" fill="#90A83C"/><circle cx="405.2" cy="654.7" r="1.5" fill="#1BBDE6"/><circle cx="477" cy="502.5" r="2.5" fill="#F37A72"/><circle cx="463.9" cy="611.9" r="4.0" fill="#F37A72"/><circle cx="466.9" cy="644.5" r="2.0" fill="#F37A72"/><circle cx="479.1" cy="647.3" r="2.5" fill="#F37A72"/><circle cx="447.2" cy="647.1" r="2.0" fill="#D6922E"/><circle cx="412.7" cy="653.5" r="2.5" fill="#35BFA0"/><circle cx="454.6" cy="646.9" r="2.5" fill="#DE6DB8"/><circle cx="464.4" cy="645.3" r="2.0" fill="#DE6DB8"/><circle cx="467.5" cy="653.1" r="2.0" fill="#DE6DB8"/><circle cx="488.9" cy="640.1" r="1.5" fill="#3DB54A"/><circle cx="469.7" cy="653.7" r="2.0" fill="#F37A72"/><circle cx="436.5" cy="649.9" r="3.5" fill="#90A83C"/><circle cx="437.2" cy="648.9" r="2.0" fill="#90A83C"/><circle cx="478.4" cy="648.8" r="2.0" fill="#6B95D6"/><circle cx="422.5" cy="650.4" r="3.0" fill="#D6922E"/><circle cx="466.5" cy="654.8" r="2.0" fill="#3DB54A"/><circle cx="465" cy="564" r="1.5" fill="#F37A72"/><circle cx="422.6" cy="653.1" r="2.5" fill="#3DB54A"/><circle cx="463.5" cy="653.6" r="1.5" fill="#A07BC8"/><circle cx="460.4" cy="641.1" r="2.5" fill="#F37A72"/><circle cx="439.2" cy="654.3" r="2.0" fill="#90A83C"/><circle cx="478.5" cy="650.1" r="2.5" fill="#90A83C"/><circle cx="473.2" cy="648.6" r="1.5" fill="#F37A72"/><circle cx="451.2" cy="623.4" r="1.5" fill="#F37A72"/><circle cx="407.5" cy="652.5" r="1.5" fill="#1BBDE6"/><circle cx="460" cy="648.8" r="3.5" fill="#1BBDE6"/><circle cx="491.6" cy="645.1" r="2.0" fill="#35BFA0"/><circle cx="487.3" cy="642.7" r="3.5" fill="#A07BC8"/><circle cx="428.6" cy="654.7" r="3.5" fill="#DE6DB8"/><circle cx="485.1" cy="648.2" r="1.5" fill="#90A83C"/><circle cx="483.6" cy="643.7" r="3.5" fill="#90A83C"/><circle cx="456" cy="650.7" r="1.5" fill="#D6922E"/><circle cx="451.7" cy="650.7" r="3.5" fill="#3DB54A"/><circle cx="485.6" cy="648.4" r="3.5" fill="#90A83C"/><circle cx="481.1" cy="642.5" r="1.5" fill="#DE6DB8"/><circle cx="431.9" cy="647.3" r="1.5" fill="#6B95D6"/><circle cx="455.8" cy="652.6" r="2.0" fill="#90A83C"/><circle cx="478" cy="622.6" r="4.0" fill="#F37A72"/><circle cx="427.3" cy="654.7" r="2.0" fill="#DE6DB8"/><circle cx="477" cy="633.2" r="2.0" fill="#35BFA0"/><circle cx="484.2" cy="655.1" r="1.5" fill="#3DB54A"/><circle cx="444.9" cy="654.2" r="2.5" fill="#3DB54A"/><circle cx="419.2" cy="654.6" r="3.0" fill="#1BBDE6"/><circle cx="472.5" cy="572" r="3" fill="#F37A72"/><circle cx="437.3" cy="650.3" r="2.0" fill="#35BFA0"/><circle cx="490.3" cy="638.2" r="1.5" fill="#35BFA0"/><circle cx="467.2" cy="650.8" r="1.5" fill="#6B95D6"/><circle cx="484.5" cy="644.3" r="3.0" fill="#35BFA0"/><circle cx="464.5" cy="654.9" r="3.5" fill="#35BFA0"/><circle cx="448.6" cy="653.9" r="2.5" fill="#D6922E"/><circle cx="490" cy="651.4" r="2.5" fill="#90A83C"/><circle cx="469.3" cy="609.6" r="2.5" fill="#F37A72"/><circle cx="439.2" cy="653.7" r="2.5" fill="#DE6DB8"/><circle cx="477.2" cy="642.6" r="3.0" fill="#F37A72"/><circle cx="482.5" cy="471" r="1.5" fill="#F37A72"/><circle cx="485" cy="647.5" r="4.5" fill="#A07BC8"/><circle cx="438.2" cy="653.4" r="2.0" fill="#3DB54A"/><circle cx="489.2" cy="651.5" r="2.0" fill="#3DB54A"/><circle cx="470.4" cy="641" r="3.0" fill="#DE6DB8"/><circle cx="478.6" cy="648.7" r="3.0" fill="#A07BC8"/><circle cx="477.7" cy="607.7" r="2.5" fill="#F37A72"/><circle cx="456.3" cy="653.6" r="3.5" fill="#90A83C"/><circle cx="481.7" cy="646" r="3.5" fill="#90A83C"/><circle cx="469.1" cy="650.5" r="2.0" fill="#3DB54A"/><circle cx="489.1" cy="648.6" r="2.0" fill="#3DB54A"/><circle cx="469.6" cy="650.6" r="2.5" fill="#90A83C"/><circle cx="452" cy="523" r="2.5" fill="#F37A72"/><circle cx="464.3" cy="607.2" r="3.5" fill="#F37A72"/><circle cx="491.8" cy="644.3" r="3.0" fill="#3DB54A"/><circle cx="404.7" cy="653.8" r="2.5" fill="#1BBDE6"/><circle cx="486.5" cy="652.4" r="2.5" fill="#DE6DB8"/><circle cx="478.5" cy="651.9" r="3.0" fill="#3DB54A"/><circle cx="468.1" cy="644.7" r="1.5" fill="#DE6DB8"/><circle cx="473.9" cy="611.8" r="2.5" fill="#F37A72"/><circle cx="471.9" cy="645.4" r="3.0" fill="#F37A72"/><circle cx="479.2" cy="614.6" r="3.0" fill="#F37A72"/><circle cx="454.4" cy="650.8" r="2.0" fill="#90A83C"/><circle cx="399.1" cy="655.2" r="1.5" fill="#D6922E"/><circle cx="430.9" cy="647.6" r="3.5" fill="#3DB54A"/><circle cx="490.8" cy="644.7" r="3.5" fill="#3DB54A"/><circle cx="485" cy="594.5" r="1.5" fill="#F37A72"/><circle cx="490.1" cy="653.6" r="2.0" fill="#3DB54A"/><circle cx="397.3" cy="655.3" r="2.5" fill="#D6922E"/><circle cx="446.5" cy="607" r="1.5" fill="#F37A72"/><circle cx="390.7" cy="655" r="2.0" fill="#1BBDE6"/><circle cx="474.7" cy="650.3" r="2.5" fill="#90A83C"/><circle cx="424" cy="651.6" r="1.5" fill="#35BFA0"/><circle cx="469.7" cy="653.7" r="2.0" fill="#90A83C"/><circle cx="446.7" cy="648.6" r="1.5" fill="#3DB54A"/><circle cx="408.3" cy="653.1" r="1.5" fill="#1BBDE6"/><circle cx="483" cy="559" r="3.5" fill="#F37A72"/><circle cx="474.5" cy="475" r="1.5" fill="#F37A72"/><circle cx="443.5" cy="651.2" r="3.5" fill="#D6922E"/><circle cx="466.6" cy="651.1" r="1.5" fill="#90A83C"/><circle cx="462.5" cy="605" r="2" fill="#F37A72"/><circle cx="462" cy="559" r="3" fill="#F37A72"/><circle cx="441.6" cy="651.3" r="1.5" fill="#3DB54A"/><circle cx="454.6" cy="652.7" r="3.5" fill="#90A83C"/><circle cx="478.2" cy="613.4" r="3.5" fill="#F37A72"/><circle cx="426" cy="649.3" r="1.5" fill="#D6922E"/><circle cx="452.4" cy="653.9" r="2.0" fill="#6B95D6"/><circle cx="484.4" cy="655.2" r="2.0" fill="#90A83C"/><circle cx="478" cy="638.2" r="3.5" fill="#35BFA0"/><circle cx="412" cy="654.2" r="2.0" fill="#1BBDE6"/><circle cx="477.3" cy="643.8" r="1.5" fill="#A07BC8"/><circle cx="410.1" cy="655" r="2.0" fill="#1BBDE6"/><circle cx="434.3" cy="653.2" r="2.0" fill="#DE6DB8"/><circle cx="394.4" cy="652.6" r="2.0" fill="#1BBDE6"/><circle cx="460.8" cy="620.5" r="1.5" fill="#F37A72"/><circle cx="464.6" cy="620.9" r="3.0" fill="#F37A72"/><circle cx="451.5" cy="633.6" r="3.5" fill="#F37A72"/><circle cx="469.1" cy="639" r="3.0" fill="#F37A72"/><circle cx="428" cy="650.4" r="3.0" fill="#DE6DB8"/><circle cx="430.8" cy="653.7" r="2.0" fill="#D6922E"/><circle cx="434.6" cy="650.6" r="2.0" fill="#3DB54A"/><circle cx="450" cy="530.5" r="1.5" fill="#F37A72"/><circle cx="487.3" cy="647" r="2.5" fill="#35BFA0"/><circle cx="483.1" cy="647.2" r="1.5" fill="#90A83C"/><circle cx="457.1" cy="649.7" r="2.5" fill="#90A83C"/><circle cx="470.5" cy="646.9" r="1.5" fill="#90A83C"/><circle cx="425.1" cy="654" r="3.5" fill="#1BBDE6"/><circle cx="436.1" cy="654.5" r="2.0" fill="#3DB54A"/><circle cx="444.2" cy="654.7" r="2.0" fill="#D6922E"/><circle cx="440.9" cy="653.3" r="3.5" fill="#35BFA0"/><circle cx="426.3" cy="655.3" r="2.5" fill="#35BFA0"/><circle cx="462.1" cy="607.8" r="3.0" fill="#F37A72"/><circle cx="426.9" cy="654.7" r="2.0" fill="#1BBDE6"/><circle cx="458" cy="628" r="2.5" fill="#F37A72"/><circle cx="456.9" cy="653.6" r="1.5" fill="#3DB54A"/><circle cx="482.7" cy="645.1" r="2.0" fill="#A07BC8"/><circle cx="409.3" cy="655.3" r="1.5" fill="#1BBDE6"/><circle cx="477.3" cy="645.5" r="1.5" fill="#90A83C"/><circle cx="407.5" cy="653.2" r="2.0" fill="#D6922E"/><circle cx="435" cy="642.6" r="2.5" fill="#35BFA0"/><circle cx="443" cy="636" r="3" fill="#A07BC8"/><circle cx="472" cy="630.8" r="1.5" fill="#90A83C"/><circle cx="480.1" cy="627.8" r="3.0" fill="#F37A72"/><circle cx="457.4" cy="647.9" r="3.0" fill="#F37A72"/><circle cx="419.1" cy="655.1" r="2.0" fill="#35BFA0"/><circle cx="478.6" cy="653.1" r="3.0" fill="#90A83C"/><circle cx="455" cy="630" r="3.5" fill="#A07BC8"/><circle cx="467.4" cy="655.2" r="2.0" fill="#A07BC8"/><circle cx="441.8" cy="608" r="4.0" fill="#F37A72"/><circle cx="453.8" cy="560" r="1.5" fill="#F37A72"/><circle cx="478.7" cy="644.5" r="1.5" fill="#3DB54A"/><circle cx="461.4" cy="641.6" r="3.5" fill="#A07BC8"/><circle cx="429.9" cy="646" r="1.5" fill="#D6922E"/><circle cx="445.4" cy="653.8" r="2.0" fill="#D6922E"/><circle cx="453.4" cy="623.9" r="4.0" fill="#F37A72"/><circle cx="460.8" cy="648.2" r="3.0" fill="#6B95D6"/><circle cx="427.3" cy="653.8" r="2.0" fill="#DE6DB8"/><circle cx="400.6" cy="654.5" r="2.5" fill="#DE6DB8"/><circle cx="452.5" cy="610" r="4" fill="#F37A72"/><circle cx="483.1" cy="649.2" r="2.0" fill="#3DB54A"/><circle cx="429.9" cy="651.4" r="3.0" fill="#35BFA0"/><circle cx="409.7" cy="655" r="2.5" fill="#DE6DB8"/><circle cx="466" cy="600" r="2.5" fill="#F37A72"/><circle cx="445.5" cy="612.8" r="1.5" fill="#F37A72"/><circle cx="426.4" cy="652.6" r="2.5" fill="#35BFA0"/><circle cx="441" cy="644.8" r="2.0" fill="#D6922E"/><circle cx="448.6" cy="653.7" r="2.5" fill="#90A83C"/><circle cx="480.2" cy="654.1" r="1.5" fill="#3DB54A"/><circle cx="439.6" cy="653.1" r="2.0" fill="#D6922E"/><circle cx="451.6" cy="652.5" r="2.5" fill="#DE6DB8"/><circle cx="393.4" cy="655.3" r="2.0" fill="#D6922E"/><circle cx="489.2" cy="646.5" r="3.0" fill="#3DB54A"/><circle cx="448" cy="626" r="3.5" fill="#A07BC8"/><circle cx="469.1" cy="653.2" r="1.5" fill="#3DB54A"/><circle cx="488.8" cy="632.6" r="3.0" fill="#F37A72"/><circle cx="468.2" cy="641.8" r="1.5" fill="#F37A72"/><circle cx="413.7" cy="651.6" r="2.5" fill="#35BFA0"/><circle cx="460.6" cy="618.1" r="1.5" fill="#F37A72"/><circle cx="468.1" cy="625.2" r="2.5" fill="#F37A72"/><circle cx="411" cy="654.5" r="2.0" fill="#35BFA0"/><circle cx="440.6" cy="654" r="2.5" fill="#35BFA0"/><circle cx="465" cy="526" r="2.5" fill="#F37A72"/><circle cx="476" cy="565.5" r="2.5" fill="#F37A72"/><circle cx="481.8" cy="641.4" r="3.0" fill="#F37A72"/><circle cx="456.6" cy="652.9" r="3.0" fill="#1BBDE6"/><circle cx="418" cy="655" r="1.5" fill="#D6922E"/><circle cx="442" cy="647.9" r="3.0" fill="#3DB54A"/><circle cx="447.9" cy="614.3" r="2.5" fill="#F37A72"/><circle cx="479.3" cy="653.3" r="3.0" fill="#6B95D6"/><circle cx="464.1" cy="645.9" r="3.0" fill="#35BFA0"/><circle cx="386" cy="653" r="1.5" fill="#D6922E"/><circle cx="439.3" cy="652.7" r="3.0" fill="#90A83C"/><circle cx="455" cy="653.1" r="3.0" fill="#D6922E"/><circle cx="438.1" cy="655.1" r="2.0" fill="#35BFA0"/><circle cx="482" cy="645.3" r="3.5" fill="#A07BC8"/><circle cx="474.2" cy="646.6" r="2.5" fill="#F37A72"/><circle cx="491.6" cy="648.7" r="3.0" fill="#35BFA0"/><circle cx="474.2" cy="649.5" r="2.5" fill="#35BFA0"/><circle cx="489.4" cy="633.6" r="3.5" fill="#35BFA0"/><circle cx="418.6" cy="654.5" r="3.5" fill="#6B95D6"/><circle cx="456.9" cy="638.7" r="3.0" fill="#F37A72"/><circle cx="442.3" cy="639.2" r="2.5" fill="#1BBDE6"/><circle cx="413.8" cy="654.3" r="1.5" fill="#3DB54A"/><circle cx="471.7" cy="645.3" r="3.0" fill="#DE6DB8"/><circle cx="423" cy="649" r="1.5" fill="#DE6DB8"/><circle cx="444" cy="652.2" r="1.5" fill="#DE6DB8"/><circle cx="477" cy="527.5" r="2.5" fill="#F37A72"/><circle cx="491.4" cy="653.2" r="3.5" fill="#A07BC8"/><circle cx="455.8" cy="625.3" r="1.5" fill="#F37A72"/><circle cx="460" cy="583" r="3.5" fill="#F37A72"/><circle cx="400.7" cy="654.3" r="2.0" fill="#DE6DB8"/><circle cx="442.9" cy="614.2" r="3.5" fill="#F37A72"/><circle cx="421" cy="653.7" r="3.5" fill="#35BFA0"/><circle cx="469.5" cy="487.5" r="1.5" fill="#F37A72"/><circle cx="465.9" cy="645.7" r="1.5" fill="#3DB54A"/><circle cx="432.5" cy="608" r="1.5" fill="#F37A72"/><circle cx="464.1" cy="646.1" r="3.0" fill="#F37A72"/><circle cx="462.4" cy="648.6" r="3.5" fill="#35BFA0"/><circle cx="462.1" cy="647.6" r="2.5" fill="#F37A72"/><circle cx="457.5" cy="607.5" r="3" fill="#F37A72"/><circle cx="441.8" cy="651.8" r="2.5" fill="#90A83C"/><circle cx="465.9" cy="645.6" r="2.0" fill="#35BFA0"/><circle cx="439.9" cy="653.8" r="2.5" fill="#DE6DB8"/><circle cx="489.6" cy="647.8" r="1.5" fill="#A07BC8"/><circle cx="480" cy="612" r="1.5" fill="#F37A72"/><circle cx="468.1" cy="652.7" r="3.5" fill="#A07BC8"/><circle cx="418.4" cy="655.1" r="2.0" fill="#3DB54A"/><circle cx="406" cy="655.3" r="1.5" fill="#1BBDE6"/><circle cx="402.8" cy="655.2" r="2.0" fill="#D6922E"/><circle cx="434" cy="651.4" r="2.5" fill="#1BBDE6"/><circle cx="425.6" cy="652.1" r="1.5" fill="#3DB54A"/><circle cx="433.4" cy="652.8" r="2.0" fill="#D6922E"/><circle cx="486.1" cy="647.1" r="2.5" fill="#35BFA0"/><circle cx="474.8" cy="651.2" r="2.0" fill="#F37A72"/><circle cx="442.4" cy="649.8" r="1.5" fill="#6B95D6"/><circle cx="456.3" cy="647.5" r="2.5" fill="#3DB54A"/><circle cx="436.6" cy="646.9" r="1.5" fill="#DE6DB8"/><circle cx="483.2" cy="654.9" r="2.5" fill="#90A83C"/><circle cx="456.3" cy="652.9" r="2.0" fill="#90A83C"/><circle cx="456.1" cy="651.8" r="1.5" fill="#90A83C"/><circle cx="484.8" cy="654.9" r="3.5" fill="#6B95D6"/><circle cx="456.1" cy="643.6" r="2.0" fill="#90A83C"/><circle cx="457.4" cy="643.8" r="3.0" fill="#F37A72"/><circle cx="403.7" cy="654.8" r="2.0" fill="#1BBDE6"/><circle cx="445.6" cy="654.9" r="3.5" fill="#DE6DB8"/><circle cx="463" cy="502" r="1.5" fill="#F37A72"/><circle cx="415.7" cy="653.2" r="2.5" fill="#6B95D6"/><circle cx="443.4" cy="652.9" r="2.0" fill="#3DB54A"/><circle cx="407.4" cy="654" r="1.5" fill="#1BBDE6"/><circle cx="459.5" cy="565" r="1.5" fill="#F37A72"/><circle cx="467.1" cy="652.4" r="3.0" fill="#F37A72"/><circle cx="490" cy="653.8" r="3.5" fill="#90A83C"/><circle cx="462" cy="640" r="3" fill="#A07BC8"/><circle cx="452.7" cy="643.5" r="1.5" fill="#6B95D6"/><circle cx="389" cy="652.5" r="1.5" fill="#D6922E"/><circle cx="471.8" cy="653.4" r="3.0" fill="#A07BC8"/><circle cx="456" cy="654.5" r="3.0" fill="#DE6DB8"/><circle cx="460" cy="590" r="1.5" fill="#F37A72"/><circle cx="460" cy="538" r="1.5" fill="#F37A72"/><circle cx="490.4" cy="651.5" r="3.5" fill="#35BFA0"/><circle cx="465.9" cy="623.5" r="3.5" fill="#F37A72"/><circle cx="437.4" cy="651.3" r="3.5" fill="#1BBDE6"/><circle cx="474.2" cy="638.2" r="3.0" fill="#90A83C"/><circle cx="442.8" cy="655.5" r="3.0" fill="#3DB54A"/><circle cx="444.2" cy="648.2" r="1.5" fill="#90A83C"/><circle cx="435" cy="630" r="2.5" fill="#A07BC8"/><circle cx="472.5" cy="650.1" r="1.5" fill="#DE6DB8"/><circle cx="484.7" cy="649.2" r="1.5" fill="#F37A72"/><circle cx="489.2" cy="645" r="3.0" fill="#90A83C"/><circle cx="484.5" cy="649" r="2.5" fill="#A07BC8"/><circle cx="452.6" cy="618.7" r="1.5" fill="#F37A72"/><circle cx="471.3" cy="652.7" r="3.0" fill="#F37A72"/><circle cx="487.2" cy="652.9" r="2.0" fill="#6B95D6"/><circle cx="488.1" cy="655.4" r="3.0" fill="#90A83C"/><circle cx="444.1" cy="648.4" r="2.5" fill="#3DB54A"/><circle cx="485.8" cy="618.1" r="3.0" fill="#F37A72"/><circle cx="463" cy="652.2" r="1.5" fill="#3DB54A"/><circle cx="425.6" cy="655.1" r="3.5" fill="#6B95D6"/><circle cx="403.6" cy="653.6" r="1.5" fill="#1BBDE6"/><circle cx="443.4" cy="655.4" r="2.0" fill="#6B95D6"/><circle cx="490.1" cy="654.7" r="1.5" fill="#3DB54A"/><circle cx="486.9" cy="648.1" r="2.5" fill="#90A83C"/><circle cx="474.7" cy="643.9" r="2.5" fill="#3DB54A"/><circle cx="446.1" cy="649.5" r="3.5" fill="#6B95D6"/><circle cx="394.5" cy="655.4" r="2.0" fill="#D6922E"/><circle cx="463.8" cy="490" r="2" fill="#F37A72"/><circle cx="449.1" cy="648.2" r="2.0" fill="#1BBDE6"/><circle cx="411.2" cy="652.3" r="2.0" fill="#35BFA0"/><circle cx="447.5" cy="653.9" r="2.0" fill="#6B95D6"/><circle cx="421.9" cy="651.9" r="3.0" fill="#1BBDE6"/><circle cx="411.9" cy="654.7" r="2.5" fill="#D6922E"/><circle cx="472.1" cy="613.5" r="3.5" fill="#F37A72"/><circle cx="454.3" cy="615.8" r="2.5" fill="#F37A72"/><circle cx="487.9" cy="649.4" r="3.0" fill="#90A83C"/><circle cx="470.4" cy="651.5" r="2.5" fill="#35BFA0"/><circle cx="469.8" cy="646" r="3.5" fill="#6B95D6"/><circle cx="466.6" cy="649.3" r="1.5" fill="#90A83C"/><circle cx="429.5" cy="654.5" r="2.0" fill="#1BBDE6"/><circle cx="491.2" cy="650.3" r="1.5" fill="#DE6DB8"/><circle cx="426.6" cy="651.7" r="2.5" fill="#1BBDE6"/><circle cx="456.8" cy="649.8" r="2.5" fill="#6B95D6"/><circle cx="468.8" cy="649.2" r="2.0" fill="#A07BC8"/></g><line x1="358.5" y1="638" x2="498" y2="638" stroke="#111" stroke-width="1.4" stroke-dasharray="4.6,2.8"/><text x="513.2" y="460.8" font-size="10.5">Pct. HXT5 Exp</text><circle cx="530.2" cy="470.9" r="1.3" fill="#3a3a44"/><text x="543.6" y="474.4" font-size="10">0.0</text><circle cx="530.2" cy="487.2" r="4.0" fill="#3a3a44"/><text x="543.6" y="490.7" font-size="10">2.5</text><circle cx="530.2" cy="503.1" r="4.9" fill="#3a3a44"/><text x="543.6" y="506.6" font-size="10">5.0</text><circle cx="530.2" cy="519.1" r="5.7" fill="#3a3a44"/><text x="543.6" y="522.6" font-size="10">7.5</text><text x="513.2" y="538.9" font-size="10.45">Subpopulation</text><circle cx="530.3" cy="548.4" r="2.6" fill="#F4A29B"/><text x="543.6" y="551.9" font-size="10">0</text><circle cx="530.3" cy="563.3" r="2.6" fill="#DDB26A"/><text x="543.6" y="566.8" font-size="10">1</text><circle cx="530.3" cy="578.2" r="2.6" fill="#B2C47A"/><text x="543.6" y="581.7" font-size="10">2</text><circle cx="530.3" cy="593.2" r="2.6" fill="#7DCB84"/><text x="543.6" y="596.7" font-size="10">3</text><circle cx="530.3" cy="608.1" r="2.6" fill="#7FD4BE"/><text x="543.6" y="611.6" font-size="10">4</text><circle cx="530.3" cy="623" r="2.6" fill="#72D2EE"/><text x="543.6" y="626.5" font-size="10">5</text><circle cx="530.3" cy="637.9" r="2.6" fill="#9DB7E5"/><text x="543.6" y="641.4" font-size="10">6</text><circle cx="530.3" cy="652.8" r="2.6" fill="#C1A8DD"/><text x="543.6" y="656.3" font-size="10">7</text><circle cx="530.3" cy="667.8" r="2.6" fill="#E8A0D0"/><text x="543.6" y="671.3" font-size="10">8</text><text x="0.2" y="707.8" font-size="12.5" font-weight="bold" stroke="#000" stroke-width="0.35">g</text><line x1="48.4" y1="726.3" x2="48.4" y2="842.7" stroke="#222" stroke-width="1"/><line x1="47.9" y1="842.2" x2="223.8" y2="842.2" stroke="#222" stroke-width="1"/><line x1="46.9" y1="842.2" x2="48.4" y2="842.2" stroke="#000" stroke-width="0.8"/><text x="45" y="844" font-size="9.8" text-anchor="end" fill="#222">0</text><line x1="49" y1="842.2" x2="49" y2="843.8" stroke="#000" stroke-width="0.8"/><text x="49" y="853.5" font-size="9.8" text-anchor="middle" fill="#222">0</text><line x1="46.9" y1="830.7" x2="48.4" y2="830.7" stroke="#000" stroke-width="0.8"/><text x="45" y="832.5" font-size="9.8" text-anchor="end" fill="#222">20</text><line x1="66.5" y1="842.2" x2="66.5" y2="843.8" stroke="#000" stroke-width="0.8"/><text x="66.5" y="853.5" font-size="9.8" text-anchor="middle" fill="#222">20</text><line x1="46.9" y1="819.2" x2="48.4" y2="819.2" stroke="#000" stroke-width="0.8"/><text x="45" y="821" font-size="9.8" text-anchor="end" fill="#222">40</text><line x1="83.9" y1="842.2" x2="83.9" y2="843.8" stroke="#000" stroke-width="0.8"/><text x="83.9" y="853.5" font-size="9.8" text-anchor="middle" fill="#222">40</text><line x1="46.9" y1="807.6" x2="48.4" y2="807.6" stroke="#000" stroke-width="0.8"/><text x="45" y="809.4" font-size="9.8" text-anchor="end" fill="#222">60</text><line x1="101.3" y1="842.2" x2="101.3" y2="843.8" stroke="#000" stroke-width="0.8"/><text x="101.3" y="853.5" font-size="9.8" text-anchor="middle" fill="#222">60</text><line x1="46.9" y1="796.1" x2="48.4" y2="796.1" stroke="#000" stroke-width="0.8"/><text x="45" y="797.9" font-size="9.8" text-anchor="end" fill="#222">80</text><line x1="118.8" y1="842.2" x2="118.8" y2="843.8" stroke="#000" stroke-width="0.8"/><text x="118.8" y="853.5" font-size="9.8" text-anchor="middle" fill="#222">80</text><line x1="46.9" y1="784.6" x2="48.4" y2="784.6" stroke="#000" stroke-width="0.8"/><text x="45" y="786.4" font-size="9.8" text-anchor="end" fill="#222">100</text><line x1="136.2" y1="842.2" x2="136.2" y2="843.8" stroke="#000" stroke-width="0.8"/><text x="136.2" y="853.5" font-size="9.8" text-anchor="middle" fill="#222">100</text><line x1="46.9" y1="773.1" x2="48.4" y2="773.1" stroke="#000" stroke-width="0.8"/><text x="45" y="774.9" font-size="9.8" text-anchor="end" fill="#222">120</text><line x1="153.7" y1="842.2" x2="153.7" y2="843.8" stroke="#000" stroke-width="0.8"/><text x="153.7" y="853.5" font-size="9.8" text-anchor="middle" fill="#222">120</text><line x1="46.9" y1="761.6" x2="48.4" y2="761.6" stroke="#000" stroke-width="0.8"/><text x="45" y="763.4" font-size="9.8" text-anchor="end" fill="#222">140</text><line x1="171.2" y1="842.2" x2="171.2" y2="843.8" stroke="#000" stroke-width="0.8"/><text x="171.2" y="853.5" font-size="9.8" text-anchor="middle" fill="#222">140</text><line x1="46.9" y1="750" x2="48.4" y2="750" stroke="#000" stroke-width="0.8"/><text x="45" y="751.8" font-size="9.8" text-anchor="end" fill="#222">160</text><line x1="188.6" y1="842.2" x2="188.6" y2="843.8" stroke="#000" stroke-width="0.8"/><text x="188.6" y="853.5" font-size="9.8" text-anchor="middle" fill="#222">160</text><line x1="46.9" y1="738.5" x2="48.4" y2="738.5" stroke="#000" stroke-width="0.8"/><text x="45" y="740.3" font-size="9.8" text-anchor="end" fill="#222">180</text><line x1="206.1" y1="842.2" x2="206.1" y2="843.8" stroke="#000" stroke-width="0.8"/><text x="206.1" y="853.5" font-size="9.8" text-anchor="middle" fill="#222">180</text><line x1="46.9" y1="727" x2="48.4" y2="727" stroke="#000" stroke-width="0.8"/><text x="45" y="728.8" font-size="9.8" text-anchor="end" fill="#222">200</text><line x1="223.5" y1="842.2" x2="223.5" y2="843.8" stroke="#000" stroke-width="0.8"/><text x="223.5" y="853.5" font-size="9.8" text-anchor="middle" fill="#222">200</text><text x="125.1" y="866.6" font-size="9.2" text-anchor="middle" textLength="79" lengthAdjust="spacingAndGlyphs">Average expression</text><text x="125.9" y="877.4" font-size="9.2" text-anchor="middle" textLength="119.5" lengthAdjust="spacingAndGlyphs">induced osmoconsensus Rest</text><text x="13.6" y="780.8" font-size="9.7" text-anchor="middle" transform="rotate(-90 13.6 780.8)" textLength="120.2" lengthAdjust="spacingAndGlyphs">Average expression induced</text><text x="25.6" y="780.4" font-size="9.7" text-anchor="middle" transform="rotate(-90 25.6 780.4)" textLength="145" lengthAdjust="spacingAndGlyphs">osmoconsensus Hyper-responsive</text><line x1="49" y1="842.2" x2="223.5" y2="727" stroke="#333" stroke-width="0.7"/><g fill="#9280c6" fill-opacity="0.55" stroke="#7660b4" stroke-opacity="0.55" stroke-width="0.6"><circle cx="140.2" cy="765" r="2.3"/><circle cx="171.7" cy="753.4" r="2.3"/><circle cx="182.9" cy="734.9" r="2.3"/><circle cx="104" cy="806.3" r="2.3"/><circle cx="64.7" cy="817.4" r="2.3"/><circle cx="73.3" cy="825.7" r="2.3"/><circle cx="76" cy="819.2" r="2.3"/><circle cx="80" cy="820.7" r="2.3"/><circle cx="83" cy="823.7" r="2.3"/><circle cx="65.5" cy="834.4" r="2.3"/><circle cx="66" cy="824.7" r="2.3"/><circle cx="71.7" cy="823.2" r="2.3"/><circle cx="74.3" cy="821.5" r="2.3"/><circle cx="63.8" cy="820.3" r="2.3"/><circle cx="66.5" cy="823.2" r="2.3"/><circle cx="54.7" cy="836.6" r="2.3"/><circle cx="53.1" cy="838.2" r="2.3"/><circle cx="53.8" cy="838.8" r="2.3"/><circle cx="51.8" cy="839.4" r="2.3"/><circle cx="61.5" cy="833.7" r="2.3"/><circle cx="49.3" cy="842.2" r="2.3"/><circle cx="61.4" cy="832.8" r="2.3"/><circle cx="50" cy="841.9" r="2.3"/><circle cx="54.3" cy="838.2" r="2.3"/><circle cx="52.9" cy="838.6" r="2.3"/><circle cx="53.3" cy="838.1" r="2.3"/><circle cx="58" cy="834.1" r="2.3"/><circle cx="49.5" cy="841.6" r="2.3"/><circle cx="56.6" cy="835.1" r="2.3"/><circle cx="51.9" cy="839.7" r="2.3"/><circle cx="50.5" cy="841.5" r="2.3"/><circle cx="52.2" cy="839.8" r="2.3"/><circle cx="50.3" cy="841.5" r="2.3"/><circle cx="53.6" cy="839.2" r="2.3"/><circle cx="62.5" cy="831.5" r="2.3"/><circle cx="57.3" cy="835.2" r="2.3"/><circle cx="51.1" cy="841.2" r="2.3"/><circle cx="51.7" cy="839.8" r="2.3"/><circle cx="63.5" cy="829" r="2.3"/><circle cx="52" cy="839.7" r="2.3"/><circle cx="49.6" cy="841.9" r="2.3"/><circle cx="49.1" cy="841.3" r="2.3"/><circle cx="51.5" cy="839.6" r="2.3"/><circle cx="58" cy="833.3" r="2.3"/><circle cx="51.4" cy="841.2" r="2.3"/><circle cx="51.2" cy="840.8" r="2.3"/><circle cx="51.4" cy="840.6" r="2.3"/><circle cx="50" cy="841.5" r="2.3"/><circle cx="50.9" cy="840.6" r="2.3"/><circle cx="52.4" cy="839.5" r="2.3"/><circle cx="52.8" cy="839.1" r="2.3"/><circle cx="52.2" cy="839.4" r="2.3"/><circle cx="57.4" cy="833.7" r="2.3"/><circle cx="52.2" cy="838.5" r="2.3"/><circle cx="50.3" cy="842.2" r="2.3"/><circle cx="62.4" cy="832.2" r="2.3"/><circle cx="51.5" cy="839.7" r="2.3"/><circle cx="65.8" cy="827.5" r="2.3"/><circle cx="51.3" cy="839.7" r="2.3"/><circle cx="50.5" cy="840.7" r="2.3"/><circle cx="54.1" cy="838" r="2.3"/><circle cx="60.4" cy="830.7" r="2.3"/><circle cx="51.9" cy="838.9" r="2.3"/><circle cx="57.8" cy="835" r="2.3"/><circle cx="50.2" cy="841.5" r="2.3"/><circle cx="49.6" cy="841.5" r="2.3"/><circle cx="54.9" cy="836.2" r="2.3"/><circle cx="50.2" cy="840" r="2.3"/><circle cx="54.2" cy="837.6" r="2.3"/><circle cx="54" cy="838" r="2.3"/><circle cx="49.5" cy="841.8" r="2.3"/><circle cx="49.5" cy="841.6" r="2.3"/><circle cx="52.5" cy="839.1" r="2.3"/><circle cx="54.6" cy="837.7" r="2.3"/><circle cx="59.4" cy="833" r="2.3"/><circle cx="50.4" cy="840.9" r="2.3"/><circle cx="49.8" cy="841.1" r="2.3"/><circle cx="49.2" cy="841.9" r="2.3"/><circle cx="50.9" cy="840.8" r="2.3"/><circle cx="53.1" cy="838.1" r="2.3"/><circle cx="59.5" cy="832" r="2.3"/><circle cx="56.2" cy="835.6" r="2.3"/><circle cx="49" cy="842.2" r="2.3"/><circle cx="50.1" cy="841.5" r="2.3"/><circle cx="50.9" cy="840.5" r="2.3"/><circle cx="52.5" cy="839.6" r="2.3"/><circle cx="52" cy="839.8" r="2.3"/><circle cx="52.2" cy="839.1" r="2.3"/><circle cx="53" cy="838.9" r="2.3"/><circle cx="59.4" cy="833.6" r="2.3"/><circle cx="50.3" cy="840.6" r="2.3"/><circle cx="51.6" cy="840.9" r="2.3"/><circle cx="49.6" cy="841.7" r="2.3"/><circle cx="58.2" cy="834.4" r="2.3"/><circle cx="49.5" cy="842.2" r="2.3"/><circle cx="52.3" cy="839.2" r="2.3"/><circle cx="52.6" cy="839.6" r="2.3"/><circle cx="51" cy="839.8" r="2.3"/><circle cx="51.6" cy="840" r="2.3"/><circle cx="57.4" cy="835.3" r="2.3"/><circle cx="60.8" cy="831.5" r="2.3"/><circle cx="53" cy="839.2" r="2.3"/><circle cx="52" cy="839.4" r="2.3"/><circle cx="53.1" cy="838.8" r="2.3"/><circle cx="55.2" cy="836.8" r="2.3"/><circle cx="49.5" cy="842.2" r="2.3"/><circle cx="56.2" cy="836.3" r="2.3"/><circle cx="54.9" cy="836.6" r="2.3"/><circle cx="52.5" cy="838.9" r="2.3"/><circle cx="54.3" cy="837.8" r="2.3"/><circle cx="53" cy="839.7" r="2.3"/><circle cx="58.1" cy="836.4" r="2.3"/><circle cx="54.5" cy="837.1" r="2.3"/><circle cx="53" cy="839" r="2.3"/><circle cx="52.5" cy="840" r="2.3"/><circle cx="58.9" cy="835.1" r="2.3"/><circle cx="49.3" cy="841.8" r="2.3"/><circle cx="63.9" cy="830.2" r="2.3"/><circle cx="50" cy="841.5" r="2.3"/><circle cx="50.3" cy="841.2" r="2.3"/><circle cx="54.1" cy="838.8" r="2.3"/><circle cx="52.7" cy="839.6" r="2.3"/><circle cx="49.6" cy="841.7" r="2.3"/><circle cx="60.7" cy="833.2" r="2.3"/><circle cx="56.5" cy="836.2" r="2.3"/><circle cx="53.5" cy="837.9" r="2.3"/><circle cx="51.5" cy="840.5" r="2.3"/><circle cx="53.7" cy="838" r="2.3"/><circle cx="49.8" cy="841.5" r="2.3"/><circle cx="51.9" cy="840.4" r="2.3"/><circle cx="54.1" cy="838.2" r="2.3"/><circle cx="56.8" cy="836.6" r="2.3"/><circle cx="49.9" cy="841.4" r="2.3"/><circle cx="56.3" cy="835.5" r="2.3"/><circle cx="60.9" cy="833.1" r="2.3"/><circle cx="57.4" cy="835.3" r="2.3"/><circle cx="51.3" cy="840.5" r="2.3"/><circle cx="50" cy="840.8" r="2.3"/><circle cx="55.7" cy="835.7" r="2.3"/><circle cx="55.9" cy="835" r="2.3"/><circle cx="56" cy="837.6" r="2.3"/><circle cx="52.5" cy="838.6" r="2.3"/><circle cx="51" cy="841.3" r="2.3"/><circle cx="52.4" cy="839.6" r="2.3"/><circle cx="62" cy="829.5" r="2.3"/><circle cx="52.5" cy="838.8" r="2.3"/><circle cx="61.8" cy="832.2" r="2.3"/><circle cx="53.2" cy="838" r="2.3"/><circle cx="54" cy="837.5" r="2.3"/><circle cx="58.2" cy="835.7" r="2.3"/><circle cx="57.9" cy="835" r="2.3"/><circle cx="49.8" cy="841.2" r="2.3"/><circle cx="53" cy="838.9" r="2.3"/><circle cx="56.3" cy="835.3" r="2.3"/><circle cx="56.3" cy="836.2" r="2.3"/><circle cx="58.3" cy="833.1" r="2.3"/><circle cx="49.6" cy="842" r="2.3"/><circle cx="52.6" cy="839.7" r="2.3"/><circle cx="52.5" cy="838.7" r="2.3"/><circle cx="50.5" cy="841.7" r="2.3"/><circle cx="59.6" cy="834.5" r="2.3"/><circle cx="54.5" cy="837.7" r="2.3"/><circle cx="50" cy="841.5" r="2.3"/><circle cx="55.9" cy="835.8" r="2.3"/><circle cx="49.3" cy="841.3" r="2.3"/><circle cx="49.4" cy="841.7" r="2.3"/><circle cx="53" cy="840.1" r="2.3"/><circle cx="50" cy="841.2" r="2.3"/><circle cx="52.5" cy="838.2" r="2.3"/><circle cx="50.4" cy="841.2" r="2.3"/><circle cx="50.4" cy="840.8" r="2.3"/><circle cx="55" cy="836.3" r="2.3"/><circle cx="59.3" cy="833.5" r="2.3"/><circle cx="50.5" cy="840.7" r="2.3"/><circle cx="49.3" cy="841.9" r="2.3"/><circle cx="54.7" cy="837" r="2.3"/><circle cx="58.2" cy="833.2" r="2.3"/><circle cx="55.4" cy="836.5" r="2.3"/><circle cx="49.6" cy="842.2" r="2.3"/><circle cx="51" cy="840.6" r="2.3"/><circle cx="52.7" cy="838.6" r="2.3"/><circle cx="49.9" cy="841.5" r="2.3"/><circle cx="49.6" cy="842.2" r="2.3"/><circle cx="49.7" cy="841.6" r="2.3"/><circle cx="53.1" cy="837.6" r="2.3"/><circle cx="59.6" cy="834.7" r="2.3"/><circle cx="52.9" cy="839.5" r="2.3"/><circle cx="52.2" cy="840" r="2.3"/><circle cx="60.1" cy="833.8" r="2.3"/><circle cx="56.9" cy="836.7" r="2.3"/><circle cx="53.1" cy="838.2" r="2.3"/><circle cx="58.1" cy="834" r="2.3"/><circle cx="56" cy="836.7" r="2.3"/><circle cx="53.7" cy="836.6" r="2.3"/><circle cx="56.9" cy="836.5" r="2.3"/><circle cx="51.1" cy="840" r="2.3"/><circle cx="51.3" cy="840.1" r="2.3"/><circle cx="54.6" cy="836.8" r="2.3"/><circle cx="53.8" cy="840.2" r="2.3"/><circle cx="52.8" cy="838.1" r="2.3"/><circle cx="51" cy="838.6" r="2.3"/><circle cx="54.1" cy="837.2" r="2.3"/><circle cx="53.6" cy="837.7" r="2.3"/><circle cx="54.6" cy="838.6" r="2.3"/><circle cx="50.6" cy="840.7" r="2.3"/><circle cx="49.1" cy="842.2" r="2.3"/><circle cx="53.5" cy="839.2" r="2.3"/><circle cx="55" cy="837" r="2.3"/><circle cx="50.5" cy="840.7" r="2.3"/><circle cx="54.1" cy="838.2" r="2.3"/><circle cx="52.5" cy="838" r="2.3"/><circle cx="54" cy="836.7" r="2.3"/><circle cx="51.5" cy="840.7" r="2.3"/><circle cx="51.9" cy="839.5" r="2.3"/><circle cx="54.8" cy="837.4" r="2.3"/><circle cx="52.3" cy="839.5" r="2.3"/><circle cx="50" cy="842" r="2.3"/><circle cx="51.3" cy="839.5" r="2.3"/><circle cx="49.6" cy="841.7" r="2.3"/><circle cx="53.3" cy="838.5" r="2.3"/><circle cx="61.7" cy="831.7" r="2.3"/><circle cx="61.9" cy="831.7" r="2.3"/><circle cx="52.3" cy="839.8" r="2.3"/><circle cx="54.3" cy="838.4" r="2.3"/><circle cx="52.4" cy="839.4" r="2.3"/><circle cx="60.8" cy="830" r="2.3"/><circle cx="62.3" cy="830.3" r="2.3"/><circle cx="53.3" cy="839.1" r="2.3"/><circle cx="50.6" cy="841" r="2.3"/><circle cx="49.8" cy="842.1" r="2.3"/><circle cx="50" cy="841.9" r="2.3"/><circle cx="57.5" cy="834" r="2.3"/><circle cx="51.3" cy="839.9" r="2.3"/><circle cx="51.9" cy="841.1" r="2.3"/><circle cx="50.3" cy="840.6" r="2.3"/><circle cx="51.7" cy="839.9" r="2.3"/><circle cx="49.6" cy="842.2" r="2.3"/><circle cx="54.4" cy="839.5" r="2.3"/><circle cx="55.4" cy="838.3" r="2.3"/><circle cx="53.6" cy="837.4" r="2.3"/><circle cx="52.5" cy="839.9" r="2.3"/><circle cx="55.1" cy="836" r="2.3"/><circle cx="55.5" cy="837.6" r="2.3"/><circle cx="52.8" cy="839.1" r="2.3"/><circle cx="49.4" cy="842.1" r="2.3"/><circle cx="54.5" cy="837.3" r="2.3"/><circle cx="59.3" cy="832.9" r="2.3"/><circle cx="54.6" cy="839.2" r="2.3"/><circle cx="58.2" cy="835.6" r="2.3"/><circle cx="52.4" cy="839.4" r="2.3"/><circle cx="57.3" cy="834.8" r="2.3"/><circle cx="49.1" cy="842.2" r="2.3"/><circle cx="52.6" cy="838.7" r="2.3"/><circle cx="49.6" cy="842" r="2.3"/><circle cx="53.5" cy="838.4" r="2.3"/><circle cx="55.8" cy="835.4" r="2.3"/><circle cx="57.4" cy="835.6" r="2.3"/><circle cx="52.9" cy="837.5" r="2.3"/><circle cx="59.7" cy="834.3" r="2.3"/><circle cx="56.2" cy="837.2" r="2.3"/><circle cx="54.8" cy="837.3" r="2.3"/><circle cx="54.2" cy="838.1" r="2.3"/><circle cx="52.8" cy="837.9" r="2.3"/><circle cx="51.4" cy="839.9" r="2.3"/><circle cx="58.2" cy="832.9" r="2.3"/><circle cx="51.9" cy="840.6" r="2.3"/><circle cx="50.2" cy="841" r="2.3"/><circle cx="51.7" cy="840.3" r="2.3"/><circle cx="52.1" cy="838.4" r="2.3"/><circle cx="54.5" cy="837.1" r="2.3"/><circle cx="53.9" cy="838.9" r="2.3"/><circle cx="56.2" cy="837.4" r="2.3"/><circle cx="52.3" cy="838.9" r="2.3"/><circle cx="56.1" cy="837.2" r="2.3"/><circle cx="62.3" cy="831.5" r="2.3"/><circle cx="50.9" cy="841.5" r="2.3"/><circle cx="49.7" cy="841.2" r="2.3"/><circle cx="52.5" cy="838.2" r="2.3"/><circle cx="49.5" cy="841.4" r="2.3"/><circle cx="53.6" cy="837.1" r="2.3"/><circle cx="54.7" cy="838.4" r="2.3"/><circle cx="56" cy="837" r="2.3"/><circle cx="49.7" cy="840.9" r="2.3"/><circle cx="51.6" cy="839" r="2.3"/><circle cx="49.6" cy="841.7" r="2.3"/><circle cx="51.2" cy="839.6" r="2.3"/><circle cx="54.5" cy="836.9" r="2.3"/><circle cx="55.8" cy="836.4" r="2.3"/><circle cx="61" cy="831.6" r="2.3"/><circle cx="50.9" cy="840.3" r="2.3"/><circle cx="52.8" cy="838.8" r="2.3"/><circle cx="50.8" cy="840.1" r="2.3"/><circle cx="59.3" cy="832.7" r="2.3"/><circle cx="51.4" cy="841.2" r="2.3"/><circle cx="54.3" cy="837.2" r="2.3"/><circle cx="53.5" cy="838.7" r="2.3"/><circle cx="50.7" cy="840.8" r="2.3"/><circle cx="51.2" cy="839" r="2.3"/><circle cx="54.1" cy="837.7" r="2.3"/><circle cx="49.9" cy="842.1" r="2.3"/><circle cx="51.6" cy="838.8" r="2.3"/><circle cx="58.5" cy="832.9" r="2.3"/><circle cx="51.4" cy="841" r="2.3"/><circle cx="51.4" cy="840.2" r="2.3"/><circle cx="49.8" cy="841" r="2.3"/><circle cx="54.8" cy="838" r="2.3"/><circle cx="54.8" cy="838.4" r="2.3"/><circle cx="56.2" cy="834.9" r="2.3"/><circle cx="61.6" cy="833.6" r="2.3"/><circle cx="51.6" cy="839.9" r="2.3"/><circle cx="50.7" cy="840.8" r="2.3"/><circle cx="57.1" cy="834.6" r="2.3"/><circle cx="57.7" cy="833.6" r="2.3"/><circle cx="55.6" cy="836" r="2.3"/><circle cx="52.4" cy="839" r="2.3"/></g><text x="236" y="707" font-size="12.5" font-weight="bold" stroke="#000" stroke-width="0.35">h</text><line x1="284.4" y1="725.6" x2="284.4" y2="842.5" stroke="#222" stroke-width="1"/><line x1="283.9" y1="842" x2="459.8" y2="842" stroke="#222" stroke-width="1"/><line x1="283" y1="842" x2="284.4" y2="842" stroke="#000" stroke-width="0.8"/><text x="282.5" y="844.5" font-size="9.8" text-anchor="end" fill="#222">0</text><line x1="285" y1="842" x2="285" y2="843.6" stroke="#000" stroke-width="0.8"/><text x="285" y="853.6" font-size="9.8" text-anchor="middle" fill="#222">0</text><line x1="283" y1="818.8" x2="284.4" y2="818.8" stroke="#000" stroke-width="0.8"/><text x="282.5" y="821.3" font-size="9.8" text-anchor="end" fill="#222">20</text><line x1="319.9" y1="842" x2="319.9" y2="843.6" stroke="#000" stroke-width="0.8"/><text x="319.9" y="853.6" font-size="9.8" text-anchor="middle" fill="#222">20</text><line x1="283" y1="795.6" x2="284.4" y2="795.6" stroke="#000" stroke-width="0.8"/><text x="282.5" y="798.1" font-size="9.8" text-anchor="end" fill="#222">40</text><line x1="354.8" y1="842" x2="354.8" y2="843.6" stroke="#000" stroke-width="0.8"/><text x="354.8" y="853.6" font-size="9.8" text-anchor="middle" fill="#222">40</text><line x1="283" y1="772.5" x2="284.4" y2="772.5" stroke="#000" stroke-width="0.8"/><text x="282.5" y="775" font-size="9.8" text-anchor="end" fill="#222">60</text><line x1="389.7" y1="842" x2="389.7" y2="843.6" stroke="#000" stroke-width="0.8"/><text x="389.7" y="853.6" font-size="9.8" text-anchor="middle" fill="#222">60</text><line x1="283" y1="749.3" x2="284.4" y2="749.3" stroke="#000" stroke-width="0.8"/><text x="282.5" y="751.8" font-size="9.8" text-anchor="end" fill="#222">80</text><line x1="424.6" y1="842" x2="424.6" y2="843.6" stroke="#000" stroke-width="0.8"/><text x="424.6" y="853.6" font-size="9.8" text-anchor="middle" fill="#222">80</text><line x1="283" y1="726.1" x2="284.4" y2="726.1" stroke="#000" stroke-width="0.8"/><text x="282.5" y="728.6" font-size="9.8" text-anchor="end" fill="#222">100</text><line x1="459.5" y1="842" x2="459.5" y2="843.6" stroke="#000" stroke-width="0.8"/><text x="459.5" y="853.6" font-size="9.8" text-anchor="middle" fill="#222">100</text><text x="370.6" y="866.2" font-size="9.2" text-anchor="middle" textLength="121.5" lengthAdjust="spacingAndGlyphs">Percentage of expressing cells</text><text x="366.5" y="877.4" font-size="9.2" text-anchor="middle" textLength="112" lengthAdjust="spacingAndGlyphs">induced osmoconsensus Rest</text><text x="255.3" y="780.9" font-size="10.4" text-anchor="middle" transform="rotate(-90 255.3 780.9)" textLength="117.8" lengthAdjust="spacingAndGlyphs">Percentage of expressing</text><text x="268" y="781.6" font-size="10.4" text-anchor="middle" transform="rotate(-90 268 781.6)" textLength="106.2" lengthAdjust="spacingAndGlyphs">cells Hyper-responsive</text><line x1="285" y1="842" x2="459.5" y2="726.1" stroke="#333" stroke-width="0.7"/><g fill="#9280c6" fill-opacity="0.55" stroke="#7660b4" stroke-opacity="0.55" stroke-width="0.6"><circle cx="435.3" cy="728.6" r="2.4"/><circle cx="439.3" cy="727.6" r="2.4"/><circle cx="442" cy="729.5" r="2.4"/><circle cx="444.7" cy="726.8" r="2.4"/><circle cx="447.4" cy="728.1" r="2.4"/><circle cx="450.1" cy="725.9" r="2.4"/><circle cx="452.8" cy="727.6" r="2.4"/><circle cx="455.5" cy="725.4" r="2.4"/><circle cx="458.2" cy="725.9" r="2.4"/><circle cx="443.4" cy="732.2" r="2.4"/><circle cx="446.1" cy="730.8" r="2.4"/><circle cx="448.8" cy="732.2" r="2.4"/><circle cx="440.7" cy="734.9" r="2.4"/><circle cx="436.6" cy="736.2" r="2.4"/><circle cx="433.9" cy="738.9" r="2.4"/><circle cx="431.2" cy="737.6" r="2.4"/><circle cx="427.2" cy="736.2" r="2.4"/><circle cx="424.5" cy="738.9" r="2.4"/><circle cx="421.8" cy="740.3" r="2.4"/><circle cx="420.4" cy="734.9" r="2.4"/><circle cx="417.7" cy="733.5" r="2.4"/><circle cx="411" cy="732.2" r="2.4"/><circle cx="412.3" cy="740.3" r="2.4"/><circle cx="413.7" cy="743" r="2.4"/><circle cx="411.8" cy="749.7" r="2.4"/><circle cx="412.3" cy="752.4" r="2.4"/><circle cx="415" cy="755.1" r="2.4"/><circle cx="420.4" cy="756.5" r="2.4"/><circle cx="417.7" cy="747" r="2.4"/><circle cx="406.9" cy="747" r="2.4"/><circle cx="402.9" cy="747" r="2.4"/><circle cx="404.2" cy="749.7" r="2.4"/><circle cx="400.2" cy="748.4" r="2.4"/><circle cx="406.9" cy="759.2" r="2.4"/><circle cx="413.1" cy="769.4" r="2.4"/><circle cx="396.1" cy="760.5" r="2.4"/><circle cx="393.4" cy="756.5" r="2.4"/><circle cx="392.1" cy="757.8" r="2.4"/><circle cx="389.4" cy="759.2" r="2.4"/><circle cx="388" cy="763.2" r="2.4"/><circle cx="386.7" cy="760.5" r="2.4"/><circle cx="384" cy="756.5" r="2.4"/><circle cx="382.6" cy="763.2" r="2.4"/><circle cx="382.1" cy="767.3" r="2.4"/><circle cx="378.6" cy="751.1" r="2.4"/><circle cx="374.5" cy="755.1" r="2.4"/><circle cx="371.8" cy="754.6" r="2.4"/><circle cx="370.5" cy="757.8" r="2.4"/><circle cx="367.8" cy="744.8" r="2.4"/><circle cx="366.4" cy="757.8" r="2.4"/><circle cx="369.1" cy="763.2" r="2.4"/><circle cx="366.4" cy="765.9" r="2.4"/><circle cx="363.7" cy="768.6" r="2.4"/><circle cx="365.1" cy="771.3" r="2.4"/><circle cx="369.1" cy="775.4" r="2.4"/><circle cx="373.2" cy="772.7" r="2.4"/><circle cx="375.9" cy="767.3" r="2.4"/><circle cx="378.6" cy="771.3" r="2.4"/><circle cx="387.5" cy="771.3" r="2.4"/><circle cx="388" cy="778.1" r="2.4"/><circle cx="394.8" cy="776.2" r="2.4"/><circle cx="392.1" cy="767.3" r="2.4"/><circle cx="393.4" cy="765.9" r="2.4"/><circle cx="362.4" cy="774" r="2.4"/><circle cx="361" cy="780.8" r="2.4"/><circle cx="358.3" cy="776.7" r="2.4"/><circle cx="355.6" cy="775.4" r="2.4"/><circle cx="352.9" cy="768.6" r="2.4"/><circle cx="354.3" cy="778.1" r="2.4"/><circle cx="351.6" cy="771.3" r="2.4"/><circle cx="348.9" cy="772.7" r="2.4"/><circle cx="347.5" cy="776.7" r="2.4"/><circle cx="346.2" cy="774" r="2.4"/><circle cx="343.5" cy="770" r="2.4"/><circle cx="342.1" cy="783.5" r="2.4"/><circle cx="340.8" cy="787.5" r="2.4"/><circle cx="338.1" cy="775.4" r="2.4"/><circle cx="336.7" cy="782.1" r="2.4"/><circle cx="338.1" cy="784.8" r="2.4"/><circle cx="340.8" cy="792.9" r="2.4"/><circle cx="341.6" cy="790.8" r="2.4"/><circle cx="344.8" cy="792.9" r="2.4"/><circle cx="343.5" cy="798.3" r="2.4"/><circle cx="346.2" cy="802.4" r="2.4"/><circle cx="348.9" cy="784.8" r="2.4"/><circle cx="351.6" cy="783.5" r="2.4"/><circle cx="352.9" cy="788.9" r="2.4"/><circle cx="355.6" cy="790.2" r="2.4"/><circle cx="354.3" cy="798.3" r="2.4"/><circle cx="350.2" cy="802.4" r="2.4"/><circle cx="374.5" cy="795.6" r="2.4"/><circle cx="376.7" cy="790.8" r="2.4"/><circle cx="336.7" cy="801" r="2.4"/><circle cx="338.1" cy="788.9" r="2.4"/><circle cx="334" cy="790.2" r="2.4"/><circle cx="331.3" cy="797" r="2.4"/><circle cx="329.4" cy="803.7" r="2.4"/><circle cx="328.1" cy="806.4" r="2.4"/><circle cx="326.4" cy="779.4" r="2.4"/><circle cx="323.2" cy="787" r="2.4"/><circle cx="323.2" cy="794.3" r="2.4"/><circle cx="324.6" cy="797" r="2.4"/><circle cx="321.9" cy="803.7" r="2.4"/><circle cx="320.5" cy="806.4" r="2.4"/><circle cx="317.8" cy="806.4" r="2.4"/><circle cx="316.5" cy="798.3" r="2.4"/><circle cx="312.4" cy="807" r="2.4"/><circle cx="313.8" cy="809.1" r="2.4"/><circle cx="309.7" cy="805.9" r="2.4"/><circle cx="308.4" cy="811.8" r="2.4"/><circle cx="311.1" cy="813.2" r="2.4"/><circle cx="307" cy="815.9" r="2.4"/><circle cx="304.3" cy="814.5" r="2.4"/><circle cx="301.6" cy="815.9" r="2.4"/><circle cx="300.3" cy="818.6" r="2.4"/><circle cx="298.9" cy="821.3" r="2.4"/><circle cx="296.2" cy="822.6" r="2.4"/><circle cx="294.9" cy="819.9" r="2.4"/><circle cx="293.5" cy="825.3" r="2.4"/><circle cx="292.2" cy="829.4" r="2.4"/><circle cx="290.8" cy="830.7" r="2.4"/><circle cx="289.5" cy="833.4" r="2.4"/><circle cx="286.8" cy="834.8" r="2.4"/><circle cx="285.4" cy="837.5" r="2.4"/><circle cx="284.1" cy="838.8" r="2.4"/><circle cx="320.5" cy="815.9" r="2.4"/><circle cx="323.2" cy="811.8" r="2.4"/><circle cx="325.9" cy="809.1" r="2.4"/><circle cx="327.3" cy="813.2" r="2.4"/><circle cx="330" cy="814.5" r="2.4"/><circle cx="317.8" cy="824" r="2.4"/><circle cx="315.1" cy="819.9" r="2.4"/><circle cx="312.4" cy="822.6" r="2.4"/><circle cx="307" cy="825.3" r="2.4"/><circle cx="305.7" cy="828" r="2.4"/><circle cx="303" cy="830.7" r="2.4"/><circle cx="300.3" cy="828" r="2.4"/><circle cx="297.6" cy="830.7" r="2.4"/><circle cx="294.9" cy="833.4" r="2.4"/><circle cx="293.5" cy="836.1" r="2.4"/><circle cx="292.2" cy="838.8" r="2.4"/><circle cx="288.1" cy="838.8" r="2.4"/><circle cx="286.8" cy="840.2" r="2.4"/><circle cx="309.7" cy="819.9" r="2.4"/><circle cx="315.1" cy="814.5" r="2.4"/><circle cx="319.2" cy="811.8" r="2.4"/><circle cx="324.6" cy="806.4" r="2.4"/><circle cx="330.8" cy="811.8" r="2.4"/><circle cx="320.5" cy="824" r="2.4"/><circle cx="296.2" cy="826.7" r="2.4"/><circle cx="298.9" cy="833.4" r="2.4"/><circle cx="290.8" cy="836.1" r="2.4"/><circle cx="285.4" cy="840.2" r="2.4"/><circle cx="284.1" cy="841.5" r="2.4"/><circle cx="282.7" cy="840.2" r="2.4"/><circle cx="288.1" cy="836.1" r="2.4"/><circle cx="289.5" cy="837.5" r="2.4"/><circle cx="438" cy="730.8" r="2.4"/><circle cx="441.5" cy="725.9" r="2.4"/><circle cx="445.3" cy="728.6" r="2.4"/><circle cx="448" cy="725.4" r="2.4"/><circle cx="454.2" cy="726.8" r="2.4"/><circle cx="456.9" cy="727.6" r="2.4"/><circle cx="450.7" cy="729.5" r="2.4"/><circle cx="431.2" cy="740.3" r="2.4"/><circle cx="428" cy="738.4" r="2.4"/><circle cx="416.4" cy="741.6" r="2.4"/><circle cx="409.6" cy="730.8" r="2.4"/><circle cx="329.4" cy="809.7" r="2.4"/><circle cx="334" cy="809.1" r="2.4"/><circle cx="304.8" cy="822.6" r="2.4"/><circle cx="303.8" cy="826.7" r="2.4"/><circle cx="298.4" cy="825.3" r="2.4"/><circle cx="282.2" cy="841.5" r="2.4"/><circle cx="283.2" cy="838.3" r="2.4"/><circle cx="281.4" cy="842.1" r="2.4"/></g><text x="471.5" y="707" font-size="12.5" font-weight="bold" stroke="#000" stroke-width="0.35">i</text><line x1="516" y1="841.8" x2="517.6" y2="841.8" stroke="#444" stroke-width="0.8"/><text x="514.4" y="845" font-size="9.2" text-anchor="end" fill="#555">0</text><line x1="516" y1="813" x2="517.6" y2="813" stroke="#444" stroke-width="0.8"/><text x="514.4" y="816.2" font-size="9.2" text-anchor="end" fill="#555">25</text><line x1="516" y1="784.2" x2="517.6" y2="784.2" stroke="#444" stroke-width="0.8"/><text x="514.4" y="787.4" font-size="9.2" text-anchor="end" fill="#555">50</text><line x1="516" y1="755.4" x2="517.6" y2="755.4" stroke="#444" stroke-width="0.8"/><text x="514.4" y="758.6" font-size="9.2" text-anchor="end" fill="#555">75</text><line x1="516" y1="726.6" x2="517.6" y2="726.6" stroke="#444" stroke-width="0.8"/><text x="514.4" y="729.8" font-size="9.2" text-anchor="end" fill="#555">100</text><rect x="532.3" y="726.6" width="18.7" height="67.4" fill="#d3d3d3" stroke="#111" stroke-width="0.9"/><rect x="532.3" y="794" width="18.7" height="47.8" fill="#f07474" stroke="#111" stroke-width="0.9"/><rect x="578.9" y="726.6" width="19.1" height="27.1" fill="#d3d3d3" stroke="#111" stroke-width="0.9"/><rect x="578.9" y="753.7" width="19.1" height="88.1" fill="#f07474" stroke="#111" stroke-width="0.9"/><line x1="541.6" y1="794" x2="541.6" y2="793.2" stroke="#555" stroke-width="0.7"/><line x1="539.5" y1="793.2" x2="543.7" y2="793.2" stroke="#555" stroke-width="0.7"/><line x1="588.4" y1="753.7" x2="588.4" y2="747.3" stroke="#555" stroke-width="0.8"/><line x1="586" y1="747.3" x2="590.8" y2="747.3" stroke="#555" stroke-width="0.8"/><text x="588.4" y="763.3" font-size="9" text-anchor="middle" font-weight="bold">***</text><line x1="517.6" y1="726" x2="517.6" y2="842.3" stroke="#333" stroke-width="1"/><line x1="517.1" y1="841.8" x2="611.8" y2="841.8" stroke="#333" stroke-width="1"/><text x="541.5" y="852.3" font-size="9.2" text-anchor="middle">0h</text><text x="541.5" y="863.8" font-size="9.2" text-anchor="middle">YPD</text><text x="588.6" y="852.3" font-size="9.2" text-anchor="middle">48h</text><text x="588.6" y="863.8" font-size="9.2" text-anchor="middle" textLength="43.5" lengthAdjust="spacingAndGlyphs">0.8M NaCl</text><text x="569.3" y="877.6" font-size="9.2" text-anchor="middle" textLength="50.9" lengthAdjust="spacingAndGlyphs">Time (hours)</text><text x="485.4" y="782" font-size="9.8" text-anchor="middle" transform="rotate(-90 485.4 782)" textLength="96" lengthAdjust="spacingAndGlyphs">Percentage of WT or</text><text x="499.6" y="781" font-size="9.8" text-anchor="middle" transform="rotate(-90 499.6 781)" textLength="86.5" lengthAdjust="spacingAndGlyphs"><tspan font-style="italic">pHXT5</tspan> top2% cells</text><rect x="613.4" y="780.5" width="7.2" height="6.8" fill="#d3d3d3" stroke="#111" stroke-width="0.9"/><text x="625.8" y="786.9" font-size="9" textLength="40.2" lengthAdjust="spacingAndGlyphs">WT (GFP)</text><rect x="613.4" y="794.7" width="7.2" height="6.8" fill="#f07474" stroke="#111" stroke-width="0.9"/><text x="625.8" y="801" font-size="9"><tspan font-style="italic">HXT5</tspan> mCherry</text><text x="625.8" y="811.5" font-size="9" textLength="35.3" lengthAdjust="spacingAndGlyphs">(Top 2%)</text>
</svg></body></html>
